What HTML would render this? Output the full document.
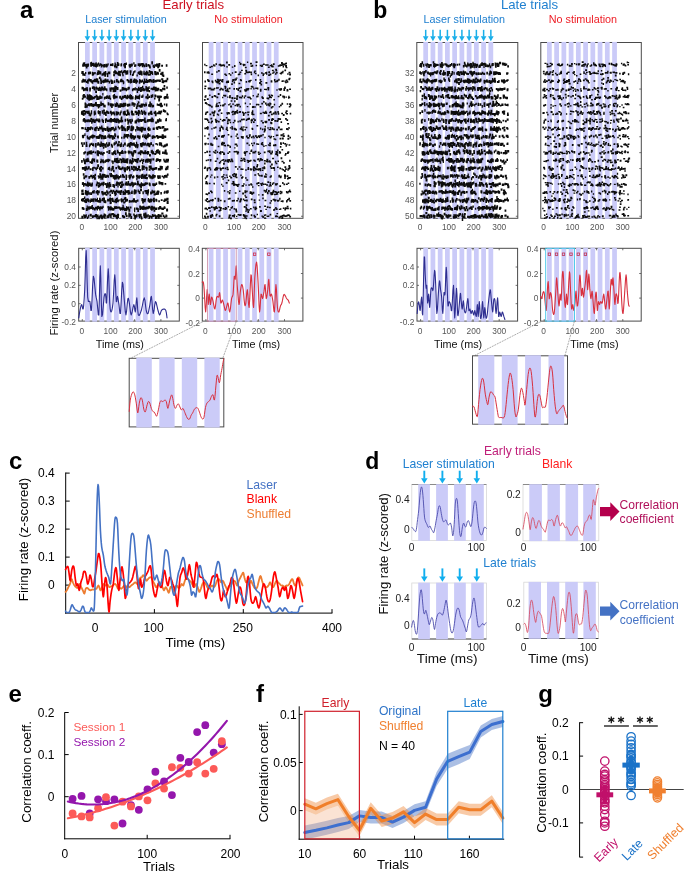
<!DOCTYPE html>
<html><head><meta charset="utf-8"><style>
html,body{margin:0;padding:0;background:#fff;width:685px;height:874px;overflow:hidden}
svg{display:block}
text{font-family:"Liberation Sans",sans-serif}
</style></head><body>
<svg style="will-change:transform" width="685" height="874" viewBox="0 0 685 874">
<rect width="685" height="874" fill="#fff"/>
<g font-family='"Liberation Sans", sans-serif'>
<text x="20" y="17.6" font-size="24" fill="#000" text-anchor="start" font-weight="bold">a</text>
<rect x="78.5" y="42.5" width="101" height="175.8" fill="none" stroke="#4a4a4a" stroke-width="1"/>
<rect x="85" y="41.9" width="4.75" height="177" fill="#cbcbf8"/>
<rect x="92.24" y="41.9" width="4.75" height="177" fill="#cbcbf8"/>
<rect x="99.48" y="41.9" width="4.75" height="177" fill="#cbcbf8"/>
<rect x="106.72" y="41.9" width="4.75" height="177" fill="#cbcbf8"/>
<rect x="113.96" y="41.9" width="4.75" height="177" fill="#cbcbf8"/>
<rect x="121.2" y="41.9" width="4.75" height="177" fill="#cbcbf8"/>
<rect x="128.44" y="41.9" width="4.75" height="177" fill="#cbcbf8"/>
<rect x="135.68" y="41.9" width="4.75" height="177" fill="#cbcbf8"/>
<rect x="142.92" y="41.9" width="4.75" height="177" fill="#cbcbf8"/>
<rect x="150.16" y="41.9" width="4.75" height="177" fill="#cbcbf8"/>
<path d="M116.84 62.09h1.64v2.66h-1.64zM124.19 65.32h1.82v2.93h-1.82zM82.99 64.43h1.7v2.14h-1.7zM91.56 63.02h1.83v2.89h-1.83zM147.69 63.93h1.23v2.36h-1.23zM85.99 63.64h2v2.14h-2zM90.26 62.73h1.49v2.06h-1.49zM149.13 66.23h1.71v2.16h-1.71zM125.65 62.45h1.26v2.61h-1.26zM107.46 63.32h1.23v2.12h-1.23zM117.71 63.21h1.71v2.32h-1.71zM128.6 64.33h1.48v2.13h-1.48zM100.73 64.66h1.52v2.91h-1.52zM90.85 61.78h1.27v2.56h-1.27zM137.6 63.26h1.93v2.7h-1.93zM129.14 65.18h1.85v2.68h-1.85zM117.78 64.06h1.57v2.05h-1.57zM139.67 63.31h1.77v2.8h-1.77zM120.42 63.71h1.41v2.79h-1.41zM151.48 62.08h1.31v2.39h-1.31zM95.63 64.98h1.43v2.61h-1.43zM120.75 63.16h1.39v2.62h-1.39zM115.71 65.89h1.79v2.29h-1.79zM106.33 64.31h1.53v2.55h-1.53zM123.48 64.61h1.61v2.26h-1.61zM97.85 62.54h1.28v2.32h-1.28zM138.62 63.37h1.22v2.15h-1.22zM143.31 64.5h1.83v2.64h-1.83zM90.19 64.37h1.8v2.3h-1.8zM114.52 63.66h1.47v2.75h-1.47zM100.86 63.64h1.32v2.88h-1.32zM86.9 64.5h1.8v2.56h-1.8zM145.37 63.15h1.56v2.57h-1.56zM111.85 63.23h1.64v2.81h-1.64zM91.55 62.88h1.84v2.5h-1.84zM129.36 63.81h1.29v2.88h-1.29zM95.47 62.33h1.27v2.62h-1.27zM145.76 64.25h1.54v2.85h-1.54zM96.54 64.29h1.69v2.41h-1.69zM83.3 64.39h1.6v2.13h-1.6zM95.37 64.28h1.89v2.17h-1.89zM105.79 63.84h1.25v2.46h-1.25zM114.65 64.5h1.24v2.99h-1.24zM146.1 64.36h1.3v2.42h-1.3zM131.08 63.41h1.77v2.54h-1.77zM105.33 63.64h1.4v2.87h-1.4zM82.14 64.19h1.55v2.41h-1.55zM92.42 62.69h1.98v2.08h-1.98zM152.59 64.77h1.49v2.51h-1.49zM113.99 65.18h1.24v2.22h-1.24zM130.63 64.04h1.79v2.61h-1.79zM84.86 64.28h1.24v2.45h-1.24zM83.37 62.26h1.91v2.93h-1.91zM141.77 63.66h1.8v2.37h-1.8zM123.21 63.74h1.66v2.09h-1.66zM103.13 64.46h1.85v2.92h-1.85zM103.75 64.49h1.29v2.9h-1.29zM87.34 63.39h1.74v2.37h-1.74zM93.34 64.21h1.43v2.72h-1.43zM82.69 62.7h1.75v2.5h-1.75zM141.28 62.92h1.97v2.17h-1.97zM114.46 62.56h1.33v2.94h-1.33zM90.07 62.21h1.47v2.17h-1.47zM134.1 64.77h1.52v2.13h-1.52zM95 64.38h1.51v2.58h-1.51zM85.38 63.89h1.92v2.91h-1.92zM123.96 62.9h1.84v2.48h-1.84zM145.35 64.34h1.52v2.4h-1.52zM82.86 63.6h1.84v2.25h-1.84zM138.83 64.12h1.57v2.72h-1.57zM94.6 63.36h1.49v2.66h-1.49zM87.61 63.53h1.21v2.59h-1.21zM82.22 64.39h1.89v2.42h-1.89zM102 64.52h1.21v2.03h-1.21zM133.22 62.35h1.38v2.07h-1.38zM116.4 63.99h1.5v2.34h-1.5zM142.27 63.31h1.91v2.37h-1.91zM96.55 63.43h1.66v2h-1.66zM103.59 63.96h1.45v2.39h-1.45zM99.49 63.13h1.64v2.62h-1.64zM151.29 61.2h1.73v2.44h-1.73zM148.61 64.45h1.91v2.75h-1.91zM105.43 64.67h1.86v2.92h-1.86zM112.28 64.06h1.21v2.2h-1.21zM103.53 64.52h1.75v2.44h-1.75zM134.62 64.36h1.81v2.07h-1.81zM83.8 63.51h1.24v2.25h-1.24zM85.78 66.05h1.75v2.41h-1.75zM109.99 63.85h1.86v2.27h-1.86zM98.55 64.56h1.4v2.02h-1.4zM141.72 64.25h1.3v2.97h-1.3zM155.87 64.3h1.94v2.51h-1.94zM157.19 64.33h1.7v2.37h-1.7zM161.15 64.73h1.89v1.94h-1.89zM157.22 65.76h2.01v2.37h-2.01zM158.23 64.52h2.02v2.14h-2.02zM154.33 64.14h2.11v2.36h-2.11zM158.37 62.88h1.95v2.11h-1.95zM153.21 65.71h1.86v2.19h-1.86zM156.02 63.42h2.15v2.48h-2.15zM165.74 64.29h1.7v2.54h-1.7zM156.83 64.7h2.04v1.87h-2.04zM118.06 70.78h1.75v2.67h-1.75zM139.1 72.04h1.71v2.92h-1.71zM144.05 72.63h1.98v2.51h-1.98zM91.91 72.74h1.31v2.9h-1.31zM125.31 72.46h1.9v2.32h-1.9zM126.18 70.59h1.77v2.62h-1.77zM91.82 71.71h1.28v2.55h-1.28zM140.88 73.27h1.75v2.31h-1.75zM120.73 70.35h1.56v2.48h-1.56zM150.1 71.08h1.7v2.27h-1.7zM94.33 72.07h1.43v2.11h-1.43zM118.68 71.16h1.95v2.16h-1.95zM104.19 72.32h1.94v2.35h-1.94zM127.14 70.35h1.24v2.89h-1.24zM124.66 70.43h1.34v2.74h-1.34zM117.78 72.88h1.97v2.75h-1.97zM104.29 71.66h1.99v2.55h-1.99zM117.17 72.29h1.88v2.4h-1.88zM107.7 71.52h1.6v2.03h-1.6zM144.99 72.33h1.41v2.6h-1.41zM114.12 70.23h1.95v2.64h-1.95zM115.11 71.18h1.67v2.08h-1.67zM99.52 71.13h1.81v2.2h-1.81zM99.18 72.38h1.57v2.01h-1.57zM149.53 73.39h1.55v2.07h-1.55zM103.51 71.72h1.45v2.35h-1.45zM143.38 70.78h1.33v2.44h-1.33zM123.7 70.07h1.96v2.11h-1.96zM151.45 71.25h1.35v2.22h-1.35zM92.73 72.3h1.26v2.21h-1.26zM148.65 70.04h1.58v2.65h-1.58zM136.48 74.39h1.33v2.09h-1.33zM121.78 72.02h1.34v2.48h-1.34zM131.91 73.69h1.77v2.2h-1.77zM132.89 72.28h1.25v2.44h-1.25zM113.18 74.06h1.75v2.08h-1.75zM126.56 71.92h1.75v2.57h-1.75zM97.36 72.32h1.92v2.11h-1.92zM82.46 73.16h1.65v2.57h-1.65zM129.58 70.28h1.98v2.59h-1.98zM115.05 72.23h1.76v2.13h-1.76zM146.06 70.69h1.44v2.36h-1.44zM99.92 71.6h1.21v2.85h-1.21zM139.76 70.59h1.8v2.29h-1.8zM151.87 72.38h1.34v2.6h-1.34zM145.52 71.92h1.82v2.93h-1.82zM150.29 71.98h1.76v2.13h-1.76zM92.37 72.24h1.29v2.54h-1.29zM92.8 72.28h1.48v2.35h-1.48zM97.35 70.2h1.58v2.41h-1.58zM106.92 74.17h1.43v2.85h-1.43zM89.23 71.49h1.9v2.87h-1.9zM91.76 72.82h1.42v2.7h-1.42zM82.25 73.08h1.96v2.37h-1.96zM148.05 73.49h1.77v2.21h-1.77zM106.9 72.94h1.46v2.11h-1.46zM125.95 70.64h1.56v2.63h-1.56zM113.62 71.58h1.87v2.27h-1.87zM134.37 70.13h1.23v2.26h-1.23zM138.91 72.65h1.56v2.35h-1.56zM108.47 71.55h1.88v2.58h-1.88zM119.43 73.41h1.51v2.81h-1.51zM87.94 71.71h1.8v2.91h-1.8zM101.46 73.58h1.55v2.26h-1.55zM96.95 72.1h1.81v2.8h-1.81zM103.12 72.59h1.55v2.88h-1.55zM104.26 74.29h1.85v2.54h-1.85zM122.28 74.16h1.5v2.08h-1.5zM104.86 72.81h1.78v2.03h-1.78zM104.43 72.38h1.82v2.2h-1.82zM140.72 71.31h1.84v2.57h-1.84zM81.8 71.06h1.93v2.75h-1.93zM81.3 71.31h1.47v2.58h-1.47zM85.03 71.94h1.29v2.12h-1.29zM143.18 72.51h1.34v2.25h-1.34zM126.51 71.93h1.66v2.59h-1.66zM133.28 70.9h1.28v2.39h-1.28zM149.81 71.54h1.54v2.08h-1.54zM96.6 72.94h1.28v2.39h-1.28zM147.1 71.64h1.43v2.74h-1.43zM98.37 70.46h1.43v2.47h-1.43zM118.24 71.49h1.56v2.58h-1.56zM129.91 72.49h1.24v2.8h-1.24zM138.27 71.18h1.66v2.05h-1.66zM98.77 72h1.42v2.55h-1.42zM115.23 71.59h1.93v2.6h-1.93zM84.2 73.43h1.39v2.66h-1.39zM101.63 73.17h1.61v2.63h-1.61zM151.48 71.25h1.47v2.64h-1.47zM146.02 73.12h1.58v2.45h-1.58zM122.79 70.69h1.65v2.67h-1.65zM137.49 72.12h1.44v2.06h-1.44zM145.82 71h1.27v2.23h-1.27zM104.79 71.06h1.56v2.03h-1.56zM151.45 71.18h1.38v2.61h-1.38zM113.19 71.14h1.68v2.35h-1.68zM92.35 73.02h1.58v2.59h-1.58zM119.05 71.02h1.75v2.27h-1.75zM154.15 70.88h2.15v1.87h-2.15zM156.44 71.65h1.75v2.29h-1.75zM157.48 72.29h1.5v2.25h-1.5zM161.46 71.81h2.09v2.44h-2.09zM158.72 69.09h1.82v2.58h-1.82zM157.26 72.56h1.64v2.13h-1.64zM154.24 72.58h1.98v2.14h-1.98zM161.31 72.16h1.92v2.13h-1.92zM154.41 70.95h1.9v2.16h-1.9zM160.18 72.69h1.62v2.22h-1.62zM162.61 74.46h1.71v2.55h-1.71zM161.68 74h1.6v2.22h-1.6zM155.11 73.02h2.09v2.34h-2.09zM135.35 81.15h1.46v2.52h-1.46zM129.84 80.64h1.36v2.77h-1.36zM111.71 81.29h1.75v2.36h-1.75zM91.67 81.04h1.72v2.68h-1.72zM133.58 78.41h1.8v2.35h-1.8zM126.54 79.08h1.88v2.12h-1.88zM150.54 79.48h1.81v2.97h-1.81zM104.01 79.57h1.55v2.83h-1.55zM143.98 80.02h1.25v2.58h-1.25zM96.64 80.17h1.86v2.23h-1.86zM148.98 78.94h1.99v2.3h-1.99zM152.55 80.01h1.69v3h-1.69zM84.32 79.28h1.75v2.41h-1.75zM104.27 80.23h1.41v2.47h-1.41zM152.73 78.97h1.51v2.51h-1.51zM150.57 79.75h1.88v2.56h-1.88zM129.16 80.14h1.97v2.17h-1.97zM90.6 80.49h1.93v2.27h-1.93zM81.4 80.33h1.51v2.34h-1.51zM98.85 76.68h1.88v2.29h-1.88zM148.85 79.57h1.37v2.95h-1.37zM138.82 81.07h1.49v2.78h-1.49zM111.74 80.56h1.61v2.81h-1.61zM135.68 79.68h1.48v2.58h-1.48zM145.82 78.64h1.42v2.19h-1.42zM102.5 79.65h1.87v2.79h-1.87zM143.82 78.55h1.48v2.72h-1.48zM100.31 81.27h1.65v2.73h-1.65zM104.57 78.52h1.83v2.82h-1.83zM84.14 80.59h1.39v2.03h-1.39zM92.45 80.12h1.71v2h-1.71zM120.55 79.88h1.95v2.03h-1.95zM82.65 80.11h1.25v2.44h-1.25zM120.18 79.95h1.9v2.07h-1.9zM93.15 79.83h1.95v2.02h-1.95zM134.78 80h1.52v2h-1.52zM90.13 79.35h1.68v2.62h-1.68zM95.81 78.21h1.72v2.61h-1.72zM100.27 80.19h1.72v2.58h-1.72zM122.84 81.24h1.54v2.24h-1.54zM139.08 79.01h1.42v2.16h-1.42zM135.1 79.13h1.81v2.85h-1.81zM134.24 79.15h1.53v2.48h-1.53zM129.96 80.17h1.68v2.95h-1.68zM120.01 80.32h1.81v2.02h-1.81zM105.57 79.8h1.96v2.25h-1.96zM93.86 79.6h1.93v2.65h-1.93zM143.05 81.3h1.76v2.98h-1.76zM110.36 79.42h1.35v2.14h-1.35zM127.69 79.96h1.32v2.76h-1.32zM85.84 81.02h1.31v2.07h-1.31zM106.88 79.29h1.75v2.77h-1.75zM88.15 78.47h1.71v2.92h-1.71zM106.42 79.77h1.29v2.71h-1.29zM133.66 80.02h1.93v2.42h-1.93zM105.46 79.77h1.58v2.37h-1.58zM129.99 80.07h1.84v2.65h-1.84zM89.78 78.99h1.72v2.14h-1.72zM108.61 80.71h1.52v2.85h-1.52zM110.42 79.55h1.83v2.62h-1.83zM117.54 80.45h2v2.71h-2zM97.35 81.08h1.98v2.74h-1.98zM131.18 80.93h1.26v2.04h-1.26zM144.39 80.53h1.39v2.31h-1.39zM139.37 79.96h1.71v2.03h-1.71zM83.15 79.3h1.44v2.74h-1.44zM116.03 79.61h1.75v2.42h-1.75zM105.67 80.61h1.4v2.01h-1.4zM122.13 80.14h1.7v2.06h-1.7zM86.92 80.84h1.67v2.29h-1.67zM133.4 80.19h1.39v2.14h-1.39zM110.9 80.39h1.47v2.88h-1.47zM148.82 79.53h1.3v2.39h-1.3zM82.3 78.87h1.76v2.85h-1.76zM110.97 81.68h1.6v2.24h-1.6zM115.93 79.08h1.8v2.98h-1.8zM140.7 80.4h1.63v2.31h-1.63zM135.33 81.43h1.68v2.16h-1.68zM94.02 78.78h1.8v2.14h-1.8zM103.06 80.48h1.37v2.76h-1.37zM133.85 79.43h1.75v2.65h-1.75zM111.11 80.07h1.37v2.83h-1.37zM99.84 78.4h1.82v2.47h-1.82zM147.86 79.56h1.77v2.34h-1.77zM141.57 79.5h1.56v2.74h-1.56zM106.49 79.47h1.96v2.41h-1.96zM120.45 78.76h2v2.52h-2zM147.76 80.28h1.76v2.25h-1.76zM96.5 78.56h1.8v2.65h-1.8zM146.31 80.12h1.85v2.92h-1.85zM144.54 80.93h1.93v2.09h-1.93zM133.18 80.56h1.89v2.48h-1.89zM130.27 78.69h1.63v2.24h-1.63zM130.2 78.78h1.95v2.83h-1.95zM120.07 79.59h1.8v2.67h-1.8zM122.81 82.02h1.3v2.29h-1.3zM95.12 80.02h1.67v2.3h-1.67zM121.39 80.03h1.47v2.19h-1.47zM129.33 80.51h1.38v2.39h-1.38zM115.85 80.11h1.4v2.49h-1.4zM129.78 78.76h1.24v2.95h-1.24zM113.88 80.14h1.32v2.98h-1.32zM138.72 80.46h1.78v2.48h-1.78zM132.78 79.81h1.5v2.48h-1.5zM87.33 81.32h1.4v2.42h-1.4zM136.26 80.33h1.75v2.2h-1.75zM101.41 80.64h1.87v2.07h-1.87zM86.78 79.48h1.64v2.98h-1.64zM155.54 79.77h1.68v1.84h-1.68zM165.43 79.71h1.84v2.42h-1.84zM154.7 80.05h1.78v1.99h-1.78zM155.28 80.08h1.58v1.96h-1.58zM162.12 79.96h1.73v1.89h-1.73zM155.2 80.07h1.77v1.82h-1.77zM161.16 78.23h2.16v2.01h-2.16zM162.42 80.91h1.76v2.34h-1.76zM154.63 80.41h1.99v2.15h-1.99zM164.05 80.19h2.04v2.15h-2.04zM158.85 79.62h2.01v2.35h-2.01zM166.56 77.86h1.71v2.31h-1.71zM153.01 79h1.49v2h-1.49zM153.96 80.55h1.76v1.98h-1.76zM161.64 80.81h1.74v2.11h-1.74zM156.5 79.45h2.04v2.42h-2.04zM158.56 79.55h1.99v2.04h-1.99zM82.88 88.19h1.77v2.12h-1.77zM145.45 88.09h1.7v2.75h-1.7zM111.09 87.2h1.68v2.65h-1.68zM105.21 88.27h1.56v2.33h-1.56zM115.06 86.53h1.61v2.72h-1.61zM109.68 88.99h1.92v2.86h-1.92zM142.81 88.41h1.73v2.37h-1.73zM138.9 87.98h1.58v2.84h-1.58zM134.63 87.24h1.28v2.2h-1.28zM97.66 88.8h1.97v2.08h-1.97zM112.56 89.53h1.76v2.62h-1.76zM86.32 86.88h1.36v2.49h-1.36zM134.33 88.21h1.51v2.4h-1.51zM83.96 88.42h1.84v2.45h-1.84zM109.4 87.58h1.72v2.85h-1.72zM91.79 86.44h1.47v2.61h-1.47zM142.21 87.89h1.87v2.79h-1.87zM146.99 87.32h1.86v2.51h-1.86zM101.75 87.16h1.33v2.71h-1.33zM143.67 88.4h1.65v2h-1.65zM93.73 87.88h1.69v2.63h-1.69zM132.07 88.52h1.4v2.65h-1.4zM98.95 87.4h1.67v2.38h-1.67zM112.97 87.42h1.65v2.05h-1.65zM124.87 87.77h1.48v2.28h-1.48zM106.18 88.47h1.28v2.88h-1.28zM95.16 90.4h1.86v2.57h-1.86zM123.21 88.05h1.46v2.47h-1.46zM138.03 86.73h1.54v2.93h-1.54zM152.55 87.37h1.64v2.54h-1.64zM104.11 87.63h1.69v2.45h-1.69zM99.45 87.74h1.28v2.44h-1.28zM86.42 87.24h1.38v2.28h-1.38zM95.65 87.49h1.31v2.2h-1.31zM82.79 87.14h1.3v2.3h-1.3zM98.88 87.98h1.53v2.82h-1.53zM133.14 88.1h1.22v2.22h-1.22zM89.17 87.42h1.46v2.4h-1.46zM127.41 87.3h1.29v2.97h-1.29zM102.14 88.28h1.7v2h-1.7zM97.39 87.84h1.86v2.39h-1.86zM115.71 86.17h1.31v2.08h-1.31zM112.3 87.63h1.85v2.06h-1.85zM113.06 87.33h1.52v2.4h-1.52zM89.38 87.49h1.63v2.2h-1.63zM121.53 88.49h1.61v2.35h-1.61zM145.81 88.53h1.76v2.16h-1.76zM81.59 86.71h1.66v2.34h-1.66zM86.75 89.09h1.25v2.24h-1.25zM123.07 87.26h1.48v2.99h-1.48zM103.84 86.15h1.35v2.37h-1.35zM99.04 86.73h1.27v2.47h-1.27zM151.98 87.9h1.93v2.43h-1.93zM103.09 88.57h1.74v2.17h-1.74zM147.16 89.37h1.56v2.16h-1.56zM125.29 88.39h2v2.09h-2zM83.1 88.23h1.49v2.08h-1.49zM100.05 88.91h1.73v2.4h-1.73zM86.37 88.41h1.77v2.42h-1.77zM119.62 89.5h1.79v2.17h-1.79zM146.26 89.08h1.93v2.69h-1.93zM84.71 87.97h1.99v2.8h-1.99zM82.94 88.37h1.65v2.77h-1.65zM83.03 87.89h1.26v2.06h-1.26zM100.56 87.51h1.85v2.22h-1.85zM92.88 86.34h1.86v2.13h-1.86zM150.57 87.82h1.41v2.05h-1.41zM136.67 90.7h1.46v2.41h-1.46zM148.48 86.14h1.25v2.84h-1.25zM122.63 87.65h1.43v2.72h-1.43zM139.98 89.63h1.61v2.33h-1.61zM131.91 88.53h1.45v2.46h-1.45zM101.94 87.87h1.21v2.51h-1.21zM127.87 86.68h2v2.8h-2zM101.73 87.52h1.72v2.67h-1.72zM114.32 85.79h1.99v2.34h-1.99zM140.1 87.09h1.82v2.22h-1.82zM96.8 87.45h1.92v2.02h-1.92zM93.5 87.83h1.93v2.17h-1.93zM142.17 87.83h1.43v2.27h-1.43zM114.24 89.34h1.91v2.76h-1.91zM93.43 87.04h1.99v2.57h-1.99zM103.79 86.34h1.78v2.05h-1.78zM101.1 86.4h1.87v2.88h-1.87zM145.39 86.03h1.23v2.87h-1.23zM114.93 87.01h1.36v2.21h-1.36zM147.11 89.25h1.85v2.07h-1.85zM114.75 87.8h1.21v2.72h-1.21zM148.49 90.04h1.61v2.18h-1.61zM146.85 87.4h1.32v2.47h-1.32zM121.75 87.11h1.56v2.22h-1.56zM137.48 88.8h1.95v2.13h-1.95zM101.58 87.45h1.93v2.89h-1.93zM89.23 88.58h1.58v2.95h-1.58zM124.38 88.06h1.21v2.44h-1.21zM84.89 87.82h1.64v2.89h-1.64zM114.55 88.96h1.88v2.52h-1.88zM125.52 88.28h1.53v2.3h-1.53zM136.13 88.1h1.42v2.45h-1.42zM145.42 86.58h1.86v2.17h-1.86zM95.6 86.51h1.63v2.82h-1.63zM143.17 88.46h1.7v2.67h-1.7zM116.62 87.1h1.85v2.84h-1.85zM125.72 88.82h1.29v2.43h-1.29zM114.15 87.69h1.35v2.3h-1.35zM141.9 85.81h1.48v2.43h-1.48zM102.5 87.9h1.35v2.57h-1.35zM81.51 86.91h1.95v2.62h-1.95zM140.57 88.9h1.89v2.49h-1.89zM153.08 86.46h1.89v2.17h-1.89zM155.87 88.71h2.2v2.26h-2.2zM154.54 89.69h2.04v1.87h-2.04zM163.31 87.79h2.11v2.42h-2.11zM154.8 86.79h1.86v2.44h-1.86zM161.99 87.79h2.08v1.93h-2.08zM157.42 87.74h1.85v2.43h-1.85zM159.66 88.89h1.61v2.37h-1.61zM163.58 85.09h1.69v2.17h-1.69zM157.08 87.69h1.74v2.25h-1.74zM155.28 87.87h2.17v2.17h-2.17zM156.93 88.31h1.42v1.95h-1.42zM166.23 86.52h1.57v2.22h-1.57zM160.69 89.34h1.86v2.46h-1.86zM156.92 89.14h1.59v2.2h-1.59zM154.92 87.41h1.51v2.26h-1.51zM153.82 87.71h2.12v2.26h-2.12zM105.8 96.12h1.55v2.89h-1.55zM108.05 96.51h1.79v2.6h-1.79zM142.31 94.53h1.25v2.97h-1.25zM125.18 95.97h1.34v2.52h-1.34zM146.7 96.84h1.34v2.29h-1.34zM99.08 96.25h1.46v2.45h-1.46zM89.17 96.8h1.66v2.7h-1.66zM129.64 94.2h1.39v2.37h-1.39zM89.92 96.24h1.98v2.77h-1.98zM86.39 96.77h1.25v2.33h-1.25zM109.01 95.44h1.42v2.79h-1.42zM130.3 95.76h1.3v2.6h-1.3zM106.84 96.09h1.36v2.33h-1.36zM135.09 95.75h1.22v2.68h-1.22zM113.67 94.92h1.69v2.63h-1.69zM101.42 96.35h1.23v2.04h-1.23zM119.35 95.85h1.59v2.02h-1.59zM124.4 95.71h1.82v2.32h-1.82zM91.71 97.58h1.36v2.27h-1.36zM123.47 95.59h1.36v2.41h-1.36zM93.05 96.97h1.77v2.32h-1.77zM150.56 95.33h1.38v2.68h-1.38zM119.16 96.14h1.35v2.06h-1.35zM95.7 94.73h1.8v2.46h-1.8zM83.98 95.51h1.98v2.19h-1.98zM96.36 95.97h1.98v2.31h-1.98zM103.82 96.95h1.57v2.54h-1.57zM122.17 96.42h1.66v2.3h-1.66zM128.65 96.16h1.47v2.47h-1.47zM132.11 96.31h1.44v2.88h-1.44zM112.65 94.96h1.3v2.67h-1.3zM126.25 96.98h1.61v2.39h-1.61zM120.74 97.44h1.79v2.57h-1.79zM102.25 93.04h1.2v2.58h-1.2zM96.68 96.34h1.55v2.72h-1.55zM109.64 97.74h1.52v2.13h-1.52zM130.53 94.9h1.55v2.04h-1.55zM90.6 95.32h1.52v2.53h-1.52zM126.67 94.8h1.7v2.82h-1.7zM82.42 94.84h1.25v2.15h-1.25zM94.14 96.03h1.63v2.14h-1.63zM129.1 95.12h1.87v2.68h-1.87zM139.05 94.51h1.31v2.99h-1.31zM136.11 95.93h1.48v2.23h-1.48zM130.09 94.99h1.71v2.55h-1.71zM99.2 95.53h1.77v2.47h-1.77zM151.98 94.68h1.32v2.82h-1.32zM124.15 94.89h1.93v2.92h-1.93zM146.39 95.7h1.33v2.22h-1.33zM148.28 95.71h1.76v2.36h-1.76zM98.09 97.6h1.47v2.33h-1.47zM150.68 94.78h1.9v2.53h-1.9zM86.77 94.23h1.34v2.72h-1.34zM126.77 95.52h1.99v2.57h-1.99zM99.39 96.49h1.74v2.55h-1.74zM87.69 95.39h1.36v2.15h-1.36zM121.88 95.8h1.51v2.95h-1.51zM96.21 97.08h1.8v2.89h-1.8zM137.49 95.46h1.99v2.91h-1.99zM114.13 96.37h1.5v2.31h-1.5zM100.33 96.26h1.95v2.39h-1.95zM81.77 97.7h1.68v2.06h-1.68zM130.7 97.24h1.82v2.32h-1.82zM126.7 96.28h1.27v2.47h-1.27zM138.84 96.71h1.21v2.89h-1.21zM108.49 95.28h1.42v2.9h-1.42zM146.73 96.68h1.98v2.46h-1.98zM82.62 95.73h1.73v2.89h-1.73zM147.01 93.63h1.47v2.41h-1.47zM135.93 95.99h1.87v2.46h-1.87zM88.29 98.03h1.71v2.81h-1.71zM151.93 94.13h1.47v2.29h-1.47zM87.38 95.32h1.63v2.81h-1.63zM134.95 95.36h1.68v2.84h-1.68zM98.5 96.16h1.5v2.47h-1.5zM130.62 96.27h1.7v2.08h-1.7zM141.13 95.61h1.64v2.28h-1.64zM89.41 95.1h1.52v2.77h-1.52zM104.27 96.43h1.64v2.19h-1.64zM145.31 96.31h1.46v2.14h-1.46zM115.27 95.7h1.56v2.35h-1.56zM91.94 96.27h1.38v2.44h-1.38zM87.17 97.4h1.69v2.42h-1.69zM89.77 97.24h1.89v2.96h-1.89zM88.53 94.31h1.97v2.94h-1.97zM106.59 95.36h1.31v2.64h-1.31zM136.78 96.33h1.76v2.27h-1.76zM113.5 93.95h1.48v3h-1.48zM88 95.88h1.58v2.68h-1.58zM106.29 95.52h1.53v2.66h-1.53zM115.72 95.74h1.93v2.55h-1.93zM113.16 96.58h1.43v2.61h-1.43zM127.05 95.49h1.27v2.79h-1.27zM129.88 96.46h1.65v2.92h-1.65zM134.71 97.06h1.49v2.81h-1.49zM119.47 95.71h1.75v2.99h-1.75zM83.08 93.96h1.82v2.82h-1.82zM136.28 96.59h1.23v2.08h-1.23zM137.25 96.49h1.97v2.45h-1.97zM165.94 95.81h1.42v1.9h-1.42zM157.01 95.48h2.2v1.84h-2.2zM154.86 95.21h1.75v1.94h-1.75zM158.61 97.68h1.59v2.52h-1.59zM164.82 96.1h1.97v2.39h-1.97zM166.56 96.15h2.05v2.5h-2.05zM160.48 95.71h1.47v2.16h-1.47zM158.24 98.87h1.87v2.55h-1.87zM164.01 96.26h1.53v1.89h-1.53zM158.88 95.45h1.99v2.45h-1.99zM157.13 95.67h1.77v2.5h-1.77zM163.57 96.74h1.95v1.8h-1.95zM154.03 97.43h1.47v1.97h-1.47zM163.86 97.48h1.86v1.86h-1.86zM166.37 93.82h1.72v1.97h-1.72zM154.31 94.62h1.93v2.07h-1.93zM116.16 104.2h1.42v2.64h-1.42zM136.42 104.58h1.75v2.36h-1.75zM117.76 104.78h1.73v2.85h-1.73zM103.2 104.55h1.31v2.8h-1.31zM89.04 103.34h1.75v2.1h-1.75zM97.02 103.88h1.5v2.89h-1.5zM137.76 101.23h1.2v2.32h-1.2zM92.4 104.01h1.78v2.85h-1.78zM151.48 105.5h1.68v2.07h-1.68zM133.38 102.83h1.24v2.63h-1.24zM109.92 103.83h1.68v2.6h-1.68zM94.51 103.41h1.46v2.56h-1.46zM114.41 103.25h1.36v2.7h-1.36zM149.43 103.53h1.5v2.18h-1.5zM89.48 103.41h1.36v2.06h-1.36zM98.45 104.2h1.51v2.73h-1.51zM86.45 104.19h1.71v2.04h-1.71zM132.99 102.6h1.22v2.91h-1.22zM149.32 101.54h1.58v2.07h-1.58zM120.97 103.26h1.41v2.47h-1.41zM102.33 103.16h1.83v2.39h-1.83zM150.25 103.29h1.99v2.26h-1.99zM123.15 103.15h1.7v2.87h-1.7zM149.98 104.16h1.24v2.68h-1.24zM107.76 103.12h1.41v2.27h-1.41zM91.4 104.13h1.22v2.24h-1.22zM85.95 105.49h1.82v2.31h-1.82zM100.13 103.22h1.79v2.69h-1.79zM112.09 103.67h1.78v2.62h-1.78zM135.84 106.39h1.66v2.5h-1.66zM114.65 104.77h1.96v2.34h-1.96zM100.29 101.61h1.49v2.6h-1.49zM145.69 103.95h1.32v2.21h-1.32zM122.42 105.16h1.77v2.13h-1.77zM124.28 103.67h1.42v2.11h-1.42zM139.91 104.98h1.43v2.56h-1.43zM129.18 103.7h1.26v2.04h-1.26zM98.3 104.02h1.7v2.49h-1.7zM149.45 104.86h1.47v2.51h-1.47zM92.53 104.25h1.66v2.84h-1.66zM92.45 104.04h1.94v2.51h-1.94zM127.6 104.23h1.97v2.06h-1.97zM122.83 102.72h1.39v2.62h-1.39zM97.41 103.93h1.57v2.65h-1.57zM131.44 103.22h1.35v2.43h-1.35zM88.07 103.2h1.59v2.76h-1.59zM115.1 103.79h1.64v2.5h-1.64zM149.04 103.81h1.87v2.35h-1.87zM145.36 102.58h1.26v2.44h-1.26zM124.35 102.72h1.88v2.66h-1.88zM137.98 101.47h1.5v2.13h-1.5zM128.62 103.42h1.91v2.89h-1.91zM97.7 106.05h1.41v2.46h-1.41zM142.67 103.41h1.54v2.06h-1.54zM124.88 103.69h1.27v2.24h-1.27zM123.78 104.02h1.69v2.8h-1.69zM149.48 103.16h1.73v2.25h-1.73zM121.14 104.9h1.3v2.02h-1.3zM104.36 104.79h1.33v2.69h-1.33zM111.3 103.14h1.23v2.78h-1.23zM120.89 103.8h1.77v2.96h-1.77zM143.65 104.04h1.94v2.67h-1.94zM141.51 103.58h1.84v2.12h-1.84zM109.52 103.23h1.69v2.32h-1.69zM116.06 102.32h1.24v2.13h-1.24zM84.52 102.6h1.47v2.83h-1.47zM126.88 103.67h1.86v2.97h-1.86zM138.65 104.7h1.96v2.66h-1.96zM95.14 103.98h1.87v2.12h-1.87zM126.65 103.72h1.39v2.38h-1.39zM91 103.92h1.5v2.57h-1.5zM141.27 104.49h1.62v2.89h-1.62zM133.46 104.35h1.29v2.73h-1.29zM148.14 104.28h1.93v2.39h-1.93zM101.35 103.04h1.65v2.47h-1.65zM93.17 103.64h1.53v2.69h-1.53zM121.98 103.84h1.9v2.47h-1.9zM85.09 102.92h1.33v2.41h-1.33zM139.97 105.08h1.85v2.59h-1.85zM95.63 103.84h1.44v2.54h-1.44zM90.51 103.09h1.77v2.64h-1.77zM91.57 103.8h1.66v2.25h-1.66zM131.52 102.2h1.81v2.65h-1.81zM84.48 105.72h1.8v2.25h-1.8zM111.25 104.24h1.54v2.34h-1.54zM93.98 103.7h1.5v2.05h-1.5zM137.07 103.05h1.49v2.59h-1.49zM84.82 104.15h1.34v2.23h-1.34zM95.05 102h1.81v2.49h-1.81zM136.43 104.18h1.95v2.87h-1.95zM118.02 104.59h1.21v2.49h-1.21zM89.21 104.15h1.5v2.4h-1.5zM152.13 104.82h1.93v2.39h-1.93zM107.62 102.19h1.66v2.89h-1.66zM111.1 105.74h1.61v2.38h-1.61zM134.26 103.33h1.45v2.26h-1.45zM116.33 103.03h1.86v2.7h-1.86zM140.6 103.61h1.95v2.06h-1.95zM119.46 103.19h1.7v2.13h-1.7zM98.6 104.68h1.75v2.76h-1.75zM119.46 104.74h1.66v2.91h-1.66zM158.14 103.96h1.49v1.97h-1.49zM165.91 103.39h1.55v2.27h-1.55zM160.04 102.7h1.94v2.5h-1.94zM163.84 103.53h1.44v2h-1.44zM156.7 103.51h1.41v2.34h-1.41zM159.6 102.8h1.74v1.92h-1.74zM160.74 104.74h2.11v2.28h-2.11zM160.16 105.27h2.1v1.89h-2.1zM165.94 103.95h1.46v2.43h-1.46zM159.33 103.81h1.63v2.45h-1.63zM97.49 110.81h1.59v2.55h-1.59zM150.39 110.69h1.78v2.87h-1.78zM105.07 113.35h1.71v2.58h-1.71zM131.87 113.21h1.81v2.2h-1.81zM119.53 111.67h1.47v2.52h-1.47zM106.06 110.42h1.49v2.6h-1.49zM124.18 110.73h1.56v2.97h-1.56zM80.95 111.78h1.21v2.86h-1.21zM117.01 111.86h1.97v2.12h-1.97zM116.84 112.4h1.72v2.62h-1.72zM126.53 109.46h1.97v2.84h-1.97zM135.97 111.31h1.5v2.39h-1.5zM144.23 112.88h1.34v2.23h-1.34zM138.6 110.88h1.82v2.91h-1.82zM143.62 111.48h1.45v2.18h-1.45zM107.93 111.73h1.44v2.32h-1.44zM88.53 112.76h1.82v2.93h-1.82zM127.71 111.62h1.59v2.79h-1.59zM84.17 112.81h1.48v2.06h-1.48zM149.58 111.62h1.77v2.4h-1.77zM115.6 112.98h1.77v2.57h-1.77zM99.38 112.73h1.26v2.96h-1.26zM83.16 113.32h1.33v2.77h-1.33zM141.56 112.31h1.52v2.59h-1.52zM140.9 109.75h1.48v2.33h-1.48zM90.56 112.51h1.62v2.03h-1.62zM136.46 111.91h1.51v2.36h-1.51zM87.2 110.94h1.86v2.95h-1.86zM130.97 110.62h1.59v2.56h-1.59zM119.25 113.55h1.61v2.04h-1.61zM127.03 112.37h1.84v2.75h-1.84zM90.79 110.19h1.36v2.57h-1.36zM137.94 113.25h1.24v2.65h-1.24zM137.53 112.03h1.4v2.44h-1.4zM141.45 111.27h1.8v2.1h-1.8zM109.89 110.81h1.73v2.83h-1.73zM99.55 110.98h1.3v2.81h-1.3zM120.47 110.41h1.22v2.92h-1.22zM131.17 112.97h1.68v2.39h-1.68zM135.62 112.22h1.68v2.89h-1.68zM113.21 111.76h1.64v2.64h-1.64zM124.72 112.75h1.21v2.37h-1.21zM127.4 111.49h1.45v2.91h-1.45zM123.47 112.8h1.49v2.82h-1.49zM132.55 113.4h1.26v2.22h-1.26zM103.18 109.56h1.74v2.12h-1.74zM97.82 111.39h1.38v2.96h-1.38zM101.7 110.83h1.31v2.83h-1.31zM137.87 110.11h1.82v2.54h-1.82zM150.59 111.57h1.43v2.97h-1.43zM103.79 112.05h1.5v2.16h-1.5zM127.99 112.42h1.22v2.29h-1.22zM122.73 111.55h1.26v2.92h-1.26zM144.25 111.78h1.63v2.41h-1.63zM82 112.84h1.33v2.41h-1.33zM125.66 113.75h1.88v2.24h-1.88zM143.48 110.39h1.73v2.16h-1.73zM150.33 111.71h1.22v2.96h-1.22zM110.87 112.78h1.25v2.66h-1.25zM115.56 111.27h1.96v2.66h-1.96zM141.32 111.39h1.72v2.73h-1.72zM148.15 112.84h1.54v2.78h-1.54zM97.9 110.26h1.25v2.91h-1.25zM144.79 111.75h1.65v2.39h-1.65zM89.55 114.22h1.82v2.18h-1.82zM84.62 111.82h1.45v2.57h-1.45zM83.28 109.91h1.88v2.42h-1.88zM86.33 110.82h1.95v2.58h-1.95zM87.84 111.38h1.91v2.23h-1.91zM97.81 110.95h1.92v2.76h-1.92zM101.64 110.33h1.68v2.38h-1.68zM150.65 112.35h1.48v2.58h-1.48zM138.63 111.19h1.52v2.45h-1.52zM88.37 110.56h1.28v2.89h-1.28zM94.8 112.41h1.33v2.37h-1.33zM130.8 111.14h1.31v2.07h-1.31zM124.12 110.88h1.43v2.96h-1.43zM113 111.46h1.67v2.54h-1.67zM111.54 111.76h1.41v2.63h-1.41zM134.57 110.71h1.88v2.29h-1.88zM116.26 112.64h1.89v2.54h-1.89zM132.69 113.3h1.82v2.29h-1.82zM81.75 110.42h1.72v2.29h-1.72zM88.14 111.94h1.59v2.03h-1.59zM94.28 110.55h1.41v2.38h-1.41zM123.53 111.57h1.34v2.64h-1.34zM122.77 111.3h1.8v2.6h-1.8zM143.42 111.6h1.65v2.35h-1.65zM144.71 111.87h1.57v2.75h-1.57zM139.04 111.55h1.41v2.16h-1.41zM104.75 111.85h1.7v2.22h-1.7zM85.17 110.82h1.5v2.01h-1.5zM144.58 113.15h1.29v2.01h-1.29zM147.86 112.42h1.58v2.24h-1.58zM82.69 112.46h1.31v2.36h-1.31zM81.2 110.88h1.45v2.58h-1.45zM93.71 113.27h1.3v2.32h-1.3zM106.87 110.99h1.58v2.71h-1.58zM131.69 111.02h1.38v2.32h-1.38zM113.74 113.11h1.39v2.33h-1.39zM128.47 112.66h1.4v2.93h-1.4zM139.46 112.15h1.22v2.43h-1.22zM93.62 111.3h1.66v2.32h-1.66zM103.22 112.27h1.88v2.49h-1.88zM150.75 112.77h1.84v2.18h-1.84zM154.84 114.44h1.77v1.93h-1.77zM154.72 112.52h2.13v2.09h-2.13zM154.07 111.59h1.65v2.35h-1.65zM163.86 110.04h1.58v2.52h-1.58zM158.26 111.56h2.07v2.49h-2.07zM154.86 110.87h1.41v2.32h-1.41zM160.63 110.55h1.54v2.15h-1.54zM157.05 112.13h1.73v2.22h-1.73zM153.52 111.77h1.7v1.93h-1.7zM158.73 112.32h1.91v1.91h-1.91zM164.56 110.59h1.7v1.99h-1.7zM162.84 109.36h1.62v2.53h-1.62zM166.82 113.38h1.94v1.87h-1.94zM159.58 111.29h1.72v2.49h-1.72zM166.5 112.42h1.52v1.9h-1.52zM158.27 110.75h2.16v2.4h-2.16zM159.79 111.98h1.44v2.57h-1.44zM139.22 119.05h1.29v2.59h-1.29zM114.84 119.89h1.62v2.33h-1.62zM105.29 119.22h1.57v2.39h-1.57zM110.43 118.62h1.79v2.7h-1.79zM86.48 119.59h1.83v2.73h-1.83zM89.32 119.65h1.66v2.39h-1.66zM143.29 119.09h1.7v2.14h-1.7zM113.5 119.28h1.63v2.07h-1.63zM129.26 118.96h1.64v2.25h-1.64zM104.84 118.84h1.96v2.1h-1.96zM115.62 120.09h1.54v2.83h-1.54zM138.07 119.89h1.6v2.63h-1.6zM127.37 120.5h1.73v2.99h-1.73zM109.6 119.03h1.22v2.97h-1.22zM114.09 119.84h1.75v2.58h-1.75zM151.87 120.13h1.94v2.12h-1.94zM83.25 118.02h1.86v2.01h-1.86zM109.82 119.79h1.34v2.42h-1.34zM90.3 117.81h1.96v2.24h-1.96zM88.46 119.46h1.79v2.91h-1.79zM84.76 119.42h1.69v2.59h-1.69zM135.98 119.43h1.7v2.28h-1.7zM113.8 118.91h1.38v2.95h-1.38zM120.41 118.36h1.87v2.39h-1.87zM102.62 120.62h1.37v2.49h-1.37zM109.31 119.28h1.31v2.99h-1.31zM113.43 118.99h1.58v2.09h-1.58zM140.54 119.29h1.86v2.68h-1.86zM87.48 119.26h1.72v2.17h-1.72zM93.84 120.87h1.91v2.01h-1.91zM93.13 120.52h1.41v2.09h-1.41zM114.41 118.61h1.75v2.62h-1.75zM115.25 118.56h1.74v2.29h-1.74zM129.86 120.64h1.26v2.16h-1.26zM152.01 118.71h1.84v2.32h-1.84zM146.88 119.23h1.79v2.97h-1.79zM98.2 118.5h1.67v2.42h-1.67zM110.26 117.9h1.47v2.78h-1.47zM119.09 119.96h1.65v2.46h-1.65zM137.82 119.3h1.89v2.86h-1.89zM117.74 118.79h1.55v2.43h-1.55zM92.4 118.87h1.99v2.5h-1.99zM84.53 119.62h1.66v2.63h-1.66zM105.38 118.19h1.66v2.82h-1.66zM124.57 118.81h1.56v2.91h-1.56zM93.87 119.86h1.44v2.55h-1.44zM113.63 118.09h1.33v2.52h-1.33zM108.51 119.54h1.98v2.11h-1.98zM150 118.77h1.75v2.9h-1.75zM131.26 118.83h1.44v2.68h-1.44zM151.1 119.62h1.9v2.66h-1.9zM118.24 120.81h1.43v2.75h-1.43zM116.28 118.31h1.51v2.72h-1.51zM151.22 117.5h1.66v2.72h-1.66zM110.24 120.15h1.89v2.38h-1.89zM120.72 116.49h1.61v2.92h-1.61zM82.65 118.99h1.67v2.71h-1.67zM93.08 118.73h1.46v2.32h-1.46zM101.56 118.79h1.31v2.81h-1.31zM98.55 120.06h1.71v2.33h-1.71zM112.11 118.98h1.79v2.86h-1.79zM144.88 120.6h1.65v2.28h-1.65zM96 118.57h1.85v2.62h-1.85zM84.34 120.18h1.37v2.49h-1.37zM121.39 119.78h1.81v2.48h-1.81zM107.08 119.79h1.74v2.13h-1.74zM84.28 119.13h1.5v2.56h-1.5zM135.59 119.83h1.31v2.71h-1.31zM148.37 119.11h1.56v2.47h-1.56zM134.53 120.56h1.97v2.92h-1.97zM138.44 119.54h1.27v2.69h-1.27zM135.47 120.97h1.47v2.15h-1.47zM151.32 118.42h1.71v2.39h-1.71zM90.97 120.22h1.94v2.09h-1.94zM144.01 120.1h1.58v2.59h-1.58zM131.38 119.72h1.68v2.11h-1.68zM149.22 119.3h1.27v2.39h-1.27zM141.85 118.9h1.36v2.15h-1.36zM120.64 120.53h1.54v2.06h-1.54zM128.25 119.74h1.42v2.82h-1.42zM98.62 119.48h1.81v2.67h-1.81zM104.99 120.37h1.25v2.65h-1.25zM91.67 119.34h1.43v2.56h-1.43zM109.91 118.2h1.99v2.6h-1.99zM140.36 118.99h1.23v2.17h-1.23zM105.48 118.89h1.64v2.66h-1.64zM144.35 119.31h1.28v2.5h-1.28zM95 119.36h1.53v2.07h-1.53zM127.45 122.51h1.21v2.32h-1.21zM97.77 119.69h1.96v2.63h-1.96zM126.72 118.52h1.73v2.5h-1.73zM137.48 118.25h1.35v2.35h-1.35zM144.1 117.54h1.61v2.14h-1.61zM135.74 120.98h1.33v2.46h-1.33zM91.15 120.91h1.55v2.34h-1.55zM130.22 121.14h1.62v2.68h-1.62zM102.09 119.77h1.94v2.49h-1.94zM117.33 119.77h1.94v2.97h-1.94zM91.09 120.79h1.36v2.91h-1.36zM112.73 119.86h1.62v2.13h-1.62zM155.15 121.42h2.04v2.43h-2.04zM165.13 119.27h1.88v2.06h-1.88zM156.94 119.31h1.7v1.87h-1.7zM159.57 119.43h1.68v1.89h-1.68zM158.91 119.59h1.5v2.11h-1.5zM158.31 119.13h2.17v1.88h-2.17zM158.88 118.37h1.4v2.33h-1.4zM156.82 119.82h1.81v2.02h-1.81zM165.6 118.04h1.43v2.32h-1.43zM160.14 119.24h1.47v2.6h-1.47zM157.01 120.18h2.13v2.58h-2.13zM141.4 127.7h1.94v2.54h-1.94zM121.33 128.4h1.95v2.67h-1.95zM100.53 127.45h1.69v2h-1.69zM130.34 128.45h1.78v2.67h-1.78zM106.74 128.48h1.58v2.72h-1.58zM91.95 127.22h1.38v2.57h-1.38zM136.42 127.11h1.34v2.38h-1.34zM94.62 127h1.48v2.87h-1.48zM148.12 128.48h1.32v2.1h-1.32zM95.21 128.13h1.52v2.63h-1.52zM104.15 127.96h1.62v2.41h-1.62zM138.57 128.13h1.21v2.28h-1.21zM141.06 129.62h1.48v2.77h-1.48zM109.81 128.12h1.76v2.83h-1.76zM124.76 128.9h1.5v2.26h-1.5zM148.81 128.13h1.94v2.7h-1.94zM101.85 129.04h2v2.68h-2zM100.22 126.69h1.87v2.92h-1.87zM88.46 127.28h1.42v2.75h-1.42zM130.47 126.37h1.53v2.87h-1.53zM130.62 127.26h1.6v2.88h-1.6zM89.75 128.06h1.51v2.11h-1.51zM132.69 126.28h1.41v2.99h-1.41zM101.64 127.51h1.45v2.89h-1.45zM117.7 125.68h1.44v2.65h-1.44zM121.33 127.48h1.62v2.53h-1.62zM122.88 126.61h1.73v2.02h-1.73zM120.65 125.76h1.79v2.4h-1.79zM109.65 129.05h1.63v2.46h-1.63zM131.31 129.14h1.22v2h-1.22zM96.05 126.54h1.75v2.18h-1.75zM143.47 127.97h1.94v2.84h-1.94zM108.83 127.7h1.62v2.62h-1.62zM136.52 126.58h1.56v2.88h-1.56zM124.68 128.7h1.41v2.52h-1.41zM113.4 128.13h1.91v3h-1.91zM115.14 126.57h1.29v2.46h-1.29zM118.69 127.3h1.74v2.11h-1.74zM111.03 126.91h1.5v2.61h-1.5zM121.31 124.91h1.45v2.19h-1.45zM115.2 127.98h1.45v2.2h-1.45zM141.59 128.25h1.51v2.29h-1.51zM99.73 126.88h1.62v2.34h-1.62zM135.06 128.99h1.45v2.47h-1.45zM110.53 127.39h1.25v2.93h-1.25zM142.17 126.75h1.54v2.2h-1.54zM140.48 127.03h1.68v2.62h-1.68zM86.33 128.98h1.48v2.93h-1.48zM147.62 126.79h1.98v2.97h-1.98zM139.35 128.26h1.6v2.89h-1.6zM128.08 127.45h1.28v2.5h-1.28zM94.73 129h1.88v2.27h-1.88zM140.8 129.08h1.46v2.72h-1.46zM123.47 127.8h1.55v2.87h-1.55zM97.6 128.02h1.93v2.92h-1.93zM126.94 125.89h1.39v2.94h-1.39zM89.55 127.07h1.48v2.06h-1.48zM131.21 126.18h1.23v2.63h-1.23zM94.79 128h1.43v2.22h-1.43zM102.92 127.72h1.92v2.01h-1.92zM82.58 127.19h1.26v2.04h-1.26zM107.78 129.42h1.45v2.53h-1.45zM124.55 128.26h1.71v2.35h-1.71zM128.12 125.84h1.83v2.65h-1.83zM110.85 127.78h1.8v2.37h-1.8zM101.07 125.52h1.43v2.97h-1.43zM87.77 129.14h1.24v2.29h-1.24zM106.54 126.52h1.95v2.95h-1.95zM137.15 128.32h1.44v2.4h-1.44zM148.05 128.38h1.41v2.76h-1.41zM147.15 127.99h1.9v2.28h-1.9zM86.99 126.95h2v2.4h-2zM90.12 126.58h1.79v2.23h-1.79zM107.39 127.92h1.4v2.9h-1.4zM121.13 126.29h1.9v2.28h-1.9zM84.54 127.29h1.83v2.73h-1.83zM87.36 127.72h1.77v2.63h-1.77zM140.26 126.76h1.99v2.96h-1.99zM152.6 127.7h1.93v2.33h-1.93zM112.44 126.87h1.47v2.57h-1.47zM137.94 127.12h1.87v2.24h-1.87zM131.46 128.07h1.91v2.58h-1.91zM136.22 126.2h1.58v2.2h-1.58zM111.2 127.59h1.61v2.51h-1.61zM147.75 127.14h1.56v2.85h-1.56zM89.8 126.93h1.34v2.93h-1.34zM100.07 127.08h1.69v2.47h-1.69zM126.65 128.31h1.48v2.53h-1.48zM98.88 126.41h1.24v2.94h-1.24zM141.25 128.79h1.59v2.83h-1.59zM140.02 127.66h1.72v2.61h-1.72zM137.68 128.36h1.86v2.13h-1.86zM144.09 127.68h1.93v2.95h-1.93zM126.64 126.77h1.95v2.94h-1.95zM94.03 128.2h1.58v2.65h-1.58zM104.58 128.17h1.86v2.83h-1.86zM81.23 127.08h1.87v2.22h-1.87zM109.37 128.85h1.76v2.55h-1.76zM126.66 128.77h1.25v2.4h-1.25zM131.04 125.48h1.56v2.13h-1.56zM132.31 127.02h1.97v2.77h-1.97zM164.75 128.5h2.06v2.3h-2.06zM156.54 128.18h1.73v1.93h-1.73zM164.22 128.1h1.42v2.36h-1.42zM152.92 127.52h1.85v2.57h-1.85zM155.96 126.63h1.63v2.01h-1.63zM161.72 126.59h1.85v2.24h-1.85zM162.18 125.89h2.17v2.26h-2.17zM159.31 126.48h2.11v2.5h-2.11zM166.44 128.15h1.88v2.09h-1.88zM158.09 126.08h1.79v2.22h-1.79zM156.71 126.5h1.88v2.03h-1.88zM155.74 126.93h1.65v2.43h-1.65zM163.44 129.48h2.2v1.93h-2.2zM97.63 135.42h1.7v2.02h-1.7zM130.17 136.46h1.73v2.12h-1.73zM142.53 134.35h1.21v2.84h-1.21zM112.13 135.2h1.55v2.12h-1.55zM114.64 134.52h1.58v2.52h-1.58zM151.68 136.22h1.37v2.88h-1.37zM123.31 135.81h1.52v2.96h-1.52zM107.26 135.34h1.4v2.45h-1.4zM97.47 136.9h1.9v2.11h-1.9zM141.99 135.52h1.5v2.08h-1.5zM131.21 136.44h1.44v2.74h-1.44zM103.32 135.84h1.56v2.34h-1.56zM117.33 135.54h1.55v2.98h-1.55zM90.81 135.28h1.51v2.34h-1.51zM136.81 135.25h1.95v2.6h-1.95zM145.65 137.01h1.36v2.52h-1.36zM133.27 137.41h1.86v2.1h-1.86zM132.12 135.21h1.9v2.61h-1.9zM90.28 135.69h1.54v2.5h-1.54zM146.45 135.54h1.54v2.47h-1.54zM123.74 133.74h1.61v2.53h-1.61zM145.38 135.25h1.23v2.46h-1.23zM134.6 135.38h1.37v2.57h-1.37zM144.82 136.43h1.42v2.52h-1.42zM139.06 135.58h1.56v2.71h-1.56zM133.51 135.93h1.72v2.96h-1.72zM124.05 135.01h1.5v2.64h-1.5zM100.99 136.61h1.78v2.75h-1.78zM98.99 134.37h1.5v2.6h-1.5zM146.75 134.84h1.7v2.75h-1.7zM138.29 136.5h1.58v2.02h-1.58zM99.08 136.22h1.29v2.53h-1.29zM88.43 137.22h1.85v2.53h-1.85zM143.96 135.28h1.97v2.77h-1.97zM81.9 134.94h1.95v2.68h-1.95zM125.81 134.82h1.42v2.44h-1.42zM131.82 135.47h1.88v2.46h-1.88zM111.5 136.28h1.47v2.47h-1.47zM146.65 134.37h1.51v2.7h-1.51zM127.4 134.01h1.59v2.74h-1.59zM152.31 135.25h1.53v2.77h-1.53zM130.62 135.98h1.85v2.26h-1.85zM121.04 136.75h1.45v2.08h-1.45zM86.71 135.59h1.44v2.73h-1.44zM144.31 135.51h1.84v2.29h-1.84zM89.37 135.95h1.4v2.66h-1.4zM100.76 135.86h1.83v2.06h-1.83zM127.57 134.58h1.71v2.06h-1.71zM130.13 133.3h1.77v2.81h-1.77zM147.5 132.96h1.39v2.43h-1.39zM148.96 134.6h1.73v2.19h-1.73zM147.2 136.07h1.39v2.21h-1.39zM137.74 135.44h1.64v2.78h-1.64zM108.4 135.04h1.88v2.48h-1.88zM132.98 135.8h2v2.23h-2zM92.12 136.36h1.36v2.51h-1.36zM104.26 135.16h1.73v2.08h-1.73zM152.59 135.54h1.57v2.85h-1.57zM126.92 135.62h1.29v2.99h-1.29zM147.72 133.81h1.45v2.57h-1.45zM92.87 134.97h1.76v2.42h-1.76zM124 134.75h1.27v2.82h-1.27zM94.15 135.19h1.4v2.24h-1.4zM131.75 135.47h1.53v2.4h-1.53zM147.6 134.1h1.64v2.81h-1.64zM112.32 135.83h1.76v2.43h-1.76zM82.19 135.35h1.88v2.87h-1.88zM104.85 136.49h1.67v2.3h-1.67zM87.16 136.81h1.36v2.49h-1.36zM113.83 136.75h1.41v2.29h-1.41zM138.59 137.26h1.75v2.1h-1.75zM151.52 135.72h1.82v2.17h-1.82zM100.93 135.3h1.28v2.63h-1.28zM91.66 135.57h1.23v2.12h-1.23zM84.32 133.21h1.24v2.79h-1.24zM103.06 137.1h1.85v2.04h-1.85zM99.48 134.23h1.94v2.15h-1.94zM95.84 135.93h1.87v2.8h-1.87zM144.55 134.15h1.3v2.29h-1.3zM101.49 135.01h1.97v2.21h-1.97zM92.34 134.86h1.77v2.87h-1.77zM91.78 134.47h1.5v2.44h-1.5zM133.09 137.26h1.67v2.53h-1.67zM111.87 137.28h1.82v2.36h-1.82zM108.84 136.39h2v2.01h-2zM131.61 135.11h1.35v2.95h-1.35zM126.36 134.55h1.87v2.84h-1.87zM114.15 133.33h1.6v2.92h-1.6zM125.5 134.09h1.95v2.81h-1.95zM103.1 136.7h1.62v2.52h-1.62zM111.99 135.41h1.48v2.43h-1.48zM129.54 135.06h1.9v2.48h-1.9zM82.49 134.78h1.77v2.8h-1.77zM110.28 134.89h1.79v2.6h-1.79zM108.4 133.64h1.3v2.74h-1.3zM104.17 136.01h1.9v2.87h-1.9zM116.96 135.72h1.95v2.05h-1.95zM130.49 134.2h1.6v2.2h-1.6zM134.07 135.78h1.97v2.42h-1.97zM164.76 135.57h1.53v2.42h-1.53zM156.9 136.61h1.79v1.86h-1.79zM161.81 135.96h1.93v2.53h-1.93zM153.83 135.66h1.95v2.5h-1.95zM161.63 134.37h2.16v1.89h-2.16zM162.86 136.65h1.63v1.83h-1.63zM161.6 136.96h2.17v2.08h-2.17zM159.67 135.72h2.19v2.34h-2.19zM163.32 135.55h1.42v1.87h-1.42zM156.04 134.93h2.11v2.36h-2.11zM162.41 136.24h1.75v2.16h-1.75zM156.92 136.99h2.18v1.81h-2.18zM153.77 136.04h1.89v1.84h-1.89zM158.16 135.78h1.91v2.21h-1.91zM101.57 144.01h1.6v2.08h-1.6zM119.75 143.95h1.52v2.5h-1.52zM91.9 143.9h1.21v2.03h-1.21zM147.79 143.47h1.65v2.68h-1.65zM99.16 143.46h1.98v2.51h-1.98zM141.68 142.23h1.75v2.63h-1.75zM95.02 143.78h1.37v2.06h-1.37zM116.85 143.8h1.82v2.75h-1.82zM139.88 143.07h1.8v2.78h-1.8zM128.71 142.82h1.97v2.46h-1.97zM90.64 142.69h1.93v2.29h-1.93zM99.51 144.42h1.47v2.67h-1.47zM108.47 143.85h1.35v2.09h-1.35zM117.29 143.56h1.22v2.48h-1.22zM150.39 142.21h1.42v2.19h-1.42zM106.03 142.22h1.36v2.59h-1.36zM106.89 144.21h1.93v2.63h-1.93zM119.58 144.31h1.4v2.84h-1.4zM97.33 142.29h1.85v2.7h-1.85zM140.66 144.63h2v2.64h-2zM80.94 142.29h1.77v2.17h-1.77zM134.95 144.15h1.2v2.14h-1.2zM146.64 143.19h1.66v2.33h-1.66zM104.74 144.12h1.52v2.95h-1.52zM135.91 141.85h1.29v2.88h-1.29zM133.17 142.4h1.73v2.09h-1.73zM136.92 143.89h1.69v2.74h-1.69zM128.8 144.5h1.57v2.16h-1.57zM120.25 143.95h1.31v2.56h-1.31zM101.34 144.34h1.37v2.73h-1.37zM111.49 145.19h1.6v2.47h-1.6zM89.23 143.43h1.77v2.33h-1.77zM126.64 144.51h1.6v2.25h-1.6zM117.94 143.51h1.52v2.5h-1.52zM85.69 141.71h1.57v2.97h-1.57zM88.91 144.94h1.4v2.31h-1.4zM104.51 143.57h1.38v2.22h-1.38zM95.05 145.46h1.53v2.08h-1.53zM95.07 142.93h1.58v2.95h-1.58zM136.6 145.71h1.71v2.52h-1.71zM104.52 144.53h1.72v2.93h-1.72zM85.58 144.26h1.94v2.74h-1.94zM147.09 142.68h1.35v2.22h-1.35zM149.51 143.13h1.29v2.31h-1.29zM140.37 143.98h1.8v2.7h-1.8zM113.45 142.96h1.61v2.49h-1.61zM150.28 142.76h1.74v2.3h-1.74zM146.23 143.64h1.29v2.5h-1.29zM127.5 143.26h1.52v2.94h-1.52zM131.06 143.46h1.64v2.4h-1.64zM132.83 142.99h1.75v2.74h-1.75zM120.29 144.85h1.52v2.24h-1.52zM144.26 143.44h1.45v2.26h-1.45zM143.06 143.04h1.58v2.38h-1.58zM135.01 145.11h1.41v2.72h-1.41zM131.81 142.91h1.6v2.81h-1.6zM114.4 142.68h1.41v2.09h-1.41zM105.19 145.16h1.5v2.48h-1.5zM150.43 142.12h1.23v2.76h-1.23zM122.58 144.31h1.35v2.74h-1.35zM148.52 144.55h1.79v2.6h-1.79zM96.91 143.51h1.99v2.28h-1.99zM92.84 143.34h1.36v2.8h-1.36zM133.96 143.96h1.36v2.43h-1.36zM128.91 145.54h1.85v2.04h-1.85zM110.82 143.75h1.66v2.8h-1.66zM118.17 141.07h1.63v2.19h-1.63zM147.76 142.83h1.69v2.15h-1.69zM129.88 142.11h1.87v2.72h-1.87zM120.5 142.55h1.56v2.96h-1.56zM101.1 142.85h1.41v2.53h-1.41zM93.11 143.63h1.21v2.86h-1.21zM108.22 142.19h1.89v2.86h-1.89zM102.84 143.83h1.65v2.12h-1.65zM131.75 142.67h1.48v2.65h-1.48zM152.31 144.17h1.59v2.36h-1.59zM142.83 142.23h1.32v2.39h-1.32zM101.21 143.39h1.43v2.49h-1.43zM102.56 143.02h1.76v2.47h-1.76zM123.95 142.58h1.89v2.92h-1.89zM142 142.77h1.81v2.88h-1.81zM102.86 146.3h1.51v2.46h-1.51zM101.12 143.2h1.35v2.69h-1.35zM115.35 141.24h1.75v2.58h-1.75zM136.4 143.66h1.5v2.95h-1.5zM113.65 142.18h1.44v2.37h-1.44zM81.86 144.44h1.49v2.45h-1.49zM130.31 142.87h1.93v2.08h-1.93zM144.8 142.47h1.26v2.36h-1.26zM130.69 143.22h1.28v2.58h-1.28zM83.33 142.18h1.65v2.5h-1.65zM100.44 141.42h1.41v2.26h-1.41zM163.85 144.57h1.65v2.56h-1.65zM155.32 143.04h1.6v1.83h-1.6zM164.53 144.38h1.78v2.46h-1.78zM165.57 143.83h1.92v2.35h-1.92zM160.92 144.65h1.64v1.81h-1.64zM156.82 143.57h1.41v1.97h-1.41zM159.04 143.61h1.82v2.1h-1.82zM160.1 142.62h2v2.05h-2zM162.73 145.62h1.58v1.86h-1.58zM166.17 143.55h1.76v2.24h-1.76zM158.9 142.21h2.11v2.26h-2.11zM119.95 151.99h1.88v2.03h-1.88zM144.3 151.88h1.24v2.3h-1.24zM114.76 152.88h1.64v2.04h-1.64zM100.05 152.76h1.95v2.03h-1.95zM116.79 149.87h1.59v2.11h-1.59zM92.5 150.75h1.7v2.33h-1.7zM108.31 151.9h1.96v2.1h-1.96zM97.43 151.72h1.22v2.39h-1.22zM113.49 151.14h1.97v2.46h-1.97zM87.57 151.53h1.59v2.12h-1.59zM112.19 152.47h1.64v2.87h-1.64zM121.94 151.3h1.8v2.63h-1.8zM152.1 152.48h1.73v2.06h-1.73zM152.63 151.24h1.51v2.64h-1.51zM128.32 151.28h1.23v2.93h-1.23zM113.63 150.98h1.92v3h-1.92zM134.83 150.18h1.5v2.99h-1.5zM147.26 151.24h1.99v3h-1.99zM130.63 151.36h1.51v2.68h-1.51zM94.69 151.5h1.48v2.04h-1.48zM124.73 151.23h1.75v2.02h-1.75zM116.75 151.36h1.27v2.24h-1.27zM146.78 151.11h1.29v2.75h-1.29zM128.83 150.73h1.67v2.43h-1.67zM150.69 150.28h1.5v2.67h-1.5zM84.26 151.21h1.82v2.37h-1.82zM131.15 151.53h1.45v2.68h-1.45zM96.57 152.68h1.53v2.86h-1.53zM114.57 150.66h1.3v2.05h-1.3zM141.63 150.49h1.22v2.99h-1.22zM152.5 151.46h1.33v2.59h-1.33zM96.9 150.15h1.9v2.88h-1.9zM142.84 151.8h1.41v2.09h-1.41zM90.38 150.35h1.48v2.66h-1.48zM102.89 151.97h1.79v2.13h-1.79zM96.58 150.59h1.41v2.49h-1.41zM151.29 150.87h1.71v2.08h-1.71zM88.59 150.66h1.79v2.75h-1.79zM138.59 151.48h1.33v2.66h-1.33zM118.58 151.95h1.87v2.33h-1.87zM132.79 152.26h1.63v2.15h-1.63zM87.17 152.42h1.98v2.06h-1.98zM114.11 150.17h1.72v2.84h-1.72zM120.79 151h1.86v2.74h-1.86zM101.87 152.99h1.8v2.45h-1.8zM127.7 150.7h1.39v2.33h-1.39zM86.91 152.64h1.32v2.64h-1.32zM86.71 152.56h1.61v2.91h-1.61zM127.83 150.39h1.61v2.97h-1.61zM99.91 152.18h1.32v2.21h-1.32zM142.67 151.97h1.88v2.39h-1.88zM121.6 149.95h1.36v2.85h-1.36zM144.31 150.18h1.95v2.44h-1.95zM142.06 151.38h1.36v2.07h-1.36zM131.7 153.09h1.48v2.48h-1.48zM151.49 149.84h1.34v2.49h-1.34zM98.66 151.25h1.77v2.74h-1.77zM121.36 151.38h1.56v2.28h-1.56zM90.21 151.8h1.52v2.58h-1.52zM132.06 154.02h1.79v2.81h-1.79zM139.91 150.21h1.95v2.92h-1.95zM145.33 151.91h1.45v2.27h-1.45zM119.02 152.84h1.59v2.95h-1.59zM147.54 150.89h1.22v2.24h-1.22zM108.34 150.76h1.31v2.56h-1.31zM106.41 151.05h1.39v2.01h-1.39zM133.75 149.93h1.77v2.5h-1.77zM147.05 152.45h1.31v2.19h-1.31zM86.69 151.87h1.36v2.29h-1.36zM117.55 151.16h1.4v2.17h-1.4zM113.04 151.14h1.24v2.82h-1.24zM83.31 151.93h1.61v2.47h-1.61zM88.87 151.94h1.99v2.38h-1.99zM139.93 152.81h1.37v2.39h-1.37zM149.01 153.93h1.89v2.68h-1.89zM121.93 151.44h1.81v2.13h-1.81zM98.23 151.23h1.32v2.62h-1.32zM151.39 151.71h1.33v2.12h-1.33zM111.37 152.31h1.29v2.36h-1.29zM90.51 151.81h1.99v2.78h-1.99zM137.59 152.35h1.79v2.01h-1.79zM131.26 152.84h1.43v2.66h-1.43zM130.58 151.57h1.96v2.32h-1.96zM108.52 150.05h1.88v2.47h-1.88zM101.22 151.43h1.3v2.39h-1.3zM97.38 153.28h1.58v2.94h-1.58zM124.27 150.76h1.46v2.99h-1.46zM103.49 151.98h1.26v2.04h-1.26zM133.16 150.42h1.53v2.18h-1.53zM165.61 152.39h2.04v2.4h-2.04zM157.23 149.25h1.6v2.11h-1.6zM163.8 152.26h2.2v2.03h-2.2zM155.93 149.82h1.61v2.31h-1.61zM159.01 152.26h1.4v2.38h-1.4zM158.28 150.56h2.12v2.5h-2.12zM163.72 151.56h1.52v2.07h-1.52zM158.03 151.49h1.94v2.2h-1.94zM156 151.61h1.46v2.24h-1.46zM164.72 149.39h1.89v2.09h-1.89zM162.07 151.6h1.57v2.29h-1.57zM155.26 150.99h1.83v1.83h-1.83zM156.22 151.33h1.77v1.82h-1.77zM154.25 153.07h2.03v1.89h-2.03zM164.66 151.56h2.09v2.21h-2.09zM158.79 151.77h1.5v1.85h-1.5zM164.62 150.04h2.01v2.03h-2.01zM85.74 159.14h1.65v2.87h-1.65zM115.61 157.9h1.66v2.64h-1.66zM112.31 160.78h1.41v2.98h-1.41zM139.28 160.15h1.93v2.05h-1.93zM129.12 160.98h1.2v2.72h-1.2zM134.37 159h1.67v2.1h-1.67zM124.6 160.49h1.6v2.47h-1.6zM92.29 158.62h1.48v2.72h-1.48zM135.64 159.92h1.39v2.3h-1.39zM132.69 160.51h1.35v2.01h-1.35zM133.52 158.65h1.76v2.11h-1.76zM113.99 158.34h1.58v2.51h-1.58zM111.4 160.28h1.23v2.18h-1.23zM91.53 160.27h1.7v2.86h-1.7zM139.57 159.65h1.23v2.5h-1.23zM112.22 161.91h1.27v2.3h-1.27zM149.58 160.66h1.76v2.98h-1.76zM100.46 158.75h1.35v2.36h-1.35zM115.7 160.32h1.52v2.6h-1.52zM106.21 159.29h1.98v2.38h-1.98zM124.62 160.81h1.89v2.17h-1.89zM150.48 158.61h1.31v2.71h-1.31zM96.92 159.38h1.37v2.58h-1.37zM108.63 159.15h1.75v2.14h-1.75zM102.17 159.2h1.64v2.46h-1.64zM87.72 159.81h1.23v2.21h-1.23zM83.52 159.42h1.51v2.85h-1.51zM152.32 158.34h1.97v2.19h-1.97zM104.69 160.13h1.43v2.59h-1.43zM131.77 157.73h1.61v2.04h-1.61zM137.24 158.01h1.7v2.38h-1.7zM127.02 158.33h1.39v2.3h-1.39zM99.99 160.99h1.5v2.34h-1.5zM129.17 159.58h1.9v2.52h-1.9zM147.15 158.4h1.67v2.07h-1.67zM113.84 159.78h1.34v2.37h-1.34zM145.06 159.55h1.48v2.92h-1.48zM142.87 159.07h1.26v2.71h-1.26zM136.42 161.1h1.41v2.08h-1.41zM131 162.04h1.76v2.28h-1.76zM149.91 159.08h1.55v2.89h-1.55zM116.98 157.71h1.48v2.39h-1.48zM147.06 159.51h1.84v2.19h-1.84zM87.26 157.68h1.46v2.66h-1.46zM131.92 158.63h1.21v2.58h-1.21zM89.47 161.14h1.79v2.21h-1.79zM107.55 160.1h1.5v2.21h-1.5zM123 158.13h1.75v2.31h-1.75zM130.74 160.6h1.68v2.04h-1.68zM130.01 160.53h1.41v2.92h-1.41zM93.81 159.43h1.35v2.85h-1.35zM87.31 159.51h1.99v2.55h-1.99zM91.17 159.42h1.52v2.67h-1.52zM125.42 158.41h1.73v2.09h-1.73zM93.79 159.44h1.27v2.64h-1.27zM146.83 159.96h1.85v2.79h-1.85zM129.82 159.34h1.25v2.67h-1.25zM102.62 160.82h1.91v2.35h-1.91zM126.29 159.63h1.8v2.6h-1.8zM86.19 160.32h1.44v2.01h-1.44zM124.42 159.92h1.91v2.35h-1.91zM92.07 158.15h1.22v2.64h-1.22zM126.41 160.93h1.79v2.61h-1.79zM100.99 160.14h1.69v2.39h-1.69zM120.72 158.87h1.4v2.3h-1.4zM131.44 160.08h1.31v2.4h-1.31zM96.73 160.58h1.67v2.19h-1.67zM85.11 159.32h1.55v2.22h-1.55zM91.15 161.9h1.47v2.1h-1.47zM141.17 158.6h1.34v2.35h-1.34zM149.38 158.98h1.3v2.55h-1.3zM122.39 160.51h1.42v2.11h-1.42zM86.98 159.63h1.39v2.38h-1.39zM123.97 159.38h1.52v2.92h-1.52zM105.25 159.47h1.66v2.42h-1.66zM93.37 158.42h1.81v2.45h-1.81zM134.58 159.22h1.95v2.82h-1.95zM143.15 159.33h1.27v2.39h-1.27zM119.29 158.35h1.44v2.22h-1.44zM122.22 157.74h1.34v2.96h-1.34zM149 159.47h1.7v2.57h-1.7zM81.13 159.9h1.6v2.76h-1.6zM142.53 159.91h1.54v2.19h-1.54zM147.76 158.59h1.87v2.73h-1.87zM141.96 161.52h1.3v2.8h-1.3zM120.56 160.75h1.83v2.61h-1.83zM145.02 159.89h1.68v2.96h-1.68zM116.64 160.7h1.9v2.62h-1.9zM107.37 158.78h1.99v2.03h-1.99zM116.76 159.41h1.78v2.79h-1.78zM84.03 161.31h1.89v2.97h-1.89zM83.09 158.34h1.37v2.38h-1.37zM118.23 160.03h1.59v2.86h-1.59zM123.34 160.43h1.43v2.63h-1.43zM85.91 158.41h1.68v2.93h-1.68zM135.84 158.63h1.8v2.89h-1.8zM91.72 158.61h1.66v2.02h-1.66zM96.26 159.51h1.71v2.69h-1.71zM115.16 160.03h1.87v2.27h-1.87zM136.63 160.56h1.82v2.21h-1.82zM116.07 159.51h1.23v2.38h-1.23zM145.69 158.72h1.43v2.84h-1.43zM166.79 158.69h2.18v2.37h-2.18zM158.89 160.3h1.45v1.95h-1.45zM156.21 158.26h2.15v1.82h-2.15zM157.44 159.07h1.76v1.93h-1.76zM164.75 160.18h2.09v2.46h-2.09zM155.59 159.42h1.64v2.51h-1.64zM163.75 160.2h2.04v2.08h-2.04zM157.24 158.74h1.8v2.14h-1.8zM156.38 159.19h1.66v1.97h-1.66zM165.56 158.8h1.78v1.96h-1.78zM155.97 158.64h1.91v1.99h-1.91zM166.2 158.91h1.85v2.5h-1.85zM159.13 159.11h2.18v2.48h-2.18zM166.97 160.55h1.68v1.97h-1.68zM163.21 158.64h1.55v2.08h-1.55zM164.69 160.53h1.93v2.28h-1.93zM141.61 165.19h1.91v2.95h-1.91zM120.46 168.03h1.38v2.32h-1.38zM107.65 167.9h1.85v2.02h-1.85zM99.03 167.46h1.72v2.23h-1.72zM118.42 166.27h2v2.61h-2zM112.38 166.6h1.27v2.3h-1.27zM112.48 166.34h1.4v2.13h-1.4zM100.19 165.96h1.81v2.28h-1.81zM95.07 167.14h1.21v2.32h-1.21zM138.08 166.93h1.52v2.58h-1.52zM151.06 167.42h1.48v2.34h-1.48zM129 168.62h1.45v2.7h-1.45zM124.37 167.14h1.39v2.75h-1.39zM93.2 166.64h1.71v2.08h-1.71zM112.99 169.81h1.61v2.41h-1.61zM148.6 165.5h1.31v2.5h-1.31zM150.08 167.05h1.67v2.31h-1.67zM86.23 167.97h1.5v2.31h-1.5zM141.47 168.05h1.53v2.36h-1.53zM96.52 166.75h1.86v2.36h-1.86zM148.91 168.26h1.34v2.24h-1.34zM97.17 164.35h1.8v2.71h-1.8zM136.45 168.1h1.91v2.94h-1.91zM149.78 165.57h1.94v2.27h-1.94zM84.29 166.54h1.35v2.11h-1.35zM81.84 166.92h1.47v2.63h-1.47zM119.33 167.55h1.32v2.5h-1.32zM111.94 165.68h1.81v2.69h-1.81zM148.62 168.27h1.97v2.58h-1.97zM101.97 167.28h1.65v2.3h-1.65zM82.39 166.91h1.81v2.72h-1.81zM143.47 165.8h1.44v2.03h-1.44zM124.18 167.81h1.87v2.61h-1.87zM117.94 165.39h1.36v2.66h-1.36zM126.28 167.1h1.86v2.4h-1.86zM145.96 168.23h1.49v2.43h-1.49zM99.77 169.43h1.98v2.27h-1.98zM98.98 167.5h1.97v2.52h-1.97zM152.06 168.09h1.86v2.66h-1.86zM118.2 166.74h1.92v2.56h-1.92zM83.37 167.1h1.93v2.32h-1.93zM135.64 166.59h1.35v2.54h-1.35zM121.51 167.12h1.89v2.32h-1.89zM84.27 168.14h1.8v2.92h-1.8zM107.84 167.28h1.64v2.45h-1.64zM123.62 168.85h1.85v2.16h-1.85zM143.12 167.54h1.49v2.47h-1.49zM128.47 166.29h1.61v2.91h-1.61zM126.76 165.9h1.23v2.84h-1.23zM134.57 166.13h1.28v2.7h-1.28zM111.21 167.8h1.69v2.42h-1.69zM139.31 169.01h1.55v2.3h-1.55zM133.04 165.74h1.67v2.5h-1.67zM87.77 166.5h1.66v2.95h-1.66zM133.06 168.48h1.54v2.77h-1.54zM145.17 166.68h1.77v2.18h-1.77zM148.78 165.75h1.73v2.36h-1.73zM112.68 167.36h1.24v2.23h-1.24zM89.67 168.19h1.94v2.12h-1.94zM121.79 166.73h1.26v2.2h-1.26zM88.04 166.27h1.71v2.05h-1.71zM122.17 166.49h1.3v2.34h-1.3zM134.7 167.86h1.63v2.75h-1.63zM123.62 167.36h1.74v2.93h-1.74zM130.82 166h1.73v2.45h-1.73zM134.81 167.11h1.63v2.06h-1.63zM115.37 166.91h1.63v2.27h-1.63zM99.47 166.64h1.94v2.65h-1.94zM137.59 167.93h1.83v2.11h-1.83zM117.52 165.4h1.3v2.92h-1.3zM131.21 167.6h1.75v2.35h-1.75zM108.85 166.75h1.25v2.88h-1.25zM145.98 167.37h1.69v2.21h-1.69zM109.33 168.36h1.24v2.33h-1.24zM124.09 169.66h1.87v2.61h-1.87zM126.54 166.7h1.22v2.47h-1.22zM118.99 166.81h1.4v2.58h-1.4zM138.07 165.72h1.98v2.25h-1.98zM100.23 168.89h1.69v2.29h-1.69zM85.4 166.35h1.81v2.69h-1.81zM92.1 169.04h1.54v2.04h-1.54zM111.63 166.17h1.4v2.18h-1.4zM131.39 167.03h1.25v2h-1.25zM91.97 167.23h1.32v2.83h-1.32zM111.14 168.62h1.28v2.59h-1.28zM126.23 167.61h1.82v2.86h-1.82zM95.8 168.3h1.4v2.02h-1.4zM127.27 166.42h1.67v2.94h-1.67zM127.71 166.46h1.73v2.77h-1.73zM155.27 167.39h1.45v2.47h-1.45zM165.63 166.47h1.91v1.94h-1.91zM164.95 168.21h1.96v2.08h-1.96zM159.61 165.73h2.07v2.55h-2.07zM159.06 168.28h2.2v2.25h-2.2zM159.85 167.07h1.79v1.85h-1.79zM160.93 167.27h1.88v2.21h-1.88zM155.2 166.97h1.99v2.19h-1.99zM166.31 167.52h2.07v2.3h-2.07zM157.84 167.98h1.75v2.41h-1.75zM153.37 167.51h1.71v2.44h-1.71zM161.34 166.09h1.53v1.91h-1.53zM154.88 167.57h1.61v2.27h-1.61zM167.02 165.69h1.66v2.06h-1.66zM166.02 167.75h1.41v1.87h-1.41zM100.83 175.4h1.92v2.52h-1.92zM112.71 176.18h1.91v2.69h-1.91zM125.47 175.26h1.85v2.77h-1.85zM117.65 176.96h1.85v2.58h-1.85zM145.22 174.4h1.21v2.23h-1.21zM137.06 174.79h1.32v2.71h-1.32zM144.25 175.24h1.33v2.86h-1.33zM102.81 175.22h1.88v2.61h-1.88zM151.86 175.05h1.39v2.59h-1.39zM149.38 175.3h1.68v2.62h-1.68zM128.37 175.01h1.41v2.73h-1.41zM138.66 175.25h1.8v2.78h-1.8zM94.03 177.35h1.91v2.36h-1.91zM150.9 176.54h1.24v2.06h-1.24zM94.78 173.63h1.25v2.52h-1.25zM138.09 175.9h1.75v2.43h-1.75zM83.36 176.34h1.73v2.97h-1.73zM136.24 178.12h1.25v2.16h-1.25zM122.12 175.78h1.78v2h-1.78zM109.96 174.64h1.82v2.14h-1.82zM100.31 177.46h1.35v2.28h-1.35zM114.99 174.69h1.59v2.86h-1.59zM101.82 173.74h1.96v2.52h-1.96zM106.94 174.72h1.43v2.39h-1.43zM152.28 174.36h1.63v2.18h-1.63zM107.41 175.19h1.71v2.55h-1.71zM143.58 175.37h1.69v2.07h-1.69zM113.13 175.87h1.42v2.28h-1.42zM143.2 176.1h1.9v2.57h-1.9zM131.96 176.1h1.84v2.4h-1.84zM142.75 175.8h1.84v2.95h-1.84zM132.97 175.77h1.53v2.09h-1.53zM125.47 174.61h1.62v2.21h-1.62zM144.81 176.51h1.41v2.44h-1.41zM128.87 175.81h1.99v2.42h-1.99zM140.77 174.46h1.97v2.74h-1.97zM129.46 174.24h1.86v2.4h-1.86zM114.01 177.64h1.38v2.1h-1.38zM101.45 174.38h1.89v2.92h-1.89zM104.17 174.09h1.38v2.04h-1.38zM140.99 176.5h1.64v2.58h-1.64zM99.54 175.24h1.68v2.74h-1.68zM101.78 177.22h1.55v2.44h-1.55zM151.17 176.01h1.5v2.39h-1.5zM129.5 175.13h1.76v2.8h-1.76zM105.11 175.31h1.79v2.51h-1.79zM130.85 174.2h1.22v2.31h-1.22zM112.86 174.93h1.87v2.94h-1.87zM85.61 175.13h1.71v2.06h-1.71zM146.03 177.1h1.87v2.14h-1.87zM84.71 175.31h1.93v2.41h-1.93zM148.79 174.42h1.38v2.24h-1.38zM110.75 172.99h1.26v2.51h-1.26zM120.07 174.63h1.27v2.44h-1.27zM115.96 174.14h1.45v2.33h-1.45zM114.13 176.6h1.96v2.87h-1.96zM141.61 173.84h1.79v2.85h-1.79zM105.05 175.91h1.76v2.08h-1.76zM152.03 175.83h1.25v2.99h-1.25zM122.65 174.61h1.38v2.47h-1.38zM140.67 175.56h1.3v2.16h-1.3zM93.01 174.97h1.36v2.03h-1.36zM94.45 173.95h1.58v2.07h-1.58zM103.31 174.48h1.58v2.83h-1.58zM143.64 174.61h1.64v3h-1.64zM110.25 174.88h1.8v2.44h-1.8zM138.44 175.92h1.48v2.83h-1.48zM129.86 174.75h1.46v2.33h-1.46zM93.88 175.72h1.43v2.32h-1.43zM116.64 175.82h1.38v2.69h-1.38zM90.19 174.67h1.36v2.69h-1.36zM117.3 175.28h1.56v2.23h-1.56zM92.9 175.76h1.77v2.25h-1.77zM129.11 176.68h1.41v2.79h-1.41zM113.84 177.17h1.46v2.54h-1.46zM123.53 175.63h1.4v2.39h-1.4zM113.18 174.93h1.65v2.04h-1.65zM121.97 173.94h1.37v2.14h-1.37zM111.1 174.63h1.38v2.66h-1.38zM102.43 173.76h1.86v2.87h-1.86zM149.5 176.74h1.29v2.07h-1.29zM118.96 176.11h1.27v2.13h-1.27zM91.64 176.06h1.69v2.8h-1.69zM106.22 174.65h1.48v2.38h-1.48zM136.63 176.05h1.69v2.46h-1.69zM120.15 175.39h1.48v2.25h-1.48zM115.48 176.93h1.33v2.55h-1.33zM122.18 175.03h1.61v2.44h-1.61zM132.9 175.32h1.25v2.08h-1.25zM151.35 176.95h1.43v2.41h-1.43zM91.12 174.65h1.48v2.69h-1.48zM148.29 174.57h1.78v2.7h-1.78zM114.2 175.75h1.47v2.4h-1.47zM125.47 177.37h1.55v2.59h-1.55zM111.49 174.62h1.66v2.23h-1.66zM114 175.52h1.88v2.48h-1.88zM109.35 173.02h1.25v2.6h-1.25zM135.95 174.65h1.95v2.72h-1.95zM115.79 175.15h1.59v2.95h-1.59zM136.37 175.14h1.73v2.36h-1.73zM88.37 175.92h1.93v2.83h-1.93zM82.79 173.37h1.74v2.27h-1.74zM98.23 175.95h1.35v2.78h-1.35zM97.68 175.35h1.26v2.02h-1.26zM99.27 173.23h1.75v2.66h-1.75zM112.77 174.95h1.76v2.04h-1.76zM128.88 175.07h1.24v2.11h-1.24zM145.92 173.72h1.41v2.32h-1.41zM152.18 176.03h1.57v2.74h-1.57zM158.71 176.8h2.12v2.05h-2.12zM166.91 173.42h1.64v2.31h-1.64zM163.05 176.61h1.6v1.86h-1.6zM152.86 176.05h1.78v2.08h-1.78zM158.77 175.22h1.96v2.46h-1.96zM157.07 175.21h2.11v2.43h-2.11zM163.87 175.04h2.02v2.53h-2.02zM153.69 174.92h1.72v2.17h-1.72zM165.23 175.62h1.58v2.24h-1.58zM161.61 175.38h1.53v1.98h-1.53zM165.25 174.74h1.58v1.98h-1.58zM157.55 176.92h1.47v2.04h-1.47zM165.9 175.59h1.71v2.25h-1.71zM153.72 175.14h2.07v2.37h-2.07zM163.05 176.31h1.68v2.2h-1.68zM90.44 183.9h1.24v2.77h-1.24zM119.29 181.81h1.86v2.18h-1.86zM140.26 185.23h1.7v2.72h-1.7zM109.76 183.7h1.56v2.98h-1.56zM85.99 183.77h1.98v2.47h-1.98zM132.96 183.23h1.49v2.74h-1.49zM105.9 185.2h1.82v2.74h-1.82zM105.03 183.01h1.81v2.26h-1.81zM146.18 182.49h1.83v2.07h-1.83zM118.85 182.86h1.28v2.38h-1.28zM148.88 182.44h1.34v2.7h-1.34zM152.19 183.22h1.57v2.58h-1.57zM83.02 184.74h1.46v2.1h-1.46zM134.33 182.25h1.35v2.77h-1.35zM119.24 183.23h1.21v2.86h-1.21zM84.3 182.99h1.28v2.26h-1.28zM129.6 183.28h1.28v2.88h-1.28zM109.71 184.78h1.63v2.18h-1.63zM126.43 183.01h1.34v2.12h-1.34zM88.88 182.56h1.77v2.53h-1.77zM90.31 184.1h1.61v2.57h-1.61zM130.34 183.59h1.56v2.09h-1.56zM121.02 185.81h1.38v2.03h-1.38zM91.07 183.51h1.52v2.02h-1.52zM125.46 181.6h1.9v2.73h-1.9zM128.86 183.23h1.7v2.18h-1.7zM119.96 185.57h1.77v2.41h-1.77zM131.24 181.76h1.51v2.86h-1.51zM89.68 183.38h1.29v2.09h-1.29zM149.18 183.8h1.43v2.43h-1.43zM91.51 182.39h1.43v2.75h-1.43zM87.03 181.53h1.26v2.59h-1.26zM122.56 183.5h1.73v2.22h-1.73zM140.09 183.55h1.89v2.78h-1.89zM141.83 183.15h1.6v2.34h-1.6zM112.66 184.52h1.25v2.03h-1.25zM108.31 186.22h1.38v2.23h-1.38zM130.85 182.65h1.91v2.59h-1.91zM88.73 183.86h1.39v2.18h-1.39zM128.68 183.21h1.22v2.44h-1.22zM83.12 183.75h1.31v2.02h-1.31zM82.63 182.03h1.28v2.08h-1.28zM122.79 183.47h1.41v2.11h-1.41zM121.62 184.27h1.23v2.48h-1.23zM108.57 183.42h1.71v2.9h-1.71zM98.93 184.57h1.38v2.74h-1.38zM140.81 182.22h1.24v2.94h-1.24zM126.34 183.65h1.64v2.2h-1.64zM100.29 183.28h1.32v2.53h-1.32zM91.27 184.05h1.53v2.47h-1.53zM130.67 182.55h1.42v2.46h-1.42zM149.42 183.37h1.31v2.57h-1.31zM137.01 180.85h1.67v2.53h-1.67zM96.56 181.44h1.42v2.98h-1.42zM89.2 183.37h1.4v2.28h-1.4zM124.77 182.64h1.99v2.85h-1.99zM87.24 182.22h1.57v2.83h-1.57zM137.63 182.65h1.37v2.54h-1.37zM87.24 184.49h1.84v2.35h-1.84zM103.09 182.54h1.69v2.56h-1.69zM88.07 183.1h1.83v2.21h-1.83zM83.19 183.06h1.45v2.67h-1.45zM97.78 184.91h1.27v2.92h-1.27zM100.93 182.42h1.91v2.55h-1.91zM132.46 182.17h1.27v2.59h-1.27zM116.69 181.78h1.35v2.75h-1.35zM144.69 182.21h1.89v2.84h-1.89zM108.9 182.08h1.46v2.26h-1.46zM116.96 182.07h1.87v2.8h-1.87zM127.95 183.41h1.68v2.03h-1.68zM116.09 181.41h1.91v2.36h-1.91zM108.07 184.14h1.29v2.55h-1.29zM134.54 182.96h1.78v2.14h-1.78zM138.67 183.69h1.76v2.82h-1.76zM143.33 183.48h1.59v2.3h-1.59zM95.83 183.82h1.63v2.39h-1.63zM113.33 184.58h1.7v2.32h-1.7zM112.76 183.97h1.47v2.78h-1.47zM139.79 184.8h1.31v2.35h-1.31zM97.85 182.34h1.96v2.43h-1.96zM99.42 183.17h1.69v2.77h-1.69zM132.19 184.45h1.5v2.82h-1.5zM141.8 183.42h1.94v2.78h-1.94zM139.67 184.31h1.74v2.27h-1.74zM84.97 183.28h1.67v2.59h-1.67zM113.54 185.7h1.4v2.25h-1.4zM107 182.53h1.59v2.49h-1.59zM136.56 183.22h1.21v2.18h-1.21zM112.36 184.1h1.3v2.93h-1.3zM96.27 183.61h1.25v2.52h-1.25zM81.86 182.15h1.73v2.93h-1.73zM148.53 182.4h1.31v2.93h-1.31zM143.97 183.27h1.49v2.85h-1.49zM121 183.66h1.28v2.38h-1.28zM127.63 180.91h1.45v2.65h-1.45zM120.99 184h1.83v2.21h-1.83zM106.68 184.58h1.82v2.2h-1.82zM102.66 181.83h1.85v2.64h-1.85zM117.37 184.65h1.28v2.77h-1.28zM102.53 184.09h1.33v2.06h-1.33zM121.2 181.32h1.7v2.3h-1.7zM115.42 183.5h1.72v2.58h-1.72zM160.58 181.96h1.89v2.48h-1.89zM161.37 182.89h1.95v2.41h-1.95zM161.85 182.18h1.57v2.55h-1.57zM155.6 182.62h1.58v2.48h-1.58zM153.05 183.3h1.7v2.39h-1.7zM158.44 181.22h1.93v2.5h-1.93zM153.08 183.63h2v2.54h-2zM158.76 182.37h2.2v2.14h-2.2zM164.57 183h1.69v1.83h-1.69zM154.38 183.6h1.51v2.49h-1.51zM111.58 191.58h1.39v2.48h-1.39zM134.83 189.75h1.93v2.89h-1.93zM101.23 191.04h1.88v2.15h-1.88zM152.3 191.08h1.46v2.06h-1.46zM147.18 192.89h1.35v2.5h-1.35zM128.84 191.92h1.75v2.69h-1.75zM119.61 192.36h1.88v2.67h-1.88zM82.34 189.61h1.24v2.35h-1.24zM151.01 191.68h1.47v2.38h-1.47zM81.25 189.79h1.79v2.2h-1.79zM147.37 191.28h1.66v2.19h-1.66zM115.45 192.41h1.33v2.56h-1.33zM152.3 190.77h1.41v2.24h-1.41zM109.18 190.99h1.23v2.56h-1.23zM105.48 193.71h1.94v2.1h-1.94zM126.72 190.13h1.98v2.54h-1.98zM133.82 189.21h1.54v2.54h-1.54zM122.79 190.81h1.24v2.47h-1.24zM83.03 192.53h1.28v2.38h-1.28zM93.42 190.96h1.36v2.45h-1.36zM110.18 189.82h1.96v2.49h-1.96zM104.4 191.63h1.64v2.34h-1.64zM127.67 190.11h1.96v2.01h-1.96zM150.07 191.45h1.77v2.97h-1.77zM125.96 191.01h1.7v2.02h-1.7zM122.56 191.96h1.6v2.98h-1.6zM85.3 190.37h1.3v2.2h-1.3zM102.3 192.86h1.32v2.6h-1.32zM138.9 191.61h1.62v2.44h-1.62zM140.06 188.54h1.9v2.74h-1.9zM92.69 191.39h1.33v2.21h-1.33zM131.01 191.6h1.79v2.33h-1.79zM142.38 191.32h1.45v2.87h-1.45zM147.66 189.21h1.43v2.82h-1.43zM114.27 190.74h1.8v2.24h-1.8zM109.46 194.13h1.5v2.19h-1.5zM85.96 190.89h1.8v2.6h-1.8zM101.57 192.39h1.79v2.11h-1.79zM87.46 190.54h1.37v2.74h-1.37zM119.63 190.41h1.45v2.68h-1.45zM96.61 189.97h1.48v2.78h-1.48zM144.42 190.02h1.99v2.28h-1.99zM93.42 189.94h1.38v2.18h-1.38zM84.84 189.95h1.79v2.76h-1.79zM146.07 190.52h1.45v2.3h-1.45zM124.63 189.95h1.85v2.4h-1.85zM124.38 192.58h1.87v2.16h-1.87zM127.77 190.3h1.52v2.79h-1.52zM84.9 191.44h1.76v2.66h-1.76zM86.1 193.02h1.95v2.56h-1.95zM103.87 192.3h1.82v2.46h-1.82zM112.43 189.76h1.72v2.44h-1.72zM117.13 190.45h1.67v2.35h-1.67zM133.44 190.84h1.87v2.97h-1.87zM123.38 192.02h1.27v2.91h-1.27zM115.8 189.76h1.54v2.38h-1.54zM137.55 189.53h1.28v2.68h-1.28zM120.61 190.11h1.36v2.46h-1.36zM85.02 192.29h1.26v2.55h-1.26zM117.13 190.91h1.9v2.15h-1.9zM107.14 191.22h1.23v2.78h-1.23zM107.1 191.76h1.69v2.84h-1.69zM95.54 190.88h1.88v2.61h-1.88zM131.39 190.48h1.34v2.89h-1.34zM96.62 191.34h1.48v2.41h-1.48zM90.1 192.24h2v2.77h-2zM128.09 191.31h1.25v2.48h-1.25zM138.56 190.87h1.51v2.62h-1.51zM146.4 190.07h1.48v2.41h-1.48zM97.13 192.48h1.58v2.72h-1.58zM81.3 192.14h1.44v2.81h-1.44zM119.5 190.41h1.29v2.04h-1.29zM151.52 189.78h1.28v2.69h-1.28zM97.78 190.71h1.81v2.58h-1.81zM106.14 190.37h1.44v2.88h-1.44zM145.47 191.7h1.59v2.39h-1.59zM128.31 191.44h1.85v2.88h-1.85zM124.43 191.59h1.36v2.02h-1.36zM133.58 192.24h1.83v2.34h-1.83zM92.65 190.71h1.88v2.37h-1.88zM113.73 191.15h1.72v2.99h-1.72zM96.43 190.85h1.36v2.32h-1.36zM124.41 189.32h1.36v2.3h-1.36zM127.47 191.93h1.45v2.85h-1.45zM118.26 190.41h1.79v2.99h-1.79zM135.15 191.26h1.41v2.38h-1.41zM91.93 190.63h1.23v2.92h-1.23zM114.55 193.16h1.56v2.92h-1.56zM81.59 192.43h1.52v2.68h-1.52zM98.06 190.56h1.73v2.6h-1.73zM88.09 192.34h1.85v2.34h-1.85zM102.37 192.18h1.59v2.52h-1.59zM145.91 192.1h1.57v2.03h-1.57zM146.26 190.62h1.4v2.95h-1.4zM101.72 191.24h1.74v2.9h-1.74zM120.74 190.58h1.7v2.27h-1.7zM155.51 192.59h2.07v2.34h-2.07zM153.3 191.17h1.65v1.93h-1.65zM166.12 190.58h1.52v2.23h-1.52zM157.48 190.67h1.99v2.11h-1.99zM166.76 190.54h1.99v2.1h-1.99zM153.28 190.6h2.11v1.92h-2.11zM160.32 192.04h1.59v2.48h-1.59zM166.29 191.32h1.49v2.32h-1.49zM153.57 193.34h2.15v2.23h-2.15zM167.02 190.32h1.69v1.82h-1.69zM163.65 191.85h1.61v1.83h-1.61zM156.89 192.19h2.2v2.51h-2.2zM166.69 191.09h1.75v2.06h-1.75zM164.19 190.83h1.5v2.42h-1.5zM156.81 190.57h2.04v1.88h-2.04zM165.93 190.85h2.06v2.43h-2.06zM156.28 191.39h1.86v2.59h-1.86zM103.66 197.48h1.31v2.14h-1.31zM95.03 199.37h1.92v2.44h-1.92zM111.93 197.83h1.47v2.83h-1.47zM147.82 199.41h1.4v2.05h-1.4zM93.18 199.48h1.34v2.76h-1.34zM143.53 198.67h1.85v2.7h-1.85zM135.38 200.12h1.56v2.66h-1.56zM93.1 198.24h1.36v2.18h-1.36zM81.87 198.2h1.96v2.22h-1.96zM85.64 198.45h1.34v2.27h-1.34zM118.33 199.23h1.35v2.07h-1.35zM99.05 197.84h1.61v2.45h-1.61zM132.47 199.66h1.49v2.78h-1.49zM120.73 199.26h1.54v2.74h-1.54zM108.45 199.35h1.22v2.26h-1.22zM121.06 199.84h1.46v2.61h-1.46zM132.85 198.33h1.84v2.38h-1.84zM132.05 199.95h1.49v2.26h-1.49zM90.79 200h1.85v2.08h-1.85zM99.25 199.15h1.71v2.27h-1.71zM95.32 198.98h1.86v2.74h-1.86zM124.46 197.09h1.92v2.86h-1.92zM149.37 200.16h1.38v2.4h-1.38zM114.71 200.3h1.67v2.24h-1.67zM85.16 199.88h1.49v2.57h-1.49zM108.99 198.27h1.96v2.5h-1.96zM101.86 197.89h1.23v2.23h-1.23zM113.37 200.42h1.54v2.07h-1.54zM150.84 198.65h1.87v2.5h-1.87zM150.43 199.48h1.53v2.58h-1.53zM120.87 198.31h1.49v2.47h-1.49zM133.35 198.62h1.62v2.28h-1.62zM82.64 198h1.37v2.07h-1.37zM122.54 199.12h1.33v2.5h-1.33zM125.34 199.66h1.54v2.16h-1.54zM141.39 198.03h1.81v2.39h-1.81zM111.96 199.26h1.75v2.82h-1.75zM111.1 197.95h1.89v2.03h-1.89zM142.25 200.46h1.66v2.38h-1.66zM90.73 198.93h1.82v2.32h-1.82zM149.76 198.77h1.66v2.72h-1.66zM131.37 200.21h1.5v2.15h-1.5zM143.4 198.68h1.41v2.75h-1.41zM144.01 199.61h1.67v2.74h-1.67zM109.44 197.53h1.58v2.82h-1.58zM147.49 199.49h1.83v2.09h-1.83zM132.8 199.79h1.65v2.47h-1.65zM125.92 198.7h1.9v2.82h-1.9zM90.28 198.59h1.9v2.17h-1.9zM116.87 199.99h1.94v2.21h-1.94zM121.32 199.72h1.47v2.16h-1.47zM91.64 198.49h1.84v2.91h-1.84zM105.01 200.3h1.36v2.08h-1.36zM115.39 200.41h1.59v2.82h-1.59zM96.8 197.76h1.21v2.32h-1.21zM98.72 200.05h1.97v2.28h-1.97zM109.69 199.35h1.34v2.2h-1.34zM90.5 198.92h1.66v2.56h-1.66zM103.23 199.55h1.87v2.84h-1.87zM109.62 201.58h1.66v2.33h-1.66zM99.22 200.22h1.96v2.56h-1.96zM96.9 200.01h1.55v2.26h-1.55zM111.21 198.68h1.43v2.48h-1.43zM128.81 199.88h1.29v2.89h-1.29zM85.13 200.25h1.94v2.86h-1.94zM104.65 200.57h1.66v2.7h-1.66zM101.33 199.23h1.78v2.13h-1.78zM123.18 201.44h1.76v2.14h-1.76zM87.82 199.51h1.53v2.77h-1.53zM89.64 200.03h1.33v2.7h-1.33zM148.65 200.49h1.43v2.16h-1.43zM120.34 198.77h1.34v2.01h-1.34zM123.75 197.63h1.62v2.18h-1.62zM92.51 198.56h1.46v2.43h-1.46zM82.11 199.58h1.84v2.11h-1.84zM86.99 198.35h1.56v2.25h-1.56zM84.06 199.65h1.7v2.97h-1.7zM107.08 198.72h1.93v2.85h-1.93zM98.35 199.96h1.77v2.71h-1.77zM149.99 198.56h1.7v2.81h-1.7zM83.93 196.55h1.39v2.51h-1.39zM81.02 198.78h1.28v2.55h-1.28zM86.93 198.48h1.92v2.66h-1.92zM81.5 199.03h1.6v2.26h-1.6zM115.98 197.98h1.75v2.88h-1.75zM109.84 201.39h1.94v2.27h-1.94zM102.91 197.42h1.27v2.9h-1.27zM150.15 199.96h1.47v2.65h-1.47zM134.63 200.49h1.78v2.19h-1.78zM94.64 198.26h1.21v2.28h-1.21zM87.72 198.92h1.71v2.21h-1.71zM144.59 198.51h1.48v2.06h-1.48zM142.15 200.84h1.65v2.61h-1.65zM86.37 199.44h1.81v2.07h-1.81zM141.35 198.59h1.87v2.77h-1.87zM124.7 199.91h1.33v2.48h-1.33zM136.99 199.48h1.5v2.18h-1.5zM133.12 198.17h1.86v2.99h-1.86zM103.9 200.27h1.55v2.69h-1.55zM142.55 198.63h1.3v2.14h-1.3zM83.99 200.17h1.24v2.22h-1.24zM148.21 199.31h1.56v2.69h-1.56zM84.68 198.97h1.92v2.8h-1.92zM128.74 200.26h1.99v2.34h-1.99zM114.7 198.74h1.91v2.91h-1.91zM126.67 198.81h1.35v2.32h-1.35zM147.85 198.04h1.28v2.72h-1.28zM133.14 199.52h1.72v2.81h-1.72zM116.71 197.61h1.21v2.07h-1.21zM130.37 200.38h1.81v2.13h-1.81zM158.3 200.14h1.59v2.05h-1.59zM166.42 197.84h2.17v1.96h-2.17zM152.97 200.25h2.02v1.95h-2.02zM166.71 200.63h1.94v2.11h-1.94zM155.53 199.26h1.66v2.39h-1.66zM155.52 199.57h1.88v1.87h-1.88zM164.95 198.48h1.7v2.54h-1.7zM166.6 198.2h1.88v2.28h-1.88zM163.33 199.76h1.95v2.24h-1.95zM152.97 197.76h1.89v2.37h-1.89zM155.24 198.63h1.73v2.19h-1.73zM166.57 201.58h2.1v2.45h-2.1zM160.74 199.17h1.87v1.91h-1.87zM164.15 198.48h1.5v2.41h-1.5zM164.38 198.96h1.58v2.31h-1.58zM82.75 207.7h1.79v2.41h-1.79zM149.27 205.65h1.28v2.97h-1.28zM143.19 207.03h1.42v2.76h-1.42zM81.73 206.96h1.96v2.55h-1.96zM122.76 206.71h1.66v2.85h-1.66zM147.35 206.68h1.23v2.37h-1.23zM89.07 207.05h1.21v2.71h-1.21zM115.48 206.07h1.28v2.4h-1.28zM107.9 208.2h1.36v2.54h-1.36zM152.61 207.13h1.26v2.72h-1.26zM85.97 208.38h1.73v2.63h-1.73zM85.74 208.02h1.29v2.48h-1.29zM112.64 207.96h1.83v2.47h-1.83zM114.89 206.41h1.9v2.66h-1.9zM109.12 206.5h1.46v2.81h-1.46zM124.07 208.57h1.69v2.47h-1.69zM101.12 206.6h1.83v2.65h-1.83zM133.92 208.42h1.35v2.81h-1.35zM112.19 208.02h1.69v2.85h-1.69zM151.39 207.93h1.24v2.83h-1.24zM86.54 205.57h1.3v2.97h-1.3zM126.7 206.89h1.31v2.85h-1.31zM95.54 206.86h1.29v2.03h-1.29zM125.87 206.95h1.97v2.91h-1.97zM119.88 207.84h1.24v2.92h-1.24zM99.13 208.42h1.51v2.19h-1.51zM108.98 206.42h1.22v2.95h-1.22zM118.52 206.73h1.99v2.05h-1.99zM126.05 208.16h1.27v2.95h-1.27zM145.71 206.59h1.78v2.77h-1.78zM122.41 204.65h1.35v2.82h-1.35zM144.68 207.66h1.9v2.06h-1.9zM123.1 206.82h1.28v2.19h-1.28zM121.56 206.92h1.42v2.01h-1.42zM91.19 205.89h1.62v2.23h-1.62zM129.97 206.55h1.54v2h-1.54zM152.5 206.5h1.51v2.27h-1.51zM96.52 207.09h1.58v2.88h-1.58zM139.21 205.57h1.92v2.08h-1.92zM124.65 208.11h1.29v2.63h-1.29zM86.47 207.32h1.76v2.84h-1.76zM97.94 206.83h1.86v2.23h-1.86zM115.98 206.41h1.26v2.44h-1.26zM89.58 206.32h1.33v2.49h-1.33zM87 207.93h1.78v2.23h-1.78zM108.05 206.68h1.71v2.96h-1.71zM150.34 207.27h1.77v2.61h-1.77zM99.64 206.18h1.62v2.96h-1.62zM150.96 207.91h1.47v2.62h-1.47zM93.88 207.67h1.82v2.73h-1.82zM109.68 207.55h1.82v2.95h-1.82zM143.59 207.06h1.85v2.36h-1.85zM109.91 206.33h1.77v2.75h-1.77zM143.69 206.79h1.63v2.11h-1.63zM121.75 208.29h1.38v2.12h-1.38zM123.03 207.69h1.61v2.67h-1.61zM139.37 206.98h1.81v2.98h-1.81zM136.85 207.91h1.92v2.16h-1.92zM90.2 206.5h1.9v2.43h-1.9zM120.42 207.41h1.89v2.71h-1.89zM148.19 205.85h1.74v2.55h-1.74zM102.44 205.68h1.26v2.31h-1.26zM91.88 207.46h1.69v2.32h-1.69zM147.54 206.26h1.26v2.89h-1.26zM128.1 206.55h1.4v2.28h-1.4zM137.26 209.38h1.75v2.64h-1.75zM126.79 207h1.83v2.81h-1.83zM88.91 206.36h1.24v2.67h-1.24zM146.12 206.66h1.9v2.18h-1.9zM96.73 207.69h1.3v2.85h-1.3zM141.55 206.87h1.71v2.98h-1.71zM116.75 206.42h1.37v2.36h-1.37zM107.45 205.98h1.45v2.31h-1.45zM97.22 205.81h1.87v2.93h-1.87zM146.06 206.45h1.29v2.19h-1.29zM141.17 206.23h1.46v2.76h-1.46zM91.44 205.1h1.52v2.75h-1.52zM151.05 205.72h1.82v2.75h-1.82zM94.96 206.7h1.98v2.63h-1.98zM150.45 207.62h1.73v2.42h-1.73zM125.59 208.57h1.79v2.68h-1.79zM117.88 206.48h1.95v2.09h-1.95zM134.05 207.45h1.42v2.59h-1.42zM141.36 206.26h1.53v2.73h-1.53zM110.63 207.48h1.64v2.13h-1.64zM142.57 205.79h1.95v2.39h-1.95zM144.25 207.12h1.54v2.26h-1.54zM111.41 207.35h1.32v2.97h-1.32zM134.05 209.2h1.24v2.94h-1.24zM126.17 205.89h1.21v2.83h-1.21zM122.67 207.54h1.74v2.45h-1.74zM122.89 207.34h1.49v2.18h-1.49zM92.36 206.95h1.52v2.45h-1.52zM142.33 207.82h1.22v2.14h-1.22zM128.36 208.77h1.93v2.98h-1.93zM88.11 206.16h1.57v2.96h-1.57zM119.27 207.6h1.92v2.07h-1.92zM96.76 206.16h1.47v2.74h-1.47zM113.77 206.24h1.6v2.91h-1.6zM136.03 207.4h1.82v2.36h-1.82zM153.36 206.51h1.75v2.52h-1.75zM163.63 206.34h1.6v1.83h-1.6zM155.1 207.47h1.95v2.48h-1.95zM159.67 207.18h2.1v2.09h-2.1zM162.13 207.52h1.99v2.42h-1.99zM153.49 209.34h1.86v2.48h-1.86zM161.1 207.89h1.71v1.94h-1.71zM166.08 209.08h2.01v2.33h-2.01zM162.1 207.77h1.64v2.32h-1.64zM166.3 208.47h1.76v2.17h-1.76zM164.04 206.84h1.57v2.08h-1.57zM157.64 207.28h2.01v2.52h-2.01zM159.12 206.07h2.12v2.53h-2.12zM116.98 213.87h1.55v2.77h-1.55zM140.34 213.87h1.29v2.27h-1.29zM128.31 212.4h1.48v2.9h-1.48zM110.67 213.16h1.7v2.06h-1.7zM103.81 215.78h1.78v2.74h-1.78zM113.6 213.84h1.76v2.89h-1.76zM129.73 213.51h1.57v2.88h-1.57zM136.21 214.21h1.46v2.73h-1.46zM101.88 215.72h1.83v2.03h-1.83zM94.77 214.83h1.33v2.05h-1.33zM110.11 215.05h1.46v2.75h-1.46zM108.02 215.44h1.43v2.53h-1.43zM108.25 214.28h1.45v2.72h-1.45zM143.97 215.04h1.2v2.33h-1.2zM143.18 213.25h1.98v2.96h-1.98zM83.64 215.01h1.75v2.01h-1.75zM106.52 215.49h1.99v2.6h-1.99zM100.57 214.56h1.71v2.01h-1.71zM147.27 214.31h1.55v2.52h-1.55zM152.57 214.58h1.74v2.45h-1.74zM121.96 215.1h1.76v2.05h-1.76zM89.65 213.84h1.58v2.38h-1.58zM85.45 214.16h1.44v2.82h-1.44zM115.79 216.57h1.22v2.25h-1.22zM123.78 215.82h1.39v2.42h-1.39zM87.03 216.55h1.29v2.37h-1.29zM128.24 214.82h1.57v2.62h-1.57zM83.21 214.16h1.48v2.45h-1.48zM138.24 214.12h1.94v2.55h-1.94zM84.23 215.05h1.59v2.71h-1.59zM134.31 216.88h1.6v2.71h-1.6zM135.87 214.5h1.45v2.97h-1.45zM97.38 214.39h1.22v2.43h-1.22zM96.44 216.5h1.38v2.71h-1.38zM117.42 213.78h1.7v2.56h-1.7zM85.29 216.04h1.26v2.34h-1.26zM111.92 213.11h1.97v2.04h-1.97zM133.19 213.61h1.6v2.11h-1.6zM143.63 216.02h1.3v2.09h-1.3zM110.27 215.33h1.4v2.82h-1.4zM91.9 215.28h1.75v2.79h-1.75zM90.39 213.82h1.37v2.62h-1.37zM96.43 216h1.28v2.8h-1.28zM98.08 216.26h1.97v2.97h-1.97zM151 215.64h1.62v2.99h-1.62zM151.84 214.07h1.38v2.2h-1.38zM116.45 216.42h1.51v2.86h-1.51zM145.23 214.28h1.64v2.27h-1.64zM148.62 216.24h1.61v2.45h-1.61zM95.15 214.15h1.65v2.48h-1.65zM96.57 215.03h1.33v2.07h-1.33zM139.49 213.8h1.96v2.93h-1.96zM99.36 215.4h1.98v2.23h-1.98zM102.69 215.15h1.92v2.51h-1.92zM112.8 215.14h1.69v2.18h-1.69zM104.69 214.25h1.49v2.26h-1.49zM99.87 214.69h1.64v2.74h-1.64zM84.17 215.01h1.37v2.33h-1.37zM124.98 212.29h1.76v2.99h-1.76zM125.85 214.81h1.77v2.19h-1.77zM112.89 214.58h1.52v2.75h-1.52zM114.77 214.7h1.66v2.49h-1.66zM106.83 216.02h1.78v2.14h-1.78zM145.78 215.35h1.84v2.39h-1.84zM93.1 215.13h1.96v2.2h-1.96zM90.46 213.93h1.28v2.81h-1.28zM148.95 215.36h1.23v2.54h-1.23zM100.7 215.8h1.56v2.96h-1.56zM104.02 214.7h1.3v2.45h-1.3zM108.67 213.58h1.9v2.09h-1.9zM133.81 215.24h1.23v2.23h-1.23zM134.01 214.85h1.29v2.37h-1.29zM144.93 216.25h1.31v2.2h-1.31zM95.5 214.78h1.23v2.93h-1.23zM139.32 215.73h1.23v2.31h-1.23zM83.43 215.1h1.74v2.75h-1.74zM149.27 215.43h1.73v2.01h-1.73zM138.88 216.13h1.59v2.13h-1.59zM144.62 212.62h1.88v2.73h-1.88zM107.87 214.77h1.27v2.52h-1.27zM99.55 215.2h1.88v2.57h-1.88zM101.38 216.71h1.45v2.62h-1.45zM101.47 215.85h1.81v2.93h-1.81zM134.65 215.23h1.2v2.81h-1.2zM115.49 214.84h1.98v2.03h-1.98zM144.88 214.83h1.54v2.31h-1.54zM103.5 213.52h1.75v2.25h-1.75zM81.35 215.74h1.77v2.78h-1.77zM84.02 215.69h1.26v2.3h-1.26zM141.04 216.82h1.34v2.8h-1.34zM122.65 215.74h1.91v2.46h-1.91zM143.62 214.81h1.76v2.06h-1.76zM94.86 214.29h1.43v2.5h-1.43zM107.03 215.27h1.42v2.58h-1.42zM134.71 214.94h1.92v2.72h-1.92zM117.64 215.25h1.33v2.68h-1.33zM130.32 215.96h1.83v2.93h-1.83zM140.93 216.22h1.38v2.48h-1.38zM95.16 214.11h1.99v2.4h-1.99zM88.08 214.86h1.22v2.92h-1.22zM154.16 214.52h1.83v1.95h-1.83zM162.63 214.75h1.81v2.15h-1.81zM157.92 214.16h1.62v2.27h-1.62zM156.1 215.34h1.61v1.81h-1.61zM163.81 216.17h1.6v1.86h-1.6zM165.35 214.4h1.75v2.04h-1.75zM157.57 216.6h2.12v2.09h-2.12zM157.51 214.62h1.43v2.48h-1.43zM155.42 216.38h1.58v2.1h-1.58zM157.64 213.96h1.67v1.91h-1.67zM159.69 215.19h2.18v2.13h-2.18zM159.51 214.41h1.99v2.3h-1.99zM154.97 216.71h1.49v2.36h-1.49zM155.02 215.8h2.13v1.94h-2.13zM161.29 212.39h2.15v2.09h-2.15zM154.95 216.6h2.12v2.23h-2.12zM165.34 215.01h2.06v2.57h-2.06z" fill="#0c0c0c"/>
<line x1="177.5" y1="73.15" x2="179.5" y2="73.15" stroke="#4a4a4a" stroke-width="0.8"/>
<line x1="177.5" y1="89.05" x2="179.5" y2="89.05" stroke="#4a4a4a" stroke-width="0.8"/>
<line x1="177.5" y1="104.95" x2="179.5" y2="104.95" stroke="#4a4a4a" stroke-width="0.8"/>
<line x1="177.5" y1="120.85" x2="179.5" y2="120.85" stroke="#4a4a4a" stroke-width="0.8"/>
<line x1="177.5" y1="136.75" x2="179.5" y2="136.75" stroke="#4a4a4a" stroke-width="0.8"/>
<line x1="177.5" y1="152.65" x2="179.5" y2="152.65" stroke="#4a4a4a" stroke-width="0.8"/>
<line x1="177.5" y1="168.55" x2="179.5" y2="168.55" stroke="#4a4a4a" stroke-width="0.8"/>
<line x1="177.5" y1="184.45" x2="179.5" y2="184.45" stroke="#4a4a4a" stroke-width="0.8"/>
<line x1="177.5" y1="200.35" x2="179.5" y2="200.35" stroke="#4a4a4a" stroke-width="0.8"/>
<line x1="177.5" y1="216.25" x2="179.5" y2="216.25" stroke="#4a4a4a" stroke-width="0.8"/>
<rect x="202.5" y="42.5" width="100.5" height="175.8" fill="none" stroke="#4a4a4a" stroke-width="1"/>
<rect x="208.7" y="41.9" width="4.75" height="177" fill="#cbcbf8"/>
<rect x="215.94" y="41.9" width="4.75" height="177" fill="#cbcbf8"/>
<rect x="223.18" y="41.9" width="4.75" height="177" fill="#cbcbf8"/>
<rect x="230.42" y="41.9" width="4.75" height="177" fill="#cbcbf8"/>
<rect x="237.66" y="41.9" width="4.75" height="177" fill="#cbcbf8"/>
<rect x="244.9" y="41.9" width="4.75" height="177" fill="#cbcbf8"/>
<rect x="252.14" y="41.9" width="4.75" height="177" fill="#cbcbf8"/>
<rect x="259.38" y="41.9" width="4.75" height="177" fill="#cbcbf8"/>
<rect x="266.62" y="41.9" width="4.75" height="177" fill="#cbcbf8"/>
<rect x="273.86" y="41.9" width="4.75" height="177" fill="#cbcbf8"/>
<path d="M285.39 62.51h1.61v1.5h-1.61zM220.18 65.11h1.87v1.37h-1.87zM219.31 63.85h1.83v1.92h-1.83zM234 65.08h1.47v1.92h-1.47zM223.72 65.24h1.35v1.45h-1.35zM261.6 64.6h1.35v1.78h-1.35zM213.78 65.26h1.78v1.36h-1.78zM281.05 62.09h1.79v1.85h-1.79zM277.76 65.23h1.62v1.44h-1.62zM204.12 63.82h1.4v1.66h-1.4zM250.5 65.24h1.38v1.79h-1.38zM213.07 64.37h1.62v1.86h-1.62zM226.08 61.55h1.67v1.84h-1.67zM239.77 63.6h1.41v1.43h-1.41zM242.93 64.35h1.35v1.83h-1.35zM244.18 63.97h1.34v1.8h-1.34zM283.73 63.95h1.78v1.65h-1.78zM226.16 66.15h1.79v1.47h-1.79zM220.05 64.46h1.43v1.32h-1.43zM261.61 65.42h1.36v1.44h-1.36zM285.38 65.07h1.31v1.39h-1.31zM283.33 63.66h1.79v1.58h-1.79zM279.66 64.24h1.88v1.64h-1.88zM209.42 66.58h1.65v1.35h-1.65zM284.52 62.88h1.85v1.46h-1.85zM259.77 64.78h1.59v1.48h-1.59zM278.92 64.86h1.86v1.63h-1.86zM239.01 61.8h1.37v1.51h-1.37zM222.76 64.15h1.6v1.84h-1.6zM272.15 65.56h1.58v1.92h-1.58zM260.84 65.39h1.68v1.7h-1.68zM270.93 64.21h1.37v1.47h-1.37zM221.21 64.43h1.78v1.71h-1.78zM215.44 63.27h1.59v1.33h-1.59zM269.62 64.92h1.89v1.33h-1.89zM205.62 64.91h1.78v1.45h-1.78zM285.29 65.39h1.43v1.7h-1.43zM215.51 63.43h1.39v1.5h-1.39zM255.54 61.36h1.99v1.73h-1.99zM239.95 62.95h1.64v1.7h-1.64zM231.76 66.43h1.57v1.34h-1.57zM218.53 64.14h1.31v1.44h-1.31zM271.07 65.25h1.48v1.89h-1.48zM282.62 65.61h1.39v1.86h-1.39zM266.63 64.21h2v1.43h-2zM255.56 64.8h1.53v1.44h-1.53zM265.13 64.17h1.96v1.64h-1.96zM250.03 62.67h1.91v1.9h-1.91zM251.94 64.74h1.32v2h-1.32zM281.89 63.2h1.93v1.86h-1.93zM228.21 63.96h1.92v1.75h-1.92zM223.01 64.5h1.78v1.33h-1.78zM285.41 66.09h1.5v1.51h-1.5zM285.08 64.73h1.92v1.93h-1.92zM244.86 66.81h1.84v1.39h-1.84zM272.82 63.28h1.85v1.62h-1.85zM267.87 66.47h1.85v1.46h-1.85zM285.61 66.93h1.82v1.35h-1.82zM210.91 65.73h1.94v1.49h-1.94zM281.21 64.2h1.42v1.68h-1.42zM246.94 61.59h1.34v1.4h-1.34zM242.53 63.78h1.98v1.39h-1.98zM263.01 63.58h1.78v1.35h-1.78zM279.65 72.75h1.95v1.32h-1.95zM268.25 71.62h1.72v1.59h-1.72zM262.51 74.16h1.51v1.93h-1.51zM245.24 69.76h1.92v1.37h-1.92zM271.91 69.63h1.89v1.69h-1.89zM274.9 73.36h1.57v1.39h-1.57zM228.48 72.95h1.66v1.67h-1.66zM224.28 73.45h1.91v1.45h-1.91zM288.55 71.68h1.9v1.55h-1.9zM245.61 71.28h1.87v1.81h-1.87zM239.4 71.59h1.95v1.48h-1.95zM284.35 69.61h1.75v1.57h-1.75zM265.97 71.85h1.37v1.52h-1.37zM268.16 74.14h1.98v1.83h-1.98zM273.13 71.45h1.74v1.4h-1.74zM275.74 72.04h1.97v1.49h-1.97zM262.66 73.21h1.95v1.45h-1.95zM289.55 73.4h1.48v1.96h-1.48zM271.97 72.45h1.86v1.37h-1.86zM275.13 68.69h1.9v1.51h-1.9zM275.43 70.13h1.9v1.49h-1.9zM207.87 71.18h1.43v1.38h-1.43zM289.1 73.57h1.75v1.84h-1.75zM269.69 73.51h1.66v1.78h-1.66zM211.17 73.42h1.92v1.54h-1.92zM265.95 73.44h1.45v1.4h-1.45zM264.9 72.19h1.41v1.62h-1.41zM246.8 71.69h1.86v1.5h-1.86zM229.94 74.34h1.5v1.43h-1.5zM250.28 71.54h1.67v1.79h-1.67zM217.9 69.97h1.86v1.68h-1.86zM237.78 73.9h1.99v1.31h-1.99zM257.56 74.57h1.48v1.79h-1.48zM265.46 72.04h1.7v1.83h-1.7zM250.66 73.5h1.51v1.82h-1.51zM280.41 73.09h1.49v1.38h-1.49zM280.75 71.85h1.59v1.57h-1.59zM282.22 70.84h1.47v1.34h-1.47zM254.9 72.75h1.64v1.49h-1.64zM225.32 74.46h1.78v1.53h-1.78zM207.83 72.35h1.94v1.43h-1.94zM253.81 71.49h1.32v1.73h-1.32zM248.36 71.32h1.82v1.6h-1.82zM204.02 71.3h1.53v1.85h-1.53zM216.14 71.14h1.55v1.53h-1.55zM287.18 73.18h1.45v1.51h-1.45zM268.57 71.17h1.36v1.65h-1.36zM281.77 71.87h1.62v1.61h-1.62zM231.78 72.21h1.39v1.44h-1.39zM241.05 69.63h1.72v1.46h-1.72zM254.17 70.39h1.99v1.44h-1.99zM238.51 73.3h1.96v1.68h-1.96zM206.58 71.54h1.63v1.85h-1.63zM244.33 72.89h1.89v1.65h-1.89zM261.24 72.05h1.32v1.86h-1.32zM234.68 71.18h1.94v1.89h-1.94zM254.96 78.89h1.57v1.92h-1.57zM270.64 80.29h1.71v1.47h-1.71zM218.6 82.55h1.86v1.98h-1.86zM235.68 77.49h1.83v1.36h-1.83zM259.12 82.06h1.82v1.82h-1.82zM248.88 80.87h1.31v1.73h-1.31zM218.19 80.47h1.68v1.43h-1.68zM231.82 80.4h1.46v1.91h-1.46zM215.6 80.83h1.73v1.8h-1.73zM275.79 81.04h1.97v1.31h-1.97zM219.52 79.37h2v1.56h-2zM259.68 78.95h1.57v1.86h-1.57zM218.44 80.2h1.51v1.81h-1.51zM214.82 79.82h1.33v1.66h-1.33zM207.45 79.77h2v1.33h-2zM234.9 78.51h1.39v1.92h-1.39zM275.9 80.62h1.52v1.61h-1.52zM282.17 80.32h1.67v1.36h-1.67zM250.18 79.65h1.49v1.39h-1.49zM278.27 78.72h1.41v1.92h-1.41zM260.17 80.95h1.99v1.4h-1.99zM286.36 81.12h1.79v1.32h-1.79zM221.86 78.92h1.65v1.86h-1.65zM225.89 81.95h1.65v1.32h-1.65zM227.09 81.16h1.98v1.85h-1.98zM274.41 81.11h1.83v1.46h-1.83zM284.47 80.59h1.36v1.63h-1.36zM270.6 80.92h1.81v1.47h-1.81zM286.64 81.21h1.68v1.57h-1.68zM204.48 80.62h1.49v1.82h-1.49zM217.79 79.25h1.66v1.38h-1.66zM216.99 80.55h1.94v1.89h-1.94zM232.28 79.11h1.76v1.77h-1.76zM235.54 78.89h1.37v1.32h-1.37zM238.47 82.79h1.87v1.35h-1.87zM217.43 80.6h1.31v1.92h-1.31zM249.07 80.18h1.65v2h-1.65zM260.49 83.49h1.67v1.89h-1.67zM273.94 79.08h1.5v1.86h-1.5zM216.91 78.85h1.73v1.49h-1.73zM288.7 77.86h1.87v1.42h-1.87zM226.12 80.69h1.71v1.33h-1.71zM239.84 79.01h1.36v1.77h-1.36zM281.46 80.51h1.92v1.5h-1.92zM216.76 82.17h1.81v1.33h-1.81zM240.26 79.47h1.72v1.9h-1.72zM234.17 78.81h1.97v2h-1.97zM211.49 80.66h1.56v1.76h-1.56zM207.68 80.21h1.94v1.44h-1.94zM221.73 80.99h1.63v1.51h-1.63zM248.09 80.62h1.45v1.51h-1.45zM207.86 80.25h1.92v1.77h-1.92zM221.06 80.38h1.58v1.71h-1.58zM285.1 81.98h1.51v1.32h-1.51zM245.63 80.99h1.53v1.84h-1.53zM227.56 80.53h1.54v1.55h-1.54zM288.27 78.44h1.85v1.85h-1.85zM265.42 82.01h1.95v1.71h-1.95zM233.63 81.59h1.47v1.79h-1.47zM276.67 79.8h1.59v1.83h-1.59zM207.12 79.03h1.49v1.78h-1.49zM231.2 83.22h1.65v1.66h-1.65zM285.83 79.55h1.83v1.7h-1.83zM249.25 79.88h1.39v1.73h-1.39zM212.11 81.39h1.34v1.86h-1.34zM211.43 80.48h1.77v1.32h-1.77zM238.64 87.26h1.42v1.64h-1.42zM284.03 87.33h1.81v1.77h-1.81zM216.22 86.99h1.42v1.96h-1.42zM221.81 88.5h1.72v1.8h-1.72zM237.75 88.23h1.37v1.9h-1.37zM245.36 89.21h1.82v1.93h-1.82zM207.71 87.49h1.99v1.92h-1.99zM210.5 88.58h1.85v1.81h-1.85zM255.2 87.52h1.88v1.6h-1.88zM204.21 87.77h1.71v1.39h-1.71zM224.59 87.69h1.37v1.51h-1.37zM226.84 88.37h1.38v1.58h-1.38zM225.01 89.8h1.32v1.36h-1.32zM283.45 88.11h1.51v1.89h-1.51zM221.92 89.17h1.95v1.38h-1.95zM259.9 88.71h1.66v1.94h-1.66zM220.22 87.86h1.71v1.66h-1.71zM283.4 89.19h1.68v1.86h-1.68zM267.69 89.02h1.53v1.5h-1.53zM221.76 88.77h1.69v1.35h-1.69zM253.18 87.66h1.39v1.75h-1.39zM251.67 86.27h1.92v1.48h-1.92zM204.44 85.55h1.99v1.52h-1.99zM278.48 88.22h1.43v1.84h-1.43zM225.75 90.16h1.88v1.54h-1.88zM264.05 88.64h1.81v1.46h-1.81zM211.85 88.87h1.32v1.6h-1.32zM243.93 89.19h1.7v1.39h-1.7zM235.97 88.02h1.53v1.76h-1.53zM265.37 88.7h1.82v1.66h-1.82zM227.62 90.67h1.83v1.47h-1.83zM212.95 88.6h1.58v1.87h-1.58zM226.55 88.97h1.86v1.67h-1.86zM208.62 87.86h1.64v1.34h-1.64zM289.09 88.52h1.89v1.36h-1.89zM233.39 88.06h1.62v1.76h-1.62zM280.57 88.41h1.5v1.88h-1.5zM247.37 88.02h1.99v1.6h-1.99zM284.21 86.47h1.44v1.91h-1.44zM245.73 88.16h1.91v1.82h-1.91zM219.33 89.09h1.78v1.38h-1.78zM224.63 86.33h1.77v1.84h-1.77zM239.48 90.26h1.78v1.98h-1.78zM213.86 87.86h1.54v1.34h-1.54zM259.97 89.94h1.47v1.8h-1.47zM209.43 87.57h1.82v1.66h-1.82zM244.61 89.66h1.91v1.97h-1.91zM250.73 85.76h1.99v1.74h-1.99zM286.51 89.52h1.93v1.87h-1.93zM240.23 86.84h1.78v1.34h-1.78zM280.06 88.44h1.61v1.31h-1.61zM246.93 88.99h1.85v1.62h-1.85zM257.07 87.5h1.36v1.98h-1.36zM276.33 89.29h1.33v1.54h-1.33zM250.44 88.03h1.33v1.35h-1.33zM286.63 88.94h1.61v1.83h-1.61zM280.27 88.1h1.58v1.87h-1.58zM237.53 89.19h1.46v1.88h-1.46zM267.34 87.1h1.97v1.88h-1.97zM217.75 87.25h1.35v1.37h-1.35zM224.27 85.75h1.85v1.54h-1.85zM279.33 89.24h1.99v1.56h-1.99zM228.67 87.44h1.84v1.81h-1.84zM213.78 95h1.67v1.73h-1.67zM268.42 94.41h1.66v1.69h-1.66zM209.12 94.62h1.37v1.32h-1.37zM267.52 97.6h1.77v1.88h-1.77zM248.21 96.45h1.65v1.78h-1.65zM283 95.68h1.95v1.64h-1.95zM233.81 97.46h1.94v1.5h-1.94zM279.71 94.11h1.54v1.96h-1.54zM256.15 95.63h1.33v1.81h-1.33zM231.59 97.39h1.69v1.76h-1.69zM262.06 97.24h1.85v1.68h-1.85zM237.1 95.3h1.31v1.7h-1.31zM236.23 96.25h1.93v1.58h-1.93zM223.09 94.66h1.7v1.59h-1.7zM252.57 95.08h1.34v1.36h-1.34zM240.54 96.81h1.82v1.73h-1.82zM236.09 98.04h1.74v1.91h-1.74zM206.82 98.33h1.89v1.65h-1.89zM282.22 95.51h1.55v1.99h-1.55zM227.07 96.39h1.34v1.42h-1.34zM288.31 96.93h1.91v1.41h-1.91zM222.06 96.68h1.32v1.58h-1.32zM204.52 95.88h1.85v1.84h-1.85zM287.96 96.99h1.33v1.78h-1.33zM261.42 96.21h1.57v1.99h-1.57zM270.68 94.61h1.69v1.33h-1.69zM239.02 96.53h1.66v1.67h-1.66zM203.9 98.92h1.76v1.88h-1.76zM271.63 94.96h1.46v1.54h-1.46zM283.47 96.6h1.52v1.95h-1.52zM241.75 95.25h1.44v1.71h-1.44zM211.47 96.26h1.53v1.67h-1.53zM231.38 97.02h1.89v1.67h-1.89zM285.4 96.45h1.56v1.42h-1.56zM204.83 95.31h1.85v1.31h-1.85zM236.42 95.05h1.4v1.78h-1.4zM217.72 93.09h1.86v1.81h-1.86zM268.99 96.08h1.9v1.8h-1.9zM273.38 99.11h1.55v1.5h-1.55zM247.23 96.42h1.36v1.63h-1.36zM266.51 97.42h1.64v1.61h-1.64zM288.19 95.69h1.42v1.95h-1.42zM229.2 95.84h1.53v1.39h-1.53zM249.96 98.11h1.68v1.49h-1.68zM277.64 95.73h1.87v1.61h-1.87zM211.58 96.07h1.69v1.55h-1.69zM270.76 96.76h1.33v1.61h-1.33zM229 96.62h1.84v1.71h-1.84zM224.4 94.71h1.95v1.97h-1.95zM216.46 96.42h1.82v1.92h-1.82zM244.45 95.18h1.81v1.54h-1.81zM256.95 95.41h1.6v1.81h-1.6zM229.28 95.1h1.5v1.57h-1.5zM249.46 96.72h1.33v1.8h-1.33zM214.86 95.5h1.47v1.67h-1.47zM257.51 93.53h1.52v1.69h-1.52zM243.64 96.84h1.38v1.61h-1.38zM236.25 103.69h1.84v1.63h-1.84zM264.94 102.55h1.67v1.88h-1.67zM208.84 104.58h1.58v1.34h-1.58zM215.45 105.79h1.95v1.37h-1.95zM215.72 104.24h1.5v1.82h-1.5zM251.9 106.2h1.89v1.77h-1.89zM252.45 105.95h1.59v1.79h-1.59zM288.77 106.02h1.76v1.49h-1.76zM229.45 103.18h1.34v1.34h-1.34zM269.68 102.92h1.68v1.83h-1.68zM271.67 106.08h1.93v1.46h-1.93zM268.02 104.18h1.79v1.45h-1.79zM228.15 104.08h1.52v1.48h-1.52zM273.75 103.85h1.42v1.63h-1.42zM270.75 106.66h1.77v1.86h-1.77zM266.03 104.4h1.66v1.4h-1.66zM244.69 102.61h1.4v1.69h-1.4zM259.67 105.9h1.71v1.59h-1.71zM249.45 103.22h1.38v1.48h-1.38zM278.71 106.09h1.42v1.32h-1.42zM289.82 104.13h1.75v1.47h-1.75zM230.08 105.54h1.99v1.9h-1.99zM279.92 104.53h1.8v1.71h-1.8zM218.44 101.98h1.8v1.42h-1.8zM211.16 105.76h1.54v1.87h-1.54zM267.5 103.25h1.41v1.84h-1.41zM223.08 104.25h1.47v1.94h-1.47zM209.82 104.8h1.34v1.75h-1.34zM224.21 103.27h1.57v1.55h-1.57zM289.74 104.58h1.46v1.99h-1.46zM216.32 102.64h1.38v1.88h-1.38zM239.38 105.81h1.58v1.58h-1.58zM289.08 103.23h1.93v1.76h-1.93zM207.69 104.03h1.84v1.41h-1.84zM281.45 102.81h1.67v1.9h-1.67zM219.96 104.7h1.43v1.49h-1.43zM263.14 100.89h1.51v1.92h-1.51zM205.93 103h1.67v1.46h-1.67zM204.84 102.08h1.95v1.92h-1.95zM230.62 100.22h1.77v1.56h-1.77zM222.09 104.61h1.67v1.93h-1.67zM238.01 103.77h1.72v1.85h-1.72zM246.72 105.88h1.63v1.41h-1.63zM209.1 104.49h1.31v1.73h-1.31zM257.35 103.7h1.39v1.34h-1.39zM286.71 103.2h1.54v1.45h-1.54zM268.6 104.78h1.84v1.69h-1.84zM261.3 102.79h1.72v1.66h-1.72zM254.13 106.35h1.63v1.42h-1.63zM217.48 105.11h1.45v1.88h-1.45zM234.15 100.26h1.35v1.97h-1.35zM257.71 104.05h1.67v1.5h-1.67zM232.15 103.45h1.8v1.32h-1.8zM236.74 105.06h1.66v1.81h-1.66zM234.53 104.66h1.78v1.57h-1.78zM269.18 102.4h1.48v1.68h-1.48zM255.89 103.67h1.39v1.71h-1.39zM212.4 111.71h1.85v1.34h-1.85zM211.52 111.57h1.42v1.68h-1.42zM206.63 111.15h1.64v1.87h-1.64zM264.25 111.64h1.72v1.96h-1.72zM272.85 112.58h1.98v1.99h-1.98zM213.54 111.8h1.57v1.86h-1.57zM285.73 110.17h1.91v1.74h-1.91zM277.6 112.75h1.69v1.94h-1.69zM232.11 113.4h1.51v1.86h-1.51zM265.14 110.84h1.47v1.86h-1.47zM238.76 111.22h1.62v1.8h-1.62zM204.95 113.21h1.56v1.86h-1.56zM233.65 111.37h1.71v1.85h-1.71zM232.04 110.67h1.92v1.51h-1.92zM227.62 111.93h1.4v1.53h-1.4zM247.38 113.92h1.64v1.63h-1.64zM242.86 114.17h1.58v1.72h-1.58zM242.01 111.58h1.44v1.63h-1.44zM251.94 113.59h1.31v1.78h-1.31zM251.92 110.15h1.45v1.96h-1.45zM209.49 113.4h1.76v1.85h-1.76zM277.31 111.04h1.54v1.97h-1.54zM251.42 113.62h1.46v1.44h-1.46zM211.82 112.16h1.45v1.49h-1.45zM212.51 112.4h1.46v1.43h-1.46zM275.25 113.19h1.52v1.53h-1.52zM269.09 111.71h1.35v1.61h-1.35zM242.63 112.25h1.68v1.32h-1.68zM274.51 111.19h1.86v1.77h-1.86zM217.6 114.17h1.53v1.54h-1.53zM289.7 112.64h1.55v1.82h-1.55zM236.44 109.73h1.6v1.79h-1.6zM263.77 112.51h1.5v1.38h-1.5zM251.31 111.65h1.99v1.8h-1.99zM270.96 113.44h1.79v1.84h-1.79zM236.39 111.82h1.94v1.81h-1.94zM226.26 112.19h1.69v1.35h-1.69zM218.05 110.31h1.64v1.34h-1.64zM244.91 111.96h1.6v1.47h-1.6zM242.88 112.92h1.9v1.65h-1.9zM235.01 111.03h1.94v1.62h-1.94zM265.61 112.03h1.54v1.97h-1.54zM285.15 111.73h1.63v1.83h-1.63zM220.77 112.5h1.65v1.4h-1.65zM213.9 110.6h1.66v1.8h-1.66zM262.48 111.76h1.65v1.52h-1.65zM286.02 113.06h1.99v1.39h-1.99zM269.95 110.91h1.56v1.98h-1.56zM216.86 113.55h1.42v1.49h-1.42zM219.08 109.29h1.88v1.55h-1.88zM247.15 111.45h1.45v1.83h-1.45zM205.41 111.72h1.77v1.66h-1.77zM231.37 111.49h1.44v1.51h-1.44zM234.71 112.4h1.33v1.42h-1.33zM267.92 114.86h1.83v1.66h-1.83zM248.01 111.4h1.53v1.47h-1.53zM259.87 112.78h2v1.58h-2zM233.8 112.99h1.81v1.85h-1.81zM239.22 111.12h1.86v1.56h-1.86zM212.9 114.31h1.78v1.99h-1.78zM275.17 112.16h1.51v1.81h-1.51zM228.31 112.21h1.62v1.99h-1.62zM226.74 113.23h1.42v1.54h-1.42zM282.79 114.03h1.8v1.91h-1.8zM252.53 113.65h1.97v1.6h-1.97zM281.22 112.78h1.81v1.44h-1.81zM279.2 118.23h1.88v1.68h-1.88zM271 119.31h1.89v1.68h-1.89zM262.07 121.93h1.9v1.53h-1.9zM268.08 119.02h1.89v1.84h-1.89zM242.89 118.48h1.92v1.78h-1.92zM280.53 121.15h1.57v1.88h-1.57zM270.13 121.86h1.57v1.59h-1.57zM245.75 119.25h1.57v1.82h-1.57zM229.76 121.82h1.39v1.35h-1.39zM222.35 119.68h1.56v1.8h-1.56zM260.69 120.3h1.89v1.56h-1.89zM277.52 118.09h1.95v1.75h-1.95zM233.85 119.87h1.72v1.83h-1.72zM237.5 120.72h1.31v1.81h-1.31zM221.78 120.02h1.8v1.4h-1.8zM215.15 120.22h1.51v1.62h-1.51zM229.04 119.34h1.54v1.48h-1.54zM265.86 120.72h1.45v1.92h-1.45zM240.93 118.79h1.91v1.62h-1.91zM239.37 120.27h1.75v1.97h-1.75zM272.27 118.59h1.83v1.43h-1.83zM253.03 121.34h1.62v1.74h-1.62zM270.84 122.69h1.56v1.44h-1.56zM285.05 118.04h1.8v1.6h-1.8zM264.45 120.67h1.6v1.96h-1.6zM247.64 117.94h1.82v1.99h-1.82zM207.95 121.42h1.77v1.69h-1.77zM210.55 121.87h1.48v1.59h-1.48zM271.29 118.77h1.53v1.6h-1.53zM210.4 117.84h1.75v1.77h-1.75zM252.92 118.13h1.68v1.35h-1.68zM217.86 120.71h1.8v1.74h-1.8zM276.56 120.27h1.64v1.83h-1.64zM265.1 121.6h1.66v1.62h-1.66zM227.45 118.77h1.75v1.87h-1.75zM270.45 122.09h1.83v1.89h-1.83zM250.97 119.55h1.97v1.75h-1.97zM232.68 121.95h1.68v1.36h-1.68zM250.52 119.62h1.99v1.99h-1.99zM287.08 123.02h1.99v1.57h-1.99zM219.86 118.68h1.4v1.33h-1.4zM277.21 119.76h1.5v1.44h-1.5zM206.92 119.54h1.79v1.81h-1.79zM214.81 118.74h1.81v1.5h-1.81zM215.55 121.15h1.59v1.76h-1.59zM246.53 118.59h1.94v1.44h-1.94zM286.37 119.3h1.75v1.67h-1.75zM215.99 119.91h1.72v1.81h-1.72zM224.04 119.31h1.52v1.7h-1.52zM250.73 121.7h1.38v1.59h-1.38zM223.01 119.06h1.56v1.55h-1.56zM251.24 118.72h1.38v1.56h-1.38zM227.16 120.44h1.33v1.75h-1.33zM204.34 118.35h1.35v1.4h-1.35zM228.72 119.56h1.73v1.58h-1.73zM211.07 120.4h1.9v1.82h-1.9zM274.34 119.98h2v1.7h-2zM225.86 117.1h1.64v1.47h-1.64zM226.93 122.61h1.84v1.63h-1.84zM205.17 118.27h1.97v1.61h-1.97zM248.09 117.65h1.92v1.92h-1.92zM206.39 118.57h1.55v1.34h-1.55zM254.07 119.3h1.84v1.8h-1.84zM271.59 117.88h1.49v1.39h-1.49zM220.66 125.46h1.55v1.37h-1.55zM280.61 128.49h1.97v1.71h-1.97zM256.38 125.01h1.86v1.38h-1.86zM245.47 126.81h1.94v1.33h-1.94zM207.41 126.96h1.4v1.66h-1.4zM242.21 129.6h1.6v1.53h-1.6zM229.74 127.18h1.33v1.3h-1.33zM271.69 128.37h1.65v1.45h-1.65zM269.67 126.96h1.54v1.88h-1.54zM264.2 128.61h1.69v1.56h-1.69zM267.35 127.23h1.43v1.56h-1.43zM279.64 128.72h1.83v1.51h-1.83zM286.07 128.01h1.83v1.87h-1.83zM271.57 127.31h1.67v1.9h-1.67zM222.14 127.25h1.47v1.42h-1.47zM221.74 126.7h1.62v1.49h-1.62zM276.21 128.96h1.4v1.49h-1.4zM242.04 128.23h1.46v1.57h-1.46zM239.67 127.99h1.61v1.84h-1.61zM234.34 128.88h1.91v1.34h-1.91zM244.42 129.09h1.55v1.35h-1.55zM243.16 126.14h1.37v1.67h-1.37zM226.73 129.65h1.52v1.33h-1.52zM273.29 128.58h1.59v1.57h-1.59zM234.16 128.31h1.87v1.78h-1.87zM231.63 127.83h1.44v1.82h-1.44zM263.56 131.17h1.7v1.32h-1.7zM206.68 128.02h1.86v1.85h-1.86zM213.28 127.13h1.95v1.7h-1.95zM269.34 128.92h1.98v1.32h-1.98zM251.47 127.74h1.61v1.79h-1.61zM231.45 125.99h1.34v1.69h-1.34zM264.54 125.85h1.42v1.69h-1.42zM226.21 126.68h1.45v1.86h-1.45zM264 128.61h1.92v1.87h-1.92zM287.97 127.13h1.97v1.71h-1.97zM240.08 127.72h1.78v1.97h-1.78zM259.96 127.58h1.34v1.82h-1.34zM231.33 127.45h1.77v1.69h-1.77zM220.89 126.5h1.58v1.62h-1.58zM263.87 128.16h1.88v1.99h-1.88zM240.85 126.57h1.92v1.3h-1.92zM261.89 128.44h1.46v1.79h-1.46zM277.91 126.4h1.94v1.98h-1.94zM233.61 127.65h1.88v1.73h-1.88zM219.58 128.31h1.36v1.47h-1.36zM205.93 127.02h1.38v1.77h-1.38zM219.1 129.64h1.9v1.93h-1.9zM206.98 126.24h1.56v1.86h-1.56zM214.84 126.55h1.8v1.6h-1.8zM251.88 128.17h1.44v1.73h-1.44zM235.11 128.86h1.9v1.57h-1.9zM211.13 128.27h1.5v1.33h-1.5zM225.64 128.41h1.99v1.66h-1.99zM204.34 127.59h1.74v1.56h-1.74zM264.05 129.46h1.67v1.7h-1.67zM276.39 128.66h1.64v1.85h-1.64zM241.17 128.74h1.41v1.52h-1.41zM268.58 128.91h1.55v1.33h-1.55zM287.42 128.94h1.32v1.34h-1.32zM222.41 128.38h1.41v1.42h-1.41zM219.34 127.32h1.5v1.6h-1.5zM247.74 137.24h1.95v1.38h-1.95zM252.63 135.4h1.71v1.48h-1.71zM275.77 134.39h1.4v1.9h-1.4zM258.68 136.64h1.41v1.38h-1.41zM274.85 138.82h1.5v1.45h-1.5zM242.32 136.03h1.41v1.54h-1.41zM245.89 135.79h1.65v1.78h-1.65zM240.77 136h1.36v1.44h-1.36zM250.86 136.39h1.77v1.79h-1.77zM246.34 135.32h1.36v1.56h-1.36zM217.88 135.36h1.97v1.62h-1.97zM276.45 134.46h1.95v1.62h-1.95zM287.54 135.2h1.8v1.98h-1.8zM249.01 135.02h1.36v1.89h-1.36zM281.78 137.6h1.99v1.82h-1.99zM289.51 136.87h1.47v1.68h-1.47zM237.21 137.14h1.57v1.8h-1.57zM221 135.48h1.72v1.36h-1.72zM207.21 137.77h1.6v1.36h-1.6zM248.89 134.26h1.94v1.47h-1.94zM281.59 134.27h1.97v1.57h-1.97zM221.91 135.9h1.41v1.64h-1.41zM259.26 135.7h1.47v1.44h-1.47zM257.76 135.2h1.31v1.92h-1.31zM279.55 137.85h1.71v1.65h-1.71zM255.22 135.54h1.49v1.46h-1.49zM208.23 133.53h1.59v1.95h-1.59zM222.15 135.05h1.67v1.63h-1.67zM282.05 137.73h1.37v1.64h-1.37zM256.44 136.46h1.68v1.79h-1.68zM268.19 135.49h1.67v1.54h-1.67zM204.25 135.28h1.31v1.58h-1.31zM260.31 134.87h1.61v1.56h-1.61zM235.43 135.44h1.75v1.37h-1.75zM282.6 135.25h1.66v1.64h-1.66zM253.28 136.93h1.39v1.55h-1.39zM247.08 136.99h1.83v1.65h-1.83zM221.04 135.7h1.36v1.97h-1.36zM230.49 135.69h1.68v1.92h-1.68zM223.65 134.7h1.32v1.85h-1.32zM215.9 137.75h1.69v1.98h-1.69zM236.75 137.28h1.39v1.52h-1.39zM270.42 135.84h1.56v1.62h-1.56zM269.39 136.7h1.71v1.52h-1.71zM236.39 133.58h1.61v1.59h-1.61zM282.63 133.2h1.74v1.3h-1.74zM214.9 135.98h1.51v1.71h-1.51zM283.39 135.17h1.45v1.82h-1.45zM241.07 136.62h1.92v1.68h-1.92zM242.09 137.38h1.7v1.36h-1.7zM255.95 136.42h1.57v1.67h-1.57zM287.68 134.75h1.35v1.46h-1.35zM222.47 136.4h1.5v1.33h-1.5zM260.86 135.07h1.42v1.77h-1.42zM280.46 134.26h1.4v1.9h-1.4zM269.93 136.75h1.46v1.73h-1.46zM227.63 133.92h1.67v1.47h-1.67zM264.33 136.84h1.32v1.46h-1.32zM262.35 133.97h1.43v1.51h-1.43zM287.41 137.97h1.85v1.69h-1.85zM258.78 135.18h1.9v1.72h-1.9zM272.78 135.9h1.4v1.45h-1.4zM273.51 138.13h1.85v1.72h-1.85zM213.35 137.31h1.96v1.9h-1.96zM255.15 134.94h1.52v1.7h-1.52zM221 143.09h1.79v1.74h-1.79zM221.5 141.67h1.88v1.49h-1.88zM261.81 144.11h1.7v1.47h-1.7zM234.59 143.46h1.67v1.8h-1.67zM217.64 145.8h1.78v1.41h-1.78zM246.37 142.54h1.99v1.66h-1.99zM235.76 143.63h1.55v1.65h-1.55zM286.21 143.86h1.38v1.48h-1.38zM282.62 142.35h1.46v1.67h-1.46zM223.74 144.88h1.59v1.44h-1.59zM211.45 144.57h1.68v1.48h-1.68zM272.95 144.62h1.57v1.67h-1.57zM204.59 143.47h1.68v1.66h-1.68zM274.66 144.1h1.65v1.43h-1.65zM210.86 143.47h1.79v1.75h-1.79zM288.52 144.35h1.81v1.51h-1.81zM235.37 143.6h1.59v1.65h-1.59zM263.2 145.51h1.47v1.37h-1.47zM257.56 143.51h1.63v1.46h-1.63zM204.33 143.07h1.67v1.32h-1.67zM221.66 142.04h1.5v1.79h-1.5zM229.44 145.78h1.53v1.79h-1.53zM229.43 146.13h1.46v1.89h-1.46zM248.55 144.47h1.6v1.37h-1.6zM261.52 142.06h1.71v1.68h-1.71zM224.78 144.79h1.34v1.82h-1.34zM211.68 144.25h1.75v1.31h-1.75zM204.72 142.78h1.97v1.38h-1.97zM253.45 142.27h1.5v1.88h-1.5zM265.25 145.01h1.4v1.31h-1.4zM210.24 142.69h1.47v1.68h-1.47zM269.07 144.35h1.8v1.89h-1.8zM236.45 144.94h1.34v1.91h-1.34zM221.17 143.82h1.61v1.62h-1.61zM284.34 142.96h1.7v1.91h-1.7zM227.97 144.88h1.49v1.45h-1.49zM223.03 142.25h1.98v1.98h-1.98zM280.34 143.1h1.52v1.78h-1.52zM280.02 142.22h1.74v1.92h-1.74zM221.82 144.1h1.91v1.38h-1.91zM285.51 144.88h1.42v1.95h-1.42zM274.47 144.63h1.94v1.74h-1.94zM279.86 145.99h1.55v1.67h-1.55zM256.07 143.22h1.88v1.47h-1.88zM252.03 144.71h1.41v1.64h-1.41zM267.85 144.33h1.55v1.34h-1.55zM260.81 143.01h1.66v1.89h-1.66zM251.06 142.82h1.43v1.43h-1.43zM210.14 143.45h1.72v1.98h-1.72zM227.03 144.41h1.7v1.8h-1.7zM207.42 143.18h1.81v1.65h-1.81zM234.16 147.16h1.33v1.38h-1.33zM269.06 142.55h1.95v1.51h-1.95zM254.63 150.74h1.75v1.43h-1.75zM263.91 151.41h1.39v1.41h-1.39zM245.92 150.91h1.89v1.34h-1.89zM269.09 151.53h1.58v1.42h-1.58zM244.21 152.01h1.63v1.99h-1.63zM263.73 151.55h1.86v1.64h-1.86zM245.63 151.28h1.68v1.33h-1.68zM275.51 152.83h1.63v1.39h-1.63zM213.84 151.7h1.76v1.44h-1.76zM214.73 152.45h1.66v1.39h-1.66zM270.22 152.96h1.96v1.55h-1.96zM275.46 150.92h1.87v1.55h-1.87zM223.09 153.16h1.98v1.83h-1.98zM276.61 153.68h1.53v1.56h-1.53zM270.1 152.97h1.32v1.51h-1.32zM221.67 151.34h1.62v1.7h-1.62zM249.1 152.84h1.52v1.41h-1.52zM287.02 152.02h1.69v1.99h-1.69zM243.63 151.71h1.32v1.86h-1.32zM276.79 154.53h1.49v1.64h-1.49zM268.59 150.32h1.94v1.4h-1.94zM267.38 150.45h1.55v1.69h-1.55zM279.28 151.7h1.81v1.86h-1.81zM278.84 150.9h1.53v1.39h-1.53zM244.02 152.46h1.61v1.62h-1.61zM236.74 152.45h1.8v1.97h-1.8zM271.04 153h1.37v1.42h-1.37zM284.43 154.39h1.72v1.38h-1.72zM276.1 151.39h1.78v1.58h-1.78zM253.08 151.43h1.49v1.98h-1.49zM227.24 152.44h1.75v1.51h-1.75zM278.66 152.03h1.9v1.78h-1.9zM285.01 153.05h1.79v1.35h-1.79zM244.8 152.37h1.38v1.38h-1.38zM214.72 149.8h1.8v1.73h-1.8zM233.62 151.06h1.9v1.47h-1.9zM244.64 154.13h1.38v1.59h-1.38zM250.75 149.46h1.58v1.37h-1.58zM216.77 151.21h1.36v1.9h-1.36zM270.35 152.66h1.78v1.4h-1.78zM228.78 150.97h1.6v1.89h-1.6zM250.31 150.38h1.82v1.7h-1.82zM275.18 153.19h1.61v1.81h-1.61zM208.91 150.79h1.64v1.83h-1.64zM287.49 151.24h1.81v1.85h-1.81zM212.88 151.27h1.46v1.32h-1.46zM271.53 150.45h1.39v1.95h-1.39zM223.05 152.21h1.58v1.35h-1.58zM218.91 152.11h1.45v1.76h-1.45zM204.29 151.94h1.82v1.31h-1.82zM271.37 151.4h1.51v1.63h-1.51zM276.37 151.51h1.58v1.87h-1.58zM259.75 152.72h1.31v1.32h-1.31zM244.09 151.28h1.35v1.77h-1.35zM220.1 151h1.31v1.43h-1.31zM235.57 150.84h1.86v1.78h-1.86zM277.14 149.38h1.41v1.78h-1.41zM287.34 151.58h1.49v1.99h-1.49zM257.75 151.6h1.82v1.81h-1.82zM237.34 151.89h1.78v1.4h-1.78zM208.92 154.48h1.76v1.4h-1.76zM237.46 151.15h1.41v1.82h-1.41zM206.28 150.82h1.81v1.97h-1.81zM252.37 151.59h1.92v1.91h-1.92zM258.13 153.65h1.8v1.32h-1.8zM254.14 152.09h1.45v1.46h-1.45zM281.52 149.08h1.65v1.39h-1.65zM219.73 152.6h1.71v1.86h-1.71zM230.72 158.57h1.83v1.46h-1.83zM272.05 157.74h1.98v1.43h-1.98zM223.6 161.14h1.32v1.31h-1.32zM207.44 159.36h1.67v1.35h-1.67zM277.35 160.54h1.66v1.35h-1.66zM224.73 159.53h1.86v1.61h-1.86zM259.88 158.11h1.81v1.59h-1.81zM256.73 164.1h1.56v1.68h-1.56zM227.73 160.93h1.46v1.75h-1.46zM264.09 162.5h1.51v1.89h-1.51zM222.48 159.02h1.85v1.67h-1.85zM228.06 159.42h1.84v2h-1.84zM205.68 159.82h1.56v1.46h-1.56zM248.4 160.56h1.92v1.45h-1.92zM214.77 160.49h1.43v1.42h-1.43zM218.83 161.9h1.71v1.81h-1.71zM219.82 160.78h1.52v1.81h-1.52zM253.7 159.68h1.83v1.62h-1.83zM231.57 160.53h1.8v1.69h-1.8zM246.68 159.66h1.46v1.66h-1.46zM226.68 160.64h1.55v1.7h-1.55zM257.1 158.47h1.93v1.86h-1.93zM253.23 159.56h1.46v1.71h-1.46zM223.03 163.01h1.76v1.86h-1.76zM250.07 159.75h1.52v1.5h-1.52zM275.52 162.82h1.87v1.47h-1.87zM259.71 158.96h1.76v1.7h-1.76zM258.77 160.15h1.48v1.67h-1.48zM254.42 160.58h1.34v1.47h-1.34zM266.97 161.23h1.36v1.35h-1.36zM271.08 163.46h1.67v1.95h-1.67zM209.67 158.96h1.81v1.49h-1.81zM280.57 157.33h1.73v1.82h-1.73zM242.19 159.29h1.36v1.91h-1.36zM228.32 159.11h1.82v1.44h-1.82zM244.05 160.39h1.51v1.5h-1.51zM247.79 160.09h1.82v1.66h-1.82zM243.97 158.7h1.63v1.44h-1.63zM261.21 158.9h1.86v1.76h-1.86zM248.94 160.47h1.62v1.63h-1.62zM240.69 157.65h1.67v1.3h-1.67zM240.22 159.76h1.88v1.69h-1.88zM289.1 159.85h1.59v1.8h-1.59zM221.29 159.65h1.41v1.43h-1.41zM216.63 157.66h1.61v1.95h-1.61zM268.67 160.81h1.68v1.54h-1.68zM268.89 160.28h1.4v1.72h-1.4zM263.88 160.07h1.91v1.4h-1.91zM269.3 161.25h1.77v1.41h-1.77zM266.35 158.72h1.92v1.92h-1.92zM231.25 159.52h1.57v1.7h-1.57zM283.09 161.88h1.65v1.86h-1.65zM209.9 159.8h1.45v1.79h-1.45zM243.19 157.79h1.68v1.82h-1.68zM224.77 160.33h1.56v1.54h-1.56zM258 158.25h1.41v1.44h-1.41zM215.37 160.51h1.71v1.3h-1.71zM281.51 160.84h1.99v1.37h-1.99zM267.17 160.8h1.35v1.82h-1.35zM226.9 159.37h1.63v1.56h-1.63zM274.9 160.7h1.54v1.95h-1.54zM265.81 160.7h1.56v1.49h-1.56zM247.38 161.47h1.54v1.58h-1.54zM229.9 160.45h1.36v1.81h-1.36zM209.82 168.55h1.45v1.88h-1.45zM222.11 167.28h1.92v1.7h-1.92zM240.37 168.31h1.56v1.58h-1.56zM263.55 167.84h1.85v1.32h-1.85zM226.53 168.45h1.98v1.43h-1.98zM253.57 167.14h1.6v1.67h-1.6zM284.1 170.08h1.74v1.91h-1.74zM263.52 166.82h1.82v1.49h-1.82zM249.81 168.17h1.53v1.31h-1.53zM214.95 167.63h1.89v1.47h-1.89zM206.57 167.6h1.8v1.84h-1.8zM281.38 168.34h1.33v1.45h-1.33zM273.24 167.36h1.82v1.62h-1.82zM277.06 166.52h1.54v1.37h-1.54zM256.21 165.65h1.85v1.9h-1.85zM250.13 168.39h1.82v1.99h-1.82zM288.27 168.06h1.7v1.46h-1.7zM220.09 169.23h1.57v1.56h-1.57zM288.79 166.84h1.75v1.8h-1.75zM253.01 169.57h1.79v1.74h-1.79zM203.88 167.43h1.66v1.68h-1.66zM272.65 167.1h1.81v1.83h-1.81zM214.72 169.43h1.45v1.43h-1.45zM219.86 168.55h1.53v1.56h-1.53zM287.62 167.7h1.63v1.59h-1.63zM204.45 166.5h1.57v1.85h-1.57zM261.78 169.57h1.66v1.36h-1.66zM221.38 167.98h1.39v1.37h-1.39zM236.99 168.27h1.44v1.47h-1.44zM247.35 168.5h1.88v1.39h-1.88zM269.86 165.62h1.39v1.58h-1.39zM206.64 169.32h1.45v1.89h-1.45zM259.52 168.12h1.64v1.72h-1.64zM245.18 169.35h1.57v1.44h-1.57zM257.56 169.14h1.31v1.49h-1.31zM247.57 167.11h1.54v1.77h-1.54zM215.76 166.97h1.78v1.85h-1.78zM287.37 169.03h1.34v1.61h-1.34zM279.35 167.62h1.62v1.75h-1.62zM206.75 168.19h1.44v1.72h-1.44zM256.42 168.46h1.74v1.65h-1.74zM241.97 168.46h1.56v1.55h-1.56zM252.61 168.13h1.81v1.75h-1.81zM234.84 165.91h1.81v1.81h-1.81zM208.51 167.09h1.98v1.63h-1.98zM282.58 169.12h1.61v1.68h-1.61zM270.58 167.28h1.81v1.79h-1.81zM238.62 166.14h1.84v1.72h-1.84zM254.86 167.74h1.43v1.4h-1.43zM214.03 168.83h1.82v1.73h-1.82zM255.13 168.61h1.36v1.87h-1.36zM226.91 168.8h1.92v1.51h-1.92zM217.26 167.4h1.41v1.64h-1.41zM284.41 166.13h1.84v1.78h-1.84zM261.77 167.14h1.78v1.55h-1.78zM224.51 167.48h1.62v1.76h-1.62zM215.81 169.03h1.83v1.35h-1.83zM252.97 166.27h1.93v1.82h-1.93zM216.29 168.67h1.64v1.42h-1.64zM257.94 168.28h1.99v1.76h-1.99zM219.39 167.52h1.8v1.55h-1.8zM285.08 168.28h1.74v1.7h-1.74zM288.4 165h1.83v2h-1.83zM263.57 166.18h1.47v1.33h-1.47zM259.49 169.55h1.73v1.65h-1.73zM226.49 166.66h1.77v1.7h-1.77zM273.83 169.33h1.31v1.35h-1.31zM278.62 174.69h1.43v1.31h-1.43zM265.31 175.91h1.55v1.77h-1.55zM284.12 175.44h1.91v1.6h-1.91zM230.55 176.67h1.47v1.47h-1.47zM210.05 176.31h1.3v1.42h-1.3zM222.17 175.8h1.72v1.46h-1.72zM264.17 176.47h1.82v1.36h-1.82zM242 176.3h1.43v1.66h-1.43zM269.52 176.24h1.91v1.49h-1.91zM284.05 174.26h1.57v1.94h-1.57zM204.85 177.53h1.34v1.62h-1.34zM265.75 174.24h1.47v1.32h-1.47zM258.19 174.48h1.47v1.34h-1.47zM232.19 173.98h1.31v1.96h-1.31zM279.9 176.33h1.53v2h-1.53zM263.95 175.4h1.97v1.94h-1.97zM278.36 174.88h1.54v1.73h-1.54zM232.91 175.48h1.33v1.42h-1.33zM246.23 179.34h2v1.31h-2zM222.38 178.15h1.56v1.64h-1.56zM233.44 173.07h1.93v1.78h-1.93zM229.17 175.6h1.5v1.42h-1.5zM264.99 173.28h1.42v1.37h-1.42zM241.07 176.89h1.78v1.79h-1.78zM230.17 176.85h1.98v1.77h-1.98zM234.41 175.78h1.99v1.59h-1.99zM270.37 175.15h1.57v1.68h-1.57zM280.36 175.51h1.38v1.9h-1.38zM278.4 175.74h1.75v1.67h-1.75zM284.26 177.09h1.55v1.88h-1.55zM210.75 174.42h1.83v1.45h-1.83zM216.71 176.33h1.66v1.5h-1.66zM235.6 173.62h1.46v1.8h-1.46zM224.2 177.1h1.45v1.31h-1.45zM240.34 174.42h1.34v1.77h-1.34zM287.94 177.09h1.88v1.93h-1.88zM287 177.7h1.61v1.83h-1.61zM234.64 175.36h1.93v1.95h-1.93zM225.6 174.47h1.9v1.3h-1.9zM205.84 175.92h1.56v1.74h-1.56zM244.99 177.31h1.69v1.39h-1.69zM259.26 175.01h1.32v1.53h-1.32zM206.41 175.05h1.85v1.7h-1.85zM221.31 175.88h1.95v1.95h-1.95zM284.01 174.77h1.97v1.77h-1.97zM223.21 173.96h1.34v1.48h-1.34zM226.51 176.54h1.53v1.36h-1.53zM257.54 172.96h1.36v1.46h-1.36zM286.52 175.16h1.85v1.95h-1.85zM235.59 176.85h1.88v1.44h-1.88zM234.72 174.1h1.49v1.88h-1.49zM213.92 176.44h1.51v2h-1.51zM289.11 176.93h1.93v1.47h-1.93zM254.25 174.26h1.93v1.56h-1.93zM260.79 174.79h1.96v1.95h-1.96zM275.72 183.56h1.42v1.95h-1.42zM205.19 182.85h1.74v1.31h-1.74zM222.14 185.48h1.63v1.33h-1.63zM261.88 182.96h1.32v1.52h-1.32zM267.35 181.27h1.88v1.62h-1.88zM227.75 179.6h1.62v1.64h-1.62zM264.76 183.45h1.55v1.61h-1.55zM251.24 184.27h1.33v1.4h-1.33zM257.61 182.04h1.88v1.93h-1.88zM271.91 183.28h1.36v1.65h-1.36zM245.38 184.47h1.35v1.39h-1.35zM225.68 181.9h1.94v1.77h-1.94zM236.84 185.34h1.81v1.55h-1.81zM252.02 186.36h1.46v1.31h-1.46zM266.1 184.18h1.92v1.63h-1.92zM279.31 185.29h1.77v1.75h-1.77zM234.58 183.84h1.65v1.58h-1.65zM283.47 183.5h1.66v1.87h-1.66zM213.59 182.97h1.42v1.56h-1.42zM262.94 183.56h1.64v1.53h-1.64zM208.93 182.84h1.63v1.47h-1.63zM231.51 182.9h1.92v1.62h-1.92zM248.21 184.34h1.92v1.38h-1.92zM232.39 181.07h2v1.65h-2zM274.92 184.08h1.94v1.48h-1.94zM236.2 184.03h1.64v1.92h-1.64zM269.85 184.89h1.9v1.71h-1.9zM260.18 183.02h1.57v1.55h-1.57zM268.53 185.46h1.34v1.39h-1.34zM269.65 182.03h1.49v1.51h-1.49zM276.5 183.05h1.35v1.74h-1.35zM260.94 184.15h1.5v1.97h-1.5zM233.18 184.25h1.46v1.68h-1.46zM275.01 183.29h1.37v1.33h-1.37zM261.81 182.42h1.31v1.8h-1.31zM237.9 183.69h1.69v1.61h-1.69zM272.61 182.22h1.89v1.61h-1.89zM243.12 183.25h1.61v1.4h-1.61zM205.51 181.08h1.73v1.92h-1.73zM257.78 184.88h1.7v1.48h-1.7zM269.43 183.86h1.72v1.72h-1.72zM250.27 183.15h1.64v2h-1.64zM241.48 185.35h1.7v1.5h-1.7zM213.33 182.66h1.59v1.43h-1.59zM242.09 185.04h1.96v1.76h-1.96zM256.2 182.66h1.79v1.81h-1.79zM221.05 183.63h1.3v1.6h-1.3zM232.9 182.85h1.88v1.33h-1.88zM285.9 183.48h1.91v1.43h-1.91zM287.68 182.42h1.58v1.69h-1.58zM206.57 182.54h1.67v1.95h-1.67zM282.12 182.08h1.42v1.84h-1.42zM289.09 189.4h1.38v1.83h-1.38zM210 190.53h1.98v1.35h-1.98zM281.06 191.37h1.43v1.52h-1.43zM269.66 192.21h1.91v1.39h-1.91zM263.6 189.85h1.44v1.54h-1.44zM289.64 190.99h1.52v1.48h-1.52zM265.94 188.84h1.39v1.34h-1.39zM206.82 193.71h1.44v1.62h-1.44zM275.02 191.03h1.33v1.65h-1.33zM227.1 191.14h1.85v1.33h-1.85zM265.16 190.12h1.77v1.78h-1.77zM275.75 191.54h1.53v1.56h-1.53zM271.75 193.37h1.63v1.64h-1.63zM273.1 190.96h1.82v1.5h-1.82zM272.21 191.36h1.65v1.98h-1.65zM285.91 190.88h1.75v1.56h-1.75zM279.66 192.78h1.76v1.5h-1.76zM267.03 191.67h1.46v1.44h-1.46zM279.85 190.69h1.4v1.66h-1.4zM244.5 194.71h1.3v1.78h-1.3zM277.8 191.26h1.59v1.84h-1.59zM280.68 191.55h1.81v1.96h-1.81zM271.38 191.92h1.92v1.83h-1.92zM242.15 192.55h1.93v1.99h-1.93zM249.5 192.4h1.95v1.59h-1.95zM287.98 190.68h1.65v1.57h-1.65zM238.98 190.57h1.47v1.45h-1.47zM266.94 192.23h1.6v1.93h-1.6zM246.13 190.39h1.53v1.97h-1.53zM274.04 193.71h1.65v1.58h-1.65zM258.23 194.21h1.3v1.38h-1.3zM205.53 193.18h1.97v1.94h-1.97zM229.25 190.06h1.49v1.35h-1.49zM208.07 192.37h1.78v1.58h-1.78zM270.8 193.9h1.88v1.41h-1.88zM272.7 189.79h1.62v1.82h-1.62zM276.17 191.92h1.72v1.68h-1.72zM228.68 192.81h1.53v1.55h-1.53zM234.77 192.3h1.74v1.56h-1.74zM244.39 190.27h1.59v1.35h-1.59zM276.84 193.46h1.4v1.32h-1.4zM272.59 191.15h1.37v1.31h-1.37zM267.99 190.11h1.74v1.87h-1.74zM261.87 194.07h1.77v1.66h-1.77zM264.71 191.43h1.82v1.4h-1.82zM244.42 191.41h1.9v1.94h-1.9zM249.6 191.14h1.82v1.94h-1.82zM211.02 191.56h1.73v1.6h-1.73zM250.89 191.8h1.37v1.79h-1.37zM229.03 191.92h1.37v1.93h-1.37zM275.69 193.38h1.3v1.74h-1.3zM286.19 191.99h1.98v1.34h-1.98zM270.29 193.34h1.67v1.52h-1.67zM252.54 191.81h1.78v1.93h-1.78zM223.82 189.88h1.47v1.85h-1.47zM262.08 194.27h1.52v1.5h-1.52zM251.15 192.9h1.94v1.97h-1.94zM286.72 192.01h1.91v1.38h-1.91zM223.79 200.18h1.75v1.98h-1.75zM205.77 200.09h1.35v1.77h-1.35zM245.23 196.58h1.96v1.41h-1.96zM237.46 197.87h1.39v1.96h-1.39zM208.4 200.24h1.92v1.97h-1.92zM231.74 200.03h1.77v1.77h-1.77zM276.9 199.89h1.76v1.52h-1.76zM217.58 199.71h1.68v1.97h-1.68zM228.85 197.66h1.87v1.89h-1.87zM243.89 199.68h1.8v1.63h-1.8zM242.79 198.5h1.55v1.85h-1.55zM207.07 200.94h1.34v1.54h-1.34zM277.22 199.85h1.59v1.98h-1.59zM278.08 199.72h1.5v1.46h-1.5zM270.51 199.89h1.52v1.93h-1.52zM288.31 197.76h1.67v1.66h-1.67zM239.6 199.54h1.92v1.97h-1.92zM273.12 198.73h1.79v1.88h-1.79zM287.93 198.89h1.68v1.45h-1.68zM286.03 200.83h1.4v1.57h-1.4zM274.16 200.2h1.8v1.3h-1.8zM281.97 200.23h1.63v1.95h-1.63zM211.92 199.09h1.75v1.93h-1.75zM214.5 197.81h1.51v1.4h-1.51zM233.51 199.79h1.46v1.65h-1.46zM258.7 199.45h1.48v1.37h-1.48zM244.69 199.63h1.37v1.34h-1.37zM206.28 198.01h1.8v1.94h-1.8zM250.79 198.6h1.81v1.75h-1.81zM211.68 200.18h1.53v1.31h-1.53zM274.95 199.16h1.59v1.48h-1.59zM272.6 198.77h1.32v1.69h-1.32zM280.6 200.58h1.81v1.34h-1.81zM236.16 200.02h1.99v1.37h-1.99zM245.92 199.5h1.84v1.99h-1.84zM269.46 202.13h1.72v1.63h-1.72zM217.54 198.38h1.92v1.5h-1.92zM253.78 201.48h1.95v1.88h-1.95zM289.3 200h1.82v1.81h-1.82zM204.82 199.42h1.47v1.4h-1.47zM286.19 199.88h1.55v1.86h-1.55zM279.16 197.71h1.44v1.93h-1.44zM253.61 199.31h1.9v1.79h-1.9zM286.97 199.02h1.54v1.53h-1.54zM239.25 201.12h1.73v1.37h-1.73zM210.04 199.5h1.89v1.51h-1.89zM262.25 197.45h1.47v1.82h-1.47zM264.49 199.68h1.9v1.59h-1.9zM217.45 197.68h1.7v1.68h-1.7zM240.07 198.14h1.84v1.78h-1.84zM227.74 198.32h1.74v1.33h-1.74zM219.85 199.78h1.74v1.42h-1.74zM233.59 208.04h1.32v1.71h-1.32zM275.94 208.23h1.67v1.86h-1.67zM218.55 209.9h1.99v1.6h-1.99zM210.96 206.35h1.68v1.59h-1.68zM286.16 207.74h1.74v1.44h-1.74zM254.52 208.65h1.74v1.5h-1.74zM245.58 207.93h1.83v1.78h-1.83zM245.79 204.31h1.66v1.64h-1.66zM225.55 208h1.68v1.4h-1.68zM254.72 207.33h1.87v1.47h-1.87zM249.85 208.05h1.84v1.36h-1.84zM235.61 210.61h1.71v1.78h-1.71zM231.71 206.06h1.34v1.66h-1.34zM230.53 207.12h1.92v1.61h-1.92zM247.39 210.9h1.7v1.99h-1.7zM222.51 207.96h1.93v1.55h-1.93zM229.23 209.16h1.65v1.36h-1.65zM274.13 208.44h1.36v1.77h-1.36zM269.05 206.77h1.75v1.53h-1.75zM215.97 207.2h1.92v1.77h-1.92zM214.27 207.92h1.65v1.81h-1.65zM215.42 206.06h1.49v1.89h-1.49zM206.65 208.67h1.45v1.67h-1.45zM205.66 207.99h1.42v1.52h-1.42zM224.79 207.04h1.86v1.33h-1.86zM285 207.27h1.51v1.87h-1.51zM209.43 210.26h1.49v1.41h-1.49zM264.11 205.56h1.89v1.45h-1.89zM235.14 208.62h1.84v1.93h-1.84zM209.29 207.08h1.3v1.81h-1.3zM246.44 208.92h1.5v1.79h-1.5zM247.91 209.27h1.99v1.49h-1.99zM253.11 206.49h1.39v1.71h-1.39zM245.58 206.6h1.33v1.62h-1.33zM224.59 208.45h1.55v1.49h-1.55zM289.84 207.78h1.52v1.6h-1.52zM246.33 209.02h1.82v1.49h-1.82zM273.21 208.95h1.48v2h-1.48zM245.21 210.39h1.58v1.43h-1.58zM278.82 208.75h1.78v1.34h-1.78zM259.07 206.04h1.65v1.71h-1.65zM213.69 208.8h1.61v1.77h-1.61zM275.12 206.96h1.55v1.86h-1.55zM286.68 205.74h1.82v1.65h-1.82zM255.67 207.79h1.54v1.48h-1.54zM219.66 208.79h1.58v1.41h-1.58zM254.49 208.07h1.37v1.46h-1.37zM266.78 206.21h1.83v1.67h-1.83zM204.48 207.63h1.59v1.99h-1.59zM287.1 207.82h1.76v1.31h-1.76zM214.58 207.31h1.42v1.97h-1.42zM218.44 206.62h1.88v1.37h-1.88zM212.91 206.7h1.95v1.92h-1.95zM205.09 207.59h1.78v1.43h-1.78zM208.07 207.02h1.84v1.99h-1.84zM243.72 205.95h1.79v1.88h-1.79zM282.82 207.45h1.84v1.56h-1.84zM215.25 206.59h1.62v1.74h-1.62zM227.54 206.03h1.54v1.57h-1.54zM279.98 208.32h1.42v1.43h-1.42zM284.39 208.75h1.55v1.64h-1.55zM259.95 210.03h1.95v2h-1.95zM219.65 209.24h1.79v1.68h-1.79zM255.04 206.55h1.51v1.31h-1.51zM265.31 208.68h1.59v1.3h-1.59zM219.79 207.02h1.98v1.99h-1.98zM244.29 215.46h1.62v1.75h-1.62zM237.52 213.95h1.8v1.51h-1.8zM267.47 215.59h1.6v1.48h-1.6zM269.77 213.87h1.5v1.59h-1.5zM278.48 216.74h1.48v1.78h-1.48zM286.53 214.78h1.67v1.67h-1.67zM281.87 214.93h1.98v1.87h-1.98zM275.01 215.43h1.84v1.74h-1.84zM229.05 214.59h1.78v1.67h-1.78zM215.45 214.91h1.37v1.62h-1.37zM284.92 215.25h1.97v1.6h-1.97zM282.77 214.42h1.94v1.6h-1.94zM239.19 214.21h1.64v1.86h-1.64zM235.94 215.67h1.46v1.31h-1.46zM276.44 212.96h1.64v1.33h-1.64zM267.81 215.4h1.59v1.36h-1.59zM254.12 215.95h1.85v1.7h-1.85zM264.28 217.13h1.46v1.77h-1.46zM262.33 216.11h1.56v1.83h-1.56zM266.59 215.65h1.59v1.38h-1.59zM275.62 215.26h1.33v1.92h-1.33zM256.63 213.66h1.35v1.59h-1.35zM254.03 216.03h1.64v1.39h-1.64zM231.83 215.07h1.94v1.58h-1.94zM204.91 216.46h1.54v1.99h-1.54zM203.99 215.52h1.75v1.88h-1.75zM263.8 214.58h1.4v1.73h-1.4zM229.96 217.38h1.99v1.75h-1.99zM287.38 214.21h1.52v1.84h-1.52zM209.94 214.65h1.4v1.75h-1.4zM243.38 215.33h1.42v1.58h-1.42zM261.41 215.41h1.53v1.32h-1.53zM209.8 215.23h1.97v1.76h-1.97zM281.35 217.44h1.46v1.63h-1.46zM233.75 214.37h1.51v1.68h-1.51zM240.19 214.01h1.39v1.76h-1.39zM210.06 216.14h1.89v1.97h-1.89zM250.7 214.26h1.6v1.92h-1.6zM215.69 213.8h1.85v1.41h-1.85zM228.33 216.31h1.84v1.92h-1.84zM264.78 214.29h1.6v1.34h-1.6zM279.52 215.82h1.58v2h-1.58zM245.5 217.38h1.65v1.78h-1.65zM207.02 215.76h1.89v1.96h-1.89zM211.59 214.1h1.41v1.66h-1.41zM211.87 214.97h1.51v1.7h-1.51zM288.32 214.39h1.6v1.69h-1.6zM280.64 215.52h1.93v1.84h-1.93zM243.99 214.46h1.43v1.42h-1.43zM244.32 216.68h1.55v1.72h-1.55zM281.64 217.02h1.67v1.66h-1.67zM253.46 214.69h1.73v1.9h-1.73zM284.72 215.58h1.9v1.38h-1.9zM228.64 214.47h1.55v1.56h-1.55zM276.74 215.67h1.37v1.55h-1.37zM205.8 212.64h1.59v1.99h-1.59zM246.1 215.17h1.53v1.61h-1.53zM269.53 214.22h1.31v1.35h-1.31zM218.75 215.33h1.73v1.94h-1.73zM233.7 215.79h1.33v1.72h-1.33zM245.57 215.27h1.92v1.3h-1.92zM284.22 215.34h1.39v1.6h-1.39zM289.18 215.8h1.89v1.61h-1.89zM242.79 213.92h1.47v1.98h-1.47zM211.16 214.39h1.92v1.68h-1.92z" fill="#0c0c0c"/>
<line x1="301" y1="73.15" x2="303" y2="73.15" stroke="#4a4a4a" stroke-width="0.8"/>
<line x1="301" y1="89.05" x2="303" y2="89.05" stroke="#4a4a4a" stroke-width="0.8"/>
<line x1="301" y1="104.95" x2="303" y2="104.95" stroke="#4a4a4a" stroke-width="0.8"/>
<line x1="301" y1="120.85" x2="303" y2="120.85" stroke="#4a4a4a" stroke-width="0.8"/>
<line x1="301" y1="136.75" x2="303" y2="136.75" stroke="#4a4a4a" stroke-width="0.8"/>
<line x1="301" y1="152.65" x2="303" y2="152.65" stroke="#4a4a4a" stroke-width="0.8"/>
<line x1="301" y1="168.55" x2="303" y2="168.55" stroke="#4a4a4a" stroke-width="0.8"/>
<line x1="301" y1="184.45" x2="303" y2="184.45" stroke="#4a4a4a" stroke-width="0.8"/>
<line x1="301" y1="200.35" x2="303" y2="200.35" stroke="#4a4a4a" stroke-width="0.8"/>
<line x1="301" y1="216.25" x2="303" y2="216.25" stroke="#4a4a4a" stroke-width="0.8"/>
<line x1="87.4" y1="29.8" x2="87.4" y2="36.7" stroke="#19aee9" stroke-width="1.5"/>
<polygon points="84.6,36.2 90.2,36.2 87.4,41.2" fill="#19aee9"/>
<line x1="94.64" y1="29.8" x2="94.64" y2="36.7" stroke="#19aee9" stroke-width="1.5"/>
<polygon points="91.84,36.2 97.44,36.2 94.64,41.2" fill="#19aee9"/>
<line x1="101.88" y1="29.8" x2="101.88" y2="36.7" stroke="#19aee9" stroke-width="1.5"/>
<polygon points="99.08,36.2 104.68,36.2 101.88,41.2" fill="#19aee9"/>
<line x1="109.12" y1="29.8" x2="109.12" y2="36.7" stroke="#19aee9" stroke-width="1.5"/>
<polygon points="106.32,36.2 111.92,36.2 109.12,41.2" fill="#19aee9"/>
<line x1="116.36" y1="29.8" x2="116.36" y2="36.7" stroke="#19aee9" stroke-width="1.5"/>
<polygon points="113.56,36.2 119.16,36.2 116.36,41.2" fill="#19aee9"/>
<line x1="123.6" y1="29.8" x2="123.6" y2="36.7" stroke="#19aee9" stroke-width="1.5"/>
<polygon points="120.8,36.2 126.4,36.2 123.6,41.2" fill="#19aee9"/>
<line x1="130.84" y1="29.8" x2="130.84" y2="36.7" stroke="#19aee9" stroke-width="1.5"/>
<polygon points="128.04,36.2 133.64,36.2 130.84,41.2" fill="#19aee9"/>
<line x1="138.08" y1="29.8" x2="138.08" y2="36.7" stroke="#19aee9" stroke-width="1.5"/>
<polygon points="135.28,36.2 140.88,36.2 138.08,41.2" fill="#19aee9"/>
<line x1="145.32" y1="29.8" x2="145.32" y2="36.7" stroke="#19aee9" stroke-width="1.5"/>
<polygon points="142.52,36.2 148.12,36.2 145.32,41.2" fill="#19aee9"/>
<line x1="152.56" y1="29.8" x2="152.56" y2="36.7" stroke="#19aee9" stroke-width="1.5"/>
<polygon points="149.76,36.2 155.36,36.2 152.56,41.2" fill="#19aee9"/>
<text x="85.2" y="23.1" font-size="10.8" fill="#2080d0" text-anchor="start">Laser stimulation</text>
<text x="214.3" y="23.1" font-size="10.8" fill="#ee1c24" text-anchor="start">No stimulation</text>
<text x="76" y="76.15" font-size="8.4" fill="#555" text-anchor="end">2</text>
<text x="76" y="92.05" font-size="8.4" fill="#555" text-anchor="end">4</text>
<text x="76" y="107.95" font-size="8.4" fill="#555" text-anchor="end">6</text>
<text x="76" y="123.85" font-size="8.4" fill="#555" text-anchor="end">8</text>
<text x="76" y="139.75" font-size="8.4" fill="#555" text-anchor="end">10</text>
<text x="76" y="155.65" font-size="8.4" fill="#555" text-anchor="end">12</text>
<text x="76" y="171.55" font-size="8.4" fill="#555" text-anchor="end">14</text>
<text x="76" y="187.45" font-size="8.4" fill="#555" text-anchor="end">16</text>
<text x="76" y="203.35" font-size="8.4" fill="#555" text-anchor="end">18</text>
<text x="76" y="219.25" font-size="8.4" fill="#555" text-anchor="end">20</text>
<text x="81.8" y="230.4" font-size="8.4" fill="#555" text-anchor="middle">0</text>
<text x="205.3" y="230.4" font-size="8.4" fill="#555" text-anchor="middle">0</text>
<text x="110.6" y="230.4" font-size="8.4" fill="#555" text-anchor="middle">100</text>
<text x="234.1" y="230.4" font-size="8.4" fill="#555" text-anchor="middle">100</text>
<text x="135.3" y="230.4" font-size="8.4" fill="#555" text-anchor="middle">200</text>
<text x="258.8" y="230.4" font-size="8.4" fill="#555" text-anchor="middle">200</text>
<text x="161" y="230.4" font-size="8.4" fill="#555" text-anchor="middle">300</text>
<text x="284.5" y="230.4" font-size="8.4" fill="#555" text-anchor="middle">300</text>
<rect x="78.7" y="248.3" width="100.6" height="72.8" fill="none" stroke="#4a4a4a" stroke-width="1"/>
<line x1="78.7" y1="267" x2="80.7" y2="267" stroke="#4a4a4a" stroke-width="0.8"/>
<line x1="177.3" y1="267" x2="179.3" y2="267" stroke="#4a4a4a" stroke-width="0.8"/>
<line x1="78.7" y1="285.35" x2="80.7" y2="285.35" stroke="#4a4a4a" stroke-width="0.8"/>
<line x1="177.3" y1="285.35" x2="179.3" y2="285.35" stroke="#4a4a4a" stroke-width="0.8"/>
<line x1="78.7" y1="303.7" x2="80.7" y2="303.7" stroke="#4a4a4a" stroke-width="0.8"/>
<line x1="177.3" y1="303.7" x2="179.3" y2="303.7" stroke="#4a4a4a" stroke-width="0.8"/>
<line x1="82.3" y1="248.3" x2="82.3" y2="250.3" stroke="#4a4a4a" stroke-width="0.8"/>
<line x1="82.3" y1="321.1" x2="82.3" y2="319.1" stroke="#4a4a4a" stroke-width="0.8"/>
<line x1="108.5" y1="248.3" x2="108.5" y2="250.3" stroke="#4a4a4a" stroke-width="0.8"/>
<line x1="108.5" y1="321.1" x2="108.5" y2="319.1" stroke="#4a4a4a" stroke-width="0.8"/>
<line x1="134.7" y1="248.3" x2="134.7" y2="250.3" stroke="#4a4a4a" stroke-width="0.8"/>
<line x1="134.7" y1="321.1" x2="134.7" y2="319.1" stroke="#4a4a4a" stroke-width="0.8"/>
<line x1="160.9" y1="248.3" x2="160.9" y2="250.3" stroke="#4a4a4a" stroke-width="0.8"/>
<line x1="160.9" y1="321.1" x2="160.9" y2="319.1" stroke="#4a4a4a" stroke-width="0.8"/>
<rect x="202.3" y="248.3" width="100.6" height="72.8" fill="none" stroke="#4a4a4a" stroke-width="1"/>
<line x1="202.3" y1="273.5" x2="204.3" y2="273.5" stroke="#4a4a4a" stroke-width="0.8"/>
<line x1="300.9" y1="273.5" x2="302.9" y2="273.5" stroke="#4a4a4a" stroke-width="0.8"/>
<line x1="202.3" y1="298.1" x2="204.3" y2="298.1" stroke="#4a4a4a" stroke-width="0.8"/>
<line x1="300.9" y1="298.1" x2="302.9" y2="298.1" stroke="#4a4a4a" stroke-width="0.8"/>
<line x1="205.9" y1="248.3" x2="205.9" y2="250.3" stroke="#4a4a4a" stroke-width="0.8"/>
<line x1="205.9" y1="321.1" x2="205.9" y2="319.1" stroke="#4a4a4a" stroke-width="0.8"/>
<line x1="232.1" y1="248.3" x2="232.1" y2="250.3" stroke="#4a4a4a" stroke-width="0.8"/>
<line x1="232.1" y1="321.1" x2="232.1" y2="319.1" stroke="#4a4a4a" stroke-width="0.8"/>
<line x1="258.3" y1="248.3" x2="258.3" y2="250.3" stroke="#4a4a4a" stroke-width="0.8"/>
<line x1="258.3" y1="321.1" x2="258.3" y2="319.1" stroke="#4a4a4a" stroke-width="0.8"/>
<line x1="284.5" y1="248.3" x2="284.5" y2="250.3" stroke="#4a4a4a" stroke-width="0.8"/>
<line x1="284.5" y1="321.1" x2="284.5" y2="319.1" stroke="#4a4a4a" stroke-width="0.8"/>
<rect x="85" y="247.7" width="4.75" height="74" fill="#cbcbf8"/>
<rect x="92.24" y="247.7" width="4.75" height="74" fill="#cbcbf8"/>
<rect x="99.48" y="247.7" width="4.75" height="74" fill="#cbcbf8"/>
<rect x="106.72" y="247.7" width="4.75" height="74" fill="#cbcbf8"/>
<rect x="113.96" y="247.7" width="4.75" height="74" fill="#cbcbf8"/>
<rect x="121.2" y="247.7" width="4.75" height="74" fill="#cbcbf8"/>
<rect x="128.44" y="247.7" width="4.75" height="74" fill="#cbcbf8"/>
<rect x="135.68" y="247.7" width="4.75" height="74" fill="#cbcbf8"/>
<rect x="142.92" y="247.7" width="4.75" height="74" fill="#cbcbf8"/>
<rect x="150.16" y="247.7" width="4.75" height="74" fill="#cbcbf8"/>
<rect x="208.7" y="247.7" width="4.75" height="74" fill="#cbcbf8"/>
<rect x="215.94" y="247.7" width="4.75" height="74" fill="#cbcbf8"/>
<rect x="223.18" y="247.7" width="4.75" height="74" fill="#cbcbf8"/>
<rect x="230.42" y="247.7" width="4.75" height="74" fill="#cbcbf8"/>
<rect x="237.66" y="247.7" width="4.75" height="74" fill="#cbcbf8"/>
<rect x="244.9" y="247.7" width="4.75" height="74" fill="#cbcbf8"/>
<rect x="252.14" y="247.7" width="4.75" height="74" fill="#cbcbf8"/>
<rect x="259.38" y="247.7" width="4.75" height="74" fill="#cbcbf8"/>
<rect x="266.62" y="247.7" width="4.75" height="74" fill="#cbcbf8"/>
<rect x="273.86" y="247.7" width="4.75" height="74" fill="#cbcbf8"/>
<text x="81.8" y="334.2" font-size="8.4" fill="#555" text-anchor="middle">0</text>
<text x="205.3" y="334.2" font-size="8.4" fill="#555" text-anchor="middle">0</text>
<text x="110.6" y="334.2" font-size="8.4" fill="#555" text-anchor="middle">100</text>
<text x="234.1" y="334.2" font-size="8.4" fill="#555" text-anchor="middle">100</text>
<text x="135.3" y="334.2" font-size="8.4" fill="#555" text-anchor="middle">200</text>
<text x="258.8" y="334.2" font-size="8.4" fill="#555" text-anchor="middle">200</text>
<text x="161" y="334.2" font-size="8.4" fill="#555" text-anchor="middle">300</text>
<text x="284.5" y="334.2" font-size="8.4" fill="#555" text-anchor="middle">300</text>
<text x="76" y="270" font-size="8.4" fill="#555" text-anchor="end">0.4</text>
<text x="76" y="288.35" font-size="8.4" fill="#555" text-anchor="end">0.2</text>
<text x="76" y="306.7" font-size="8.4" fill="#555" text-anchor="end">0</text>
<text x="76" y="325.05" font-size="8.4" fill="#555" text-anchor="end">-0.2</text>
<text x="200" y="251.9" font-size="8.4" fill="#555" text-anchor="end">0.4</text>
<text x="200" y="276.5" font-size="8.4" fill="#555" text-anchor="end">0.2</text>
<text x="200" y="301.1" font-size="8.4" fill="#555" text-anchor="end">0</text>
<text x="200" y="325.7" font-size="8.4" fill="#555" text-anchor="end">-0.2</text>
<text x="119.8" y="348.2" font-size="10.8" fill="#111" text-anchor="middle">Time (ms)</text>
<text x="256.1" y="348.2" font-size="10.8" fill="#111" text-anchor="middle">Time (ms)</text>
<text x="373.2" y="17.9" font-size="23" fill="#000" text-anchor="start" font-weight="bold">b</text>
<rect x="416.8" y="42.5" width="101" height="175.8" fill="none" stroke="#4a4a4a" stroke-width="1"/>
<rect x="423.3" y="41.9" width="4.75" height="177" fill="#cbcbf8"/>
<rect x="430.54" y="41.9" width="4.75" height="177" fill="#cbcbf8"/>
<rect x="437.78" y="41.9" width="4.75" height="177" fill="#cbcbf8"/>
<rect x="445.02" y="41.9" width="4.75" height="177" fill="#cbcbf8"/>
<rect x="452.26" y="41.9" width="4.75" height="177" fill="#cbcbf8"/>
<rect x="459.5" y="41.9" width="4.75" height="177" fill="#cbcbf8"/>
<rect x="466.74" y="41.9" width="4.75" height="177" fill="#cbcbf8"/>
<rect x="473.98" y="41.9" width="4.75" height="177" fill="#cbcbf8"/>
<rect x="481.22" y="41.9" width="4.75" height="177" fill="#cbcbf8"/>
<rect x="488.46" y="41.9" width="4.75" height="177" fill="#cbcbf8"/>
<path d="M467.09 62.53h1.34v2.57h-1.34zM475.31 65.76h1.75v2.35h-1.75zM426.26 64.7h1.5v2.77h-1.5zM469.06 63.92h1.67v2.59h-1.67zM496.72 62.86h1.81v2.63h-1.81zM452.68 63.17h1.35v2.42h-1.35zM428.11 65.2h1.96v2.69h-1.96zM494.94 65.22h1.8v2.45h-1.8zM472.64 63.03h1.74v2.93h-1.74zM434.81 63.81h1.76v2.91h-1.76zM472.33 61.87h1.39v2.57h-1.39zM497.66 63.41h1.84v2.49h-1.84zM435.78 63.7h1.82v2.02h-1.82zM486.69 64.59h1.53v2.61h-1.53zM474.45 63.17h1.42v2.03h-1.42zM436.74 63.98h1.95v2.03h-1.95zM433.82 64.81h1.36v2.97h-1.36zM494.62 62.49h1.37v2.97h-1.37zM446.12 64.59h1.75v2.26h-1.75zM454.1 63.34h1.25v2.29h-1.25zM471.06 63.48h1.22v2.01h-1.22zM454.01 63.92h1.9v2.41h-1.9zM419.25 64.35h1.58v2.56h-1.58zM439.79 65.13h1.82v2.34h-1.82zM456.54 63.65h1.51v2.13h-1.51zM479.37 64.59h1.22v2.39h-1.22zM467.14 63.59h1.77v3h-1.77zM453.22 63.52h1.69v2.84h-1.69zM434.32 63.58h1.39v2.42h-1.39zM481.22 62.17h1.62v2.68h-1.62zM434.01 64.55h1.83v2.56h-1.83zM476.41 64.5h1.42v2.23h-1.42zM458.53 63.45h1.68v2.08h-1.68zM462.86 65.12h1.73v2.28h-1.73zM449.56 64.05h1.39v2.47h-1.39zM435.26 63.84h1.41v2.53h-1.41zM432.64 61.35h1.6v2.27h-1.6zM469.91 62.94h1.92v2.75h-1.92zM441.04 64.6h1.6v2.32h-1.6zM420.35 64.04h1.21v2.87h-1.21zM434.45 63.64h1.32v2.84h-1.32zM492.01 63.4h1.23v2.29h-1.23zM475.46 65.16h1.8v2.9h-1.8zM465.07 64.74h1.48v2.03h-1.48zM450.96 62.94h1.25v2.72h-1.25zM483.85 62.72h1.57v2.27h-1.57zM440.02 64.27h1.64v2.35h-1.64zM469.25 63.54h1.93v2.94h-1.93zM420.17 63.1h1.52v2.52h-1.52zM470.24 64.32h1.97v2.43h-1.97zM496.07 62.76h1.96v2.65h-1.96zM475.2 63.91h1.64v2.82h-1.64zM425.29 63.58h1.41v2.36h-1.41zM465.96 65.57h1.65v2.02h-1.65zM444.26 63.36h1.79v2.06h-1.79zM491.89 63.69h1.65v2.3h-1.65zM420.66 64.71h1.25v2.93h-1.25zM420.16 64.05h1.9v2.52h-1.9zM426.83 63.15h1.45v2.1h-1.45zM446.03 63.82h1.45v2.86h-1.45zM488.95 63.17h1.23v2.79h-1.23zM463.84 61.87h1.55v2.87h-1.55zM471.56 65.28h1.83v2.59h-1.83zM422.73 63.83h1.7v2.8h-1.7zM433.04 64.34h1.91v2.73h-1.91zM449.31 64.91h1.22v2.01h-1.22zM468.83 63.82h1.21v2.56h-1.21zM478.6 64.63h1.9v2.1h-1.9zM464.63 63.47h1.25v2.94h-1.25zM441.31 62.92h1.42v2.32h-1.42zM433.41 62.91h1.89v2.67h-1.89zM452.54 64.36h1.5v2.49h-1.5zM439.44 63.47h1.95v2.71h-1.95zM479.27 64.77h1.4v2.53h-1.4zM489.79 65.45h1.46v2.78h-1.46zM482.76 63.07h1.83v2.16h-1.83zM428.79 64.19h1.24v2.21h-1.24zM481.42 63.82h1.49v2.16h-1.49zM420.42 64.36h1.62v2.31h-1.62zM429.91 64.07h1.8v2.49h-1.8zM474.6 63.61h1.38v2.43h-1.38zM444.69 63.29h1.92v2.15h-1.92zM484.58 63.14h1.82v2.29h-1.82zM473.62 65.3h1.28v2.84h-1.28zM469.81 66.42h1.74v2.09h-1.74zM466.68 64.31h1.94v2.12h-1.94zM491.37 63.47h1.37v2.82h-1.37zM484.98 64.15h1.63v2.81h-1.63zM421.55 61.27h1.5v2.9h-1.5zM497.03 63.98h1.65v2.91h-1.65zM453.3 65.68h1.93v2.55h-1.93zM442.57 63.43h1.25v2.94h-1.25zM487.92 64.7h1.63v2.53h-1.63zM491.84 63.01h1.97v2.66h-1.97zM480.29 63.31h1.32v2.73h-1.32zM476.1 63.76h1.96v2.57h-1.96zM420.04 63.01h1.7v2.15h-1.7zM441.08 61.89h1.66v2.64h-1.66zM483.39 65.24h1.23v2.88h-1.23zM498.11 64.64h1.22v2.4h-1.22zM441.4 65.73h1.5v2.35h-1.5zM479.35 64.69h1.54v2.96h-1.54zM428.15 64.06h1.28v2.48h-1.28zM478.3 65.79h1.48v2.24h-1.48zM447.4 64.84h1.86v2.58h-1.86zM503.75 62.77h1.8v2.39h-1.8zM501.87 62.49h1.89v2.04h-1.89zM504.25 64.16h1.81v1.9h-1.81zM505.22 63.55h1.97v1.92h-1.97zM498.96 61.77h2.14v2.47h-2.14zM507.22 65.29h1.77v2.24h-1.77zM502.21 62.92h1.69v2.57h-1.69zM486.31 71.8h1.63v2.75h-1.63zM480.98 72.65h1.24v2.27h-1.24zM433.76 71.37h1.89v2.02h-1.89zM448.45 70.94h1.69v2.33h-1.69zM460.73 72.56h1.23v2.49h-1.23zM490.66 71.35h1.45v2.56h-1.45zM419.27 71.46h1.29v2.42h-1.29zM489.96 71.58h1.39v2.6h-1.39zM423.69 71h1.61v2.72h-1.61zM442.87 72.84h1.23v2.86h-1.23zM419.49 71.24h1.47v2.85h-1.47zM495.81 71.4h1.36v2.71h-1.36zM495.23 71.8h1.49v2.65h-1.49zM453.5 71.79h1.21v2.91h-1.21zM475.3 72.35h1.41v2.52h-1.41zM423.22 73.8h1.53v2.53h-1.53zM463.03 71.59h1.97v2.62h-1.97zM446.74 72.31h1.39v2.23h-1.39zM462.8 70.46h1.42v2.23h-1.42zM443.49 73.35h1.96v2.11h-1.96zM471.78 72.25h1.99v2.92h-1.99zM457.12 71.17h1.67v2.69h-1.67zM458.16 71.71h1.26v2.72h-1.26zM458.02 71.9h1.74v2.11h-1.74zM446.84 70.99h1.83v2.39h-1.83zM459.49 71.14h1.81v2.08h-1.81zM475.98 72.49h1.6v2.65h-1.6zM469.21 71.02h1.61v2.75h-1.61zM429.87 73.7h1.4v2.73h-1.4zM471.45 73.87h1.58v2.74h-1.58zM434.94 71.17h1.69v2.27h-1.69zM470.48 72.52h1.3v2.39h-1.3zM477.71 72.3h1.34v2.78h-1.34zM470.01 70.82h1.94v2.52h-1.94zM481.71 71.79h1.58v2.55h-1.58zM451.51 71.02h1.65v2.57h-1.65zM497.52 72.71h1.45v2.03h-1.45zM489.26 71.32h1.51v2.49h-1.51zM461.14 72.64h1.77v2.22h-1.77zM443.15 71.73h1.39v2.72h-1.39zM493.13 72.35h2v2.88h-2zM464.81 71.18h1.37v2.21h-1.37zM430.73 72.22h1.72v2.31h-1.72zM451.64 72.08h1.21v2.98h-1.21zM428.58 72.52h1.84v2.46h-1.84zM457.86 71.07h1.26v2.52h-1.26zM440 69.92h1.76v2.14h-1.76zM431.43 72.92h1.99v2.21h-1.99zM479.23 72.54h1.63v2.44h-1.63zM443.95 71.95h1.99v2.72h-1.99zM494.81 71.18h1.92v2.61h-1.92zM473.72 70.97h1.31v2.27h-1.31zM449.72 75.18h1.39v2.26h-1.39zM442.32 72.82h1.84v2.29h-1.84zM430.38 72.46h1.82v2.35h-1.82zM446.99 73.56h1.31v2.78h-1.31zM463.01 71.44h1.84v2.09h-1.84zM420.37 72.09h1.48v2.59h-1.48zM464.46 71.33h1.47v2.3h-1.47zM436.02 71.78h1.65v2.49h-1.65zM432.3 72.11h1.51v2.98h-1.51zM431.34 72.58h1.8v2.29h-1.8zM442.1 72.56h1.81v2.71h-1.81zM467.33 72.91h1.63v2.03h-1.63zM439.67 72.7h1.75v2.38h-1.75zM472.29 71.23h1.86v2.05h-1.86zM458.5 73.56h1.75v2.45h-1.75zM447.24 72.89h1.9v2.81h-1.9zM495.14 71.39h1.4v2.38h-1.4zM493.07 72.19h1.75v2.07h-1.75zM435.27 71.66h1.21v2.05h-1.21zM456.1 72.21h1.42v2.61h-1.42zM463.36 72.61h1.61v2.96h-1.61zM446.7 72.72h1.5v2.9h-1.5zM448.33 71.25h1.83v2.82h-1.83zM495.04 72.17h1.39v2.77h-1.39zM466.01 72.51h1.49v2.23h-1.49zM493.17 71.32h1.82v2.71h-1.82zM446.66 73.1h1.34v2.7h-1.34zM470.39 71.66h1.68v2.35h-1.68zM462.4 72.57h1.47v2.52h-1.47zM481.91 72.26h1.22v2.04h-1.22zM436.51 70.22h1.84v2.47h-1.84zM422.2 71.35h1.36v2.48h-1.36zM483.25 72.77h1.89v2.11h-1.89zM489.61 70.57h1.41v2.32h-1.41zM422.8 72.74h1.65v2.46h-1.65zM488.61 73.1h1.88v2.52h-1.88zM457.03 72.4h1.84v2.92h-1.84zM425.15 69.9h1.55v2.82h-1.55zM439.07 71.5h1.94v2.44h-1.94zM432.61 71.95h1.25v2.74h-1.25zM460.55 71.24h1.96v2.74h-1.96zM497.89 72.07h1.74v2.99h-1.74zM450.45 73.21h1.78v2.88h-1.78zM473.62 71.61h1.46v2.62h-1.46zM442.98 70.36h1.52v2.6h-1.52zM429.8 72.28h1.8v2.14h-1.8zM496.59 71.66h1.65v2.5h-1.65zM489.18 71.97h1.42v2.69h-1.42zM427.05 71.54h1.84v2.73h-1.84zM498.24 72.11h1.91v1.91h-1.91zM506.06 72.49h1.87v2.16h-1.87zM499.14 72.55h1.89v2.38h-1.89zM506.41 72.18h2.06v2.18h-2.06zM470.41 79.63h1.86v2.76h-1.86zM489.73 81.41h1.8v2.7h-1.8zM434.39 79.93h1.74v2.4h-1.74zM455.33 78.49h1.99v2.77h-1.99zM420.89 80.9h1.66v2.37h-1.66zM460.73 78.18h1.36v2.03h-1.36zM483.65 79.68h1.38v2.89h-1.38zM486.21 79.13h1.44v2.71h-1.44zM483.49 80.1h1.44v2.7h-1.44zM465.97 80.79h1.46v2.01h-1.46zM492.65 79.59h1.67v2.54h-1.67zM472.15 80.53h1.38v2.95h-1.38zM460.82 79.92h1.77v2.17h-1.77zM434.09 79.1h1.86v2.35h-1.86zM474.02 81.1h1.94v2.34h-1.94zM493.81 77.69h1.85v2.81h-1.85zM427.08 79.52h1.34v2.61h-1.34zM448.24 78.82h1.23v2.38h-1.23zM486 80.23h1.91v2.04h-1.91zM466.87 80.34h1.33v2.6h-1.33zM464.77 79.52h1.39v2.81h-1.39zM458.14 82.05h1.75v2.95h-1.75zM420.11 78.47h1.23v2.08h-1.23zM468.67 78.68h1.36v2.53h-1.36zM463.8 79.97h1.9v2.96h-1.9zM484.02 80.35h1.81v2.07h-1.81zM465.01 79.82h1.94v2.23h-1.94zM467.16 78.55h1.84v2.69h-1.84zM468.03 81.05h1.73v2.63h-1.73zM433.39 80.01h1.73v2.34h-1.73zM453.98 80.32h1.45v2.02h-1.45zM479.86 78.56h1.69v2.99h-1.69zM430.94 79.93h1.82v2.4h-1.82zM486.44 80.48h1.97v2.32h-1.97zM488.56 80.11h1.42v2.83h-1.42zM443.83 79.55h1.42v2.13h-1.42zM444.04 78.91h1.79v2.77h-1.79zM493.78 80.7h1.66v2.06h-1.66zM439.92 80.9h1.86v2.33h-1.86zM474.07 79.62h1.53v2.86h-1.53zM474.57 80.59h1.53v2.6h-1.53zM496.98 80.89h1.93v2.02h-1.93zM441.01 80.28h1.64v2.03h-1.64zM475.21 77.4h1.92v2.47h-1.92zM494.27 80.39h1.86v2.4h-1.86zM493.94 80.12h1.98v2.16h-1.98zM454.81 79.58h1.24v2.09h-1.24zM455.96 80.51h1.21v2.67h-1.21zM478.69 80.34h1.59v2.19h-1.59zM472.49 78.77h1.5v2.63h-1.5zM456.31 81.15h1.98v2.43h-1.98zM479.32 79.52h1.26v2.93h-1.26zM440.64 80.57h1.37v2.8h-1.37zM462.96 79.88h1.92v2.98h-1.92zM466.86 78.32h1.45v2.93h-1.45zM485.76 79.92h1.32v2.68h-1.32zM491.95 78.06h1.36v3h-1.36zM425.74 80.48h1.91v2.92h-1.91zM426.63 80.94h1.29v2.42h-1.29zM458.56 78.23h1.81v2.45h-1.81zM448.97 79.31h1.28v2.71h-1.28zM425.67 79.14h1.62v2.82h-1.62zM435.42 78.79h1.8v2.89h-1.8zM477.37 78.94h1.3v2.97h-1.3zM432.04 79.68h1.85v2.92h-1.85zM478.98 79.66h1.79v2.35h-1.79zM474.3 78.79h1.31v2.81h-1.31zM419.35 78.68h1.84v2.5h-1.84zM464.08 80.89h1.35v2.41h-1.35zM438.42 80.01h1.75v2.59h-1.75zM419.29 80.13h1.58v2.7h-1.58zM439.71 79.48h1.55v2.16h-1.55zM493.62 79.31h1.34v2.47h-1.34zM491.66 80.14h1.23v2.51h-1.23zM477.31 79.51h1.57v2.05h-1.57zM432.16 79.56h1.96v2.18h-1.96zM439.59 80.49h1.5v2.1h-1.5zM428.05 79.23h1.8v2.31h-1.8zM490.09 80.2h1.78v2.92h-1.78zM426.78 78.24h1.79v2.97h-1.79zM463.8 80.55h1.29v2.33h-1.29zM463.2 79.71h1.9v2.68h-1.9zM498.22 80.04h1.46v2.83h-1.46zM489.32 80.46h1.83v2.45h-1.83zM424.23 80.19h1.92v2.64h-1.92zM494.13 79.95h1.6v2.19h-1.6zM454.45 80.4h1.3v2.32h-1.3zM477.05 78.81h1.33v2.39h-1.33zM483.74 80.74h1.57v2.93h-1.57zM422.36 78.46h1.97v2.94h-1.97zM431.14 81.48h1.69v2.23h-1.69zM439.57 79.69h1.67v2.47h-1.67zM467.99 80.13h1.53v2.03h-1.53zM468.03 79.27h1.57v2.98h-1.57zM476.22 80.34h1.53v2.62h-1.53zM443.31 77.45h1.48v2.8h-1.48zM469.31 80.55h1.51v2.38h-1.51zM448.03 77.48h1.62v2.3h-1.62zM468.74 79.51h1.92v2.62h-1.92zM472.48 80.78h1.73v2.09h-1.73zM457.47 78.09h1.26v2.98h-1.26zM459.73 80.27h1.71v2.69h-1.71zM429.37 80.33h1.98v2.16h-1.98zM423.37 79.78h1.57v2.49h-1.57zM506.77 79.17h1.87v1.82h-1.87zM503.74 80.33h2.13v2.42h-2.13zM505.95 79.7h1.92v2.04h-1.92zM501.48 80.64h1.7v1.83h-1.7zM503.01 80.31h1.51v2.23h-1.51zM502.96 81.01h2.03v2.57h-2.03zM500.93 79.43h2.03v2.42h-2.03zM503.09 79.29h1.94v2.3h-1.94zM474.19 88.48h1.61v2.18h-1.61zM488.82 87.99h1.24v2.78h-1.24zM478.64 86.89h1.62v2.68h-1.62zM428.24 88.24h1.71v2.49h-1.71zM483.63 87.59h1.33v2.64h-1.33zM481.88 88.75h1.3v2.69h-1.3zM450.5 87.88h1.31v2.1h-1.31zM467.06 87.38h1.57v2.08h-1.57zM450.37 86.68h1.62v2.15h-1.62zM497.59 88.79h1.27v2.66h-1.27zM451.04 87.6h1.8v2.91h-1.8zM473.64 86.39h1.82v2.58h-1.82zM456.49 89.02h1.64v2.71h-1.64zM467.92 87.32h1.67v2.12h-1.67zM429.33 87.77h1.36v2.77h-1.36zM429.96 88.34h1.59v2.72h-1.59zM442.55 87.77h1.9v2.29h-1.9zM442.24 87.44h1.53v2.18h-1.53zM472.49 86.9h1.37v2.93h-1.37zM449.23 87.74h1.58v2.63h-1.58zM480.91 86.06h1.64v2.83h-1.64zM448.93 88.52h1.55v2.09h-1.55zM477.15 87.05h1.41v2.11h-1.41zM457.48 87.19h1.79v2.12h-1.79zM446.39 88.18h1.97v2.38h-1.97zM430.96 87.14h1.76v2.96h-1.76zM451.15 89.55h1.52v2.13h-1.52zM449.05 86.61h1.96v2.79h-1.96zM423.1 88.07h1.22v2.07h-1.22zM468.48 87.26h1.69v2.88h-1.69zM426.1 88.01h1.33v2.92h-1.33zM440.62 87.34h1.24v2.16h-1.24zM443.88 88.97h1.91v2.71h-1.91zM485.89 87.56h1.83v2.28h-1.83zM447.63 86.49h1.23v2.33h-1.23zM420.18 86.12h1.81v2.45h-1.81zM458.49 88.61h1.9v2.25h-1.9zM436.58 86.19h1.7v2.46h-1.7zM430.93 87.22h1.39v2.41h-1.39zM491.44 88.86h1.62v2.69h-1.62zM425.98 86.64h1.34v2.67h-1.34zM435.33 87.9h1.32v2.88h-1.32zM427.3 87.73h1.82v2.81h-1.82zM437.81 89.01h1.75v2.27h-1.75zM421.73 87.74h1.91v2.37h-1.91zM459.21 87.84h1.56v2.08h-1.56zM479.67 86.96h1.79v2.97h-1.79zM454.24 88.43h1.94v2.55h-1.94zM469.91 87.68h1.99v2.13h-1.99zM484.8 86.91h1.25v2.34h-1.25zM468.06 88.33h1.23v2.95h-1.23zM430.43 89.03h1.36v2.26h-1.36zM483.31 87.76h1.36v2.02h-1.36zM496.84 88.33h1.68v2.36h-1.68zM497.54 88.17h1.75v2.37h-1.75zM436.44 87.28h1.74v2.9h-1.74zM486.61 89.08h1.27v2.11h-1.27zM438.59 87.58h1.67v2.93h-1.67zM441.54 87.45h1.89v2.52h-1.89zM451.4 86.23h1.42v2.16h-1.42zM472.22 86.08h1.41v2.57h-1.41zM447.96 87.24h1.94v2.74h-1.94zM441.16 88.39h1.2v2.84h-1.2zM444.99 87.68h1.2v2.88h-1.2zM421.78 87.67h1.51v2.2h-1.51zM465.13 87.91h1.71v2.89h-1.71zM470.26 87.05h1.5v2.82h-1.5zM453.94 89.48h1.98v2.81h-1.98zM495.78 87.94h1.35v2.01h-1.35zM480.29 88.85h1.84v2.57h-1.84zM446.26 89.49h1.41v3h-1.41zM465.73 86.07h1.42v2.5h-1.42zM459.31 88h1.39v2.28h-1.39zM434.53 87.93h1.31v2.5h-1.31zM448.82 88.53h1.32v2.8h-1.32zM471.92 88.59h1.42v2.91h-1.42zM447.19 87.94h1.53v2.61h-1.53zM431.81 86.83h1.63v2.97h-1.63zM448.18 87.07h1.24v2.05h-1.24zM435.78 89.33h1.54v2.6h-1.54zM444.14 87.47h1.23v2.78h-1.23zM424.48 86.11h1.36v2.65h-1.36zM461.22 86.87h1.75v2.77h-1.75zM452.02 88.25h1.38v2.56h-1.38zM441.46 87.8h1.84v2.86h-1.84zM472.5 87.3h1.24v2.48h-1.24zM489.57 90.07h1.39v2.04h-1.39zM449.86 86.68h1.24v2.28h-1.24zM444 86.76h1.29v2.17h-1.29zM477.58 88.03h1.66v2.98h-1.66zM479.98 88.79h1.54v2.73h-1.54zM440.96 88.44h1.76v2.11h-1.76zM450.54 89.44h1.41v2.35h-1.41zM428.32 86.43h1.85v2.97h-1.85zM481.09 86.59h1.54v2.52h-1.54zM460.69 88.5h1.21v2.88h-1.21zM488.34 88.91h1.31v2.66h-1.31zM454.4 86.45h1.43v2.78h-1.43zM444.69 87.94h1.7v2.07h-1.7zM490.29 86.99h1.82v2.28h-1.82zM419.66 89.98h1.54v2.32h-1.54zM453.6 90.08h1.26v2.31h-1.26zM462.48 87.1h1.7v2.36h-1.7zM451.16 87.56h1.23v2.59h-1.23zM477.13 87.41h1.49v2.56h-1.49zM480.57 88.77h1.98v2.41h-1.98zM476.94 88.5h1.45v2.24h-1.45zM506.54 88.9h1.86v2.42h-1.86zM498.45 88.83h1.75v1.81h-1.75zM501.13 88.12h2.13v2.58h-2.13zM506.75 88.3h1.81v1.84h-1.81zM503.61 87.51h1.92v2.15h-1.92zM499.44 87.69h1.49v2.03h-1.49zM500.3 88.19h1.43v2.48h-1.43zM503.33 87.93h1.77v2.16h-1.77zM482.27 95.98h1.24v2.68h-1.24zM431.76 96.7h1.29v2.15h-1.29zM492.19 97.25h1.37v2.21h-1.37zM483.22 96.88h1.53v2.4h-1.53zM480.56 94.21h1.72v2.69h-1.72zM479.71 95.01h1.83v2.94h-1.83zM493.74 94.79h1.6v2.29h-1.6zM488.44 94.9h1.48v2.64h-1.48zM476.22 96.64h1.23v2.53h-1.23zM460.71 95.11h1.93v2.84h-1.93zM467.99 96.31h1.39v2.92h-1.39zM488.63 95.62h1.36v2.9h-1.36zM440.06 95.54h1.91v2.27h-1.91zM486 96.23h1.68v2.64h-1.68zM472.1 98h1.94v2.08h-1.94zM457.85 95.31h1.41v2h-1.41zM463.7 93.75h1.41v2.78h-1.41zM478.25 96.1h1.96v2.46h-1.96zM429.9 96.2h1.76v2.87h-1.76zM447.22 93.94h1.97v2.03h-1.97zM430.92 95.9h1.21v2.91h-1.21zM453.29 96.25h1.42v2.1h-1.42zM470.31 95.71h1.51v2.97h-1.51zM454.53 96.65h1.39v2.73h-1.39zM469.9 94.15h1.44v2.72h-1.44zM455.59 94.92h1.4v2.63h-1.4zM487.59 94.51h1.82v2.8h-1.82zM481.93 95.32h1.24v2.07h-1.24zM440.96 95.82h1.79v2.11h-1.79zM457.5 96.76h1.84v2.4h-1.84zM495.92 96.51h1.88v2.58h-1.88zM453.07 95.7h1.58v2.74h-1.58zM435.38 95.79h1.83v2.66h-1.83zM421.67 94.68h1.81v2.6h-1.81zM442.93 96.44h1.35v2.63h-1.35zM494.56 97.64h1.76v2.25h-1.76zM462.53 97.2h1.91v2.27h-1.91zM441.91 94.09h1.58v2.7h-1.58zM421.51 98.11h1.29v2.35h-1.29zM455.83 96.23h1.92v2.79h-1.92zM428.5 94.67h1.5v2.54h-1.5zM433.97 95.29h1.55v2.62h-1.55zM468.7 93.72h1.75v2.29h-1.75zM480.63 95.18h1.96v2.42h-1.96zM491.45 96.15h1.31v2.3h-1.31zM484.54 95.67h1.52v2.25h-1.52zM489.02 92.32h1.33v2.73h-1.33zM460.29 96.86h1.59v2.27h-1.59zM454.85 95.62h1.41v2.2h-1.41zM451.36 95.81h1.7v2.74h-1.7zM490.4 95.94h1.55v2.17h-1.55zM483.18 96.76h1.76v2.88h-1.76zM482.96 96.65h1.38v2.17h-1.38zM427.77 94.55h1.94v2.25h-1.94zM431.33 95.61h1.99v2.33h-1.99zM480.53 96.13h1.34v2.36h-1.34zM468.04 95.37h1.9v2.78h-1.9zM490.63 96.99h1.77v2.39h-1.77zM432.19 98.5h1.71v2.61h-1.71zM433.01 98.26h1.79v2.71h-1.79zM429.71 95.8h1.95v2.81h-1.95zM429.01 97.23h1.69v2.82h-1.69zM427.8 94.05h1.76v2.98h-1.76zM496.91 96.23h1.66v2.05h-1.66zM438.12 95.07h1.42v2.43h-1.42zM484.29 96.72h1.64v2.08h-1.64zM465.14 94.74h1.35v2.83h-1.35zM430.09 95.23h1.84v2.09h-1.84zM497.12 94.21h1.69v2.43h-1.69zM483.51 95.86h1.36v2.75h-1.36zM434.75 95.95h1.36v2.11h-1.36zM465.75 94.82h1.29v2.92h-1.29zM457.84 97.05h1.85v2.31h-1.85zM452.06 95.59h1.64v2.05h-1.64zM448.42 96.8h1.98v2.15h-1.98zM446.32 94.42h1.5v2.2h-1.5zM451.45 95h1.4v2.58h-1.4zM476.7 96.39h1.5v2.66h-1.5zM434.04 97.05h1.96v2.77h-1.96zM494.88 95.4h1.8v2.49h-1.8zM487.95 96.28h1.44v2.16h-1.44zM429.79 96.74h1.69v2.47h-1.69zM462.18 97.12h1.29v2.41h-1.29zM454.87 95.15h1.93v2.05h-1.93zM454.31 96.3h1.29v2.44h-1.29zM451.6 95.68h1.27v2.75h-1.27zM425.13 96.02h1.32v2.83h-1.32zM474.92 94.88h1.81v2.44h-1.81zM423.86 96.23h1.33v2.79h-1.33zM484.26 95.21h1.25v2.34h-1.25zM471.16 96.59h1.94v2.08h-1.94zM450.67 95.13h1.82v2.59h-1.82zM467.05 96.89h1.77v2.09h-1.77zM460.71 96.54h1.9v2.41h-1.9zM488.09 95.2h1.69v2.34h-1.69zM425.53 96.97h1.7v2.51h-1.7zM423.66 93.25h1.32v2.9h-1.32zM462.32 96.7h1.23v2.06h-1.23zM478.96 94.99h1.87v2.46h-1.87zM445.31 94.92h1.3v2.87h-1.3zM491.22 96.22h1.98v2.98h-1.98zM425.19 96.07h1.33v2.25h-1.33zM447.05 95.68h1.87v2.5h-1.87zM486.78 94.8h1.4v2.39h-1.4zM502.82 96.79h1.71v1.97h-1.71zM503.5 95.34h1.5v2.4h-1.5zM506.44 96.75h1.54v2.05h-1.54zM499.93 97.13h1.61v1.93h-1.61zM502.64 94.61h2.12v2.58h-2.12zM504.99 96.51h1.42v2.18h-1.42zM499.42 96.89h1.71v2.48h-1.71zM505.85 97.21h2.04v2.09h-2.04zM455.27 101.59h1.57v2.68h-1.57zM443.35 103.71h1.58v2.21h-1.58zM470.72 104.22h1.9v2.15h-1.9zM455.51 104.24h1.4v2.08h-1.4zM470.26 103.54h1.22v2.82h-1.22zM456.76 104.41h1.97v2.81h-1.97zM428.55 103.39h1.63v2.92h-1.63zM487.82 103.67h1.79v2.19h-1.79zM468.64 105.15h1.38v2.47h-1.38zM462.9 102.82h1.36v2.91h-1.36zM440.75 102.48h1.22v2.63h-1.22zM441.89 103.62h1.75v2.98h-1.75zM438.5 103.35h1.95v2.58h-1.95zM498.03 103.73h1.97v2.07h-1.97zM435.56 103.76h1.88v2.87h-1.88zM458.97 104.74h1.46v2.62h-1.46zM456.78 102.89h1.32v2.57h-1.32zM445.63 102.41h1.59v2.54h-1.59zM432.9 102.72h1.7v2.47h-1.7zM432.96 104.64h1.63v2.64h-1.63zM455.32 104.27h1.22v2.1h-1.22zM470.98 104.46h1.34v2.49h-1.34zM428.67 102.12h1.6v2.37h-1.6zM430.35 104.34h1.26v2.5h-1.26zM424 104.24h1.62v2.06h-1.62zM423.86 102h1.51v2.56h-1.51zM492.17 102.89h1.92v2.39h-1.92zM471.77 103.78h1.49v2.1h-1.49zM461.82 102.73h1.5v2.5h-1.5zM493.05 104.21h1.96v2.28h-1.96zM454.05 102.86h1.38v2.4h-1.38zM452.97 103.56h1.7v2.87h-1.7zM469.83 102.84h1.2v2.68h-1.2zM443.13 104.22h1.76v2.54h-1.76zM462.31 102.35h1.56v2.99h-1.56zM489.89 102.61h1.22v2.08h-1.22zM497.76 102.97h1.47v2.98h-1.47zM433.29 103.27h1.85v2.08h-1.85zM479.91 103.22h1.45v2.42h-1.45zM429.31 105.17h1.34v2.97h-1.34zM495.54 102.05h1.28v2.89h-1.28zM496.32 102.12h1.7v2.19h-1.7zM488.1 104.92h1.4v2.8h-1.4zM483.61 104.55h1.74v2.4h-1.74zM446.28 102.46h1.53v2.35h-1.53zM489.32 102.81h1.86v2.05h-1.86zM437.59 102.76h1.89v2.68h-1.89zM421.41 102.76h2v2.22h-2zM456.97 103.78h1.86v2.16h-1.86zM420.59 104h1.67v2.34h-1.67zM475.39 103.1h1.37v2.01h-1.37zM433.93 103.49h1.79v2.28h-1.79zM441.97 104.89h1.64v2.44h-1.64zM492.27 100.83h1.92v2.71h-1.92zM472.16 103.46h1.57v2.47h-1.57zM440.77 103.18h1.71v2.27h-1.71zM497.8 103.23h1.29v2.03h-1.29zM420.64 104.27h1.44v2.03h-1.44zM461.78 102.58h1.33v2.39h-1.33zM495.63 100.42h1.5v2.68h-1.5zM460.12 106.11h1.98v2.09h-1.98zM455.07 104.96h1.87v2.35h-1.87zM438.32 103.32h1.98v2.45h-1.98zM486.27 103.55h1.99v2.39h-1.99zM438.95 107.4h1.54v2.09h-1.54zM496.27 104.9h1.21v2.05h-1.21zM470.14 102.94h1.96v2.57h-1.96zM443.37 103.41h1.55v2.61h-1.55zM462.67 103.53h1.28v2.59h-1.28zM462.07 105.51h1.58v2.92h-1.58zM438.01 104.53h1.9v2.6h-1.9zM477.54 103.24h1.94v2.76h-1.94zM436.98 103.78h1.36v2.34h-1.36zM462.82 103.67h1.6v2.9h-1.6zM457.52 103.57h1.94v2.88h-1.94zM426.14 103.13h1.59v2.37h-1.59zM487.92 103.28h1.7v2.42h-1.7zM451.49 104.94h1.96v2.62h-1.96zM431.01 103.51h1.58v2.25h-1.58zM483.54 102.24h1.9v2.9h-1.9zM456.97 103.63h1.94v2.23h-1.94zM494.37 103.26h1.5v2.68h-1.5zM419.27 103.96h1.74v2.57h-1.74zM483.48 103.76h1.83v2.66h-1.83zM477.7 102.81h1.39v2.54h-1.39zM469.68 102.82h1.69v2.77h-1.69zM448.96 105.19h1.66v2.27h-1.66zM491.47 104.53h1.86v2.54h-1.86zM451.77 104.12h1.64v2.7h-1.64zM429.44 102.94h1.65v2.96h-1.65zM475.54 102.66h1.26v2.27h-1.26zM461.32 105.17h1.51v2.84h-1.51zM442.69 103.92h1.98v2.22h-1.98zM466.58 102.44h1.38v2.02h-1.38zM474.1 103.88h1.26v2.63h-1.26zM427.49 104.95h1.86v2.59h-1.86zM481.62 104.96h1.29v2.78h-1.29zM459.42 104.45h1.92v2.5h-1.92zM434.06 104.63h1.78v2.42h-1.78zM470.51 101.22h1.83v2.23h-1.83zM505.44 104.24h2.12v1.87h-2.12zM507.09 103.73h1.49v2.59h-1.49zM499.82 104.75h1.67v1.81h-1.67zM501.35 103.55h2.15v2.41h-2.15zM504.4 103.41h1.76v2.21h-1.76zM457.19 110.98h1.61v2.49h-1.61zM495.8 112.37h1.45v2.31h-1.45zM433.12 110.19h1.99v2.43h-1.99zM474.1 113.24h1.4v2.72h-1.4zM490.11 113.22h1.37v2.31h-1.37zM472.18 111.67h1.35v2.68h-1.35zM481.45 111.28h1.48v2.68h-1.48zM487.82 112.55h1.27v2.96h-1.27zM490.31 111.31h1.95v2.83h-1.95zM483.43 111.27h1.59v2.82h-1.59zM453.97 112.85h1.72v2.24h-1.72zM454.8 111.95h1.22v3h-1.22zM447.6 110.63h1.28v2.95h-1.28zM460.98 110.71h1.75v2.46h-1.75zM484.47 111.21h1.3v2.2h-1.3zM496.88 112.88h1.98v2.34h-1.98zM487.41 112.61h1.4v2.68h-1.4zM488.46 110.35h1.26v3h-1.26zM448.11 111.45h1.25v2.17h-1.25zM487.96 110.6h1.42v2.89h-1.42zM456.23 111.9h1.29v2.39h-1.29zM484.23 112.01h1.9v2.74h-1.9zM450.59 110.86h1.76v2.78h-1.76zM452.27 111.16h1.22v2.93h-1.22zM468.84 112.01h1.49v2.6h-1.49zM474.68 112.1h1.27v2.91h-1.27zM461.45 111.86h1.37v2.23h-1.37zM426.36 111.83h1.74v2.02h-1.74zM472.57 111.21h1.55v2.72h-1.55zM459.81 113.03h1.22v2.34h-1.22zM428.03 111.48h1.89v2.77h-1.89zM459.41 111.7h1.94v2.85h-1.94zM450.53 112.42h1.55v2.21h-1.55zM473.68 110.61h1.37v2.58h-1.37zM457.7 113.25h2v2.59h-2zM438.04 110.51h1.3v2.54h-1.3zM452.35 113.09h1.58v2.25h-1.58zM428.09 112.14h1.34v2.43h-1.34zM467.03 113.03h1.31v2.69h-1.31zM440.77 113.08h1.62v2.28h-1.62zM445.06 111.99h1.25v2.54h-1.25zM477.09 111.79h1.72v2.14h-1.72zM432.87 109.55h1.79v2.33h-1.79zM487.15 112.73h1.45v2.98h-1.45zM462.73 110.55h1.89v2.26h-1.89zM497.73 110.96h1.45v2.54h-1.45zM482.29 111.02h1.63v2.7h-1.63zM480.51 113.36h1.72v2.02h-1.72zM490.4 109.84h1.97v2.09h-1.97zM456.47 112.41h1.47v2.18h-1.47zM457.38 110.96h1.25v2.8h-1.25zM469.4 110.42h1.27v2.07h-1.27zM450.62 110.56h1.75v2.42h-1.75zM491.69 113.09h1.93v2.01h-1.93zM496.36 111.21h1.58v2.04h-1.58zM486.58 112.76h1.48v2h-1.48zM481.5 110.36h1.77v2.65h-1.77zM463.35 112.51h1.32v2.63h-1.32zM478.96 112.46h1.73v2.91h-1.73zM456.79 112.91h1.71v2.33h-1.71zM482.99 111.43h1.75v2.34h-1.75zM478.71 111.65h1.37v2.5h-1.37zM468.45 111.8h1.34v2.87h-1.34zM494.77 112.96h1.42v2.03h-1.42zM462.1 110.97h1.48v2.44h-1.48zM419.33 112.11h1.68v2.22h-1.68zM495.65 111.38h1.96v2.82h-1.96zM469.24 112.01h1.51v2.25h-1.51zM472.85 110.93h1.83v2.25h-1.83zM443.38 112.27h1.54v2.96h-1.54zM452.47 112.11h1.27v2.48h-1.27zM454.6 111.99h1.81v2.26h-1.81zM421.4 110.2h1.83v2.77h-1.83zM439.12 111.56h1.61v2.77h-1.61zM493.98 113.87h1.7v2.35h-1.7zM461.31 112.14h1.57v2.66h-1.57zM431.39 110.99h1.63v2.71h-1.63zM459.07 112.17h1.41v2.57h-1.41zM434.4 110.27h1.85v2.65h-1.85zM481.24 110.62h1.95v2.68h-1.95zM439.14 111.25h1.91v2.82h-1.91zM446.54 110.03h1.51v2.78h-1.51zM462.45 111.04h1.74v2.61h-1.74zM474.21 112.58h1.37v2.83h-1.37zM476.21 112.3h1.38v2.53h-1.38zM445.05 112.76h1.21v2.03h-1.21zM493.64 112.95h1.69v2.91h-1.69zM464.16 111.38h1.95v2.68h-1.95zM437.32 111.52h1.53v2.45h-1.53zM497.71 111.47h1.91v2.3h-1.91zM465.8 110.7h1.93v2.14h-1.93zM488.5 112.14h1.98v2.12h-1.98zM457.96 109.82h1.26v2.44h-1.26zM480.28 112.59h1.95v2.71h-1.95zM429.38 111.77h1.76v2.03h-1.76zM442.23 112.42h1.29v2.26h-1.29zM431.99 110.02h1.8v2.78h-1.8zM452.46 110.91h1.91v2.39h-1.91zM439.61 112.2h1.7v2.21h-1.7zM441.7 112.34h1.61v2.34h-1.61zM443.86 111.25h1.87v2.53h-1.87zM424.3 108.99h1.26v2.71h-1.26zM496.24 110.3h1.3v2.36h-1.3zM475.04 112.16h1.57v2.27h-1.57zM446.71 110.38h1.86v2.27h-1.86zM453.2 110.99h1.98v2.07h-1.98zM455.2 110.77h1.89v2.73h-1.89zM462.4 112.6h1.69v2.18h-1.69zM472.95 111.57h1.94v2.68h-1.94zM454.42 111.82h1.93v2.91h-1.93zM447.14 110.8h1.88v2.39h-1.88zM473.15 111.32h1.37v2.08h-1.37zM502.58 110.85h1.48v2.45h-1.48zM501.88 111.05h1.96v2.52h-1.96zM503.07 110.47h2.14v1.97h-2.14zM503.1 112.88h2.03v1.94h-2.03zM506.94 113.88h1.89v2h-1.89zM507.02 112.61h1.62v2.42h-1.62zM502.84 111.27h2.04v2.25h-2.04zM443.07 118.81h1.3v2.78h-1.3zM490.23 119.82h1.98v2.76h-1.98zM497.87 119.25h1.89v2.16h-1.89zM482.06 118.99h1.51v2.32h-1.51zM478.9 119.71h1.65v2.19h-1.65zM429.56 121.7h1.94v2.46h-1.94zM454.64 119.68h1.63v2.26h-1.63zM492.53 120.99h1.42v2.14h-1.42zM469.94 120.7h1.33v2.34h-1.33zM430.42 121.71h1.73v2.12h-1.73zM420.84 121.37h1.95v2.01h-1.95zM441.24 118.34h1.4v2.34h-1.4zM483.75 119.62h1.27v2.43h-1.27zM457.04 119.27h1.89v2.53h-1.89zM430.51 118.26h1.54v2.37h-1.54zM455.25 118.27h1.87v2.65h-1.87zM464.11 120.04h1.79v2.09h-1.79zM452.53 119.7h1.94v2.07h-1.94zM473.49 120.53h1.68v2.97h-1.68zM485.29 118.94h1.53v2.94h-1.53zM491.23 118.02h1.81v2.08h-1.81zM439.4 119.89h1.43v2.28h-1.43zM421.53 118.73h1.76v2.09h-1.76zM475.13 117.73h1.79v2.84h-1.79zM488.88 119.41h1.6v2.49h-1.6zM467.8 119.45h1.27v2.9h-1.27zM480.32 119.15h1.72v2.5h-1.72zM482.81 120.61h1.79v2.01h-1.79zM424.08 119.22h1.58v2.89h-1.58zM494.29 118.94h1.97v2.94h-1.97zM488.53 119.01h1.85v2.69h-1.85zM431.48 119.89h1.82v2.66h-1.82zM450.04 120.03h1.22v2.06h-1.22zM467.9 118.27h1.39v2.37h-1.39zM461.18 120.04h1.88v2.03h-1.88zM477.83 117.81h1.8v2.32h-1.8zM435.83 119.64h1.29v2.54h-1.29zM460.41 120.63h1.89v2.42h-1.89zM478.3 118.98h1.87v2.55h-1.87zM442.77 119.67h1.21v2.05h-1.21zM445.25 121.29h1.55v2.81h-1.55zM448.36 119.45h1.84v2.91h-1.84zM458.94 119.09h1.21v2.62h-1.21zM488.61 119.48h1.81v2.28h-1.81zM473.29 119.01h1.52v2.73h-1.52zM445.12 119.12h1.55v2.19h-1.55zM450.71 119.11h1.31v2.53h-1.31zM472 120.23h1.4v2.61h-1.4zM448.52 119.4h1.74v2.7h-1.74zM483.86 117.96h1.63v2.81h-1.63zM432.43 120.26h1.63v2.44h-1.63zM442.9 120.1h1.72v2.94h-1.72zM470.08 120.21h1.97v2.46h-1.97zM432.9 119.46h1.45v2.54h-1.45zM445.51 119.32h1.79v2.18h-1.79zM431.88 118.95h1.53v2.83h-1.53zM428.08 117.88h1.22v2.89h-1.22zM464.09 118.85h1.31v3h-1.31zM496.08 117.93h1.63v2.92h-1.63zM459.54 120.04h1.66v2.9h-1.66zM436.18 117.66h1.52v2.36h-1.52zM467.02 119.65h1.75v2.44h-1.75zM431.3 119.08h1.73v2.23h-1.73zM489.79 120.03h1.24v2.36h-1.24zM445.81 119.26h1.52v2.19h-1.52zM473.32 120.07h1.35v2.81h-1.35zM451.33 117.91h1.6v2.69h-1.6zM491.33 120.05h1.83v2.6h-1.83zM429.89 119h1.81v2.67h-1.81zM486.93 119.24h1.93v2.82h-1.93zM489.48 118.91h1.9v2.46h-1.9zM496.56 119.07h1.66v2.4h-1.66zM491.82 119.88h1.21v2.4h-1.21zM449.06 119.29h1.78v2.54h-1.78zM470.01 118.62h1.95v2.28h-1.95zM496.2 119.98h1.43v2.67h-1.43zM496.28 119.54h1.84v2.84h-1.84zM495.87 121.29h1.59v2.68h-1.59zM448.2 121.59h1.94v2.33h-1.94zM489.42 118.34h1.74v2.74h-1.74zM450.46 118.75h1.76v2.27h-1.76zM448.08 120.81h1.71v2.37h-1.71zM460.3 121.34h1.75v2.5h-1.75zM475.56 120.56h1.56v2.08h-1.56zM477.37 121.07h1.31v2.36h-1.31zM463.28 118.68h1.6v2.27h-1.6zM431.55 119.93h1.99v2.24h-1.99zM464.7 118.56h1.98v2.84h-1.98zM434.87 119.35h1.56v2.77h-1.56zM437.9 118.83h1.93v2.81h-1.93zM475.91 118.86h1.5v2.92h-1.5zM493.03 118.81h1.9v2.1h-1.9zM472.52 119.18h1.28v2.25h-1.28zM457.37 121.05h1.59v2.2h-1.59zM433.25 120.72h1.65v2.48h-1.65zM420.8 119.49h1.34v2.51h-1.34zM478.46 118.32h1.38v2.11h-1.38zM465.12 121.4h1.68v2.25h-1.68zM482.42 120.77h1.31v2.95h-1.31zM506.7 118.55h1.93v2.17h-1.93zM504.95 120.32h1.8v1.82h-1.8zM500.55 121.41h1.48v1.86h-1.48zM498.59 121.08h1.62v1.92h-1.62zM498.4 119.97h2.11v2.22h-2.11zM502.51 119.66h1.73v1.88h-1.73zM498.42 120.58h1.73v2.54h-1.73zM428.22 126.63h1.71v2.22h-1.71zM473.04 127.39h1.48v2.09h-1.48zM443.02 127.47h1.2v2.59h-1.2zM423.15 127.32h1.59v2.69h-1.59zM443.93 127.52h1.25v2.22h-1.25zM434.27 127.88h1.94v2.85h-1.94zM460.36 127.08h1.81v2.03h-1.81zM429.18 127.09h1.88v2.95h-1.88zM461.14 128.71h1.27v2.23h-1.27zM459.43 129.14h1.79v2.15h-1.79zM490.89 127.46h1.25v2.18h-1.25zM437.17 127.24h1.58v2.83h-1.58zM419.96 127.95h1.85v2.45h-1.85zM494.92 127.47h1.29v2.57h-1.29zM457.33 127.25h1.87v2.09h-1.87zM422.71 126.11h1.58v2.31h-1.58zM471.57 128.24h1.29v2.22h-1.29zM470.15 128.43h1.85v2.95h-1.85zM482.07 129.75h1.31v2.08h-1.31zM432.62 126.95h1.7v2.91h-1.7zM424.7 130.06h1.5v2.29h-1.5zM481.95 127.74h1.22v2.68h-1.22zM445.03 127.14h1.91v2.94h-1.91zM446.11 126.88h1.38v2.97h-1.38zM460.36 128.62h1.76v2.81h-1.76zM452.91 127.52h1.51v2.34h-1.51zM421.93 127.08h1.45v2.07h-1.45zM497.96 126.53h1.83v2.69h-1.83zM450.92 126.41h1.95v2.31h-1.95zM467.63 126.49h1.24v2.91h-1.24zM429.65 128.13h1.59v2.27h-1.59zM435.62 125.5h1.71v2.85h-1.71zM444.5 127.49h1.61v2.47h-1.61zM456.05 128.69h1.64v2.81h-1.64zM435.95 126.22h1.84v2.66h-1.84zM497.14 128.48h1.47v2.61h-1.47zM477.82 127.81h1.54v2.89h-1.54zM460.14 127.98h1.65v2.21h-1.65zM496.3 129.92h1.72v2.93h-1.72zM468.47 126.06h1.34v2.89h-1.34zM495.91 126.42h1.43v2.54h-1.43zM422.63 125.94h1.38v2.43h-1.38zM445.6 127.7h1.69v2.6h-1.69zM465.12 127.72h1.77v2.72h-1.77zM494.13 128.22h1.75v2.66h-1.75zM432.59 128.54h1.53v2.46h-1.53zM430.28 127.49h1.87v2.06h-1.87zM484.72 128.4h1.54v2.23h-1.54zM490.12 126.15h1.63v2.6h-1.63zM449.29 126.48h1.38v2.74h-1.38zM472.31 127.23h1.55v2.8h-1.55zM455.2 127.21h1.94v2.51h-1.94zM429.74 125.98h1.69v2.77h-1.69zM470.52 129.03h1.65v2.94h-1.65zM474.44 125.89h1.47v2.28h-1.47zM490.44 128.04h1.67v2.74h-1.67zM498.12 126.79h1.23v2.42h-1.23zM431.15 129.84h1.87v2.23h-1.87zM496.83 126.89h1.3v2.61h-1.3zM448.31 126.84h1.29v2.95h-1.29zM430.08 127.76h1.87v2.75h-1.87zM441.51 125.15h1.87v2.11h-1.87zM492.13 127.82h1.93v2.18h-1.93zM462.41 127.38h1.69v2.21h-1.69zM445.14 125.59h1.82v2.5h-1.82zM422.64 127.66h1.3v2.33h-1.3zM481.44 126.42h1.84v2.72h-1.84zM450.18 129.76h1.58v2.14h-1.58zM425.1 126.85h1.61v2.76h-1.61zM481.96 127.96h1.38v2.83h-1.38zM452.61 127.96h1.7v2.77h-1.7zM422.62 126.08h1.99v2.75h-1.99zM497.63 128.6h1.25v2.73h-1.25zM438.22 127.15h1.86v2.56h-1.86zM438.85 127h1.62v2.14h-1.62zM493.24 127.15h1.48v2.63h-1.48zM468.4 126.2h1.31v2.71h-1.31zM439.7 126.75h1.31v2.51h-1.31zM473.74 126.39h1.22v2.49h-1.22zM457.39 126.51h1.25v2.62h-1.25zM495.45 129.25h1.94v2.63h-1.94zM430.42 127.7h1.9v2.07h-1.9zM452.14 126.39h1.21v2.95h-1.21zM478.74 127.48h1.77v2.94h-1.77zM456.36 126.61h1.62v2.58h-1.62zM442.66 126.7h1.74v2.28h-1.74zM464.77 127.74h1.39v2.17h-1.39zM479.04 127.93h1.46v2.8h-1.46zM496.27 127.37h1.63v2.39h-1.63zM430.42 126.76h1.79v2.29h-1.79zM450.3 127.59h1.85v2.39h-1.85zM485.42 128.66h1.8v2.69h-1.8zM496.99 126.89h1.82v2.73h-1.82zM439.16 127.26h1.83v2.14h-1.83zM489.91 127.77h1.21v2.95h-1.21zM492.32 128.94h1.61v2.17h-1.61zM479.76 128.08h1.69v2.75h-1.69zM481.11 128.22h1.41v2.26h-1.41zM425.21 127.44h1.27v2.02h-1.27zM467.66 127.98h1.76v2.28h-1.76zM457.88 128.65h1.98v2.05h-1.98zM454.75 129.03h1.37v2.69h-1.37zM446.07 128.4h1.36v2.53h-1.36zM425.64 128.47h1.86v2.32h-1.86zM479.4 127.32h1.32v2.59h-1.32zM492.6 128.89h1.7v2.22h-1.7zM492.99 128.07h1.98v2.48h-1.98zM493.57 126.06h1.4v2.02h-1.4zM472.25 127.12h1.78v2.07h-1.78zM503.57 129.12h1.89v2.42h-1.89zM503.62 126.57h1.67v1.98h-1.67zM499.21 128.24h1.84v1.86h-1.84zM506.18 127.02h1.66v2.12h-1.66zM507.04 127.71h1.44v2.01h-1.44zM501.99 127.14h1.64v2.1h-1.64zM499.34 128.16h1.84v2.41h-1.84zM422.58 134.39h1.33v2.5h-1.33zM419.92 135.28h1.47v2.1h-1.47zM446.6 136.26h1.42v2.53h-1.42zM492.17 136.08h1.46v2.86h-1.46zM489.21 133.44h1.95v2.25h-1.95zM425.23 133.51h1.61v2.15h-1.61zM447.89 134.77h1.65v2.63h-1.65zM437.63 136.89h1.58v2.3h-1.58zM493.53 136.1h1.27v2.43h-1.27zM467.21 135.66h1.31v2.52h-1.31zM460.26 137.55h1.83v2.75h-1.83zM477.78 135.75h1.71v2.9h-1.71zM421.91 135.68h1.8v2.39h-1.8zM476.51 135.49h1.28v2.06h-1.28zM465.61 134.23h1.84v2.29h-1.84zM459.14 135.74h1.43v2.39h-1.43zM434.09 134.11h1.52v2.2h-1.52zM491.43 135.63h1.41v2.99h-1.41zM482.8 135.07h1.28v2.45h-1.28zM463.56 134.05h1.52v2.13h-1.52zM490.86 137.21h1.87v2.23h-1.87zM471.9 134.39h1.92v2.93h-1.92zM483.41 135.98h1.21v2.22h-1.21zM450.73 135.26h1.82v2.85h-1.82zM488.39 135.69h1.27v2.94h-1.27zM495.15 134.87h1.45v2.17h-1.45zM426.98 135.72h1.99v2.81h-1.99zM446.97 135.02h1.77v2.94h-1.77zM476.54 135.78h1.35v2.72h-1.35zM452.87 134.89h1.93v2.97h-1.93zM456.02 134.96h1.75v2.16h-1.75zM465.88 136.11h1.69v2.28h-1.69zM474.6 134.35h1.72v2.52h-1.72zM455.74 138.52h1.58v2.66h-1.58zM439.87 134.89h1.3v2.85h-1.3zM425.86 133.08h1.83v2.35h-1.83zM477.82 134.71h1.91v2.51h-1.91zM457.13 137.1h1.79v2.59h-1.79zM476.79 134.78h1.95v2.67h-1.95zM421.85 137.87h1.99v2.84h-1.99zM428.15 133.06h1.53v2.96h-1.53zM475.57 136.2h1.68v2.74h-1.68zM429.28 138.58h2v2.74h-2zM422.3 135.18h1.35v2.41h-1.35zM434.84 136.29h1.7v2.75h-1.7zM438.14 135.6h1.43v2.15h-1.43zM484.84 134.95h1.64v2.9h-1.64zM478.81 137.18h1.36v2.89h-1.36zM480.75 136.41h1.84v2.86h-1.84zM462.36 136.77h1.51v2.75h-1.51zM467.02 134.5h1.35v2.11h-1.35zM437.98 135.17h1.33v2.72h-1.33zM464.99 134.51h1.21v2.15h-1.21zM448.27 136.71h1.65v2.33h-1.65zM447.21 135.96h1.84v2.62h-1.84zM425.19 133.34h1.75v2.99h-1.75zM477.3 136.74h1.92v2.58h-1.92zM446.23 137.68h1.31v2.12h-1.31zM466.35 134.73h1.8v2.41h-1.8zM430.81 134.58h1.56v2.76h-1.56zM445.6 136.98h1.56v2.33h-1.56zM475.27 136.15h1.56v2.83h-1.56zM471.25 135.72h1.94v2.48h-1.94zM458.52 135.68h1.8v2.68h-1.8zM454.53 135.91h1.21v2.06h-1.21zM436.47 137.4h1.87v2.29h-1.87zM438.58 136.12h1.43v2.61h-1.43zM437.76 134.86h1.91v2.25h-1.91zM486.24 135.22h1.56v2.44h-1.56zM468.28 135.86h1.66v2.72h-1.66zM450.92 134.38h1.69v2.37h-1.69zM438.5 134.57h1.82v2.4h-1.82zM451.83 133.71h1.21v2.82h-1.21zM464.71 134.63h1.71v2.05h-1.71zM433.25 136.37h1.52v2.72h-1.52zM422.14 134.39h1.2v2.26h-1.2zM429.04 137.03h1.47v2.9h-1.47zM472.32 134.89h1.48v2.84h-1.48zM485.67 136.65h1.96v2.16h-1.96zM444.67 136.63h1.64v2.28h-1.64zM467.37 136.68h1.78v2.86h-1.78zM448.84 135.49h1.26v2.55h-1.26zM448.53 134.54h1.62v2.36h-1.62zM453.88 134.5h1.35v2.68h-1.35zM491.79 133.72h1.44v2.1h-1.44zM447.89 137.41h1.64v2.35h-1.64zM484.97 136h1.39v2.07h-1.39zM448.6 134.86h1.38v2.33h-1.38zM465.55 133.95h1.39v2.51h-1.39zM470.06 134.42h1.65v2.74h-1.65zM489.11 134.71h1.47v2.55h-1.47zM438.8 133.9h1.28v2.26h-1.28zM482.52 135.47h1.48v2.38h-1.48zM439.83 135.89h1.23v2.59h-1.23zM419.89 135.92h1.22v2.03h-1.22zM425.63 135.5h1.47v2.53h-1.47zM460.31 135.58h1.67v2.02h-1.67zM488.87 135.64h1.28v2.29h-1.28zM492.51 135.82h1.67v2.91h-1.67zM460.35 135.31h1.95v2.84h-1.95zM419.97 135.73h1.84v2.24h-1.84zM454.36 136.31h1.51v2.95h-1.51zM431.83 136.47h1.98v2.27h-1.98zM502.62 136.38h2.19v1.92h-2.19zM505.69 134.8h1.85v2.52h-1.85zM501.67 134.8h1.96v2.08h-1.96zM498.71 135.34h1.75v2.49h-1.75zM506.87 135.8h1.8v2.14h-1.8zM506.51 134.72h1.79v1.85h-1.79zM452.38 141.71h1.27v2.15h-1.27zM423.86 142.45h1.82v2.34h-1.82zM461.71 143.38h1.54v2.76h-1.54zM465.31 142.03h1.63v2.08h-1.63zM450.8 142.16h1.74v2.19h-1.74zM461.19 144.09h1.46v2.35h-1.46zM459.25 144.75h1.58v2.8h-1.58zM464.91 142.87h1.8v2.57h-1.8zM480.95 144.1h1.41v2.64h-1.41zM429 143.76h1.28v2.36h-1.28zM472.69 143.85h1.99v2.13h-1.99zM491.1 142.38h1.93v2.17h-1.93zM495.81 142.24h1.61v2.39h-1.61zM452.4 143.12h1.84v2.62h-1.84zM448.92 145.25h1.29v2.67h-1.29zM460.09 142.38h1.3v2.69h-1.3zM424.62 142.96h1.85v2.83h-1.85zM464.15 143.24h1.23v2.11h-1.23zM470.13 142h1.5v2.81h-1.5zM425.9 143.36h1.77v2.97h-1.77zM483.23 141.57h1.26v2.54h-1.26zM497.62 142.43h1.72v2.38h-1.72zM450.28 142.03h1.47v2.67h-1.47zM444.36 143.28h1.91v2.63h-1.91zM451.79 145.52h1.22v2.49h-1.22zM491.23 143.35h1.32v2.25h-1.32zM450.19 143.87h1.52v2.87h-1.52zM422.37 144.27h1.85v2.93h-1.85zM458.5 142.41h1.38v2.1h-1.38zM470.12 143.61h1.59v2.87h-1.59zM429.38 142.42h1.86v2.98h-1.86zM486.05 142.93h1.3v2.49h-1.3zM467.44 143.6h1.64v2.67h-1.64zM423.94 143.5h1.65v2.84h-1.65zM444.9 142.61h1.5v2.38h-1.5zM487.49 145.25h1.79v2.15h-1.79zM478.72 144.42h1.25v2.08h-1.25zM432.05 144.35h1.79v2h-1.79zM438.84 145.33h1.36v2.43h-1.36zM472.38 145.16h1.89v2.59h-1.89zM496.38 143.13h1.69v2.43h-1.69zM457.9 144.27h1.24v2.45h-1.24zM468.33 142.62h1.57v2.61h-1.57zM447.89 143.83h1.83v2.58h-1.83zM426.52 143.74h1.31v2.41h-1.31zM475.27 145.23h1.69v2.14h-1.69zM485.34 142.15h1.61v2.74h-1.61zM453.95 143.1h1.58v2.15h-1.58zM475.4 143.81h1.52v2.46h-1.52zM489.36 142.79h1.27v2.78h-1.27zM491.91 143.24h1.52v2.46h-1.52zM445 143.67h1.51v2.5h-1.51zM432.19 144.42h1.86v2.5h-1.86zM427.24 144.12h1.26v2.28h-1.26zM421.8 144.09h1.72v2.92h-1.72zM491.17 143.67h1.26v2.26h-1.26zM489.82 142.11h1.21v2.43h-1.21zM461.28 142.94h1.43v2.92h-1.43zM449.38 142.66h1.28v2.36h-1.28zM477.9 144.67h1.36v2.3h-1.36zM474.71 142.89h1.45v2.37h-1.45zM439.65 142.03h1.86v2.77h-1.86zM479.5 143.41h1.78v2.07h-1.78zM422.76 141.34h1.36v2.72h-1.36zM497.64 142.76h1.84v2.81h-1.84zM428.93 142.67h1.49v2.6h-1.49zM419.27 142.95h1.34v2.91h-1.34zM453.19 142.9h1.71v2.35h-1.71zM426.4 143.85h1.59v2.56h-1.59zM497.62 142.37h1.98v2.78h-1.98zM464.16 146h1.66v2.89h-1.66zM462.25 144.41h1.29v2.55h-1.29zM468.57 141.58h1.39v2.19h-1.39zM493.88 142.73h1.91v2.55h-1.91zM429.91 142.99h1.82v2.19h-1.82zM433.95 143.41h1.99v2.36h-1.99zM444.49 142.44h1.89v2.81h-1.89zM483.19 143.55h1.6v2.44h-1.6zM486.93 141.99h1.95v2.89h-1.95zM474.39 142.19h1.53v2.82h-1.53zM442.94 142.61h1.5v2.27h-1.5zM419.31 142.22h1.64v2.28h-1.64zM426.08 143.75h1.47v2.64h-1.47zM467.29 143.87h1.49v2.76h-1.49zM467.02 143.09h1.74v2.77h-1.74zM476.11 141.45h1.22v2.99h-1.22zM423.31 143.31h1.5v2.3h-1.5zM488.3 143.21h1.75v2.91h-1.75zM463.54 145.45h1.57v2.14h-1.57zM497.93 143.13h1.35v2.87h-1.35zM453.19 143.28h1.84v2.61h-1.84zM423.24 142.51h1.77v2.21h-1.77zM423.47 144.7h1.27v2.79h-1.27zM456.08 144.18h1.44v2.19h-1.44zM456.94 142.04h1.66v2.91h-1.66zM478.51 144.03h1.77v2.69h-1.77zM448.36 142.97h1.84v2.39h-1.84zM455.41 144.69h1.9v2.22h-1.9zM489.7 143.96h1.95v2.03h-1.95zM468.29 143.93h1.62v2.21h-1.62zM489.01 143.9h1.78v2.25h-1.78zM424.48 144.03h1.65v2.02h-1.65zM483.5 143.05h1.71v2.95h-1.71zM441.89 143.82h1.7v2.23h-1.7zM452.71 141.8h1.47v2.18h-1.47zM447.15 142.71h1.61v2.33h-1.61zM450.22 142.66h1.56v2.66h-1.56zM467.01 144.02h1.59v2.29h-1.59zM447.57 144.3h1.63v2.47h-1.63zM491.93 143.26h1.63v2.31h-1.63zM463.69 143.66h1.68v2.45h-1.68zM451.36 144.69h1.35v2.88h-1.35zM478.91 144.64h1.23v2.32h-1.23zM506.79 142.47h1.66v2.44h-1.66zM503.15 144.83h1.79v1.91h-1.79zM506.42 143.24h1.93v1.87h-1.93zM500.04 144.03h1.89v1.88h-1.89zM500.55 143.48h1.93v2.31h-1.93zM500.37 142.71h1.59v2h-1.59zM500.09 143.36h1.64v2.3h-1.64zM501.46 142.83h2.05v2.58h-2.05zM448.24 149.49h1.36v2.66h-1.36zM442.32 151.55h1.44v2.71h-1.44zM467.37 151.89h1.53v2.03h-1.53zM463.62 151.81h1.61v2.37h-1.61zM433.49 149.93h1.87v2.31h-1.87zM469.7 151.51h1.73v2.82h-1.73zM481.48 151.24h1.81v2.96h-1.81zM495.16 149.5h1.37v2.33h-1.37zM478.51 151.36h1.81v2.85h-1.81zM465.65 150.94h1.71v2.39h-1.71zM466.74 149.41h1.36v2.44h-1.36zM448.98 149.61h1.27v2.46h-1.27zM424.43 152.61h1.34v2.58h-1.34zM457.36 149.86h1.88v2.91h-1.88zM487.85 151.19h1.32v2.99h-1.32zM478.38 149.63h1.77v2.17h-1.77zM430.87 151.16h1.5v2.86h-1.5zM473.5 151.74h1.53v2.16h-1.53zM481.14 151.33h1.57v2.65h-1.57zM468.55 149.77h1.88v2.76h-1.88zM428.83 150.22h1.43v2.08h-1.43zM454.62 152.35h1.33v2.83h-1.33zM431.59 152.26h1.83v2.01h-1.83zM489.83 151.81h1.35v2.51h-1.35zM421.84 152.79h1.64v2.63h-1.64zM433.54 150.42h1.28v2.27h-1.28zM488.29 149.38h1.73v2.3h-1.73zM459.17 152.02h1.41v2.56h-1.41zM496.68 152.22h1.26v2.03h-1.26zM480.87 149.11h1.6v2.45h-1.6zM434.47 150.41h1.91v2.61h-1.91zM469.11 149.84h1.4v2.56h-1.4zM441.2 152.16h1.84v2.78h-1.84zM479.23 153.09h1.87v2.46h-1.87zM436.8 152.58h1.84v2.36h-1.84zM423.42 153.06h1.49v2.66h-1.49zM493.73 150.51h1.35v2.75h-1.35zM439.8 151.9h1.83v2.85h-1.83zM445.26 151.17h1.83v2.85h-1.83zM480.73 152.09h1.29v2.4h-1.29zM421.59 151.36h1.3v2.68h-1.3zM433.81 151.25h1.75v2.79h-1.75zM481.52 151.3h1.6v2.02h-1.6zM469.08 152.74h1.57v2.3h-1.57zM471.67 153.25h1.7v2.42h-1.7zM445.88 152.9h1.37v2.36h-1.37zM476.55 150.74h1.86v2.71h-1.86zM456.04 152.67h1.63v2.31h-1.63zM488.61 151.21h1.44v2.44h-1.44zM489.92 150.44h1.75v2.54h-1.75zM445.07 150.58h1.24v2.07h-1.24zM470.03 150.16h1.46v2.74h-1.46zM426.52 151.89h1.62v2.12h-1.62zM430.48 151.18h1.3v2.05h-1.3zM497.21 150.84h1.31v2.5h-1.31zM437.48 150.88h1.91v2.92h-1.91zM453.59 151.98h1.41v2.76h-1.41zM433.23 151.53h1.91v2.81h-1.91zM483.65 149.84h1.89v2.2h-1.89zM444.67 152.27h1.53v2.74h-1.53zM441.76 153.01h1.49v2.5h-1.49zM443.4 150.85h1.22v2.88h-1.22zM429.96 151.35h1.22v2.51h-1.22zM426.64 150.8h1.69v2.27h-1.69zM466.99 151.83h1.52v2.19h-1.52zM453.36 151.03h1.74v2.23h-1.74zM497.78 150.94h1.81v2.79h-1.81zM465.66 149.27h1.53v2.91h-1.53zM446.11 153.17h1.94v2.13h-1.94zM422.61 151.04h1.73v2.26h-1.73zM446.7 150.84h1.22v2.96h-1.22zM429.93 149.32h1.41v2.87h-1.41zM462.71 149.19h1.86v2.74h-1.86zM476.63 152.66h1.43v2.17h-1.43zM473.29 151.53h1.44v2.26h-1.44zM427.33 152.49h1.95v2.3h-1.95zM445.27 151.33h1.74v2.07h-1.74zM458.28 149.12h1.26v2.24h-1.26zM464.03 150.11h1.37v2.44h-1.37zM476.86 152.25h1.93v2.14h-1.93zM424.2 151.53h1.3v2.94h-1.3zM436.56 150.79h1.22v2.43h-1.22zM429.22 149.51h1.33v2.71h-1.33zM436.49 152.16h1.92v2.24h-1.92zM484.59 152.85h1.49v2.5h-1.49zM427.33 152.16h1.53v2.85h-1.53zM490.83 151.64h1.74v2.76h-1.74zM485.69 151.49h1.65v2.06h-1.65zM434.21 149.59h1.24v2.64h-1.24zM427.78 151.85h1.59v2.99h-1.59zM437.85 152.57h1.34v2.91h-1.34zM453 151.56h1.52v2.17h-1.52zM435.25 150.61h2v2.85h-2zM449.33 153.01h1.82v2.45h-1.82zM440.71 150.75h1.94v2.47h-1.94zM455.94 151.14h1.59v2.63h-1.59zM458.46 150.49h1.79v2.96h-1.79zM498.18 152h1.78v2.7h-1.78zM486.86 151.3h1.61v2.48h-1.61zM455.88 150.59h1.91v2.78h-1.91zM444.31 152.27h1.95v2.29h-1.95zM438.07 151.28h1.83v2.9h-1.83zM425.98 152.14h1.57v2.2h-1.57zM473.27 150.1h1.58v2.21h-1.58zM439.4 150.93h1.69v2.81h-1.69zM455.82 150.68h1.96v2.68h-1.96zM505.86 151.79h1.59v2.24h-1.59zM504.86 150.01h1.92v2.4h-1.92zM502.63 151.91h2.16v2.27h-2.16zM504.66 151.55h1.92v2.23h-1.92zM507.09 150.04h2.09v2.52h-2.09zM504.97 151.89h1.5v2.51h-1.5zM500.37 151.69h1.6v2.06h-1.6zM504.64 150.55h2.05v2.08h-2.05zM489.83 159.32h1.74v2.58h-1.74zM431.33 159.03h1.29v2.05h-1.29zM439.62 160.79h1.63v2.97h-1.63zM463.69 159.73h1.47v2.01h-1.47zM469.25 159.86h1.73v2.36h-1.73zM459.9 159.5h1.24v2.56h-1.24zM450.8 159.16h1.92v2.49h-1.92zM472.59 160.65h1.92v2.03h-1.92zM470.21 158.37h1.25v2.24h-1.25zM490.9 158.26h1.9v2.97h-1.9zM436.76 159.47h1.48v2.85h-1.48zM436.54 159.47h1.33v2.18h-1.33zM477.6 160.19h1.63v2.35h-1.63zM491.79 158.7h1.62v2.22h-1.62zM455.92 158.8h1.51v2.77h-1.51zM492.24 159.44h1.58v2.86h-1.58zM442.04 157.85h1.32v2.94h-1.32zM488.63 160.43h1.49v2.69h-1.49zM434.22 158.99h1.27v2.23h-1.27zM448.73 160.18h1.7v2.67h-1.7zM425.22 159.48h1.34v2.18h-1.34zM451.37 159.42h1.22v2.75h-1.22zM450.32 158.3h1.63v2.08h-1.63zM452.34 161.42h1.64v2.25h-1.64zM432.45 160.01h1.27v2.94h-1.27zM452.8 160.38h1.83v2.13h-1.83zM473.78 160.91h1.72v2.43h-1.72zM428.47 159.43h1.77v2.82h-1.77zM461.42 157.69h1.57v2.86h-1.57zM450.73 159.39h1.99v2.83h-1.99zM496.44 157.95h1.58v2.62h-1.58zM422.74 159.31h1.98v2.33h-1.98zM478.51 159.37h1.51v2.61h-1.51zM439.36 158.56h1.35v2.37h-1.35zM447.97 157.81h1.82v2.16h-1.82zM480.24 158.21h1.69v2.54h-1.69zM463.42 158.45h1.32v2.1h-1.32zM436.27 157.82h1.25v2.45h-1.25zM449.63 158.26h1.32v2.56h-1.32zM450.26 159.71h1.83v2.95h-1.83zM496.77 159.73h1.54v2.23h-1.54zM467.55 158.75h1.42v2.16h-1.42zM479.65 160.48h1.7v2.67h-1.7zM469.79 161.14h1.92v2.24h-1.92zM490.54 159.1h1.47v2.65h-1.47zM478.7 159.59h1.58v2.42h-1.58zM424.29 160.84h1.97v2.13h-1.97zM434.21 159.83h1.94v2.04h-1.94zM481.73 157.76h1.57v2.48h-1.57zM434.47 159.72h1.92v2.07h-1.92zM461.69 159.14h1.49v2.63h-1.49zM420.84 158.7h1.66v2.3h-1.66zM496.82 159.24h1.91v2.11h-1.91zM494.84 159.44h1.74v2.66h-1.74zM456.15 160.49h1.52v2.44h-1.52zM476.1 159.23h1.22v2.11h-1.22zM442.15 159.36h1.49v2.05h-1.49zM431.88 158.96h1.35v2.38h-1.35zM458.68 160.28h1.62v2.33h-1.62zM477.41 158.43h1.68v2.76h-1.68zM429.88 159.03h1.72v2.78h-1.72zM434.29 158.94h1.7v2.54h-1.7zM449.37 158.68h1.89v2.77h-1.89zM450.26 157.93h1.97v2.07h-1.97zM470.32 159.98h1.56v2.9h-1.56zM480.55 160.33h1.63v2.36h-1.63zM461.33 158.7h1.28v2.26h-1.28zM456.86 157.91h1.7v2.59h-1.7zM460 157.81h1.85v2.95h-1.85zM495.92 159.2h1.94v2.35h-1.94zM428.18 159.86h1.97v2.08h-1.97zM452.98 161.23h1.58v2.2h-1.58zM477.63 160.48h1.97v2.94h-1.97zM465.58 160.45h1.68v2.21h-1.68zM426.38 159.62h1.94v2.11h-1.94zM457.86 159.21h1.31v2.86h-1.31zM455.56 158.31h1.66v2.4h-1.66zM490.17 160.25h1.91v2.93h-1.91zM466.17 160.37h1.66v2.88h-1.66zM436.15 158.89h1.86v2.58h-1.86zM461.07 159.5h1.9v2.07h-1.9zM478.75 160.75h1.7v2.57h-1.7zM434.66 158.63h1.36v2.85h-1.36zM476.41 160.43h1.54v2.8h-1.54zM467.18 158.83h1.74v2.13h-1.74zM472.32 157.49h1.56v2.19h-1.56zM453.95 159.88h1.69v2.29h-1.69zM467.19 158.11h1.76v2.56h-1.76zM436.17 159.34h1.93v2.18h-1.93zM463.17 158.86h1.7v2.65h-1.7zM491.47 159.79h1.28v2.09h-1.28zM442.02 156.6h1.73v2.2h-1.73zM462.53 160.78h1.73v2.25h-1.73zM423.68 159.93h1.89v2.33h-1.89zM490.89 158.41h1.21v2.66h-1.21zM441.23 157.94h1.49v2.85h-1.49zM452.23 159.13h1.3v2.7h-1.3zM457.81 160.01h2v2.64h-2zM421.53 158.22h1.56v2.53h-1.56zM472.35 159.94h1.52v2.51h-1.52zM427.1 161.33h1.52v2.32h-1.52zM423.85 159.17h1.72v2.85h-1.72zM466.24 158.58h1.96v2.05h-1.96zM448.16 159.39h1.49v2.72h-1.49zM477.28 160.79h1.82v2.58h-1.82zM471.51 159.69h1.28v2.08h-1.28zM473.16 158.8h1.7v2.41h-1.7zM446.16 158.81h1.93v2.19h-1.93zM438.15 159.76h1.85v2.17h-1.85zM469.76 159.68h1.8v2.13h-1.8zM487.04 159.73h1.84v2.19h-1.84zM442.42 159.31h1.55v2.28h-1.55zM420.42 159.71h1.59v2.23h-1.59zM492.44 158.75h1.29v2.23h-1.29zM442.73 160.43h1.21v2.48h-1.21zM427.47 160.56h1.9v2.12h-1.9zM432.33 158.16h1.35v2.6h-1.35zM466.57 159.49h1.33v2.89h-1.33zM499.98 159.18h1.58v2.23h-1.58zM501.48 160.22h1.72v2.52h-1.72zM502.95 159.55h1.4v2.58h-1.4zM506.39 158.8h1.63v2.13h-1.63zM503.41 161.96h1.99v2.59h-1.99zM504.75 160.72h1.9v1.93h-1.9zM469.16 168.45h1.9v2.18h-1.9zM485.94 167.45h1.85v2.98h-1.85zM468.76 166.74h1.89v2.6h-1.89zM460.79 168.72h1.33v2.38h-1.33zM485.8 166.49h1.42v2.3h-1.42zM446.86 166.83h1.42v2.59h-1.42zM437.53 165.65h1.72v2.09h-1.72zM423.7 166.41h1.22v2.98h-1.22zM423.47 168.18h1.29v2.31h-1.29zM462.98 167.62h1.54v2.33h-1.54zM450.98 165.05h1.48v2.36h-1.48zM492.08 166.28h1.95v2.01h-1.95zM437.29 166.53h1.37v2.1h-1.37zM435.07 167h1.53v2.55h-1.53zM494.43 167.35h1.43v2.74h-1.43zM481.64 166.86h1.92v2.46h-1.92zM494.88 166.36h1.89v2.98h-1.89zM497.51 167.24h1.89v2.36h-1.89zM484.34 168.6h1.2v2.15h-1.2zM432.39 169.76h1.89v2.35h-1.89zM479.12 166.6h1.52v2.12h-1.52zM489.7 166.17h1.29v2.57h-1.29zM453.25 167.45h1.93v2.35h-1.93zM437.29 167.93h1.96v2.82h-1.96zM423.06 166.98h1.32v2.85h-1.32zM493.46 166.95h1.95v2.99h-1.95zM439 168.97h1.53v2.43h-1.53zM433.23 165.2h1.63v2.91h-1.63zM429.57 168.77h1.52v2.74h-1.52zM481.47 168.17h1.77v2.2h-1.77zM461.01 165.53h1.89v2.63h-1.89zM427.1 168.06h1.94v2.05h-1.94zM470.84 166.4h1.8v2.82h-1.8zM477.16 167.4h1.32v2.29h-1.32zM447.48 166.79h1.45v2.36h-1.45zM457.54 166.91h1.94v2.11h-1.94zM429.72 167.61h1.21v2.47h-1.21zM453.78 167.31h1.78v2.05h-1.78zM496.8 167.05h1.95v2.32h-1.95zM449.58 166.56h1.68v2.79h-1.68zM438.85 166.67h1.93v2.73h-1.93zM462.29 167.54h1.56v2.78h-1.56zM473.43 166.4h2v2.6h-2zM460.06 168.42h1.42v2.36h-1.42zM434.61 168.33h1.95v2.64h-1.95zM450.76 168.99h1.62v2.34h-1.62zM478.01 167.14h1.44v2.2h-1.44zM497.28 166.74h1.48v2.14h-1.48zM495.15 168.37h1.98v2.69h-1.98zM430.56 164.92h1.75v2.97h-1.75zM497.18 165.66h1.51v3h-1.51zM422.06 166.59h1.62v2.38h-1.62zM494.34 168.98h1.46v2.12h-1.46zM434.2 166.93h1.86v2.76h-1.86zM433.74 168.05h1.53v2.51h-1.53zM436.33 167.98h1.29v2.03h-1.29zM462.85 167.61h1.53v2.82h-1.53zM424.37 167.62h1.68v2.11h-1.68zM423.98 166.66h1.65v2.86h-1.65zM452.01 167.9h2v2.79h-2zM480.56 168.87h1.8v2.95h-1.8zM474.79 166.74h1.67v2.13h-1.67zM437.23 167.92h1.36v2.06h-1.36zM424.33 168.53h1.9v2.71h-1.9zM467.8 167.37h1.9v2.29h-1.9zM431.07 167.47h1.43v2.4h-1.43zM492.65 166.81h1.31v2.23h-1.31zM465.48 168.06h1.95v2.32h-1.95zM494.74 169.13h1.63v2.06h-1.63zM450.36 168.77h1.64v2.03h-1.64zM469.66 167.65h1.77v2.45h-1.77zM452.97 166.6h1.4v2.58h-1.4zM471.77 167.5h1.37v2.4h-1.37zM424.7 167.82h1.59v2.35h-1.59zM424.65 166.05h1.88v2.42h-1.88zM485.61 167.26h1.8v2.71h-1.8zM425.05 167.04h1.68v2.05h-1.68zM454.17 165.48h1.61v2.89h-1.61zM453.29 167.36h1.34v2.94h-1.34zM492.71 167.12h1.45v2.41h-1.45zM461.41 167.72h1.63v2.32h-1.63zM485 165.85h1.6v2.93h-1.6zM468.42 168.14h1.66v2.95h-1.66zM470.11 166.17h1.4v2.2h-1.4zM451.82 166.21h1.65v2.97h-1.65zM489.64 167.6h1.91v2.39h-1.91zM453.74 169.58h1.96v2.41h-1.96zM458.49 168.97h1.5v2.46h-1.5zM488.25 167.37h1.42v2.32h-1.42zM459.38 166.78h1.97v2.75h-1.97zM472.23 166.99h1.66v2.71h-1.66zM463.11 165.73h1.3v2.24h-1.3zM462.16 168.98h1.68v2.4h-1.68zM451.21 167.18h1.38v2.11h-1.38zM490.89 169.76h1.45v2.46h-1.45zM421.17 167.61h1.35v2.46h-1.35zM487.58 165.69h1.31v2.71h-1.31zM468.35 167.05h1.53v2.56h-1.53zM461.91 168.92h1.79v2.04h-1.79zM431.32 168.1h1.65v2.79h-1.65zM437.53 168.98h1.35v2.14h-1.35zM492.14 167.34h1.36v2.16h-1.36zM426.72 166.58h1.64v2.21h-1.64zM469.7 167.81h1.29v2.29h-1.29zM453.52 168.87h1.26v2.91h-1.26zM498.24 168.25h1.6v1.87h-1.6zM498.69 165.82h2.19v2.19h-2.19zM500.4 168.88h2.12v1.96h-2.12zM501.4 167h1.51v2.54h-1.51zM499.36 164.99h2.06v2.6h-2.06zM479.48 174.65h1.25v2.72h-1.25zM458.46 174.83h1.22v2.1h-1.22zM480.67 175.14h1.22v2.1h-1.22zM488.44 175.04h1.5v2.69h-1.5zM421.93 174.78h1.35v2.95h-1.35zM462.92 175.39h1.34v2.92h-1.34zM496.03 174.64h1.63v2.95h-1.63zM461.88 176.65h1.83v2.44h-1.83zM467.22 175.36h1.47v2.79h-1.47zM461.05 174.33h1.55v2.17h-1.55zM478.2 176.37h1.46v2.47h-1.46zM495.67 175.5h1.7v2.35h-1.7zM463.67 174.36h1.37v2.69h-1.37zM437.42 174.64h1.72v2.24h-1.72zM436.58 175.94h1.8v2.27h-1.8zM449.98 174.16h1.85v2.82h-1.85zM451.98 175.48h1.85v2.27h-1.85zM425.12 176.12h1.59v2.73h-1.59zM446.63 175.32h1.68v2.76h-1.68zM446.28 175.58h1.63v2.96h-1.63zM463.73 175.66h1.42v2.11h-1.42zM494.09 176.47h1.56v2.16h-1.56zM484.72 176.15h2v2.66h-2zM432.88 172.73h1.51v2.86h-1.51zM481.91 175.66h1.75v2.52h-1.75zM449.79 174.76h1.39v2.77h-1.39zM451.12 174.18h1.96v2.36h-1.96zM473.09 172.46h1.48v2.23h-1.48zM460.56 175.22h1.57v2.33h-1.57zM483.86 174.46h1.4v2.79h-1.4zM421.36 173.05h1.55v2.36h-1.55zM453.82 174.22h1.2v2.13h-1.2zM428.57 174.58h1.38v2.61h-1.38zM424.15 173.75h1.91v2.33h-1.91zM439.96 174.84h1.76v2.73h-1.76zM486.37 175.5h1.2v2.44h-1.2zM432.06 174.72h1.46v2.65h-1.46zM464.07 173.97h1.34v2.58h-1.34zM429.73 174.65h1.35v2.1h-1.35zM432.59 176.93h1.25v2.41h-1.25zM465.19 176.88h1.75v2.07h-1.75zM420.55 176.27h1.41v2.73h-1.41zM425.54 178.72h1.92v2.78h-1.92zM442.72 177.62h1.61v2.08h-1.61zM432.41 175.75h1.98v2.38h-1.98zM467.85 176.11h1.79v2.16h-1.79zM431.4 174.82h1.47v2.6h-1.47zM467.61 173.6h1.24v2.97h-1.24zM488.21 176.06h1.47v2.34h-1.47zM425.51 176.37h1.46v2.1h-1.46zM445.24 175.59h1.34v2.66h-1.34zM455.55 174.06h1.71v2.63h-1.71zM443.35 176.21h1.27v2.33h-1.27zM488.75 174.11h1.99v2.49h-1.99zM498.11 175.87h1.6v2.37h-1.6zM479.05 174.74h1.28v2.68h-1.28zM484.12 175.36h1.4v2.84h-1.4zM447.58 175.2h1.24v2.94h-1.24zM480.9 175.1h1.8v2.3h-1.8zM497.13 176.43h1.2v2.43h-1.2zM495.31 176.89h1.47v2.5h-1.47zM426.72 174.64h1.9v2.86h-1.9zM424.2 175.66h1.52v2.47h-1.52zM456.81 176.31h1.5v2.52h-1.5zM445.75 175.86h1.65v2.73h-1.65zM475.62 175.25h1.94v2.34h-1.94zM438.73 174.93h1.83v2.2h-1.83zM445.77 175.49h1.46v2.81h-1.46zM456.91 174.42h1.51v2.19h-1.51zM496.56 175.09h1.62v2.62h-1.62zM463.84 176.76h1.78v2.57h-1.78zM462.04 175.83h1.76v2.51h-1.76zM466.53 175.3h1.57v2.26h-1.57zM490.34 175.09h1.65v2.68h-1.65zM451.81 174.79h1.71v2.08h-1.71zM482.4 173.55h1.41v2.58h-1.41zM442.31 174.29h1.51v2.69h-1.51zM470.93 177.3h1.35v2.89h-1.35zM461.81 174.41h1.2v2.97h-1.2zM441.3 176.61h1.52v2.82h-1.52zM490.38 174.57h1.81v2.44h-1.81zM434.43 175.33h1.32v2.65h-1.32zM489.13 176.16h1.57v2.66h-1.57zM454.41 174.96h1.45v2.73h-1.45zM442.44 174.15h1.22v2.05h-1.22zM490.68 174.21h1.58v2.13h-1.58zM474.15 173.38h1.67v2.49h-1.67zM477.86 176.52h1.56v2.12h-1.56zM445.74 176.93h1.47v2.01h-1.47zM444.08 175.42h1.65v2.44h-1.65zM480.22 177.53h1.93v2.94h-1.93zM434.42 175.88h1.66v2.34h-1.66zM432.86 175.91h1.84v2.23h-1.84zM488.86 177.09h1.75v2.01h-1.75zM461.06 174.56h1.56v2.86h-1.56zM475.56 175.84h1.36v2.25h-1.36zM479.04 175.09h1.47v2.12h-1.47zM472.04 176.04h1.9v2.29h-1.9zM494.08 175.14h1.29v2.71h-1.29zM500.09 174.55h2.05v2.47h-2.05zM502.04 175.52h2.02v2.27h-2.02zM505.49 177.06h1.73v2.35h-1.73zM504.69 174.87h2.09v2.33h-2.09zM441.61 182.99h1.94v2.76h-1.94zM456.64 183.77h1.8v2.18h-1.8zM450.28 181.72h1.7v2.89h-1.7zM428.03 183.16h1.39v2.51h-1.39zM452.16 184.94h1.47v2.28h-1.47zM462.5 183.78h1.62v2.84h-1.62zM490.88 182.74h1.26v2.57h-1.26zM434.95 182.14h1.75v2.7h-1.75zM455.57 182.33h1.9v2.72h-1.9zM442.79 182.07h1.65v2.72h-1.65zM441.63 181.22h1.53v2.04h-1.53zM491.98 182.31h1.8v2.08h-1.8zM454.23 184.64h1.87v2.78h-1.87zM468.04 185.09h1.33v2.27h-1.33zM485.7 182.54h1.55v2.08h-1.55zM433.71 181.5h1.69v2.35h-1.69zM465.25 183.32h1.6v2.32h-1.6zM469.8 181.83h1.98v2.99h-1.98zM459.93 182.97h1.94v2.81h-1.94zM429.67 184.04h1.57v2.63h-1.57zM488.64 182.84h1.21v2.05h-1.21zM466.64 184.68h1.8v2.05h-1.8zM446.46 183.04h1.46v2.83h-1.46zM457.34 183.01h1.24v2.49h-1.24zM468.03 182.69h1.73v2.69h-1.73zM468.4 184.62h1.69v2.9h-1.69zM482.56 183.99h1.91v2.78h-1.91zM463.07 181.84h1.9v2.28h-1.9zM485.93 184.83h1.47v2.05h-1.47zM438.21 182.26h1.62v2.6h-1.62zM478.34 184.35h1.29v2.14h-1.29zM470 183.65h1.97v2.17h-1.97zM479.01 181.65h1.68v2.85h-1.68zM429.35 184.16h1.96v2.11h-1.96zM474.97 184.17h1.53v2.69h-1.53zM440.67 183.39h1.9v2.27h-1.9zM466.76 185.47h1.67v2.14h-1.67zM449.16 182.9h1.64v2.32h-1.64zM454.73 182.35h1.68v2.72h-1.68zM457.26 181.98h1.34v2.32h-1.34zM440.49 183.38h1.66v2.46h-1.66zM449.32 181.94h1.74v2.62h-1.74zM462.91 182.42h1.27v2.53h-1.27zM461.14 182.11h1.35v2.31h-1.35zM470.7 183.13h1.97v2.26h-1.97zM433.82 184.02h1.73v2.81h-1.73zM426.77 183.95h1.51v2.09h-1.51zM447.59 183.46h1.54v2.82h-1.54zM468.03 183.93h1.47v2.79h-1.47zM447.43 182.78h1.51v2.2h-1.51zM491.72 183.29h1.65v2.52h-1.65zM480.79 181.95h1.66v2.77h-1.66zM494.75 184.9h1.83v2.38h-1.83zM475.67 182.74h1.26v2.51h-1.26zM433.81 183.7h1.92v2.46h-1.92zM481.42 182.74h1.84v2.92h-1.84zM447.63 184.42h1.42v2.33h-1.42zM479.53 184.14h1.6v2.6h-1.6zM475.62 183.99h1.77v2.74h-1.77zM458.76 180.9h1.23v2.83h-1.23zM448.81 182.62h1.28v2.73h-1.28zM452.69 183.88h1.34v2.29h-1.34zM492.22 181.98h1.91v2.92h-1.91zM467.67 183.36h1.43v2.65h-1.43zM443.24 182.35h1.21v2.86h-1.21zM424.56 183.4h1.74v2.91h-1.74zM447.67 183.52h1.29v2.62h-1.29zM466.12 182.44h1.89v2.55h-1.89zM494.67 183.89h1.32v2.02h-1.32zM492.7 184.27h1.82v2.44h-1.82zM451.18 184.07h1.45v2.74h-1.45zM495.63 183.51h1.94v2.41h-1.94zM474.77 183.02h1.36v2.46h-1.36zM419.29 182.74h1.34v2.08h-1.34zM486.46 184.06h1.4v2.82h-1.4zM451.92 185.25h1.38v2.51h-1.38zM440.54 182.38h1.55v2.77h-1.55zM433.44 184.99h1.75v2.28h-1.75zM459.27 182.43h1.81v2.72h-1.81zM468.94 184.69h1.74v2.61h-1.74zM463.27 183.58h1.79v2.63h-1.79zM453.48 182.97h1.51v2.03h-1.51zM461.75 183.35h1.96v2.17h-1.96zM467.87 182.33h1.91v2.33h-1.91zM433.59 181.08h1.29v2.89h-1.29zM492.29 182.9h1.69v2.96h-1.69zM458.26 184.35h1.4v2.91h-1.4zM440.74 184.77h1.63v2.74h-1.63zM441.82 183.76h1.54v2.88h-1.54zM448.74 183.52h1.39v2.77h-1.39zM469.81 183.27h1.26v2h-1.26zM486.19 184.76h1.63v2.9h-1.63zM472.06 181.91h1.57v2.94h-1.57zM485.07 182.75h1.61v2.57h-1.61zM452.55 182.54h1.34v2.26h-1.34zM443.65 182.47h1.75v2.92h-1.75zM437.58 180.84h1.92v2.47h-1.92zM448.25 182.9h1.36v2.85h-1.36zM444.38 182.22h1.44v2.28h-1.44zM438.15 182.75h1.76v2.96h-1.76zM494.02 184.1h1.4v2.25h-1.4zM469.96 185.7h1.99v2.57h-1.99zM454.42 179.53h1.54v2.39h-1.54zM433.95 184.37h1.87v2.34h-1.87zM489.53 182.88h1.74v2.13h-1.74zM494.45 183.5h1.95v2.17h-1.95zM490.14 185.75h1.93v2.28h-1.93zM473.08 181.41h1.32v2.4h-1.32zM439.11 181.4h1.82v2.44h-1.82zM434.33 184.46h1.5v2.76h-1.5zM444.82 183.99h1.7v2.47h-1.7zM465.17 183.16h1.39v2.49h-1.39zM426.61 183.85h1.21v2.94h-1.21zM497.34 183.31h1.23v2.62h-1.23zM457.75 183.7h1.68v2.46h-1.68zM463.88 184.74h1.91v2.28h-1.91zM439.94 181.49h1.85v2.21h-1.85zM497.35 183.45h1.22v2.94h-1.22zM505.39 182.91h2.02v2.17h-2.02zM501.76 183.51h1.98v2.48h-1.98zM499.02 182.74h1.88v1.95h-1.88zM504.42 182.86h1.48v2.29h-1.48zM506.94 183.5h1.94v2.44h-1.94zM498.61 182.62h2v2.43h-2zM507.32 185.62h2.09v2.53h-2.09zM502.87 183.43h1.44v2.26h-1.44zM454.16 191.36h1.93v2.14h-1.93zM431.88 191.07h1.73v2.89h-1.73zM420.61 193.32h1.8v2.11h-1.8zM487.85 190.7h1.82v2.32h-1.82zM471.35 189.92h1.47v2.52h-1.47zM473.76 190.82h1.61v2.49h-1.61zM496.02 191.15h1.67v2.03h-1.67zM463.7 191.65h1.64v2.23h-1.64zM462.21 190.86h1.62v2.23h-1.62zM463.73 191.05h1.39v2.37h-1.39zM454.39 193.14h1.55v2.21h-1.55zM442.47 191.09h1.97v2.47h-1.97zM490.89 191.14h1.48v2.81h-1.48zM457.09 192.55h1.98v2.38h-1.98zM465.74 190.89h1.88v2.39h-1.88zM480.39 190.29h1.98v2.34h-1.98zM471.76 188.85h1.31v2.09h-1.31zM470.93 190.02h1.69v2.76h-1.69zM474.4 191.38h1.33v2.17h-1.33zM434.83 190.73h1.53v2h-1.53zM470.13 190.77h1.61v2.28h-1.61zM448.64 190.29h1.4v2.98h-1.4zM423.08 191.58h1.25v2.37h-1.25zM438.34 190.59h1.24v2.19h-1.24zM440.99 189.98h1.66v2.58h-1.66zM427 192.32h1.84v2.28h-1.84zM446.73 190.91h1.83v2.64h-1.83zM448.81 190.68h1.3v2.44h-1.3zM441.25 190.57h1.7v2.88h-1.7zM457.2 191.74h1.35v2.14h-1.35zM454 193.51h1.63v2.13h-1.63zM497.93 190.57h1.38v2.72h-1.38zM439.65 190.25h1.52v2.27h-1.52zM463.09 190.67h1.27v2.73h-1.27zM486.5 191.96h1.58v2.96h-1.58zM432.27 190.55h1.98v2h-1.98zM458.94 189.83h1.47v2.72h-1.47zM424.92 193.28h1.71v2.21h-1.71zM457.51 191.43h1.44v2.82h-1.44zM473.08 190.64h1.24v2.25h-1.24zM435.56 192.29h1.57v2.24h-1.57zM471.3 192.28h1.93v2.1h-1.93zM492.15 190.25h1.73v2.21h-1.73zM451.53 191.98h1.8v2.28h-1.8zM446.16 191.09h1.43v2.45h-1.43zM428.51 189.99h1.74v2.51h-1.74zM460.54 191.56h1.92v2.32h-1.92zM485.21 190.2h1.8v2.42h-1.8zM470.3 191.26h1.37v2.28h-1.37zM430.08 191.44h1.72v2.07h-1.72zM484.9 191.72h1.85v2.43h-1.85zM480.7 190.87h1.75v2.69h-1.75zM433.83 191.66h1.37v2.73h-1.37zM453.2 192.96h1.43v2.82h-1.43zM456.4 192.03h1.61v2.56h-1.61zM424.66 189.43h1.44v2.76h-1.44zM427.1 190.16h1.8v2.06h-1.8zM451.73 190.63h1.78v2.75h-1.78zM422.36 192.26h1.98v2.27h-1.98zM441.9 191.45h1.64v2.88h-1.64zM458.05 190.28h1.21v2.33h-1.21zM495.88 190.98h1.4v2.01h-1.4zM435.23 191.4h1.42v2.13h-1.42zM489.18 191.97h1.95v2.18h-1.95zM498.2 191.11h1.99v2.72h-1.99zM485.84 189.25h1.44v2.07h-1.44zM460.33 193.24h1.56v2.5h-1.56zM474.86 192.69h1.76v2.57h-1.76zM483.23 191.7h1.85v2.09h-1.85zM444.76 191.05h1.93v2.65h-1.93zM485.98 190.52h1.92v2.48h-1.92zM474.2 191.42h1.41v2.39h-1.41zM435.01 191.12h1.7v2.12h-1.7zM493.48 190.49h1.2v2.01h-1.2zM439.17 190.27h1.52v2.6h-1.52zM450.09 190.16h1.51v2.8h-1.51zM423.76 190.24h1.28v2.89h-1.28zM435.55 191.91h1.72v2.45h-1.72zM494.31 191.16h1.8v2.52h-1.8zM440.75 189.89h1.77v2.58h-1.77zM444.3 191.63h1.26v2.44h-1.26zM441.72 191.25h1.67v2.84h-1.67zM490.02 190.72h1.43v2.07h-1.43zM429.08 190.78h1.89v2.93h-1.89zM487.02 190.18h1.46v2.2h-1.46zM421.55 190.4h1.31v2.04h-1.31zM429.02 191.55h1.36v2.37h-1.36zM425.53 189.53h1.77v2.34h-1.77zM488.13 190.7h1.46v2.84h-1.46zM470.4 192.1h1.72v2.49h-1.72zM488.99 190.34h1.81v3h-1.81zM433.67 191.59h1.28v2.15h-1.28zM444.88 189.5h1.76v2.92h-1.76zM497.61 190.24h1.63v2h-1.63zM423.86 191.56h1.21v2.11h-1.21zM486.21 191.44h1.81v2.47h-1.81zM494.51 190.66h1.9v2.64h-1.9zM473.29 191.26h1.43v2.51h-1.43zM453.29 191.69h1.78v2.59h-1.78zM473.81 191.65h1.74v2.24h-1.74zM452.7 189.93h1.49v2.29h-1.49zM504.48 191.11h1.42v2.47h-1.42zM502.78 192.07h1.69v2.09h-1.69zM502.97 189.49h2.2v1.98h-2.2zM503.43 190.69h1.89v1.91h-1.89zM503.38 193.04h1.71v2.27h-1.71zM500.66 188.5h1.85v2.31h-1.85zM505.17 192.32h1.59v1.95h-1.59zM491.3 199.79h1.36v2.97h-1.36zM496.74 198.4h1.39v2.44h-1.39zM472.42 200.53h1.42v2.53h-1.42zM427.19 200.87h1.98v2.49h-1.98zM466.04 197.63h1.86v2.53h-1.86zM496.23 195.9h1.48v2.59h-1.48zM454.94 199.53h1.64v2.9h-1.64zM438.42 199.41h1.65v2.6h-1.65zM427.73 196.79h1.97v2.41h-1.97zM426.22 199.4h1.25v2.2h-1.25zM477.9 197.18h1.77v2.36h-1.77zM490.57 199.48h1.25v2.6h-1.25zM479.84 198.93h1.61v2.78h-1.61zM489.3 198.95h1.64v2.52h-1.64zM496.2 199.03h1.21v2.21h-1.21zM423.8 198.68h1.55v2.97h-1.55zM462.71 199.11h1.78v2.59h-1.78zM445.44 199.75h1.23v2.08h-1.23zM458.32 198.7h1.34v2.03h-1.34zM426.47 199.24h1.82v2.91h-1.82zM429.84 199.11h1.26v2.5h-1.26zM451.8 200.67h1.99v2.04h-1.99zM439.6 197.76h1.9v2.41h-1.9zM489.88 198.75h1.3v2.41h-1.3zM466.85 199.95h1.25v2.62h-1.25zM422.01 199.72h1.5v2.98h-1.5zM464.27 198.32h1.23v2.92h-1.23zM496.6 198.67h1.31v2.87h-1.31zM427.16 200.54h1.74v2.12h-1.74zM471.23 198.86h1.35v2.05h-1.35zM439.98 199.24h1.84v2.54h-1.84zM425.18 201.02h1.49v2.45h-1.49zM496.35 199.81h1.63v2.28h-1.63zM429.3 200.01h1.71v2h-1.71zM461.94 200.7h1.53v2.23h-1.53zM446.77 199.93h1.59v2.08h-1.59zM446.56 196.79h1.75v2.84h-1.75zM455.89 198.07h1.81v2.8h-1.81zM445.94 199.14h1.92v2.89h-1.92zM481.85 198.22h1.52v2.62h-1.52zM445.14 198.12h1.22v2.96h-1.22zM497.97 200.35h1.7v2.27h-1.7zM491 197.95h1.94v2.04h-1.94zM459.94 199.56h1.31v2.93h-1.31zM470.89 199.79h1.98v2.2h-1.98zM441.66 200.37h1.65v2.1h-1.65zM463.26 198.94h1.57v2.91h-1.57zM433.5 198.21h1.24v2.51h-1.24zM468.04 197.61h1.27v2.98h-1.27zM496.23 198.75h2v2.37h-2zM433.26 201.39h1.79v2.12h-1.79zM459.46 199.49h1.94v2.17h-1.94zM471.18 199.03h1.47v2.47h-1.47zM464.73 199.78h1.88v2.79h-1.88zM497.37 197.95h1.54v2.04h-1.54zM470.6 200.19h1.4v2.64h-1.4zM485.33 200.11h1.71v2.92h-1.71zM482.79 200.05h1.42v2.06h-1.42zM446.84 199.6h1.77v2.21h-1.77zM424.98 198.47h1.82v2.45h-1.82zM452.24 199.25h1.87v2.46h-1.87zM422.4 199.3h1.86v2.22h-1.86zM494.32 200.14h1.78v2.1h-1.78zM483.61 196.74h1.71v2.23h-1.71zM451.54 198.91h1.21v2.2h-1.21zM496.27 198.27h1.29v2.46h-1.29zM472.88 199.06h1.51v2.47h-1.51zM425.83 199.86h1.85v2.3h-1.85zM479.68 198.99h1.27v2.63h-1.27zM441.22 200.66h1.89v2.28h-1.89zM461.61 199.36h1.42v2.12h-1.42zM473.52 199.51h1.73v2.69h-1.73zM485.72 197.85h1.4v2.2h-1.4zM452.56 199.58h1.73v2.27h-1.73zM442.45 198.5h1.38v2.15h-1.38zM449.75 200.18h1.34v2.6h-1.34zM465.71 200.97h1.56v2.46h-1.56zM427.23 199.75h1.9v2.66h-1.9zM487.93 199.97h1.32v2.83h-1.32zM425.38 199.73h1.29v2.38h-1.29zM489.56 199.04h1.23v2.62h-1.23zM476.64 200.94h1.72v2.21h-1.72zM472.6 198.94h1.55v2.71h-1.55zM432.39 199.97h1.81v2.75h-1.81zM452.53 199.87h1.31v2.31h-1.31zM438.64 199.27h1.89v2.84h-1.89zM435.18 200.15h1.72v2.19h-1.72zM486.61 199.33h1.54v2.08h-1.54zM476.39 199.98h1.41v2.51h-1.41zM423.54 201.33h1.81v2.25h-1.81zM430.67 198.63h1.84v2.55h-1.84zM483.6 198.19h1.57v2.06h-1.57zM494.52 199.92h1.35v2.34h-1.35zM442.87 200.27h1.73v2.18h-1.73zM439.37 199.67h1.81v2.3h-1.81zM466.43 199.19h1.58v2.56h-1.58zM444.71 200.1h1.71v2.75h-1.71zM482.59 198.76h1.68v2.62h-1.68zM436.03 198.78h1.87v2h-1.87zM480.44 197.99h1.76v2.29h-1.76zM495.52 199.28h1.89v2.57h-1.89zM434.91 199.64h1.54v2.67h-1.54zM424.3 199.48h1.84v2.48h-1.84zM451.57 197.6h1.77v2.51h-1.77zM441.62 198.94h1.36v2.83h-1.36zM462.31 199.56h1.55v2.7h-1.55zM474.98 198.97h1.32v2.75h-1.32zM494.66 199.15h1.76v2.35h-1.76zM422.26 199.3h1.81v2.93h-1.81zM431.23 200.24h1.26v2.64h-1.26zM437.8 198.63h1.65v2.79h-1.65zM485.56 198.13h1.91v2.56h-1.91zM503.92 198.81h2.15v2.41h-2.15zM502.46 199.93h2.08v2.56h-2.08zM506.59 197.44h1.42v2.11h-1.42zM507.01 199.19h1.97v2.26h-1.97zM498.9 198.98h1.73v2.24h-1.73zM500.28 199.38h2v2.57h-2zM505.45 198.74h1.57v2.01h-1.57zM498.74 199.42h1.61v2.58h-1.61zM426.92 207.9h1.57v2.1h-1.57zM482.9 206.78h1.67v2.81h-1.67zM487.67 206.56h1.98v2.76h-1.98zM493.05 206.27h1.96v2h-1.96zM483.54 206.01h1.69v2.69h-1.69zM493.59 206.36h1.91v2.79h-1.91zM464.32 208.41h1.89v2.81h-1.89zM437.55 206.96h1.34v2.17h-1.34zM437.95 207.9h1.33v2.55h-1.33zM492.35 207.34h1.7v2.79h-1.7zM425.79 205.84h1.99v2.51h-1.99zM454 207.15h1.51v2.96h-1.51zM442.48 206.55h1.28v2.5h-1.28zM428.61 206.22h1.79v2.51h-1.79zM431.32 206.98h1.65v2.65h-1.65zM420.52 205.84h1.69v2.61h-1.69zM442.7 206.66h1.97v2.48h-1.97zM489.69 206.66h1.7v2.94h-1.7zM422.84 207.28h1.21v2.52h-1.21zM447.44 207.86h1.88v2.27h-1.88zM472.36 205.52h1.47v2.12h-1.47zM494.6 207.65h1.36v2.02h-1.36zM438.43 205.9h1.25v2.64h-1.25zM481.89 205.92h1.68v2.87h-1.68zM496.38 205.23h1.7v2.64h-1.7zM481.52 208.2h1.69v2.4h-1.69zM469.66 207.03h1.44v2.2h-1.44zM479.09 207.61h1.61v2.13h-1.61zM489.84 207.54h1.63v2.44h-1.63zM460.9 206.46h1.48v2.83h-1.48zM451.17 208.03h1.98v2.77h-1.98zM436.9 207.7h1.3v2.65h-1.3zM432.94 208.5h1.96v2.47h-1.96zM493.97 207.76h1.92v2.06h-1.92zM491.28 205.69h1.46v2.4h-1.46zM493.92 207.45h1.82v2.18h-1.82zM486.8 206.93h1.67v2.23h-1.67zM441.31 206.38h1.85v2.89h-1.85zM441.18 207.12h1.29v2.93h-1.29zM419.83 207.29h1.39v2.28h-1.39zM466.73 208.64h1.61v2.64h-1.61zM456.67 206.05h1.28v2.56h-1.28zM489.87 207.02h1.36v2.77h-1.36zM463.69 207.05h1.29v2.41h-1.29zM423.67 205.85h1.39v2.47h-1.39zM492.33 207.3h1.26v2.55h-1.26zM431.18 207.9h1.53v2.17h-1.53zM494.1 204.71h1.61v2.75h-1.61zM478.29 205.91h1.57v2.37h-1.57zM423.36 206.62h1.48v2.22h-1.48zM478.24 208.23h1.25v2.82h-1.25zM485.74 205.19h1.96v2.87h-1.96zM477.26 207.04h1.32v2.1h-1.32zM474.92 207.72h1.36v2.14h-1.36zM492.07 206.27h1.44v2.71h-1.44zM429.74 206.87h1.49v2.22h-1.49zM427.06 207.78h1.49v2.02h-1.49zM495.92 206.42h1.8v2.52h-1.8zM495.36 207.55h1.99v2.32h-1.99zM469.44 207.2h1.91v2.16h-1.91zM456.31 206.6h1.42v2.84h-1.42zM446.85 206.54h1.31v2.5h-1.31zM456.3 207.78h1.7v2.31h-1.7zM458.76 206.32h1.43v2.78h-1.43zM484.46 207.09h1.92v2h-1.92zM465.5 206.37h1.86v2.29h-1.86zM446.59 207.79h1.33v2.94h-1.33zM425.96 207.08h1.39v2.28h-1.39zM465.79 206.09h1.54v2.86h-1.54zM444.69 207.23h1.91v2.51h-1.91zM496.25 206.69h1.45v2.47h-1.45zM471.04 207.49h1.68v2.61h-1.68zM455.34 206.68h1.54v2.86h-1.54zM488.89 207.83h1.22v2.65h-1.22zM485.68 207.37h1.54v2.48h-1.54zM486.02 207.26h1.77v2.4h-1.77zM456.88 204.76h1.55v2.39h-1.55zM449.35 205.8h1.4v2.84h-1.4zM470.29 206.18h1.89v2.43h-1.89zM456.14 207.86h1.96v2.68h-1.96zM428.66 205.87h1.69v2.11h-1.69zM431.25 208.35h1.79v2.29h-1.79zM435.39 207.72h1.21v2.96h-1.21zM456.41 205.81h1.65v2.53h-1.65zM444.2 208.33h1.45v2.69h-1.45zM463.18 206.78h1.39v2.37h-1.39zM492.68 209.01h1.4v2.48h-1.4zM459.45 207.68h1.88v2.65h-1.88zM480.01 206.73h1.91v2.62h-1.91zM438.39 207.42h1.23v2.94h-1.23zM427.72 206.32h1.6v2.32h-1.6zM449.62 207.31h1.88v2.96h-1.88zM455.14 207.15h1.4v2.8h-1.4zM448.26 204.97h1.66v2.36h-1.66zM450.24 207.29h1.42v2.93h-1.42zM482.16 207.92h1.59v2.25h-1.59zM434.03 208.14h1.84v2.84h-1.84zM460.47 205.26h1.85v2.8h-1.85zM468.5 207.47h1.45v2.02h-1.45zM450.23 207.95h1.44v2.26h-1.44zM444.81 206.44h1.52v2.63h-1.52zM454.6 206.99h1.42v2.93h-1.42zM426.3 208.07h1.98v2.7h-1.98zM447.17 205.64h1.32v2.66h-1.32zM430.5 208.06h1.22v2.24h-1.22zM461.06 206.37h1.75v2.63h-1.75zM499.66 206.91h1.75v2.11h-1.75zM498.92 207.62h1.8v2.38h-1.8zM499.27 206.75h1.99v1.87h-1.99zM504.58 209.51h1.72v2.24h-1.72zM424.03 215.66h1.48v2.83h-1.48zM447.75 215.01h1.55v2.05h-1.55zM453.45 214.05h1.31v2.51h-1.31zM461.73 218.07h1.49v2.96h-1.49zM487.7 213.18h1.99v3h-1.99zM458.45 213.17h1.59v2.88h-1.59zM443.62 212.67h1.85v2.71h-1.85zM452.75 215.7h1.52v2.13h-1.52zM496.01 213.55h1.54v2.86h-1.54zM462.17 215.88h1.32v2.63h-1.32zM478.81 214.69h1.67v2.81h-1.67zM480.98 214.47h1.91v2.18h-1.91zM426.56 216.4h1.84v2.27h-1.84zM486.64 215.87h1.81v2.19h-1.81zM441.01 215.71h1.33v2.63h-1.33zM471.66 215.52h1.71v2h-1.71zM425.8 216.26h1.23v2.11h-1.23zM474.62 214.09h1.78v2.85h-1.78zM470.83 215.68h1.34v2.26h-1.34zM479.26 215.65h1.8v2.65h-1.8zM485.79 214.64h1.32v2.86h-1.32zM422.6 214.87h1.66v2.62h-1.66zM488.93 214.29h1.4v2.84h-1.4zM485.66 215.56h1.59v2.1h-1.59zM497.44 214.77h1.34v2.72h-1.34zM436.17 213.52h1.79v2.71h-1.79zM426.46 214.74h1.35v2.69h-1.35zM441.61 217.52h1.47v2.05h-1.47zM423.06 214.87h1.34v2.88h-1.34zM473.87 214.86h1.26v2.11h-1.26zM441.67 215.56h1.46v2.12h-1.46zM434.11 214.88h1.52v2.72h-1.52zM477.15 215.26h1.74v2.01h-1.74zM422.01 215.46h1.91v2.1h-1.91zM494.07 215.56h1.92v2.65h-1.92zM441.95 215.73h1.95v2.01h-1.95zM433.21 214.87h1.67v2.08h-1.67zM446.13 214.83h1.78v2.9h-1.78zM473.5 215.82h1.79v2.77h-1.79zM440.72 216.73h1.48v2.45h-1.48zM439.74 215.59h1.94v2.01h-1.94zM492.36 215.27h1.55v2.28h-1.55zM484.49 213.98h1.22v2.77h-1.22zM489.83 215.86h1.45v2.27h-1.45zM437.01 213.85h1.6v2.91h-1.6zM494.41 213.68h1.92v2.21h-1.92zM489.34 213.8h1.29v2.61h-1.29zM483.95 215.65h1.68v2.04h-1.68zM467.07 215.79h1.96v2.18h-1.96zM472.23 214.71h1.78v2.65h-1.78zM485.81 214.51h1.3v2.62h-1.3zM459.44 213.01h1.53v2.54h-1.53zM470 215.64h1.92v2.46h-1.92zM457.1 214.41h1.41v2.18h-1.41zM436.14 214.21h1.77v2.64h-1.77zM455.55 215.32h1.74v2.61h-1.74zM485.1 215.63h1.95v2.7h-1.95zM453.04 216.46h1.7v2.41h-1.7zM461.75 213.23h1.36v2.86h-1.36zM428.74 214.91h1.23v2.98h-1.23zM430.72 215.94h1.65v2.01h-1.65zM497.94 214.49h1.87v2.29h-1.87zM427.77 213.86h1.89v2.36h-1.89zM492.41 213.73h1.22v2.51h-1.22zM432.59 214.38h1.51v2.33h-1.51zM490.38 215.15h1.58v2.61h-1.58zM461.46 214.34h1.28v2.98h-1.28zM437.75 214.05h1.64v2.9h-1.64zM437.87 214.37h1.93v2.32h-1.93zM488.18 213.48h1.35v2.59h-1.35zM463.86 213.05h1.95v2.43h-1.95zM420.44 215.04h1.83v2.25h-1.83zM482.82 215.41h1.49v2.8h-1.49zM475.16 215.59h1.6v2.77h-1.6zM430.28 214.95h1.84v2.98h-1.84zM427.72 214.16h1.97v2.09h-1.97zM473.83 215.19h1.52v2.3h-1.52zM454.8 215.07h1.41v2.72h-1.41zM430.18 214.55h1.88v2.81h-1.88zM468.4 215.87h1.65v2.7h-1.65zM445.52 214.23h1.63v2.98h-1.63zM477.83 215.98h1.71v2.23h-1.71zM430.29 213.93h1.25v2.56h-1.25zM496.84 215.43h1.34v2.15h-1.34zM419.55 215.04h1.5v2.32h-1.5zM491.3 214h1.44v2.69h-1.44zM471.84 215.58h1.32v2.16h-1.32zM447.93 214.29h1.46v2.75h-1.46zM463.77 216.19h1.78v2.24h-1.78zM473.68 213.99h1.54v2.7h-1.54zM425.35 211.96h1.94v2.08h-1.94zM436.6 214.72h1.69v2.02h-1.69zM423.94 214.39h1.47v2.71h-1.47zM476.11 215.22h1.21v2.41h-1.21zM445.83 214.71h1.81v2.81h-1.81zM446.86 216.17h1.86v2.33h-1.86zM480.87 214.33h1.64v2.91h-1.64zM497.63 216.22h1.54v2.03h-1.54zM438.03 212.35h1.23v2.81h-1.23zM458.07 214.57h1.29v2.73h-1.29zM441.2 214.76h1.5v2.15h-1.5zM495 215.85h1.78v2.06h-1.78zM422.76 214.59h1.32v2.77h-1.32zM455.23 214.12h1.42v2.03h-1.42zM485.56 213.39h1.56v2.14h-1.56zM468.93 216.52h1.57v2h-1.57zM448.06 215.3h1.73v2.11h-1.73zM463.4 216.4h1.72v2.07h-1.72zM488.87 213.18h1.62v2.86h-1.62zM449.5 214.48h1.89v2.19h-1.89zM433.27 216.49h1.49v2.31h-1.49zM463.48 214.34h1.36v2.49h-1.36zM430.2 215.32h1.66v2.39h-1.66zM490.55 213.1h1.69v2.93h-1.69zM491.08 215.59h1.62v2.19h-1.62zM441.05 215.32h1.63v2.63h-1.63zM439.59 214.1h1.71v2.07h-1.71zM470.37 215.12h1.76v2.72h-1.76zM454.73 216.32h1.63v2.08h-1.63zM500.3 215.63h2v2.52h-2zM506.85 215.75h1.75v2.18h-1.75zM501.01 214.91h2.04v2.54h-2.04zM504.36 214.77h1.46v2.06h-1.46zM500.82 215.26h1.59v2.48h-1.59zM504.71 214.48h1.92v2.17h-1.92z" fill="#0c0c0c"/>
<line x1="515.8" y1="73.15" x2="517.8" y2="73.15" stroke="#4a4a4a" stroke-width="0.8"/>
<line x1="515.8" y1="89.05" x2="517.8" y2="89.05" stroke="#4a4a4a" stroke-width="0.8"/>
<line x1="515.8" y1="104.95" x2="517.8" y2="104.95" stroke="#4a4a4a" stroke-width="0.8"/>
<line x1="515.8" y1="120.85" x2="517.8" y2="120.85" stroke="#4a4a4a" stroke-width="0.8"/>
<line x1="515.8" y1="136.75" x2="517.8" y2="136.75" stroke="#4a4a4a" stroke-width="0.8"/>
<line x1="515.8" y1="152.65" x2="517.8" y2="152.65" stroke="#4a4a4a" stroke-width="0.8"/>
<line x1="515.8" y1="168.55" x2="517.8" y2="168.55" stroke="#4a4a4a" stroke-width="0.8"/>
<line x1="515.8" y1="184.45" x2="517.8" y2="184.45" stroke="#4a4a4a" stroke-width="0.8"/>
<line x1="515.8" y1="200.35" x2="517.8" y2="200.35" stroke="#4a4a4a" stroke-width="0.8"/>
<line x1="515.8" y1="216.25" x2="517.8" y2="216.25" stroke="#4a4a4a" stroke-width="0.8"/>
<rect x="540.8" y="42.5" width="100.5" height="175.8" fill="none" stroke="#4a4a4a" stroke-width="1"/>
<rect x="547" y="41.9" width="4.75" height="177" fill="#cbcbf8"/>
<rect x="554.24" y="41.9" width="4.75" height="177" fill="#cbcbf8"/>
<rect x="561.48" y="41.9" width="4.75" height="177" fill="#cbcbf8"/>
<rect x="568.72" y="41.9" width="4.75" height="177" fill="#cbcbf8"/>
<rect x="575.96" y="41.9" width="4.75" height="177" fill="#cbcbf8"/>
<rect x="583.2" y="41.9" width="4.75" height="177" fill="#cbcbf8"/>
<rect x="590.44" y="41.9" width="4.75" height="177" fill="#cbcbf8"/>
<rect x="597.68" y="41.9" width="4.75" height="177" fill="#cbcbf8"/>
<rect x="604.92" y="41.9" width="4.75" height="177" fill="#cbcbf8"/>
<rect x="612.16" y="41.9" width="4.75" height="177" fill="#cbcbf8"/>
<path d="M559.33 64.94h1.96v1.52h-1.96zM549.8 65.34h1.52v1.51h-1.52zM598.41 63.62h1.82v1.81h-1.82zM581.72 61.17h1.98v1.74h-1.98zM627.21 61.9h1.94v1.38h-1.94zM615.5 65.26h1.4v1.53h-1.4zM614.24 64.56h1.4v1.83h-1.4zM546.6 65.73h1.53v1.89h-1.53zM589.99 65.2h1.47v1.65h-1.47zM594.48 63.67h1.57v2h-1.57zM546.49 63.58h1.76v1.62h-1.76zM583.27 65.05h1.37v1.83h-1.37zM570.55 65.29h1.99v1.48h-1.99zM560.81 64.18h1.56v1.7h-1.56zM610.8 63.55h1.86v1.81h-1.86zM578.41 63.17h1.8v1.54h-1.8zM551.06 63.78h1.44v1.78h-1.44zM573.95 62.91h1.32v1.4h-1.32zM620.94 62.7h1.39v1.63h-1.39zM575.72 63.62h1.42v1.65h-1.42zM558.3 63.28h1.4v1.85h-1.4zM547.92 65.67h1.88v1.53h-1.88zM586.27 65.67h1.46v1.9h-1.46zM599.65 65.59h1.43v1.74h-1.43zM577.72 64.12h1.58v1.45h-1.58zM615.22 64.4h1.44v1.73h-1.44zM587.33 63.31h1.48v1.39h-1.48zM610.83 62.77h1.34v1.82h-1.34zM590.83 64.27h1.39v1.66h-1.39zM593.04 62.14h1.41v1.88h-1.41zM577.69 63.34h1.35v1.42h-1.35zM551.62 63.39h1.35v1.55h-1.35zM602.84 64.68h1.48v1.45h-1.48zM616.08 64.03h1.36v1.38h-1.36zM604.6 65.23h1.44v1.66h-1.44zM578.3 63.69h1.43v1.54h-1.43zM549.67 62.68h1.88v1.43h-1.88zM558.17 64.45h1.9v1.67h-1.9zM589.64 65.13h1.9v1.53h-1.9zM598.9 65.31h1.68v1.44h-1.68zM544.45 62.7h1.91v1.33h-1.91zM623.36 63.29h1.34v1.58h-1.34zM603.7 63.96h1.57v1.7h-1.57zM604.37 64.4h1.55v1.67h-1.55zM627.26 64.07h1.76v1.41h-1.76zM595.63 64.7h1.35v1.75h-1.35zM584.57 63.92h1.69v1.46h-1.69zM561.5 63.48h1.64v1.51h-1.64zM601.17 63.54h1.85v1.46h-1.85zM602.39 63.82h1.59v1.85h-1.59zM624.2 64.22h1.39v1.54h-1.39zM622.59 63.95h1.52v1.88h-1.52zM584.48 63.32h1.43v1.7h-1.43zM615.58 63.26h1.71v1.32h-1.71zM624.66 65.12h1.72v1.4h-1.72zM578.06 63.7h1.63v1.74h-1.63zM594.38 64.76h1.85v1.53h-1.85zM593.27 64.06h1.7v1.36h-1.7zM583.54 63.69h1.93v1.32h-1.93zM582.56 64.03h1.35v1.38h-1.35zM561.25 63.98h1.79v1.46h-1.79zM558.33 64.4h1.74v1.62h-1.74zM568.73 64.87h1.84v1.88h-1.84zM593.15 63.47h1.72v1.95h-1.72zM598.96 63.41h1.65v1.54h-1.65zM612.72 63.94h1.7v1.82h-1.7zM566.88 63.67h1.39v1.91h-1.39zM586.59 64.44h1.38v1.58h-1.38zM581.21 64.74h1.79v2h-1.79zM556.86 63.78h1.54v1.64h-1.54zM626.7 61.48h1.43v1.8h-1.43zM571.06 63.11h1.78v1.91h-1.78zM601.65 65.62h1.91v1.74h-1.91zM601.71 63.51h1.73v1.39h-1.73zM608.55 62.72h1.74v1.93h-1.74zM549.51 71.14h1.82v1.59h-1.82zM592.01 72.4h1.91v1.45h-1.91zM622.14 73.35h1.9v1.56h-1.9zM600.86 70.08h1.42v1.43h-1.42zM609.61 72.06h1.89v1.44h-1.89zM615.1 72.18h1.64v1.33h-1.64zM585.19 73.3h1.41v1.34h-1.41zM589.37 73h1.71v2h-1.71zM619.13 72.76h1.54v1.78h-1.54zM547.99 73.93h1.98v1.37h-1.98zM602.01 73.14h1.67v1.4h-1.67zM607.1 70.66h1.48v1.87h-1.48zM614.82 74.56h1.78v1.84h-1.78zM588.52 71.11h1.53v1.57h-1.53zM612.51 71.54h1.37v1.5h-1.37zM622.37 72.26h1.48v1.58h-1.48zM546.28 71.3h1.84v1.51h-1.84zM543.16 72.9h1.35v1.33h-1.35zM554.98 72.7h1.55v1.47h-1.55zM601.97 73.03h1.47v1.96h-1.47zM556.26 74.09h1.73v1.66h-1.73zM544.61 73.43h1.91v1.85h-1.91zM597.13 72.74h1.61v1.52h-1.61zM560.02 72.5h1.48v1.63h-1.48zM560.38 72.09h1.61v1.79h-1.61zM601.11 73.57h1.5v1.56h-1.5zM589.3 71.41h1.63v1.81h-1.63zM602.18 73.48h1.4v1.41h-1.4zM572.25 72.19h1.52v1.31h-1.52zM596.01 72.5h1.54v1.37h-1.54zM597.59 70.29h1.35v1.78h-1.35zM542.89 70.67h1.8v1.9h-1.8zM593.33 71.82h1.8v1.63h-1.8zM583.31 71.2h1.38v1.3h-1.38zM586.03 71.71h1.69v1.34h-1.69zM579.65 73.62h1.68v1.38h-1.68zM627.85 73.36h1.46v1.94h-1.46zM590.41 72.91h1.57v1.61h-1.57zM559.71 71.91h1.63v1.78h-1.63zM623.61 71.76h1.61v1.9h-1.61zM545.66 71.71h1.98v1.73h-1.98zM567.22 71.64h1.37v1.36h-1.37zM610.1 71.85h1.66v1.83h-1.66zM599.99 73.48h1.99v1.53h-1.99zM558.49 73.45h1.82v1.31h-1.82zM605.98 71.92h1.41v1.57h-1.41zM568.26 71.52h1.32v1.47h-1.32zM593.72 72.22h1.83v1.66h-1.83zM576.01 75.11h1.46v1.37h-1.46zM583.34 72.57h1.51v1.44h-1.51zM595.83 72.38h1.36v1.81h-1.36zM548.81 72.72h1.87v1.68h-1.87zM606.72 72.23h1.64v1.49h-1.64zM566.02 72.81h1.95v1.71h-1.95zM547.2 73.2h1.77v1.83h-1.77zM560.4 70.65h1.54v1.68h-1.54zM551.85 73.64h1.89v1.88h-1.89zM551.68 71.6h1.7v1.49h-1.7zM604.76 72.03h1.47v1.76h-1.47zM552.53 69.91h1.44v1.78h-1.44zM594.67 72.63h1.73v1.35h-1.73zM615.38 72.02h2v1.63h-2zM545.27 72.73h1.5v1.91h-1.5zM573.94 74.05h1.47v1.32h-1.47zM613.47 71.4h1.56v1.93h-1.56zM573.3 71.01h1.59v1.92h-1.59zM585.14 69.37h1.83v1.53h-1.83zM573.06 72.38h1.45v1.73h-1.45zM612.58 80.78h1.45v1.53h-1.45zM577.51 80.2h1.53v1.63h-1.53zM577.97 78.35h1.91v1.53h-1.91zM573.28 81.05h1.56v1.61h-1.56zM619.27 78.64h1.7v1.53h-1.7zM620.3 80.78h1.39v1.52h-1.39zM558.71 80.12h1.36v1.32h-1.36zM616.81 79.93h1.38v1.42h-1.38zM562.86 79.86h1.82v1.39h-1.82zM602.61 77.83h1.8v2h-1.8zM586.07 79.41h1.77v1.82h-1.77zM623.84 82.01h1.61v1.81h-1.61zM557.95 79.22h1.39v1.97h-1.39zM549.67 81.24h1.9v1.97h-1.9zM615.8 79.39h1.72v1.67h-1.72zM568.01 80.36h1.9v1.92h-1.9zM565.54 81.29h1.57v1.74h-1.57zM576.79 82.37h1.53v1.61h-1.53zM568.66 82.64h1.99v1.85h-1.99zM601.26 79.03h1.54v1.84h-1.54zM593.55 80.29h1.74v1.56h-1.74zM622.54 80h1.76v1.38h-1.76zM609.7 79.45h1.59v1.63h-1.59zM621.84 80.29h1.42v1.83h-1.42zM606.41 80.46h1.57v1.73h-1.57zM552.04 80.16h1.32v1.92h-1.32zM546 80.2h1.83v1.89h-1.83zM545.86 80.31h1.72v1.35h-1.72zM565.83 80.11h1.96v1.34h-1.96zM574.81 80.17h1.56v1.76h-1.56zM563.06 82.16h1.55v1.83h-1.55zM548.03 79.29h1.85v1.68h-1.85zM543.96 79.21h1.82v1.51h-1.82zM552.36 80.27h1.57v1.56h-1.57zM586.7 79.55h1.47v1.43h-1.47zM550.75 79.73h1.88v1.76h-1.88zM587.32 80.37h1.71v1.86h-1.71zM621.24 80.03h1.31v1.95h-1.31zM610.28 80.25h1.75v1.44h-1.75zM579.48 79.31h1.49v1.68h-1.49zM607.08 79.41h1.39v1.94h-1.39zM550.82 80.87h1.39v1.52h-1.39zM622.31 80.88h1.83v1.52h-1.83zM607.21 77.08h1.71v1.71h-1.71zM608.92 81.24h1.67v1.82h-1.67zM543.19 80.79h1.59v1.91h-1.59zM588.21 81.99h1.45v1.59h-1.45zM600.98 82.44h1.43v1.43h-1.43zM624.39 81.02h1.32v1.37h-1.32zM607.27 79.39h1.85v1.41h-1.85zM563.37 78.4h1.87v1.4h-1.87zM622.14 79.63h1.39v1.98h-1.39zM614.32 79.05h1.42v1.32h-1.42zM579.66 80.47h1.73v1.65h-1.73zM584.69 78.23h1.95v1.58h-1.95zM566.59 80.8h1.53v1.68h-1.53zM563.78 81.1h1.98v1.93h-1.98zM566.05 79.91h1.66v1.69h-1.66zM565.83 80.82h1.49v1.81h-1.49zM602.55 83.09h1.49v1.83h-1.49zM567.94 79.04h2v1.44h-2zM557.09 81.01h1.88v1.93h-1.88zM557.67 81.04h1.67v1.49h-1.67zM544.81 81.35h1.39v1.61h-1.39zM607.73 80.14h1.51v1.34h-1.51zM605.68 81.87h1.65v1.57h-1.65zM582.9 79.56h1.87v1.74h-1.87zM567.09 80.1h1.36v1.52h-1.36zM591.88 88.94h1.66v1.44h-1.66zM583.17 86.15h1.67v1.78h-1.67zM594.98 88.16h1.61v1.54h-1.61zM568.41 88.6h1.57v1.43h-1.57zM601.19 87.9h1.42v1.97h-1.42zM543.88 89.96h1.77v1.9h-1.77zM577.35 89.46h1.56v1.88h-1.56zM615.1 88.23h1.79v1.49h-1.79zM567.76 89.36h1.88v1.74h-1.88zM543.03 88.86h1.8v1.46h-1.8zM626.83 88.37h1.44v1.55h-1.44zM576.5 88.9h1.67v1.3h-1.67zM560.69 89.18h1.79v1.77h-1.79zM542.5 88.66h1.84v1.86h-1.84zM601.02 86.74h1.73v1.94h-1.73zM543.53 87.79h2v1.31h-2zM551.8 87.53h1.32v1.47h-1.32zM597.8 87.22h1.43v1.59h-1.43zM587.78 88.84h1.76v1.64h-1.76zM587.2 89.23h1.49v1.74h-1.49zM622.13 89.5h1.46v1.43h-1.46zM561.73 87.78h1.45v1.94h-1.45zM549.34 88h1.76v1.68h-1.76zM616.08 86.85h1.9v1.84h-1.9zM543.85 88.61h1.33v1.41h-1.33zM587.47 88.45h1.66v1.76h-1.66zM597.77 91.35h1.54v1.37h-1.54zM621.05 88.47h1.99v1.6h-1.99zM617.95 90.02h1.68v1.33h-1.68zM562.4 88.13h1.84v1.57h-1.84zM562.35 88.27h1.66v1.54h-1.66zM587.5 89.09h1.65v1.32h-1.65zM596.86 89.78h1.99v1.59h-1.99zM580.32 90h1.6v1.73h-1.6zM582.96 87.7h1.98v1.74h-1.98zM580.07 88.17h1.49v1.59h-1.49zM587.87 89.13h1.61v1.66h-1.61zM552.1 88.01h1.4v1.75h-1.4zM603.72 88.18h1.53v1.49h-1.53zM615.47 89.06h1.94v1.87h-1.94zM587.61 88.62h2v1.68h-2zM588.51 89.05h1.82v1.73h-1.82zM565.4 89.6h1.83v1.8h-1.83zM546.08 88.8h1.95v1.42h-1.95zM616 88.02h1.66v1.31h-1.66zM610.37 87.91h1.87v1.52h-1.87zM557.09 88.75h1.57v1.89h-1.57zM547.99 89.98h1.74v1.49h-1.74zM570.69 86.27h1.35v1.69h-1.35zM621.65 87.35h1.52v1.94h-1.52zM555.36 89.11h1.46v1.78h-1.46zM585.22 88h1.55v1.49h-1.55zM605.06 87.94h1.79v1.8h-1.79zM626.29 86.79h1.88v1.44h-1.88zM572.8 89.7h1.39v1.91h-1.39zM567.9 88.52h1.66v1.49h-1.66zM574.11 88.44h1.97v1.32h-1.97zM607.26 89.93h1.42v1.53h-1.42zM542.33 89.28h1.96v1.87h-1.96zM600.41 87.25h1.46v1.33h-1.46zM574.97 90.15h1.44v1.82h-1.44zM552.15 87.93h1.81v1.71h-1.81zM593.6 87.01h1.45v1.71h-1.45zM624.86 89.51h1.49v1.66h-1.49zM572.09 87.09h1.95v1.67h-1.95zM570.36 88.21h1.36v1.64h-1.36zM593.7 87.54h1.64v1.67h-1.64zM623 89.61h1.77v1.38h-1.77zM596.96 87.3h1.58v1.75h-1.58zM552.47 88.09h1.81v1.42h-1.81zM568.96 88.42h1.67v1.52h-1.67zM560.23 91.24h1.53v1.37h-1.53zM604.09 95.14h1.76v1.85h-1.76zM605.07 96.45h1.67v1.79h-1.67zM552.18 94.75h1.51v1.58h-1.51zM598.86 96.99h1.66v1.98h-1.66zM615.25 96.76h1.72v1.52h-1.72zM585.97 96.6h1.61v1.66h-1.61zM617.42 96.78h1.69v1.61h-1.69zM591.06 94.41h1.43v1.36h-1.43zM582.74 96.04h1.69v1.78h-1.69zM625.75 95.99h1.48v1.59h-1.48zM570.39 95.86h1.33v1.89h-1.33zM542.64 96.72h1.54v1.7h-1.54zM596.93 93.81h1.73v1.63h-1.73zM543.62 93.92h1.66v1.91h-1.66zM545.37 94.9h1.67v1.72h-1.67zM577.69 95.16h1.63v1.79h-1.63zM597.78 96.49h1.89v1.88h-1.89zM591.16 98.88h1.59v1.52h-1.59zM557.25 95.72h1.32v1.46h-1.32zM625.55 96.59h1.98v1.53h-1.98zM578.87 95.86h1.69v1.83h-1.69zM564.73 93.71h1.84v1.73h-1.84zM619.26 95.6h1.47v1.81h-1.47zM544.02 95.88h1.93v1.34h-1.93zM580.06 97.23h1.31v1.97h-1.31zM574.27 97.81h1.78v1.33h-1.78zM549.89 94.04h1.77v1.99h-1.77zM577.22 95.34h1.94v1.45h-1.94zM567.59 94.99h1.86v1.75h-1.86zM572.06 95.05h1.88v1.79h-1.88zM589.27 94.9h1.9v1.83h-1.9zM574.96 93.83h1.4v1.94h-1.4zM609.9 97.1h1.42v1.38h-1.42zM594.02 98.28h1.98v1.81h-1.98zM586.62 97.6h1.7v1.5h-1.7zM607.4 97.31h1.71v1.48h-1.71zM545.48 97h1.7v1.75h-1.7zM605.28 96.43h1.57v1.97h-1.57zM557.44 95.26h1.6v1.78h-1.6zM627.85 94.81h1.64v1.64h-1.64zM607.85 96.82h1.73v1.96h-1.73zM608.74 96.11h1.97v1.54h-1.97zM599.38 96.41h1.73v1.52h-1.73zM618.56 96.08h1.88v1.82h-1.88zM614.53 97.98h1.9v1.31h-1.9zM558.84 95.82h1.33v1.9h-1.33zM616.59 98.14h1.7v1.63h-1.7zM626.8 95.02h1.77v1.91h-1.77zM623.32 95.84h1.95v1.73h-1.95zM624.06 94.76h1.6v1.34h-1.6zM607.06 97.73h1.4v1.55h-1.4zM560.75 98.43h1.76v1.71h-1.76zM614.8 96.23h1.55v1.39h-1.55zM552.55 96.99h1.88v1.85h-1.88zM627.32 96.44h1.49v1.88h-1.49zM565.32 96.46h1.44v1.97h-1.44zM559.02 95.34h1.87v1.96h-1.87zM618.72 94.6h1.76v1.47h-1.76zM588.98 96.53h1.99v1.91h-1.99zM622.66 95.88h1.41v1.62h-1.41zM559.7 97.12h1.74v1.76h-1.74zM558 97.74h1.67v1.41h-1.67zM611.62 94.96h1.92v1.67h-1.92zM543.31 96.42h1.42v1.36h-1.42zM579.39 97h1.77v1.4h-1.77zM627.37 95.22h1.4v1.65h-1.4zM562.7 96.92h1.31v1.89h-1.31zM549.81 95.76h1.64v1.44h-1.64zM613.7 95.38h1.37v1.77h-1.37zM553.99 98.22h1.53v1.79h-1.53zM585.71 95.3h1.37v1.6h-1.37zM615.48 94.85h1.78v1.57h-1.78zM553.31 98.09h1.66v1.62h-1.66zM595.01 96.76h1.87v1.99h-1.87zM596.83 96.72h1.56v1.72h-1.56zM609.29 97.04h1.38v1.45h-1.38zM624.37 96.17h1.33v1.85h-1.33zM618.7 97.06h1.35v1.38h-1.35zM581.3 106.25h1.89v1.34h-1.89zM577.57 105.7h1.78v1.41h-1.78zM576.91 102.17h1.41v1.87h-1.41zM560.41 105.08h1.54v1.74h-1.54zM621.4 104.22h1.3v1.59h-1.3zM613.47 105.29h1.82v1.83h-1.82zM591.31 104.85h1.41v1.58h-1.41zM616.27 105.45h1.85v1.31h-1.85zM569.58 105.16h1.94v1.44h-1.94zM559.29 103.34h1.88v1.81h-1.88zM604.35 103.74h1.38v1.51h-1.38zM616.4 105.72h1.34v1.73h-1.34zM612.9 103.17h1.47v1.59h-1.47zM595.94 103.8h1.57v1.97h-1.57zM550.22 104.2h1.91v1.41h-1.91zM615.08 102.72h1.69v1.74h-1.69zM564.38 104.33h1.99v1.51h-1.99zM578.01 105.36h1.55v1.8h-1.55zM576.32 103.49h1.49v1.7h-1.49zM604.07 105.74h1.89v1.7h-1.89zM577.49 103.24h1.46v1.51h-1.46zM597.88 102.85h1.68v1.36h-1.68zM554.36 104.94h1.9v1.37h-1.9zM552.39 105.48h1.59v1.35h-1.59zM543.07 104.77h1.9v1.72h-1.9zM544.84 104.02h1.33v1.36h-1.33zM579.78 104.43h1.82v1.46h-1.82zM567.38 105.84h1.78v1.6h-1.78zM568.57 103.4h1.39v1.39h-1.39zM612.81 104.45h1.63v1.85h-1.63zM568.1 102.4h1.5v1.69h-1.5zM607.86 104.95h1.36v1.82h-1.36zM624.7 103.31h1.44v1.55h-1.44zM584.22 106.17h1.83v1.4h-1.83zM592.07 104.34h1.65v1.83h-1.65zM573.31 103.98h1.99v1.37h-1.99zM544.16 104.48h1.3v1.44h-1.3zM604.93 105.53h1.56v1.36h-1.56zM576.87 105.05h1.88v1.4h-1.88zM586.72 104.57h1.78v1.83h-1.78zM550.37 106.82h1.32v1.81h-1.32zM627.91 103.79h1.62v1.36h-1.62zM614.2 102.68h1.94v1.37h-1.94zM574.63 103.94h1.72v1.5h-1.72zM589.63 105.13h1.63v1.3h-1.63zM609.23 103.9h1.42v1.5h-1.42zM602.65 103.33h1.6v1.36h-1.6zM607.81 106.04h1.57v1.75h-1.57zM626.99 102.96h1.67v1.37h-1.67zM619.21 105.88h1.38v1.31h-1.38zM600.28 104.61h1.61v1.77h-1.61zM622.76 106.79h1.67v1.47h-1.67zM566.77 102.96h1.38v1.85h-1.38zM575.22 103.14h1.53v1.91h-1.53zM596.66 102.97h1.77v1.83h-1.77zM626.09 103.52h1.84v1.81h-1.84zM590.12 102.48h1.94v1.79h-1.94zM585.74 102.41h1.6v1.72h-1.6zM544.22 104.54h1.98v1.31h-1.98zM616.9 104.25h1.42v1.74h-1.42zM603.36 105.61h1.58v1.89h-1.58zM591.65 103.84h1.56v1.62h-1.56zM599.15 104.82h1.69v1.51h-1.69zM580 101.05h1.43v1.93h-1.43zM583.71 103.47h1.74v1.45h-1.74zM597.1 103.63h1.84v1.72h-1.84zM601.1 106.67h1.81v1.99h-1.81zM560.48 112.5h1.55v1.74h-1.55zM598.78 111.83h1.59v1.34h-1.59zM542.43 112.16h1.92v1.95h-1.92zM627.5 112.56h1.87v1.77h-1.87zM575.17 110.26h1.95v1.58h-1.95zM552.33 113.56h1.73v1.57h-1.73zM623.43 111.45h1.99v1.96h-1.99zM565.92 113.28h1.32v1.37h-1.32zM603.29 111.86h1.4v1.64h-1.4zM623.05 111.38h1.74v1.56h-1.74zM577.37 111.02h1.34v1.99h-1.34zM611.18 110h1.79v1.7h-1.79zM558.19 110.94h1.87v1.36h-1.87zM547.16 113.85h1.41v1.77h-1.41zM588.81 112.4h1.81v1.93h-1.81zM589.95 111.11h1.62v1.98h-1.62zM614.84 110.04h1.82v1.77h-1.82zM592.7 110.22h1.96v1.85h-1.96zM577.2 113.85h1.83v1.79h-1.83zM579.22 112.89h1.54v1.47h-1.54zM599.71 114.1h1.58v1.45h-1.58zM609.46 111.41h1.43v1.63h-1.43zM588.67 111.94h1.89v1.49h-1.89zM599.16 112.07h1.72v1.99h-1.72zM603.05 113.39h1.77v1.43h-1.77zM570.79 110.74h1.85v1.46h-1.85zM611.26 112.49h1.94v1.92h-1.94zM625.25 112.29h1.8v1.89h-1.8zM595.24 113.45h1.67v1.3h-1.67zM569.95 110.6h1.45v1.34h-1.45zM559.29 111.15h1.35v1.84h-1.35zM613.41 112.9h1.34v1.36h-1.34zM617.3 112.8h1.97v1.49h-1.97zM591.39 112.2h1.7v1.52h-1.7zM624.64 110.95h1.86v1.7h-1.86zM576.5 111.78h1.74v1.65h-1.74zM619.41 112.7h1.99v1.54h-1.99zM618.81 111.87h1.34v1.54h-1.34zM593.63 113.12h1.81v1.86h-1.81zM609.74 113.38h1.43v1.81h-1.43zM580.33 112.06h1.57v1.36h-1.57zM580.26 110.83h1.75v1.75h-1.75zM621.89 114.36h1.35v1.31h-1.35zM582.3 112.07h1.32v1.63h-1.32zM592.54 111.65h1.37v1.79h-1.37zM579.59 112.13h1.71v1.65h-1.71zM550.75 111.09h1.82v1.86h-1.82zM560.05 113.97h1.66v1.58h-1.66zM581.53 113.39h1.57v1.59h-1.57zM556.72 113.05h1.71v1.8h-1.71zM613.71 114.58h1.88v1.7h-1.88zM586.89 112.04h1.9v1.35h-1.9zM596 111.1h1.92v1.77h-1.92zM590.51 113.41h1.34v1.48h-1.34zM569.69 113.16h1.88v1.61h-1.88zM597.68 110.6h1.89v1.84h-1.89zM546.2 111.65h1.5v1.66h-1.5zM554.94 113.57h1.7v1.36h-1.7zM588.06 111.31h1.53v1.81h-1.53zM556.36 112.52h1.47v1.76h-1.47zM596.76 112.48h1.44v1.91h-1.44zM621.03 113.43h1.6v1.68h-1.6zM550.53 111.28h1.43v1.37h-1.43zM542.76 112.06h1.96v1.67h-1.96zM572.7 111.1h1.64v1.39h-1.64zM576.02 119.8h1.49v1.76h-1.49zM557.56 120.09h1.5v1.87h-1.5zM585.6 118.29h1.81v1.87h-1.81zM599.2 118.66h1.73v1.61h-1.73zM573.97 121.1h1.79v1.49h-1.79zM547.5 120.69h1.53v1.4h-1.53zM625.72 118.58h1.41v1.88h-1.41zM586.12 120.1h1.49v1.44h-1.49zM544.52 118.77h1.9v1.89h-1.9zM567.65 120.81h1.77v1.44h-1.77zM592.56 120.21h1.91v1.8h-1.91zM543.26 121.98h1.57v1.73h-1.57zM601.33 118.28h1.46v1.62h-1.46zM575.64 121.15h1.76v1.31h-1.76zM601.54 120.48h1.39v1.4h-1.39zM615.96 119.27h1.97v1.57h-1.97zM599.18 121.3h1.35v1.41h-1.35zM582.62 119.64h1.32v1.61h-1.32zM627.31 122.34h1.47v1.4h-1.47zM601.61 119.88h1.64v1.69h-1.64zM622.89 120.2h1.4v1.72h-1.4zM575.82 120.89h1.37v1.64h-1.37zM627.03 119.65h1.37v1.95h-1.37zM589.1 120.9h1.99v1.65h-1.99zM543.56 120.18h1.45v1.92h-1.45zM618.17 118.5h1.51v1.7h-1.51zM591.42 118.88h1.48v1.54h-1.48zM574.02 119.07h1.95v1.98h-1.95zM610.15 119.63h1.99v1.41h-1.99zM589.28 119.13h1.58v1.86h-1.58zM586.01 119.84h1.42v1.86h-1.42zM550.42 120.67h1.46v1.58h-1.46zM569.21 121.74h1.4v1.48h-1.4zM604.14 120.72h1.56v1.54h-1.56zM589.48 117.82h1.66v1.46h-1.66zM615.89 118.44h1.95v1.97h-1.95zM585.53 121.38h1.69v1.79h-1.69zM605.05 120.93h1.87v1.54h-1.87zM620.09 117.56h1.71v1.99h-1.71zM594.48 118.78h1.36v1.55h-1.36zM570.28 122.66h1.91v1.5h-1.91zM577.79 121.41h1.5v1.43h-1.5zM617.65 121.17h1.68v1.61h-1.68zM606.8 121.82h1.98v1.86h-1.98zM625.83 119.39h1.64v1.92h-1.64zM562.33 119.73h1.79v1.92h-1.79zM616.91 120.02h1.56v1.79h-1.56zM621.99 119.83h1.86v1.84h-1.86zM595.5 118.98h1.81v1.3h-1.81zM624.67 119.85h1.96v1.7h-1.96zM556.79 121.32h1.6v1.62h-1.6zM576.37 120.84h1.39v1.67h-1.39zM589.42 122.63h1.37v1.98h-1.37zM613.21 121.13h1.74v1.53h-1.74zM582.51 122.98h1.96v1.98h-1.96zM609.95 122.29h1.34v1.56h-1.34zM600.04 121.3h1.71v1.39h-1.71zM583.86 121.36h1.69v1.84h-1.69zM561.36 120.19h1.37v1.98h-1.37zM550.29 119.57h1.39v1.47h-1.39zM593.78 120.24h1.31v1.91h-1.31zM587.88 119.72h1.36v1.61h-1.36zM572.1 120.04h1.45v1.94h-1.45zM596.09 121.24h1.75v1.71h-1.75zM613.14 119.48h1.42v1.65h-1.42zM595.9 128.25h1.56v1.38h-1.56zM590.34 128.97h1.68v1.68h-1.68zM619.07 129.11h1.88v1.7h-1.88zM589.26 127.7h1.58v1.83h-1.58zM606.4 130.17h1.9v1.81h-1.9zM622.6 127.26h1.65v1.95h-1.65zM583.2 130.1h1.43v1.93h-1.43zM605.02 126.65h1.57v1.71h-1.57zM622.53 126.96h1.5v1.48h-1.5zM588.62 127.34h1.72v1.56h-1.72zM545.27 126.85h1.31v1.63h-1.31zM558.73 128.62h1.87v1.37h-1.87zM553.87 126.74h1.9v1.73h-1.9zM614.36 130.24h1.78v1.67h-1.78zM582.56 127.86h1.94v1.65h-1.94zM618.08 127.29h1.38v1.66h-1.38zM588.28 127.98h1.57v1.95h-1.57zM555.95 129.25h1.52v1.43h-1.52zM590.98 127.84h1.71v1.9h-1.71zM593.9 128.16h1.93v1.7h-1.93zM596.2 126.07h1.93v1.5h-1.93zM621.61 126.96h1.74v1.95h-1.74zM617.51 128.72h1.47v1.62h-1.47zM597.9 128.36h1.9v1.59h-1.9zM548 126.42h1.53v1.99h-1.53zM562.19 127.3h1.84v1.76h-1.84zM548.59 127.16h1.59v1.52h-1.59zM595.81 128.1h1.4v1.35h-1.4zM626.62 127.68h1.4v1.85h-1.4zM552.14 128.16h1.86v1.87h-1.86zM603.46 127.58h1.84v1.65h-1.84zM621.95 127.65h1.98v1.91h-1.98zM614.98 128.9h1.76v1.97h-1.76zM547.25 129.16h1.34v1.84h-1.34zM604.41 124.83h1.68v1.55h-1.68zM605.58 127.49h1.8v1.85h-1.8zM569.18 126.43h1.37v1.46h-1.37zM627.03 127.32h1.66v1.76h-1.66zM577.81 128.68h1.32v1.68h-1.32zM615.39 128.59h1.43v1.67h-1.43zM624.05 128.42h1.6v1.4h-1.6zM576.16 128.39h1.81v1.59h-1.81zM557.69 128.26h1.42v1.67h-1.42zM580.29 127.93h1.95v1.59h-1.95zM581.25 128.7h1.72v1.93h-1.72zM592.01 127.02h1.93v1.65h-1.93zM562.15 128.77h1.64v1.88h-1.64zM620.62 127.69h1.74v1.97h-1.74zM580.24 129.31h1.73v1.47h-1.73zM557.75 126.65h1.33v1.6h-1.33zM596.29 126.08h1.55v1.53h-1.55zM554.67 126.71h1.88v1.4h-1.88zM616.88 125.76h1.56v1.34h-1.56zM588.01 127.63h1.49v1.85h-1.49zM550.69 129.15h1.6v1.49h-1.6zM556.93 127.83h1.86v1.52h-1.86zM617.47 128.24h1.67v1.32h-1.67zM549.55 127.3h1.42v1.44h-1.42zM542.35 126.53h1.79v1.64h-1.79zM565.78 127.1h1.75v1.69h-1.75zM591.47 128.28h1.65v1.72h-1.65zM618.58 129.34h1.92v1.65h-1.92zM609.02 128.12h1.8v1.58h-1.8zM579.08 127.82h1.55v1.6h-1.55zM617.83 127.26h1.54v1.5h-1.54zM583.94 127.21h1.68v1.35h-1.68zM612.05 128.55h1.79v1.69h-1.79zM551.13 128.72h1.62v1.75h-1.62zM599.1 127.25h1.71v1.42h-1.71zM543.7 128.24h1.75v1.68h-1.75zM624.2 128.01h1.35v1.57h-1.35zM590.52 129.31h1.33v1.78h-1.33zM605.26 129.42h1.87v1.54h-1.87zM575.38 129.52h1.57v1.6h-1.57zM628.14 125.94h1.32v1.9h-1.32zM569.19 127.64h1.99v1.31h-1.99zM607.29 127.91h1.39v1.96h-1.39zM573.07 138.16h1.48v1.85h-1.48zM601.39 137.75h1.98v1.34h-1.98zM619.65 137.93h1.31v1.83h-1.31zM584.89 135.39h1.65v1.83h-1.65zM609.91 135.79h1.47v1.64h-1.47zM612.44 134.97h1.49v1.43h-1.49zM546.9 135.45h1.95v1.51h-1.95zM613.44 136.58h1.39v1.7h-1.39zM566.2 135.19h1.41v1.71h-1.41zM563.63 136.46h1.6v1.62h-1.6zM569.65 135.38h1.74v1.65h-1.74zM577.39 135.06h1.43v1.47h-1.43zM611.95 135.5h1.78v1.38h-1.78zM608.17 135.72h1.37v1.97h-1.37zM566.62 137.8h1.38v1.4h-1.38zM618.59 134.84h1.97v1.61h-1.97zM584.27 137.37h1.4v1.99h-1.4zM626.97 135.89h1.76v1.54h-1.76zM583.35 136.81h1.34v1.33h-1.34zM628 137.9h1.63v1.37h-1.63zM567.39 137.15h1.51v1.74h-1.51zM563.26 135.37h1.92v1.34h-1.92zM596.49 136.26h1.33v1.93h-1.33zM605.96 134.79h1.47v1.86h-1.47zM565.79 135.59h1.62v1.96h-1.62zM556.98 135.03h1.91v1.5h-1.91zM622.88 135.72h1.79v1.7h-1.79zM607.6 134.35h1.55v1.37h-1.55zM572.47 137.13h1.49v1.56h-1.49zM549.1 136.31h1.82v1.46h-1.82zM547.31 138.12h1.56v1.49h-1.56zM594.96 134.62h1.79v1.92h-1.79zM577.89 136.04h1.63v1.68h-1.63zM559.26 138.23h1.95v1.34h-1.95zM604.47 135.35h1.95v1.44h-1.95zM622.51 134.03h1.79v1.57h-1.79zM607.91 135.69h1.62v1.52h-1.62zM547.23 137.54h2v1.82h-2zM605.5 137.03h1.98v1.65h-1.98zM572.52 135.95h1.9v1.74h-1.9zM568.72 134.53h1.95v1.3h-1.95zM608.43 135.47h1.99v2h-1.99zM549.89 136.41h1.36v1.48h-1.36zM608.31 136.5h1.31v1.47h-1.31zM573.33 137.8h1.89v1.56h-1.89zM571.61 135.81h1.83v1.49h-1.83zM563.38 137.03h1.36v1.31h-1.36zM570.54 134.84h1.6v1.35h-1.6zM573.46 135.64h1.98v1.65h-1.98zM554.31 136.51h1.4v1.74h-1.4zM624.7 134.39h1.97v1.51h-1.97zM622 135.64h1.63v1.71h-1.63zM558.1 134.12h1.78v1.76h-1.78zM590.44 134.86h1.75v1.96h-1.75zM561.44 137.77h1.95v1.81h-1.95zM617.23 136.78h1.62v1.53h-1.62zM588.7 135.7h1.92v1.56h-1.92zM552.28 133.44h1.46v1.72h-1.46zM588.93 136.22h1.36v1.99h-1.36zM575.11 136.85h1.39v1.62h-1.39zM598.28 134.08h1.68v1.97h-1.68zM606.38 136.83h1.58v1.86h-1.58zM600.05 133.76h1.53v1.68h-1.53zM544.85 136.33h1.99v1.64h-1.99zM624.51 136.08h1.9v1.53h-1.9zM567.67 138.22h1.89v1.81h-1.89zM567.65 134.16h1.92v1.59h-1.92zM569.89 137.04h1.79v1.38h-1.79zM592.99 135.57h1.69v1.99h-1.69zM593.12 145.46h1.8v1.41h-1.8zM555.36 146.11h1.69v1.97h-1.69zM613.46 143.65h1.6v1.4h-1.6zM590.73 142.5h1.55v1.48h-1.55zM550.36 142.91h1.32v1.66h-1.32zM553.67 145.8h1.8v1.74h-1.8zM627.65 143.5h1.83v1.57h-1.83zM563.65 144.83h1.45v1.99h-1.45zM621.19 145.94h1.51v1.64h-1.51zM578.48 145.13h1.4v1.65h-1.4zM571.92 143.93h1.72v1.74h-1.72zM607.8 143.09h1.4v1.31h-1.4zM586.83 143.3h1.4v1.55h-1.4zM577.36 144.21h1.76v1.43h-1.76zM564.26 144.63h1.94v1.33h-1.94zM604.74 143.09h1.73v1.68h-1.73zM558.31 142.74h1.52v1.77h-1.52zM599.58 145.06h1.72v1.52h-1.72zM595.3 143.78h1.72v1.71h-1.72zM580.71 143.06h1.98v1.8h-1.98zM597.17 143.46h1.49v1.59h-1.49zM600.55 144.53h1.42v1.49h-1.42zM544.69 143.97h1.61v1.43h-1.61zM623.26 143.74h1.52v1.45h-1.52zM578.09 144.18h1.88v1.74h-1.88zM571.84 144.44h1.32v1.61h-1.32zM625.25 143.95h1.46v1.89h-1.46zM602.01 146.2h1.61v1.72h-1.61zM591.53 144.4h1.37v1.58h-1.37zM587.07 143.7h1.86v1.33h-1.86zM555.37 143.06h1.51v1.64h-1.51zM603.84 144.53h1.52v1.34h-1.52zM626.11 144.56h1.58v1.8h-1.58zM609.43 144.79h1.64v1.52h-1.64zM558.51 145.33h1.84v1.88h-1.84zM586.67 143.63h1.98v1.66h-1.98zM587.8 142.33h1.86v1.34h-1.86zM589.28 144.08h1.99v1.44h-1.99zM616.67 143.3h1.95v1.82h-1.95zM607.61 144.18h1.6v1.7h-1.6zM617.1 144.95h1.96v1.98h-1.96zM624.05 143.96h1.73v1.43h-1.73zM558.79 143.53h1.93v1.69h-1.93zM593.12 144.12h1.42v1.7h-1.42zM564.32 142.04h1.85v1.35h-1.85zM603.1 140.95h1.58v1.84h-1.58zM585.07 141.67h1.73v1.95h-1.73zM616.79 145.83h1.51v1.84h-1.51zM605.33 141.92h1.64v1.36h-1.64zM624.43 143.36h1.76v1.57h-1.76zM553.15 140.14h1.97v1.98h-1.97zM599.99 144.98h1.8v1.7h-1.8zM548.29 145.08h1.41v1.34h-1.41zM585.52 146.46h1.35v1.89h-1.35zM564.64 143.59h1.69v1.99h-1.69zM598.08 141.44h1.38v1.41h-1.38zM544.9 142.66h1.5v2h-1.5zM594.19 144.8h1.66v1.94h-1.66zM626.94 145.7h1.9v1.71h-1.9zM595.69 143.47h1.34v1.91h-1.34zM620.33 145.52h1.46v1.46h-1.46zM613.65 143.37h1.72v1.48h-1.72zM546.72 144.64h1.93v1.35h-1.93zM602.75 143.12h1.7v1.7h-1.7zM573.53 152.06h1.72v1.38h-1.72zM566.06 153.01h1.46v1.57h-1.46zM543.38 151.19h1.38v1.63h-1.38zM603.27 150.2h1.55v1.35h-1.55zM616.64 150.79h1.64v1.6h-1.64zM546.56 152.05h1.89v1.35h-1.89zM545.01 152.49h1.72v1.55h-1.72zM561.83 152.75h1.32v1.58h-1.32zM623.68 151.37h1.96v1.44h-1.96zM552.62 151.79h1.31v1.47h-1.31zM573.42 150.93h1.82v1.77h-1.82zM624.51 150.22h1.41v1.49h-1.41zM624.81 150.92h1.49v1.65h-1.49zM545.19 151.83h1.58v1.57h-1.58zM590.8 151.16h1.49v1.69h-1.49zM567.8 150.96h1.73v1.39h-1.73zM611.27 152.42h1.56v1.39h-1.56zM599.53 152.2h1.42v1.94h-1.42zM610.29 150.32h2v1.88h-2zM550.1 151.87h1.62v1.94h-1.62zM546.18 153.18h1.99v1.38h-1.99zM621.32 152.82h1.63v1.31h-1.63zM549.67 150.25h1.96v1.99h-1.96zM599.22 152.48h1.51v1.55h-1.51zM619.29 152.11h1.58v1.72h-1.58zM607.75 150.94h1.43v1.89h-1.43zM561 151.81h1.9v1.74h-1.9zM588.2 152.3h1.35v1.34h-1.35zM599.86 152.53h1.58v1.91h-1.58zM579.85 151.55h1.59v1.97h-1.59zM544.61 153.03h1.95v1.76h-1.95zM624.52 151.46h1.32v1.82h-1.32zM584.24 152.78h1.75v1.92h-1.75zM568.93 152.12h1.38v1.62h-1.38zM612.04 148.59h1.59v1.85h-1.59zM566.41 151.99h1.41v1.95h-1.41zM611.12 152.71h1.44v1.66h-1.44zM558.06 152.47h1.47v1.39h-1.47zM582.85 151.04h1.71v1.86h-1.71zM607.56 150.98h1.64v1.39h-1.64zM618.41 151.35h1.31v1.57h-1.31zM604.54 152.07h1.62v1.49h-1.62zM615.1 152.89h1.35v1.76h-1.35zM607.24 152.13h1.97v1.45h-1.97zM620.63 151.65h1.35v1.51h-1.35zM603.24 152.62h1.73v1.88h-1.73zM585.68 152.07h1.98v1.84h-1.98zM621.29 150.79h1.56v1.34h-1.56zM552.7 152.38h1.97v1.31h-1.97zM548.12 150.78h1.55v1.42h-1.55zM559.54 151.57h1.83v1.41h-1.83zM554.61 152.7h1.64v1.4h-1.64zM563.97 152.67h1.64v1.33h-1.64zM614.74 151.17h1.96v1.82h-1.96zM556.9 152.87h1.81v1.86h-1.81zM558.51 153.34h1.86v1.68h-1.86zM578.13 152.96h1.68v1.93h-1.68zM565.89 150.44h1.63v1.58h-1.63zM571.87 150.81h1.31v1.99h-1.31zM589.23 154.16h1.3v1.56h-1.3zM555.46 151.51h1.3v1.4h-1.3zM562.63 152.71h1.48v1.32h-1.48zM590.95 149.63h1.81v1.31h-1.81zM571.03 150.19h1.54v1.72h-1.54zM626.92 151.59h1.95v1.75h-1.95zM601.41 151.15h1.99v1.49h-1.99zM616.16 152.41h1.83v1.5h-1.83zM552.23 153.61h1.85v1.34h-1.85zM612.53 152.35h1.6v1.82h-1.6zM591.27 150.62h1.46v1.32h-1.46zM578.73 152.67h1.6v1.73h-1.6zM626.43 160.44h1.47v1.5h-1.47zM547.55 159.6h1.34v1.64h-1.34zM554.68 159.85h1.54v1.71h-1.54zM560.07 157.88h1.69v1.7h-1.69zM600.67 156.16h2v1.83h-2zM555.01 158.61h1.93v1.69h-1.93zM588.95 158.47h1.94v1.66h-1.94zM578.98 158.36h1.41v1.52h-1.41zM614.67 159.8h1.69v1.84h-1.69zM566.99 160.06h1.84v1.48h-1.84zM566.44 161.78h1.58v1.36h-1.58zM610.78 161.46h1.97v1.47h-1.97zM588.97 158h1.33v1.36h-1.33zM590.17 159.43h1.43v1.8h-1.43zM624.83 160.5h1.59v1.51h-1.59zM576.6 159.46h1.42v1.89h-1.42zM575.9 158.91h1.8v1.88h-1.8zM576.6 158.11h1.67v1.8h-1.67zM607.53 159.24h1.36v1.68h-1.36zM602.07 159.99h1.64v1.85h-1.64zM568.41 161.22h1.37v1.44h-1.37zM571.84 159.37h1.85v1.61h-1.85zM582.57 157.76h1.9v1.99h-1.9zM627.07 160.64h1.83v1.99h-1.83zM627.7 160.24h1.58v1.86h-1.58zM579 160.16h1.85v1.93h-1.85zM594.08 160.95h1.8v1.65h-1.8zM609.91 161.48h1.82v1.87h-1.82zM627.7 158.45h1.38v1.67h-1.38zM559.61 157.9h1.73v1.86h-1.73zM543.44 160.8h1.45v1.32h-1.45zM558.53 161.06h1.72v1.79h-1.72zM617.13 159.12h1.67v1.3h-1.67zM554.5 159.96h1.99v1.7h-1.99zM588 159.26h1.47v1.51h-1.47zM565.46 160.82h1.58v1.31h-1.58zM625.47 160.44h1.68v1.66h-1.68zM545.37 160.62h1.51v1.53h-1.51zM570.03 159.15h1.31v1.36h-1.31zM559.97 160.14h1.44v1.82h-1.44zM581.72 159.08h1.86v1.49h-1.86zM628.14 157.53h1.98v1.97h-1.98zM604.84 159.13h1.41v1.86h-1.41zM614.07 159.54h1.58v1.96h-1.58zM545.62 159.95h1.66v1.59h-1.66zM609.54 159.41h1.98v1.71h-1.98zM562.46 159.35h1.76v1.66h-1.76zM623.23 157.97h1.95v1.6h-1.95zM606.61 160.97h1.97v1.85h-1.97zM575.99 159.54h1.54v1.94h-1.54zM603.43 158.86h1.99v1.44h-1.99zM591.37 161.05h1.84v1.63h-1.84zM543.94 160.63h1.33v1.33h-1.33zM614.17 159.68h1.32v1.36h-1.32zM608.95 159.82h1.84v1.53h-1.84zM581.75 157.51h1.63v1.82h-1.63zM546.29 159.89h1.4v1.38h-1.4zM562.12 157.95h1.94v1.34h-1.94zM614.25 161.72h1.98v1.89h-1.98zM597.55 159.7h1.58v1.99h-1.58zM583.24 157.42h1.49v1.5h-1.49zM577.48 159.18h1.56v1.82h-1.56zM558.28 159.46h1.68v1.81h-1.68zM552.96 159.82h1.58v1.55h-1.58zM555.59 159.64h1.8v1.42h-1.8zM626.18 160.28h1.96v1.84h-1.96zM576.09 160.4h1.54v1.65h-1.54zM615.07 161.62h1.97v1.35h-1.97zM619.62 159.68h1.88v1.98h-1.88zM587.95 160.04h1.51v1.98h-1.51zM578.62 157.96h1.81v1.98h-1.81zM560.71 166.25h1.7v1.41h-1.7zM543.8 167.81h1.44v1.84h-1.44zM560.53 168h1.51v1.55h-1.51zM617.26 167.48h1.61v1.43h-1.61zM598.71 165.38h1.76v1.88h-1.76zM560.37 166.61h1.84v1.73h-1.84zM556.71 165.8h1.38v1.44h-1.38zM543.02 166.86h1.95v1.64h-1.95zM594.72 168.04h1.39v1.92h-1.39zM561.58 164.52h1.98v1.72h-1.98zM614.84 167.42h1.33v1.54h-1.33zM551.69 167.4h1.4v1.76h-1.4zM605.42 166.09h1.67v1.7h-1.67zM591.49 167.33h1.98v1.83h-1.98zM548.77 165.92h1.65v1.64h-1.65zM574.49 166.6h1.65v1.51h-1.65zM601.66 167.15h1.72v1.84h-1.72zM603.08 168.84h1.74v1.42h-1.74zM562.94 168.77h1.84v1.93h-1.84zM596.74 167.96h1.58v1.42h-1.58zM599.7 169.72h1.32v1.84h-1.32zM571.55 168.99h1.55v1.93h-1.55zM575.81 168.18h1.5v1.47h-1.5zM598.82 168.79h1.77v1.82h-1.77zM581.41 166.63h1.75v1.51h-1.75zM619.63 168.18h1.54v1.62h-1.54zM579.13 169.48h1.77v1.78h-1.77zM612.06 164.45h1.57v1.98h-1.57zM548.29 166.91h1.79v1.92h-1.79zM611.09 168.41h1.89v1.57h-1.89zM624.29 170.29h1.53v1.42h-1.53zM623.03 168.04h1.65v1.78h-1.65zM619.22 169.04h1.85v1.74h-1.85zM622.08 168.45h1.41v1.39h-1.41zM560.64 167.69h1.79v1.86h-1.79zM618.46 166.77h1.33v1.91h-1.33zM604.63 168.49h1.83v1.45h-1.83zM604.87 167.77h1.87v1.79h-1.87zM598.94 166.99h1.6v1.98h-1.6zM607.49 168.26h1.39v1.95h-1.39zM580.28 166.01h1.99v1.54h-1.99zM548.38 166.13h1.96v1.8h-1.96zM605.45 168.04h1.93v1.7h-1.93zM613.26 168.17h1.44v1.95h-1.44zM549.3 169.3h1.88v1.3h-1.88zM611.04 167.92h1.49v1.86h-1.49zM607.71 167.15h1.3v1.6h-1.3zM621.08 166.78h1.34v1.62h-1.34zM600.28 166.98h1.47v1.55h-1.47zM617.87 166.18h1.45v1.56h-1.45zM588.23 167.49h1.41v1.91h-1.41zM617.62 167.27h1.87v1.41h-1.87zM585.36 167.77h1.56v1.63h-1.56zM595.24 165.4h1.74v1.86h-1.74zM624.24 167.74h1.5v1.96h-1.5zM591.04 168.84h1.53v1.5h-1.53zM588.82 170.56h1.78v1.53h-1.78zM614.87 167.6h1.41v1.55h-1.41zM552.51 167.97h1.35v1.69h-1.35zM621.65 168.27h1.94v1.42h-1.94zM588.89 168.01h1.39v1.73h-1.39zM620.74 167.97h1.5v1.95h-1.5zM549.88 167.74h1.35v1.78h-1.35zM580.3 165.03h1.53v1.99h-1.53zM549.59 167.83h1.87v1.71h-1.87zM610.48 168.79h1.53v1.85h-1.53zM550.78 169.06h1.72v1.82h-1.72zM608.72 169.1h1.89v1.38h-1.89zM596.83 166.24h1.51v1.47h-1.51zM569.67 169.39h1.44v1.6h-1.44zM581.69 166.12h1.61v1.79h-1.61zM582.63 167.26h1.88v1.73h-1.88zM582.05 167.23h1.32v1.32h-1.32zM613.67 175.72h1.45v1.44h-1.45zM552.63 176.7h1.85v1.34h-1.85zM612.97 176.84h1.86v1.46h-1.86zM552.33 174.84h1.91v1.96h-1.91zM548.3 174.68h1.42v1.66h-1.42zM604.75 177.01h1.64v1.67h-1.64zM566.03 175.75h1.84v1.4h-1.84zM595.72 174.77h1.5v1.79h-1.5zM592.65 174.38h1.62v1.85h-1.62zM581.41 176.07h1.58v1.58h-1.58zM582.5 178.04h1.39v1.52h-1.39zM572.59 174h1.92v1.37h-1.92zM594.71 176.82h1.53v1.49h-1.53zM561.03 175.14h1.32v1.82h-1.32zM552.67 176.04h1.38v1.9h-1.38zM622.29 175.8h1.41v1.59h-1.41zM551.78 177.42h1.56v1.44h-1.56zM609.21 177.2h1.54v1.5h-1.54zM555.41 174.82h1.66v1.98h-1.66zM543.01 174.13h1.46v1.6h-1.46zM615.53 175.87h1.98v1.93h-1.98zM544.44 175.07h1.48v1.71h-1.48zM593.16 176.56h1.49v1.67h-1.49zM558.34 175.95h1.56v1.83h-1.56zM558.52 177.84h1.33v1.5h-1.33zM564.79 177.74h1.87v1.32h-1.87zM560.98 174.06h1.78v1.57h-1.78zM624.31 176.62h1.65v1.45h-1.65zM589.17 175.06h1.5v1.97h-1.5zM549.84 176.19h1.66v1.6h-1.66zM613.51 176.68h1.72v1.86h-1.72zM604.38 175.56h1.74v1.48h-1.74zM569.16 175.01h1.86v1.83h-1.86zM622.87 176.71h1.94v1.49h-1.94zM611.59 175.6h1.67v1.68h-1.67zM604.06 176.4h1.96v1.32h-1.96zM607.34 176.29h1.49v1.64h-1.49zM569.71 175.36h1.47v1.82h-1.47zM543.8 174.9h1.74v1.64h-1.74zM617.05 177.58h1.4v1.31h-1.4zM544.95 175.82h1.68v1.36h-1.68zM614.14 174.94h1.86v1.7h-1.86zM601.08 176.05h1.46v1.39h-1.46zM557.46 173.87h1.9v1.5h-1.9zM551.77 173.02h1.95v1.69h-1.95zM591.58 176.62h1.46v1.48h-1.46zM621.7 174.17h1.71v1.43h-1.71zM584.85 176.61h1.42v1.48h-1.42zM542.83 177.74h1.48v1.63h-1.48zM604.27 174.95h1.47v1.93h-1.47zM553.72 175.4h1.63v1.53h-1.63zM620.96 177.17h1.62v1.5h-1.62zM625.38 174.31h1.9v1.93h-1.9zM580.28 175.21h1.91v1.89h-1.91zM570.45 175.79h1.6v1.73h-1.6zM571.74 176.54h1.54v1.43h-1.54zM577.21 174.94h1.72v1.55h-1.72zM550.61 176.99h1.37v1.65h-1.37zM580.64 174.21h1.97v1.9h-1.97zM594.72 175.89h1.92v1.36h-1.92zM559.02 177.02h1.37v1.74h-1.37zM598.66 175.03h1.51v1.35h-1.51zM568.8 176.63h1.51v1.59h-1.51zM616.84 172.78h1.32v1.85h-1.32zM596.52 174.59h1.76v1.9h-1.76zM622.71 175.56h1.5v1.49h-1.5zM555.41 177.4h1.85v1.55h-1.85zM598.68 173.82h1.7v1.91h-1.7zM566.63 177.17h1.67v1.75h-1.67zM623.02 174.73h1.42v1.43h-1.42zM573.26 177.86h1.44v1.65h-1.44zM550.89 175.36h1.4v1.7h-1.4zM595.8 176.15h2v1.47h-2zM597.59 175.54h1.92v1.46h-1.92zM609.94 182.97h1.35v1.5h-1.35zM571.73 182.88h1.5v1.48h-1.5zM598.79 182.03h1.62v1.79h-1.62zM601.48 181.56h1.63v1.47h-1.63zM547.81 182.19h1.84v1.36h-1.84zM546.47 181.99h1.71v1.3h-1.71zM577.01 183.82h1.67v1.95h-1.67zM599.38 185h1.98v1.67h-1.98zM598.34 183.21h1.59v1.6h-1.59zM602.48 183.98h1.79v1.7h-1.79zM598.84 183.66h1.83v1.9h-1.83zM544.73 181.91h1.42v1.31h-1.42zM580.56 183.99h1.4v1.81h-1.4zM545.49 183.67h1.46v1.74h-1.46zM549.81 182.53h1.9v1.36h-1.9zM560.92 184.99h1.45v1.98h-1.45zM547.14 185.37h1.82v1.5h-1.82zM599.87 183.42h1.82v1.84h-1.82zM604.54 182.88h1.39v1.38h-1.39zM551.62 183.47h1.31v1.34h-1.31zM580.2 182.36h1.33v1.45h-1.33zM622.98 183.09h1.67v1.67h-1.67zM625.1 183.94h1.75v1.93h-1.75zM588.7 182.2h1.55v1.38h-1.55zM568.88 183.43h1.59v1.71h-1.59zM577.83 183.64h1.37v1.49h-1.37zM585.13 184.43h1.33v1.39h-1.33zM589.45 181.21h1.33v1.81h-1.33zM605.35 183.28h1.84v1.54h-1.84zM603.04 182.63h1.89v1.3h-1.89zM573.51 183.31h1.66v1.9h-1.66zM587.27 181.19h1.99v1.81h-1.99zM576.22 182.97h1.6v1.69h-1.6zM620.94 183.6h1.72v1.48h-1.72zM590.18 184.7h1.96v1.4h-1.96zM592.03 184.68h1.55v1.94h-1.55zM559.87 182.96h1.95v1.47h-1.95zM590.74 183.19h1.72v1.95h-1.72zM623.63 183.42h1.77v1.67h-1.77zM596.71 184.75h1.65v1.77h-1.65zM584.05 184.58h1.9v1.5h-1.9zM624.8 183.72h1.42v1.69h-1.42zM574.36 183.59h1.46v1.82h-1.46zM563.69 183.31h1.7v1.82h-1.7zM606.81 184.07h1.46v1.93h-1.46zM562.05 181.82h1.66v1.78h-1.66zM546.98 183.6h1.62v1.64h-1.62zM597.73 184.03h1.55v1.78h-1.55zM621.24 185.79h1.45v1.99h-1.45zM619.39 185.76h1.93v1.9h-1.93zM574.73 182.98h1.67v1.88h-1.67zM609.34 184.07h1.34v1.52h-1.34zM597.27 184.56h1.46v1.96h-1.46zM557.8 183.15h1.47v1.69h-1.47zM563.05 183.24h1.99v1.62h-1.99zM570.63 184.14h1.46v1.62h-1.46zM563.75 186.23h1.37v1.73h-1.37zM568.62 185.12h1.58v1.92h-1.58zM586.48 181.98h1.32v1.63h-1.32zM603.54 184.35h1.5v1.96h-1.5zM580.14 183.25h1.5v1.97h-1.5zM581.04 184.2h1.95v1.34h-1.95zM600.7 183.29h1.4v1.73h-1.4zM591.21 184.05h1.99v1.79h-1.99zM616.74 182.77h1.69v1.91h-1.69zM608.04 184.86h1.5v1.72h-1.5zM617.22 184.81h1.35v1.6h-1.35zM595.48 184.53h1.91v1.47h-1.91zM613.86 183.65h1.89v1.4h-1.89zM624.2 183.92h1.51v1.95h-1.51zM567.59 184.64h1.87v1.73h-1.87zM568.87 184.12h1.86v1.71h-1.86zM596.79 183.69h1.71v1.63h-1.71zM618.65 184.28h1.78v1.35h-1.78zM623.21 193.16h1.53v1.32h-1.53zM580.15 193.74h1.95v1.96h-1.95zM604.65 192.22h1.69v1.35h-1.69zM553.52 190.98h1.8v1.69h-1.8zM627.33 193.4h1.35v1.76h-1.35zM564.55 195.1h1.65v1.44h-1.65zM586.23 190.14h1.47v1.42h-1.47zM619.1 193.7h1.52v1.51h-1.52zM566.93 192.78h1.69v1.56h-1.69zM614.51 192.29h1.98v1.53h-1.98zM560.28 191.2h1.43v1.72h-1.43zM611.16 190.88h1.86v1.91h-1.86zM587.66 191.03h1.54v1.46h-1.54zM545.76 190.88h1.45v1.96h-1.45zM561.27 193.43h1.39v1.67h-1.39zM613.74 190.91h1.93v1.98h-1.93zM618.62 191.86h1.71v1.94h-1.71zM615.36 191.51h1.89v1.5h-1.89zM598.4 192.32h1.93v1.35h-1.93zM542.48 192.32h1.73v1.56h-1.73zM612.58 190.79h1.57v1.75h-1.57zM543.84 191.17h1.52v1.5h-1.52zM551.12 195.42h1.51v1.31h-1.51zM543.72 192.51h1.61v1.5h-1.61zM582.15 192.68h1.43v1.45h-1.43zM576.91 190.72h1.64v1.42h-1.64zM556.48 191.89h1.72v1.55h-1.72zM562.74 189.17h1.89v1.69h-1.89zM608.57 191.17h1.48v1.56h-1.48zM618.94 192.07h1.94v2h-1.94zM613.67 192.83h1.37v1.92h-1.37zM556.9 190.99h1.74v1.49h-1.74zM578.89 193.21h1.73v1.52h-1.73zM561.76 192.82h1.42v1.79h-1.42zM566.5 191.27h1.51v1.58h-1.51zM576.07 191.94h1.64v1.54h-1.64zM609.1 191.43h1.32v1.8h-1.32zM621.07 192.78h1.62v1.52h-1.62zM546.31 192.54h1.4v1.58h-1.4zM590.96 190.56h1.41v1.95h-1.41zM572.48 189.15h1.81v1.84h-1.81zM603.7 189.79h1.52v1.92h-1.52zM549.47 191.09h1.6v1.56h-1.6zM586.34 191.43h1.66v1.75h-1.66zM623.06 190.22h1.59v1.59h-1.59zM592.78 193.26h1.36v1.54h-1.36zM573.47 192.45h1.83v1.32h-1.83zM583.8 190.85h1.52v1.56h-1.52zM604.9 190.49h1.58v1.99h-1.58zM608.16 191.36h1.82v1.58h-1.82zM565.21 191.54h1.54v1.42h-1.54zM544.81 191.49h1.34v1.8h-1.34zM599.73 192.76h1.43v1.88h-1.43zM619.31 191.14h1.65v1.71h-1.65zM565.62 188.92h1.97v1.87h-1.97zM611.81 190.84h1.82v1.9h-1.82zM606.98 193.12h1.54v1.99h-1.54zM613.83 192.74h1.61v1.65h-1.61zM573.78 190.13h1.96v1.46h-1.96zM587.92 192.38h1.87v1.38h-1.87zM619.34 190.03h1.78v1.34h-1.78zM601.85 190.73h1.45v1.62h-1.45zM552.41 192.99h1.49v1.35h-1.49zM549.39 200.63h1.89v1.62h-1.89zM547.95 198.93h1.55v1.52h-1.55zM544.59 199.02h1.88v1.48h-1.88zM588.99 200.27h1.7v1.6h-1.7zM579.11 198.21h1.51v1.98h-1.51zM550.66 199.98h1.69v1.64h-1.69zM567.12 198.52h1.37v1.69h-1.37zM554.4 197.65h1.79v1.97h-1.79zM576.8 198.59h1.36v1.89h-1.36zM543.97 198.99h1.74v1.37h-1.74zM602.64 198.81h1.95v1.63h-1.95zM542.29 199.95h1.75v1.33h-1.75zM568.99 200.09h1.47v1.51h-1.47zM597.56 200.3h1.96v1.44h-1.96zM558.96 197.89h1.79v1.87h-1.79zM557.53 199.86h1.46v1.53h-1.46zM567.37 199.91h1.42v1.65h-1.42zM604.92 199.76h1.46v1.94h-1.46zM558.42 198.62h1.43v1.87h-1.43zM585.22 199.95h1.57v1.71h-1.57zM547.54 199.16h1.53v1.39h-1.53zM594.28 198.54h1.59v1.41h-1.59zM563.69 201.82h1.77v1.5h-1.77zM605.61 199.52h1.49v1.87h-1.49zM544.04 201.84h1.56v1.31h-1.56zM570.21 196.78h1.73v1.95h-1.73zM568.14 199.38h1.87v1.89h-1.87zM592.74 201.25h1.75v1.52h-1.75zM544.28 196.76h1.75v1.71h-1.75zM598.75 199h1.67v1.45h-1.67zM570.57 197.49h1.9v1.78h-1.9zM551.5 199.36h1.6v1.86h-1.6zM602.39 199.26h1.62v1.78h-1.62zM591.89 196.46h1.43v1.52h-1.43zM546.17 201.76h1.96v1.67h-1.96zM609.04 199.14h1.32v1.34h-1.32zM563.86 198.44h1.94v1.84h-1.94zM619.93 200.94h1.57v1.59h-1.57zM620.99 199.71h1.96v1.45h-1.96zM618.67 197.76h1.93v1.69h-1.93zM551.31 200.29h1.59v1.62h-1.59zM585.18 200.91h1.79v1.56h-1.79zM544.97 199.15h1.81v1.98h-1.81zM554.44 199.05h1.96v1.61h-1.96zM563.49 200.99h1.65v1.55h-1.65zM562.85 199.37h1.69v1.64h-1.69zM619.77 203.25h1.73v1.86h-1.73zM585.7 201.93h1.84v1.3h-1.84zM553.64 197.18h1.33v1.71h-1.33zM614.68 199.01h1.66v1.85h-1.66zM602.94 199.68h1.83v1.67h-1.83zM549.42 199.87h1.58v1.31h-1.58zM598.32 199.38h1.4v1.75h-1.4zM569.79 199.6h1.65v1.38h-1.65zM594.11 199.67h1.92v1.88h-1.92zM583.45 199.14h1.33v1.85h-1.33zM568.51 200.06h1.46v1.63h-1.46zM603.25 199.77h1.64v1.52h-1.64zM613.96 197.03h1.8v1.67h-1.8zM579.36 198h1.43v1.78h-1.43zM566.21 201.27h1.77v1.54h-1.77zM617.45 200.2h1.92v1.32h-1.92zM604.92 199.01h1.67v1.81h-1.67zM546.73 200.42h1.4v1.62h-1.4zM586.58 201.44h2v1.36h-2zM558.5 200.78h1.86v1.34h-1.86zM627.21 199.13h1.67v1.7h-1.67zM552.76 199.9h1.76v1.72h-1.76zM545.13 200.52h1.32v1.73h-1.32zM604.69 198.25h1.39v1.67h-1.39zM627.75 199.07h1.35v1.51h-1.35zM593.13 197.73h1.96v1.5h-1.96zM558.93 199.72h1.96v1.37h-1.96zM610.58 205.83h1.83v1.8h-1.83zM594.86 206.51h1.93v1.48h-1.93zM568.35 207.49h1.45v1.49h-1.45zM592.09 206.5h1.62v1.8h-1.62zM590.24 207.2h1.91v1.6h-1.91zM567.17 204.93h1.93v1.52h-1.93zM572.95 207.08h1.49v1.63h-1.49zM583.98 206.92h1.7v1.94h-1.7zM547.97 206.24h1.41v1.66h-1.41zM604.63 208.2h1.97v1.68h-1.97zM560.68 207.64h1.74v1.58h-1.74zM596.29 205.64h1.47v1.82h-1.47zM605.94 206.74h1.54v1.58h-1.54zM619.15 206.61h1.67v1.36h-1.67zM548.2 207.36h1.63v1.88h-1.63zM618.52 209.26h1.91v1.52h-1.91zM613.06 209.22h1.31v1.55h-1.31zM587.74 210.3h1.69v1.31h-1.69zM572.06 206.27h1.88v1.55h-1.88zM604.82 209.69h1.56v1.37h-1.56zM596.74 207.42h1.65v1.66h-1.65zM555.86 207.03h1.91v1.81h-1.91zM549.05 206.46h1.97v1.48h-1.97zM594.94 207.88h1.97v1.38h-1.97zM609.11 207.9h1.72v1.67h-1.72zM623.82 206.66h1.65v1.71h-1.65zM604.89 208.16h1.43v1.77h-1.43zM594.57 208.92h1.46v1.42h-1.46zM604.91 208.91h1.98v1.75h-1.98zM560.98 207.5h1.64v1.89h-1.64zM626.12 208.38h1.56v1.34h-1.56zM548.23 206.67h1.54v1.71h-1.54zM606.02 207.88h1.68v1.83h-1.68zM608.72 208.3h1.33v1.74h-1.33zM622.89 209.07h1.69v1.37h-1.69zM596.83 206.44h1.56v1.91h-1.56zM597.15 208.18h1.75v1.84h-1.75zM571.12 209.23h1.67v1.9h-1.67zM585.72 206.3h1.78v1.91h-1.78zM583.82 207.63h1.95v1.79h-1.95zM603.21 207.22h1.62v1.35h-1.62zM552.18 208.48h1.39v1.5h-1.39zM586.11 207.08h1.54v1.88h-1.54zM566.9 206.49h1.38v1.71h-1.38zM586.36 206.03h1.33v1.82h-1.33zM623.15 207.48h1.34v1.66h-1.34zM593.33 208.07h1.34v1.93h-1.34zM583.87 211.21h1.86v1.5h-1.86zM583.51 206.89h1.39v1.96h-1.39zM607.74 207.24h1.74v1.59h-1.74zM542.2 207.78h1.37v1.37h-1.37zM610.81 207.22h1.3v1.31h-1.3zM564.61 207.79h1.67v1.57h-1.67zM593.88 208.42h1.33v1.36h-1.33zM602.32 207.97h1.99v1.64h-1.99zM565.18 208.67h1.95v1.79h-1.95zM564.23 207.74h1.97v1.97h-1.97zM611.59 208.71h1.76v1.5h-1.76zM583.38 207.69h1.43v1.51h-1.43zM593.92 208.13h1.93v1.71h-1.93zM586.49 207.08h1.86v1.92h-1.86zM564.46 207.11h1.91v1.53h-1.91zM543.43 210.07h1.96v1.33h-1.96zM627.99 206.71h1.5v1.41h-1.5zM577.14 215.98h1.71v1.65h-1.71zM563.51 214.02h1.69v1.78h-1.69zM577.33 213.79h1.48v1.91h-1.48zM543.98 214.49h1.44v1.44h-1.44zM571.35 212.85h1.76v1.78h-1.76zM584.33 216.42h1.74v1.55h-1.74zM577.32 214.74h1.35v1.99h-1.35zM587.01 215.53h1.37v1.96h-1.37zM555.46 213.32h1.84v1.48h-1.84zM608.77 214.86h1.87v1.65h-1.87zM616.64 215.08h1.7v1.95h-1.7zM627.24 214.91h1.87v1.48h-1.87zM594.59 216.77h1.9v1.33h-1.9zM615.4 214.76h1.67v1.57h-1.67zM575.96 215.05h1.35v1.9h-1.35zM546.68 216h1.33v1.52h-1.33zM545.96 213.47h1.34v1.56h-1.34zM582.21 216.6h1.91v1.7h-1.91zM599.05 216.1h1.32v1.67h-1.32zM582.11 214.92h1.84v1.51h-1.84zM622.78 212.92h1.65v1.46h-1.65zM611.58 216.3h1.9v1.68h-1.9zM570.59 214.13h1.6v1.67h-1.6zM550.27 214.3h1.5v1.65h-1.5zM583.77 214.8h1.63v1.48h-1.63zM544.07 217.57h1.35v1.37h-1.35zM550.93 215.43h1.96v1.67h-1.96zM561.34 213.61h1.4v1.67h-1.4zM623.87 214.83h2v1.32h-2zM611.59 215.69h1.98v1.32h-1.98zM560.2 217.41h1.95v1.55h-1.95zM558.87 214.26h1.96v1.99h-1.96zM565.98 215.13h1.39v1.41h-1.39zM612.61 214.82h1.94v1.47h-1.94zM557.01 217.03h1.42v1.75h-1.42zM567.41 214.25h1.69v1.57h-1.69zM545.44 216.62h1.58v1.69h-1.58zM591.41 216.23h1.65v1.42h-1.65zM553.9 215.39h1.93v1.64h-1.93zM565.17 214.98h1.41v1.45h-1.41zM546.26 216.21h1.58v1.46h-1.58zM593.37 215.61h1.91v1.77h-1.91zM622.98 214.16h1.97v1.97h-1.97zM565.4 213.82h1.42v1.65h-1.42zM617.03 216.03h1.44v1.52h-1.44zM553.29 216.92h1.48v1.81h-1.48zM613.48 215.03h1.46v1.65h-1.46zM585.48 216.21h1.4v1.62h-1.4zM609.3 214.68h1.94v1.65h-1.94zM613.73 216.42h1.89v1.35h-1.89zM585.9 216.58h1.56v1.33h-1.56zM571.17 215.51h1.72v1.47h-1.72zM588.44 215.57h1.65v1.66h-1.65zM621.65 213.52h1.78v1.48h-1.78zM556.71 214.3h1.92v1.6h-1.92zM601.92 215.28h1.81v1.87h-1.81zM623.72 214.94h1.55v1.86h-1.55zM584.93 216.09h1.74v1.35h-1.74zM596.91 216.17h1.58v1.55h-1.58zM548.96 217.03h1.6v1.79h-1.6zM575.3 216.14h1.93v1.75h-1.93zM613.16 215.92h1.56v1.43h-1.56zM578.33 216.53h1.45v1.63h-1.45zM616.87 216.1h1.87v1.38h-1.87zM615.28 213.62h1.4v1.78h-1.4zM574.66 216.71h1.78v1.69h-1.78zM569.32 216.14h1.66v1.43h-1.66zM557.09 215.19h1.59v1.39h-1.59zM597.32 214.9h1.54v1.54h-1.54zM563.73 215.22h1.4v1.98h-1.4z" fill="#0c0c0c"/>
<line x1="639.3" y1="73.15" x2="641.3" y2="73.15" stroke="#4a4a4a" stroke-width="0.8"/>
<line x1="639.3" y1="89.05" x2="641.3" y2="89.05" stroke="#4a4a4a" stroke-width="0.8"/>
<line x1="639.3" y1="104.95" x2="641.3" y2="104.95" stroke="#4a4a4a" stroke-width="0.8"/>
<line x1="639.3" y1="120.85" x2="641.3" y2="120.85" stroke="#4a4a4a" stroke-width="0.8"/>
<line x1="639.3" y1="136.75" x2="641.3" y2="136.75" stroke="#4a4a4a" stroke-width="0.8"/>
<line x1="639.3" y1="152.65" x2="641.3" y2="152.65" stroke="#4a4a4a" stroke-width="0.8"/>
<line x1="639.3" y1="168.55" x2="641.3" y2="168.55" stroke="#4a4a4a" stroke-width="0.8"/>
<line x1="639.3" y1="184.45" x2="641.3" y2="184.45" stroke="#4a4a4a" stroke-width="0.8"/>
<line x1="639.3" y1="200.35" x2="641.3" y2="200.35" stroke="#4a4a4a" stroke-width="0.8"/>
<line x1="639.3" y1="216.25" x2="641.3" y2="216.25" stroke="#4a4a4a" stroke-width="0.8"/>
<line x1="425.7" y1="29.8" x2="425.7" y2="36.7" stroke="#19aee9" stroke-width="1.5"/>
<polygon points="422.9,36.2 428.5,36.2 425.7,41.2" fill="#19aee9"/>
<line x1="432.94" y1="29.8" x2="432.94" y2="36.7" stroke="#19aee9" stroke-width="1.5"/>
<polygon points="430.14,36.2 435.74,36.2 432.94,41.2" fill="#19aee9"/>
<line x1="440.18" y1="29.8" x2="440.18" y2="36.7" stroke="#19aee9" stroke-width="1.5"/>
<polygon points="437.38,36.2 442.98,36.2 440.18,41.2" fill="#19aee9"/>
<line x1="447.42" y1="29.8" x2="447.42" y2="36.7" stroke="#19aee9" stroke-width="1.5"/>
<polygon points="444.62,36.2 450.22,36.2 447.42,41.2" fill="#19aee9"/>
<line x1="454.66" y1="29.8" x2="454.66" y2="36.7" stroke="#19aee9" stroke-width="1.5"/>
<polygon points="451.86,36.2 457.46,36.2 454.66,41.2" fill="#19aee9"/>
<line x1="461.9" y1="29.8" x2="461.9" y2="36.7" stroke="#19aee9" stroke-width="1.5"/>
<polygon points="459.1,36.2 464.7,36.2 461.9,41.2" fill="#19aee9"/>
<line x1="469.14" y1="29.8" x2="469.14" y2="36.7" stroke="#19aee9" stroke-width="1.5"/>
<polygon points="466.34,36.2 471.94,36.2 469.14,41.2" fill="#19aee9"/>
<line x1="476.38" y1="29.8" x2="476.38" y2="36.7" stroke="#19aee9" stroke-width="1.5"/>
<polygon points="473.58,36.2 479.18,36.2 476.38,41.2" fill="#19aee9"/>
<line x1="483.62" y1="29.8" x2="483.62" y2="36.7" stroke="#19aee9" stroke-width="1.5"/>
<polygon points="480.82,36.2 486.42,36.2 483.62,41.2" fill="#19aee9"/>
<line x1="490.86" y1="29.8" x2="490.86" y2="36.7" stroke="#19aee9" stroke-width="1.5"/>
<polygon points="488.06,36.2 493.66,36.2 490.86,41.2" fill="#19aee9"/>
<text x="423.5" y="23.1" font-size="10.8" fill="#2080d0" text-anchor="start">Laser stimulation</text>
<text x="548.7" y="23.1" font-size="10.8" fill="#ee1c24" text-anchor="start">No stimulation</text>
<text x="414.3" y="76.15" font-size="8.4" fill="#555" text-anchor="end">32</text>
<text x="414.3" y="92.05" font-size="8.4" fill="#555" text-anchor="end">34</text>
<text x="414.3" y="107.95" font-size="8.4" fill="#555" text-anchor="end">36</text>
<text x="414.3" y="123.85" font-size="8.4" fill="#555" text-anchor="end">38</text>
<text x="414.3" y="139.75" font-size="8.4" fill="#555" text-anchor="end">40</text>
<text x="414.3" y="155.65" font-size="8.4" fill="#555" text-anchor="end">42</text>
<text x="414.3" y="171.55" font-size="8.4" fill="#555" text-anchor="end">44</text>
<text x="414.3" y="187.45" font-size="8.4" fill="#555" text-anchor="end">46</text>
<text x="414.3" y="203.35" font-size="8.4" fill="#555" text-anchor="end">48</text>
<text x="414.3" y="219.25" font-size="8.4" fill="#555" text-anchor="end">50</text>
<text x="420.1" y="230.4" font-size="8.4" fill="#555" text-anchor="middle">0</text>
<text x="543.6" y="230.4" font-size="8.4" fill="#555" text-anchor="middle">0</text>
<text x="448.9" y="230.4" font-size="8.4" fill="#555" text-anchor="middle">100</text>
<text x="572.4" y="230.4" font-size="8.4" fill="#555" text-anchor="middle">100</text>
<text x="473.6" y="230.4" font-size="8.4" fill="#555" text-anchor="middle">200</text>
<text x="597.1" y="230.4" font-size="8.4" fill="#555" text-anchor="middle">200</text>
<text x="499.3" y="230.4" font-size="8.4" fill="#555" text-anchor="middle">300</text>
<text x="622.8" y="230.4" font-size="8.4" fill="#555" text-anchor="middle">300</text>
<rect x="417" y="248.3" width="100.6" height="72.8" fill="none" stroke="#4a4a4a" stroke-width="1"/>
<line x1="417" y1="267" x2="419" y2="267" stroke="#4a4a4a" stroke-width="0.8"/>
<line x1="515.6" y1="267" x2="517.6" y2="267" stroke="#4a4a4a" stroke-width="0.8"/>
<line x1="417" y1="285.35" x2="419" y2="285.35" stroke="#4a4a4a" stroke-width="0.8"/>
<line x1="515.6" y1="285.35" x2="517.6" y2="285.35" stroke="#4a4a4a" stroke-width="0.8"/>
<line x1="417" y1="303.7" x2="419" y2="303.7" stroke="#4a4a4a" stroke-width="0.8"/>
<line x1="515.6" y1="303.7" x2="517.6" y2="303.7" stroke="#4a4a4a" stroke-width="0.8"/>
<line x1="420.6" y1="248.3" x2="420.6" y2="250.3" stroke="#4a4a4a" stroke-width="0.8"/>
<line x1="420.6" y1="321.1" x2="420.6" y2="319.1" stroke="#4a4a4a" stroke-width="0.8"/>
<line x1="446.8" y1="248.3" x2="446.8" y2="250.3" stroke="#4a4a4a" stroke-width="0.8"/>
<line x1="446.8" y1="321.1" x2="446.8" y2="319.1" stroke="#4a4a4a" stroke-width="0.8"/>
<line x1="473" y1="248.3" x2="473" y2="250.3" stroke="#4a4a4a" stroke-width="0.8"/>
<line x1="473" y1="321.1" x2="473" y2="319.1" stroke="#4a4a4a" stroke-width="0.8"/>
<line x1="499.2" y1="248.3" x2="499.2" y2="250.3" stroke="#4a4a4a" stroke-width="0.8"/>
<line x1="499.2" y1="321.1" x2="499.2" y2="319.1" stroke="#4a4a4a" stroke-width="0.8"/>
<rect x="540.6" y="248.3" width="100.6" height="72.8" fill="none" stroke="#4a4a4a" stroke-width="1"/>
<line x1="540.6" y1="273.5" x2="542.6" y2="273.5" stroke="#4a4a4a" stroke-width="0.8"/>
<line x1="639.2" y1="273.5" x2="641.2" y2="273.5" stroke="#4a4a4a" stroke-width="0.8"/>
<line x1="540.6" y1="298.1" x2="542.6" y2="298.1" stroke="#4a4a4a" stroke-width="0.8"/>
<line x1="639.2" y1="298.1" x2="641.2" y2="298.1" stroke="#4a4a4a" stroke-width="0.8"/>
<line x1="544.2" y1="248.3" x2="544.2" y2="250.3" stroke="#4a4a4a" stroke-width="0.8"/>
<line x1="544.2" y1="321.1" x2="544.2" y2="319.1" stroke="#4a4a4a" stroke-width="0.8"/>
<line x1="570.4" y1="248.3" x2="570.4" y2="250.3" stroke="#4a4a4a" stroke-width="0.8"/>
<line x1="570.4" y1="321.1" x2="570.4" y2="319.1" stroke="#4a4a4a" stroke-width="0.8"/>
<line x1="596.6" y1="248.3" x2="596.6" y2="250.3" stroke="#4a4a4a" stroke-width="0.8"/>
<line x1="596.6" y1="321.1" x2="596.6" y2="319.1" stroke="#4a4a4a" stroke-width="0.8"/>
<line x1="622.8" y1="248.3" x2="622.8" y2="250.3" stroke="#4a4a4a" stroke-width="0.8"/>
<line x1="622.8" y1="321.1" x2="622.8" y2="319.1" stroke="#4a4a4a" stroke-width="0.8"/>
<rect x="423.3" y="247.7" width="4.75" height="74" fill="#cbcbf8"/>
<rect x="430.54" y="247.7" width="4.75" height="74" fill="#cbcbf8"/>
<rect x="437.78" y="247.7" width="4.75" height="74" fill="#cbcbf8"/>
<rect x="445.02" y="247.7" width="4.75" height="74" fill="#cbcbf8"/>
<rect x="452.26" y="247.7" width="4.75" height="74" fill="#cbcbf8"/>
<rect x="459.5" y="247.7" width="4.75" height="74" fill="#cbcbf8"/>
<rect x="466.74" y="247.7" width="4.75" height="74" fill="#cbcbf8"/>
<rect x="473.98" y="247.7" width="4.75" height="74" fill="#cbcbf8"/>
<rect x="481.22" y="247.7" width="4.75" height="74" fill="#cbcbf8"/>
<rect x="488.46" y="247.7" width="4.75" height="74" fill="#cbcbf8"/>
<rect x="547" y="247.7" width="4.75" height="74" fill="#cbcbf8"/>
<rect x="554.24" y="247.7" width="4.75" height="74" fill="#cbcbf8"/>
<rect x="561.48" y="247.7" width="4.75" height="74" fill="#cbcbf8"/>
<rect x="568.72" y="247.7" width="4.75" height="74" fill="#cbcbf8"/>
<rect x="575.96" y="247.7" width="4.75" height="74" fill="#cbcbf8"/>
<rect x="583.2" y="247.7" width="4.75" height="74" fill="#cbcbf8"/>
<rect x="590.44" y="247.7" width="4.75" height="74" fill="#cbcbf8"/>
<rect x="597.68" y="247.7" width="4.75" height="74" fill="#cbcbf8"/>
<rect x="604.92" y="247.7" width="4.75" height="74" fill="#cbcbf8"/>
<rect x="612.16" y="247.7" width="4.75" height="74" fill="#cbcbf8"/>
<text x="420.1" y="334.2" font-size="8.4" fill="#555" text-anchor="middle">0</text>
<text x="543.6" y="334.2" font-size="8.4" fill="#555" text-anchor="middle">0</text>
<text x="448.9" y="334.2" font-size="8.4" fill="#555" text-anchor="middle">100</text>
<text x="572.4" y="334.2" font-size="8.4" fill="#555" text-anchor="middle">100</text>
<text x="473.6" y="334.2" font-size="8.4" fill="#555" text-anchor="middle">200</text>
<text x="597.1" y="334.2" font-size="8.4" fill="#555" text-anchor="middle">200</text>
<text x="499.3" y="334.2" font-size="8.4" fill="#555" text-anchor="middle">300</text>
<text x="622.8" y="334.2" font-size="8.4" fill="#555" text-anchor="middle">300</text>
<text x="414.3" y="270" font-size="8.4" fill="#555" text-anchor="end">0.4</text>
<text x="414.3" y="288.35" font-size="8.4" fill="#555" text-anchor="end">0.2</text>
<text x="414.3" y="306.7" font-size="8.4" fill="#555" text-anchor="end">0</text>
<text x="414.3" y="325.05" font-size="8.4" fill="#555" text-anchor="end">-0.2</text>
<text x="538.3" y="251.9" font-size="8.4" fill="#555" text-anchor="end">0.4</text>
<text x="538.3" y="276.5" font-size="8.4" fill="#555" text-anchor="end">0.2</text>
<text x="538.3" y="301.1" font-size="8.4" fill="#555" text-anchor="end">0</text>
<text x="538.3" y="325.7" font-size="8.4" fill="#555" text-anchor="end">-0.2</text>
<text x="458.1" y="348.2" font-size="10.8" fill="#111" text-anchor="middle">Time (ms)</text>
<text x="594.4" y="348.2" font-size="10.8" fill="#111" text-anchor="middle">Time (ms)</text>
<text x="193.3" y="9.4" font-size="13.2" fill="#cc1020" text-anchor="middle">Early trials</text>
<text x="529.5" y="9.4" font-size="13.2" fill="#2080d0" text-anchor="middle">Late trials</text>
<text x="58.3" y="123" font-size="10.8" fill="#111" text-anchor="middle" transform="rotate(-90 58.3 123)">Trial number</text>
<text x="58.4" y="283" font-size="11.3" fill="#111" text-anchor="middle" transform="rotate(-90 58.4 283)">Firing rate (z-scored)</text>
<polyline points="78.74,317.96 79.13,315.48 79.68,312 80.23,309.03 80.73,306.88 81.23,305.22 81.72,304.56 82.22,306.27 82.72,308.97 83.21,309.03 83.71,305.07 84.2,298.46 84.7,289.67 85.2,274.96 85.69,258.06 86.19,250.66 86.66,261.37 87.13,281.57 87.68,297.11 88.4,301.55 89.19,301.32 89.91,301.58 90.45,305.83 90.9,310.57 91.4,310.52 92,300.37 92.65,285.42 93.34,276.27 94.09,278.75 94.87,287.02 95.57,294.14 96.11,297.17 96.57,299.04 97.06,301.58 97.64,307.92 98.26,314.93 98.85,314.98 99.36,299.54 99.85,277.15 100.33,265.85 100.8,277.92 101.27,301.08 101.82,316.47 102.54,314.6 103.34,304.95 104.06,297.11 104.63,294.47 105.11,293.64 105.55,294.14 105.9,297.83 106.21,302.85 106.59,303.07 107.1,292.32 107.67,276.76 108.23,268.82 108.74,276.1 109.24,290.99 109.72,303.07 110.15,308.59 110.57,311.29 111.06,312 111.66,311.07 112.33,308.14 112.99,303.07 113.61,293.03 114.21,280.85 114.78,274.78 115.31,280.82 115.8,292.98 116.27,301.58 116.67,301.72 117.05,298.3 117.46,296.37 117.93,298.08 118.44,301.28 118.95,304.56 119.43,308.97 119.91,313.47 120.44,313.49 121.05,304.28 121.72,290.61 122.37,282.22 122.98,284.15 123.57,291.38 124.16,298.6 124.75,305.28 125.34,311.95 125.95,314.98 126.6,311.18 127.26,303.73 127.88,298.6 128.4,298.27 128.87,300.26 129.37,303.07 129.91,307.32 130.48,312.39 131.16,314.98 132.03,312.5 133,307.54 133.84,304.56 134.42,306.52 134.87,310.46 135.33,312 135.82,307.73 136.32,301.06 136.81,297.86 137.26,302.05 137.7,309.72 138.3,314.98 139.19,315.4 140.23,313.41 141.28,310.52 142.31,305.97 143.34,300.51 144.26,297.86 144.99,300.56 145.6,306.08 146.2,310.52 146.8,312.67 147.38,313.74 147.98,313.49 148.63,311.37 149.3,307.92 149.92,304.56 150.44,300.84 150.9,297.2 151.41,296.37 151.96,301.28 152.55,309 153.19,313.49 153.9,310.96 154.67,305.19 155.43,301.58 156.18,302.68 156.94,305.94 157.66,309.03 158.33,311.51 158.97,313.82 159.6,314.98 160.19,314.15 160.76,312.17 161.38,310.52 162.09,309.69 162.86,309.19 163.62,309.03 164.4,309.08 165.18,309.47 165.85,310.52 166.37,312.83 166.77,315.81 167.04,317.96" fill="none" stroke="#2e2e90" stroke-width="1.1" stroke-linejoin="round" stroke-linecap="round"/>
<polyline points="202.23,282.22 202.51,281.95 202.9,281.67 203.28,282.22 203.56,283.6 203.83,285.81 204.17,289.67 204.62,297.67 205.14,307.32 205.66,312 206.17,306.49 206.68,296.01 207.15,289.67 207.53,292.81 207.86,300.09 208.19,304.56 208.53,302.19 208.87,297 209.23,294.14 209.62,296.73 210.02,301.64 210.42,304.56 210.81,302.96 211.19,299.38 211.61,297.11 212.08,297.61 212.57,299.43 213.1,301.58 213.68,304.56 214.28,307.87 214.89,309.03 215.48,306.05 216.07,300.92 216.68,297.11 217.34,296.4 218.03,297 218.61,297.11 219.02,295.4 219.33,293.2 219.65,292.65 220.03,295.52 220.42,300.04 220.85,303.07 221.32,302.79 221.83,301.03 222.33,300.09 222.83,300.97 223.33,302.68 223.82,304.56 224.32,306.82 224.82,309.25 225.31,310.52 225.82,309.74 226.33,307.81 226.8,306.05 227.2,304.5 227.56,303.13 227.99,303.07 228.54,305.99 229.16,310.24 229.78,312 230.39,308.86 230.99,303.24 231.57,298.6 232.1,296.95 232.59,296.29 233.06,294.14 233.48,288.4 233.87,281.18 234.25,276.27 234.61,276.32 234.96,278.7 235.29,279.25 235.59,274.78 235.88,268.49 236.18,265.85 236.49,269.87 236.82,277.54 237.22,285.2 237.79,292.81 238.43,300.42 239.01,304.56 239.44,302.77 239.81,297.5 240.2,292.65 240.68,289.15 241.18,286.06 241.69,284.46 242.19,284.84 242.68,286.72 243.18,289.67 243.69,294.52 244.2,300.45 244.67,304.56 245.08,305.72 245.45,305.06 245.86,303.07 246.32,298.33 246.82,292.26 247.35,289.67 247.92,295.18 248.53,304.17 249.14,307.54 249.75,298.66 250.37,284.15 250.92,274.78 251.35,275.61 251.72,281.56 252.11,288.18 252.6,296.01 253.12,304.5 253.6,307.54 254,300.73 254.36,288.46 254.79,277.76 255.36,270.17 255.99,264.16 256.58,262.12 257.1,265.82 257.58,273.48 258.07,282.22 258.57,293.2 259.06,305.25 259.56,312 260.06,308.75 260.55,300.2 261.05,294.14 261.54,294.41 262.04,297.17 262.54,298.6 263.05,296.98 263.56,294.03 264.03,291.16 264.4,288.1 264.73,285.12 265.07,284.46 265.44,288.48 265.84,294.83 266.26,298.6 266.75,297.39 267.27,293.61 267.75,289.67 268.12,285.31 268.45,280.79 268.79,279.25 269.17,283.38 269.56,290.5 269.98,295.63 270.46,296.12 270.96,294.63 271.47,294.14 271.97,295.85 272.46,298.55 272.96,301.58 273.46,306.24 273.95,311.23 274.45,312 274.95,303.76 275.44,291.3 275.94,284.46 276.43,289.09 276.93,299.35 277.43,307.54 277.92,310.79 278.42,311.98 278.92,312 279.41,310.68 279.91,308.2 280.41,306.05 280.89,305.03 281.38,304.34 281.89,303.07 282.48,300.4 283.1,297.14 283.68,294.88 284.2,294.38 284.68,294.88 285.17,295.63 285.67,296.51 286.16,297.64 286.66,298.6 287.17,299.15 287.67,299.54 288.15,300.09 288.61,301.08 289.04,302.24 289.34,303.07" fill="none" stroke="#d8303f" stroke-width="1.1" stroke-linejoin="round" stroke-linecap="round"/>
<polyline points="417.19,313.49 417.46,310.1 417.85,305.47 418.23,302.33 418.59,301.94 418.94,303.04 419.28,304.56 419.56,306.99 419.83,309.83 420.17,310.52 420.64,306.32 421.17,299.98 421.66,297.11 422.02,303.57 422.34,313.49 422.7,314.98 423.18,298.44 423.71,273.46 424.19,256.91 424.58,257.41 424.91,266.34 425.23,274.78 425.55,280.18 425.85,285.09 426.13,288.18 426.33,287.63 426.51,285.26 426.72,285.2 426.99,290.61 427.29,298.33 427.61,303.07 427.95,301.25 428.3,296.45 428.66,294.14 429,298.11 429.34,304.56 429.7,307.54 430.08,303.29 430.49,295.57 430.89,289.67 431.29,287.85 431.69,287.85 432.08,288.18 432.42,289.23 432.75,290.61 433.12,289.67 433.6,283.55 434.13,275.11 434.61,270.31 434.99,271.75 435.31,276.82 435.65,283.71 436.03,294.25 436.42,306.6 436.85,313.49 437.33,310.46 437.85,301.97 438.33,294.14 438.76,288.4 439.15,283.33 439.53,280.74 439.88,282.11 440.23,285.97 440.57,289.67 440.91,291.93 441.25,294.03 441.61,297.11 442,303.29 442.4,310.46 442.8,313.49 443.2,308.47 443.61,299.32 443.99,292.65 444.35,292.54 444.68,294.91 445.04,294.14 445.43,285.48 445.83,273.68 446.23,267.33 446.6,271.36 446.95,280.85 447.27,289.67 447.53,296.34 447.75,302.35 448.01,306.05 448.32,305.83 448.66,303.29 449.06,301.58 449.53,301.91 450.05,303.07 450.54,304.56 450.94,307.48 451.31,310.74 451.74,310.52 452.31,302.24 452.95,290.5 453.52,285.2 453.94,294.14 454.29,309.52 454.71,317.96 455.29,310.57 455.93,296.23 456.5,288.18 456.94,294.14 457.32,306.38 457.69,314.98 458.08,315.78 458.46,312.94 458.88,309.03 459.38,303.7 459.92,297.31 460.37,293.39 460.66,293.89 460.87,296.87 461.12,300.09 461.44,303.54 461.79,307.23 462.16,309.03 462.55,306.9 462.96,302.88 463.35,300.84 463.69,303.04 464.02,307.23 464.39,310.52 464.84,312.17 465.33,312.91 465.88,312 466.53,307.7 467.22,301.75 467.82,298.6 468.23,301.2 468.54,306.6 468.86,310.52 469.2,310.79 469.54,309.58 469.9,309.03 470.29,310.35 470.69,312.34 471.09,313.49 471.48,312.78 471.86,311.23 472.28,310.52 472.77,311.78 473.3,313.88 473.77,314.98 474.14,313.77 474.45,311.56 474.81,310.52 475.29,312.39 475.82,315.42 476.3,316.47 476.69,312.94 477.03,307.43 477.35,304.56 477.65,307.76 477.94,313.6 478.24,316.47 478.57,312.34 478.92,305.22 479.28,301.58 479.67,305.44 480.08,312.78 480.47,317.96 480.83,318.79 481.17,317.46 481.52,314.98 481.86,310.18 482.2,304.23 482.56,301.58 482.95,305.83 483.36,313.38 483.75,317.96 484.1,315.7 484.44,310.46 484.79,307.54 485.18,309.96 485.58,314.71 485.98,317.96 486.38,318.24 486.79,317.02 487.17,314.98 487.5,312.22 487.81,308.64 488.22,304.56 488.83,299.04 489.54,293.03 490.15,289.67 490.55,290.72 490.85,294.41 491.19,298.6 491.67,303.68 492.2,309.25 492.68,312 493.06,309.47 493.38,304.12 493.72,300.09 494.11,298.71 494.51,298.66 494.92,300.09 495.3,304.64 495.69,310.68 496.11,313.49 496.6,309.16 497.12,301.61 497.6,297.86 497.98,302.38 498.31,310.71 498.64,316.47 498.97,316.36 499.3,313.69 499.68,312 500.16,313.16 500.68,315.31 501.17,316.47 501.58,315.31 501.95,313.16 502.36,312 502.85,312.89 503.38,314.76 503.85,316.47 504.27,317.68 504.64,318.73 504.89,319.45" fill="none" stroke="#2e2e90" stroke-width="1.1" stroke-linejoin="round" stroke-linecap="round"/>
<polyline points="540.74,296.37 541.01,297.25 541.39,298.38 541.79,298.6 542.17,297 542.58,294.49 542.98,292.65 543.38,291.82 543.78,291.65 544.17,292.65 544.53,295.46 544.87,299.43 545.21,303.07 545.56,306.65 545.92,309.91 546.25,310.52 546.56,306.68 546.84,300.2 547.15,294.14 547.48,288.54 547.84,283.36 548.19,281.48 548.53,285.84 548.87,293.5 549.23,298.6 549.62,297.94 550.02,294.72 550.42,292.65 550.83,293.03 551.23,294.58 551.61,297.11 551.96,301.31 552.28,306.49 552.66,310.52 553.12,313.11 553.63,314.54 554.15,313.49 554.66,308.59 555.17,301.2 555.63,294.14 556.01,287.24 556.33,280.68 556.68,277.76 557.06,280.96 557.47,287.79 557.87,294.14 558.27,299.32 558.67,304.01 559.06,306.05 559.42,303.18 559.76,297.67 560.1,294.14 560.44,295.96 560.79,299.76 561.14,300.09 561.54,293.09 561.95,282.61 562.33,274.78 562.65,271.75 562.94,271.36 563.23,273.29 563.51,278.36 563.8,285.75 564.12,292.65 564.5,298.99 564.9,304.83 565.31,307.54 565.72,304.28 566.12,297.89 566.5,294.14 566.83,297.45 567.14,303.4 567.55,304.56 568.16,294.96 568.87,280.57 569.48,271.8 569.9,273.95 570.21,281.73 570.52,289.67 570.87,296.89 571.21,304.28 571.57,309.03 571.95,308.92 572.36,306.16 572.76,304.56 573.15,306.32 573.55,309.25 573.95,310.52 574.36,308.7 574.76,305.22 575.14,301.58 575.45,297.28 575.72,292.81 576.03,291.16 576.41,295.07 576.82,301.8 577.22,306.05 577.63,305.66 578.03,302.79 578.42,298.6 578.79,292.43 579.14,284.93 579.46,279.25 579.71,276.21 579.93,275 580.2,276.27 580.57,282.06 580.99,290.33 581.39,295.63 581.75,294.52 582.09,290.44 582.44,288.18 582.78,290.61 583.12,294.85 583.48,297.11 583.88,295.4 584.29,291.71 584.67,288.18 584.98,285.7 585.27,283.38 585.56,280.74 585.9,276.38 586.25,271.69 586.61,270.31 586.95,275.86 587.29,284.71 587.65,289.67 588.04,285.89 588.45,278.23 588.84,274.04 589.2,277.18 589.54,283.8 589.88,289.67 590.22,293.75 590.56,297.09 590.92,298.6 591.31,296.56 591.71,292.7 592.11,291.16 592.52,294.25 592.92,299.65 593.31,304.56 593.66,308.81 594.01,312.56 594.35,313.49 594.7,309.47 595.05,302.63 595.39,297.11 595.69,293.92 595.98,292.04 596.28,292.65 596.62,297.94 596.97,305.72 597.33,310.52 597.67,309.08 598.01,304.67 598.37,301.58 598.75,301.91 599.16,303.57 599.56,304.56 599.95,303.84 600.33,302.46 600.75,301.58 601.22,302.13 601.73,303.18 602.24,303.07 602.75,300.15 603.25,296.07 603.73,294.14 604.16,296.4 604.56,300.81 604.92,304.56 605.23,307.04 605.5,308.86 605.81,309.03 606.19,306.54 606.6,302.41 607,298.6 607.41,294.96 607.81,291.65 608.2,291.16 608.55,296.51 608.9,304.67 609.24,309.03 609.59,305.99 609.94,299.15 610.28,292.65 610.58,287.24 610.87,282.17 611.17,279.25 611.52,280.29 611.88,283.49 612.22,285.2 612.47,282.94 612.7,279.19 612.96,277.76 613.29,280.68 613.65,285.92 614,291.16 614.31,296.51 614.59,301.86 614.9,304.56 615.23,302.38 615.57,297.56 615.94,294.14 616.33,293.78 616.74,294.83 617.13,296.37 617.47,299.62 617.8,303.37 618.17,303.07 618.65,294.47 619.18,281.81 619.66,273.29 620.04,272.41 620.36,275.66 620.7,280.74 621.09,288.02 621.49,297.11 621.89,304.56 622.28,309.69 622.67,313.16 623.09,313.49 623.56,309.14 624.07,301.64 624.57,294.14 625.08,286.36 625.59,278.58 626.06,274.78 626.48,277.7 626.86,284.6 627.25,291.16 627.71,296.29 628.19,301.08 628.59,304.56 628.91,305.99 629.17,306.1 629.34,306.05" fill="none" stroke="#d8303f" stroke-width="1.1" stroke-linejoin="round" stroke-linecap="round"/>
<rect x="207.5" y="248.3" width="28.7" height="72.8" fill="none" stroke="#c47896" stroke-width="0.7"/>
<rect x="545.7" y="248.3" width="28.8" height="72.8" fill="none" stroke="#40c4e8" stroke-width="0.9"/>
<rect x="253.4" y="253" width="2.4" height="2.4" fill="none" stroke="#d0304a" stroke-width="0.8"/>
<rect x="267.6" y="253" width="2.4" height="2.4" fill="none" stroke="#d0304a" stroke-width="0.8"/>
<rect x="548.2" y="253" width="2.4" height="2.4" fill="none" stroke="#c03050" stroke-width="0.8"/>
<rect x="555.3" y="253" width="2.4" height="2.4" fill="none" stroke="#c03050" stroke-width="0.8"/>
<rect x="562.3" y="253" width="2.4" height="2.4" fill="none" stroke="#c03050" stroke-width="0.8"/>
<rect x="569.8" y="253" width="2.4" height="2.4" fill="none" stroke="#c03050" stroke-width="0.8"/>
<rect x="577.1" y="253" width="2.4" height="2.4" fill="none" stroke="#c03050" stroke-width="0.8"/>
<rect x="584.2" y="253" width="2.4" height="2.4" fill="none" stroke="#c03050" stroke-width="0.8"/>
<line x1="203" y1="321.6" x2="131.5" y2="357.8" stroke="#8a8a8a" stroke-width="0.7" stroke-dasharray="2 0.8"/>
<line x1="236.2" y1="321.6" x2="222.9" y2="357.8" stroke="#8a8a8a" stroke-width="0.7" stroke-dasharray="2 0.8"/>
<line x1="541" y1="321.5" x2="475" y2="355.3" stroke="#8a8a8a" stroke-width="0.7" stroke-dasharray="2 0.8"/>
<line x1="574.3" y1="321.5" x2="565" y2="355.3" stroke="#8a8a8a" stroke-width="0.7" stroke-dasharray="2 0.8"/>
<rect x="129.2" y="358.3" width="94.6" height="68.6" fill="none" stroke="#4a4a4a" stroke-width="1"/>
<rect x="136.3" y="357.7" width="15.5" height="69.8" fill="#cbcbf8"/>
<rect x="159.3" y="357.7" width="15.3" height="69.8" fill="#cbcbf8"/>
<rect x="181.8" y="357.7" width="15.4" height="69.8" fill="#cbcbf8"/>
<rect x="204.4" y="357.7" width="15.3" height="69.8" fill="#cbcbf8"/>
<polyline points="129.21,411.39 129.47,408.27 129.84,403.9 130.26,400.11 130.73,397.58 131.25,395.63 131.77,394.1 132.27,392.87 132.77,392.06 133.27,391.84 133.77,392.26 134.27,393.26 134.77,394.85 135.28,397.16 135.78,400.06 136.28,403.12 136.78,406.99 137.28,411.03 137.78,412.89 138.28,410.92 138.78,406.77 139.29,403.12 139.79,400.75 140.29,398.89 140.79,397.86 141.29,397.8 141.79,398.58 142.29,400.11 142.79,402.85 143.3,406.35 143.8,409.14 144.3,410.82 144.8,411.8 145.3,411.84 145.8,410.52 146.3,408.26 146.8,406.13 147.31,404.31 147.81,402.63 148.31,401.62 148.81,401.53 149.31,402.12 149.81,403.12 150.31,404.68 150.81,406.66 151.32,408.38 151.82,409.64 152.32,410.64 152.82,411.39 153.32,411.73 153.82,411.81 154.32,412.14 154.84,413.06 155.36,414.23 155.83,415.15 156.19,415.82 156.51,416.24 156.88,415.9 157.35,414.45 157.87,412.25 158.38,409.89 158.9,407.27 159.41,404.48 159.89,402.37 160.29,401.34 160.66,400.98 161.09,400.86 161.64,401.03 162.26,401.45 162.89,401.62 163.55,401.17 164.23,400.47 164.85,400.11 165.38,400.2 165.87,400.61 166.35,401.62 166.84,404.04 167.32,407.05 167.86,408.38 168.48,406.63 169.15,403.2 169.81,400.11 170.45,397.8 171.07,395.82 171.62,394.85 172.07,395.35 172.45,396.85 172.82,398.61 173.16,400.53 173.49,402.7 173.87,404.62 174.34,406.29 174.86,407.72 175.38,408.38 175.88,407.83 176.38,406.52 176.88,405.38 177.38,404.6 177.88,403.98 178.38,403.87 178.88,404.54 179.39,405.71 179.89,406.88 180.39,408.05 180.89,409.22 181.39,409.89 181.89,409.55 182.39,408.72 182.89,408.38 183.4,409.02 183.9,410.17 184.4,411.39 184.88,412.59 185.37,413.87 185.9,415.15 186.53,416.54 187.2,417.94 187.86,418.91 188.48,419.33 189.09,419.33 189.66,418.91 190.19,417.88 190.68,416.43 191.17,415.15 191.66,414.34 192.15,413.7 192.67,412.89 193.24,411.67 193.85,410.28 194.47,409.14 195.13,408.38 195.8,407.88 196.43,407.63 196.96,407.6 197.45,407.83 197.93,408.38 198.43,409.39 198.93,410.72 199.44,412.14 199.94,413.67 200.44,415.29 200.94,416.65 201.44,417.71 201.94,418.52 202.44,418.91 202.94,418.99 203.45,418.66 203.95,417.41 204.45,414.57 204.95,410.81 205.45,407.63 205.95,405.63 206.45,404.21 206.95,403.12 207.46,402.4 207.96,402.01 208.46,401.62 208.96,401.2 209.46,400.78 209.96,400.11 210.46,398.94 210.96,397.52 211.47,396.35 211.97,395.43 212.47,394.77 212.97,394.85 213.47,396.85 213.97,399.61 214.47,400.11 214.99,396.41 215.51,390.45 215.98,385.08 216.36,380.95 216.68,377.42 217.03,375.3 217.42,375.3 217.83,376.72 218.23,378.31 218.63,380.17 219.02,382.21 219.44,382.82 219.88,380.93 220.34,377.61 220.79,374.55 221.21,372.38 221.61,370.46 221.99,368.53 222.37,366.45 222.72,364.36 223.05,362.52 223.35,360.96 223.61,359.65 223.8,358.76" fill="none" stroke="#d8303f" stroke-width="1" stroke-linejoin="round" stroke-linecap="round"/>
<rect x="472.5" y="355.8" width="95" height="68.4" fill="none" stroke="#4a4a4a" stroke-width="1"/>
<rect x="478.2" y="355.2" width="16.1" height="69.6" fill="#cbcbf8"/>
<rect x="501.8" y="355.2" width="15.8" height="69.6" fill="#cbcbf8"/>
<rect x="525.1" y="355.2" width="15.8" height="69.6" fill="#cbcbf8"/>
<rect x="548.5" y="355.2" width="15.7" height="69.6" fill="#cbcbf8"/>
<polyline points="472.51,406.14 472.9,406.16 473.46,406.27 474.02,406.89 474.51,408.34 475,410.28 475.52,412.15 476.12,414.32 476.76,416.41 477.32,416.66 477.76,413.99 478.13,409.48 478.53,404.63 479.01,399.62 479.52,394.27 480.03,389.59 480.55,385.89 481.07,382.85 481.53,380.57 481.91,379.1 482.24,378.37 482.59,378.32 482.97,378.82 483.36,379.99 483.79,382.08 484.27,385.64 484.78,390.12 485.29,394.11 485.81,397.11 486.33,399.62 486.8,401.62 487.18,403.35 487.5,404.58 487.85,404.63 488.23,402.82 488.62,399.84 489.05,397.11 489.53,394.97 490.04,393.07 490.56,391.85 491.06,391.6 491.56,392.02 492.06,392.6 492.56,393.24 493.06,394.05 493.56,394.86 494.07,395.36 494.57,395.86 495.07,397.11 495.57,399.62 496.07,402.88 496.57,406.14 497.1,409.39 497.63,412.65 498.08,415.16 498.33,416.49 498.49,417.08 498.83,417.41 499.44,417.58 500.22,417.5 501.08,417.41 502.09,417.72 503.17,418.03 504.09,417.41 504.7,415.52 505.15,412.71 505.59,409.14 506.1,404.58 506.6,399.26 507.1,394.11 507.6,389.26 508.1,384.58 508.6,380.57 509.1,377.17 509.6,374.45 510.11,373.05 510.61,373.39 511.11,375.06 511.61,377.56 512.11,380.74 512.61,384.75 513.11,389.59 513.63,396 514.14,403.24 514.62,409.14 515.05,412.87 515.44,415.27 515.82,416.66 516.16,417 516.49,416.33 516.87,415.16 517.34,413.77 517.86,411.87 518.38,409.14 518.88,404.97 519.38,399.95 519.88,395.61 520.38,392.21 520.88,389.48 521.38,388.09 521.88,388.54 522.39,390.32 522.89,392.6 523.42,395.5 523.95,398.9 524.39,401.62 524.67,403.74 524.86,405.19 525.14,404.63 525.59,400.96 526.12,395.27 526.65,389.59 527.15,384.26 527.65,378.92 528.15,374.56 528.65,371.45 529.15,369.31 529.65,368.24 530.16,368.2 530.66,369.22 531.16,371.55 531.67,375.58 532.18,380.92 532.66,386.59 533.09,392.6 533.49,398.95 533.86,404.63 534.23,409.64 534.57,413.99 534.92,416.66 535.26,417.11 535.61,415.88 535.97,413.65 536.36,410.12 536.77,405.58 537.17,401.62 537.56,398.7 537.95,396.36 538.38,394.86 538.85,394.3 539.37,394.58 539.88,395.61 540.4,397.73 540.92,400.59 541.38,403.13 541.75,405.05 542.07,406.64 542.44,407.64 542.9,407.75 543.42,407.28 543.94,406.89 544.44,407.19 544.94,407.58 545.44,406.89 545.94,404.55 546.45,401.12 546.95,397.11 547.45,392.43 547.95,387.17 548.45,382.08 548.96,377.03 549.48,372.16 549.95,368.54 550.37,366.62 550.76,365.95 551.16,366.29 551.6,367.51 552.07,369.74 552.51,373.05 552.91,377.84 553.3,383.72 553.71,389.59 554.19,395.44 554.71,401.29 555.22,406.14 555.72,409.67 556.22,412.21 556.72,413.65 557.21,413.63 557.7,412.51 558.23,411.4 558.8,410.65 559.41,409.89 560.03,409.14 560.69,408.36 561.36,407.58 561.98,406.89 562.52,406.05 563,405.3 563.49,405.38 563.99,406.86 564.49,409.17 564.99,411.4 565.52,413.35 566.05,415.21 566.5,416.66 566.83,417.5 567.08,417.91 567.25,418.17" fill="none" stroke="#d8303f" stroke-width="1" stroke-linejoin="round" stroke-linecap="round"/>
<text x="9" y="469" font-size="24" fill="#000" text-anchor="start" font-weight="bold">c</text>
<line x1="65.7" y1="472.5" x2="65.7" y2="613.6" stroke="#000" stroke-width="1"/>
<line x1="65.2" y1="613.1" x2="332.4" y2="613.1" stroke="#000" stroke-width="1"/>
<line x1="65.7" y1="473.1" x2="69.7" y2="473.1" stroke="#000" stroke-width="1"/>
<text x="54.8" y="477.4" font-size="12" fill="#000" text-anchor="end">0.4</text>
<line x1="65.7" y1="501.1" x2="69.7" y2="501.1" stroke="#000" stroke-width="1"/>
<text x="54.8" y="505.4" font-size="12" fill="#000" text-anchor="end">0.3</text>
<line x1="65.7" y1="529.1" x2="69.7" y2="529.1" stroke="#000" stroke-width="1"/>
<text x="54.8" y="533.4" font-size="12" fill="#000" text-anchor="end">0.2</text>
<line x1="65.7" y1="557.1" x2="69.7" y2="557.1" stroke="#000" stroke-width="1"/>
<text x="54.8" y="561.4" font-size="12" fill="#000" text-anchor="end">0.1</text>
<line x1="65.7" y1="585.1" x2="69.7" y2="585.1" stroke="#000" stroke-width="1"/>
<text x="54.8" y="589.4" font-size="12" fill="#000" text-anchor="end">0</text>
<line x1="154.4" y1="613.1" x2="154.4" y2="609.1" stroke="#000" stroke-width="1"/>
<line x1="243.3" y1="613.1" x2="243.3" y2="609.1" stroke="#000" stroke-width="1"/>
<line x1="332" y1="613.1" x2="332" y2="609.1" stroke="#000" stroke-width="1"/>
<text x="95.2" y="631.5" font-size="12" fill="#000" text-anchor="middle">0</text>
<text x="153.6" y="631.5" font-size="12" fill="#000" text-anchor="middle">100</text>
<text x="242.8" y="631.5" font-size="12" fill="#000" text-anchor="middle">250</text>
<text x="332" y="631.5" font-size="12" fill="#000" text-anchor="middle">400</text>
<text x="195.4" y="647.3" font-size="13.4" fill="#000" text-anchor="middle">Time (ms)</text>
<text x="28" y="539.5" font-size="13.3" fill="#000" text-anchor="middle" transform="rotate(-90 28 539.5)">Firing rate (z-scored)</text>
<text x="246.5" y="488.9" font-size="12.2" fill="#4472c4" text-anchor="start">Laser</text>
<text x="246.5" y="503.4" font-size="12.2" fill="#ff0000" text-anchor="start">Blank</text>
<text x="246.5" y="517.6" font-size="12.2" fill="#ed7d31" text-anchor="start">Shuffled</text>
<polyline points="65.52,591.93 65.84,591.58 66.31,591.04 66.81,590.33 67.32,589.38 67.86,588.25 68.41,587.13 68.94,586.12 69.48,585.11 70.01,583.92 70.55,582.14 71.1,580.18 71.61,579.12 72.05,579.59 72.45,580.96 72.89,582.32 73.4,583.45 73.95,584.57 74.49,585.52 75.05,586.21 75.6,586.71 76.1,587.13 76.51,587.51 76.86,587.81 77.22,587.93 77.58,587.87 77.95,587.63 78.34,587.13 78.74,586 79.16,584.6 79.62,583.92 80.13,584.52 80.68,585.82 81.22,587.13 81.76,588.19 82.29,589.26 82.82,590.33 83.37,591.69 83.91,593.06 84.43,593.53 84.86,592.38 85.27,590.33 85.71,588.73 86.22,588.07 86.76,587.87 87.31,587.93 87.84,588.31 88.38,588.96 88.91,589.53 89.44,589.91 89.98,590.21 90.51,590.33 91.05,590.15 91.58,589.8 92.11,589.53 92.65,589.5 93.18,589.56 93.72,589.53 94.27,589.29 94.82,588.96 95.32,588.73 95.69,588.79 96.01,588.94 96.44,588.73 97.07,587.6 97.8,586.12 98.52,585.52 99.19,586.83 99.83,589.02 100.44,590.33 101,589.85 101.52,588.49 102.04,587.13 102.58,585.88 103.11,584.63 103.65,583.92 104.15,584.19 104.66,584.99 105.25,585.52 106.02,585.32 106.88,584.84 107.65,584.72 108.24,585.41 108.75,586.44 109.25,587.13 109.77,587.1 110.29,586.71 110.85,586.32 111.52,586.09 112.24,585.85 112.94,585.52 113.6,584.93 114.25,584.25 114.86,583.92 115.42,584.16 115.94,584.75 116.46,585.52 116.99,586.62 117.53,587.9 118.06,588.73 118.6,588.7 119.13,588.22 119.66,587.93 120.2,588.16 120.73,588.58 121.27,588.73 121.8,588.37 122.33,587.75 122.87,587.13 123.4,586.47 123.94,585.82 124.47,585.52 125,585.94 125.54,586.71 126.07,587.13 126.61,586.71 127.14,585.94 127.67,585.52 128.2,585.94 128.72,586.71 129.28,587.13 129.89,586.83 130.53,586.18 131.2,585.52 131.88,584.99 132.58,584.46 133.28,583.92 133.98,583.27 134.68,582.62 135.36,582.32 136.03,582.79 136.67,583.63 137.28,583.92 137.84,583.21 138.36,581.96 138.89,580.72 139.44,579.53 139.99,578.35 140.49,577.51 140.88,577.37 141.21,577.57 141.6,577.51 142.1,576.71 142.65,575.65 143.2,575.11 143.74,575.53 144.27,576.48 144.81,577.51 145.34,578.7 145.87,579.98 146.41,580.72 146.94,580.54 147.48,579.83 148.01,579.12 148.54,578.52 149.08,577.93 149.61,577.51 150.14,577.28 150.68,577.22 151.21,577.51 151.75,578.35 152.28,579.53 152.81,580.72 153.35,581.79 153.88,582.85 154.42,583.92 154.95,585.17 155.48,586.41 156.02,587.13 156.55,587.01 157.09,586.35 157.62,585.52 158.15,584.34 158.69,582.97 159.22,582.32 159.76,582.97 160.29,584.34 160.82,585.52 161.36,586.12 161.89,586.53 162.43,587.13 162.96,588.31 163.49,589.68 164.03,590.33 164.56,589.53 165.09,588.02 165.63,587.13 166.16,587.48 166.7,588.46 167.23,589.53 167.76,590.86 168.3,592.29 168.83,592.73 169.37,591.31 169.9,588.91 170.43,587.13 170.97,586.53 171.5,586.56 172.04,587.13 172.57,588.73 173.1,590.86 173.64,591.93 174.17,590.92 174.71,588.85 175.24,587.13 175.77,586.21 176.31,585.64 176.84,585.52 177.38,586.15 177.91,587.21 178.44,587.93 178.98,587.99 179.51,587.69 180.04,587.13 180.58,586.06 181.11,584.72 181.65,583.92 182.18,584.34 182.71,585.29 183.25,585.52 183.78,584.34 184.32,582.44 184.85,580.72 185.38,579.35 185.92,578.17 186.45,577.51 186.99,577.69 187.52,578.4 188.05,579.12 188.59,579.65 189.12,580.18 189.66,580.72 190.19,581.19 190.72,581.67 191.26,582.32 191.79,583.33 192.33,584.52 192.86,585.52 193.39,586.35 193.93,587.01 194.46,587.13 194.99,586.18 195.53,584.69 196.06,583.92 196.6,584.46 197.13,585.7 197.66,587.13 198.2,588.91 198.73,590.86 199.27,591.93 199.8,591.52 200.33,590.21 200.87,588.73 201.4,587.13 201.94,585.35 202.47,583.92 203,583.03 203.54,582.5 204.07,582.32 204.61,582.56 205.14,583.15 205.67,583.92 206.21,584.93 206.74,586.12 207.28,587.13 207.81,587.9 208.34,588.49 208.88,588.73 209.41,588.43 209.95,587.78 210.48,587.13 211.01,586.47 211.55,585.82 212.08,585.52 212.61,585.94 213.15,586.71 213.68,587.13 214.22,586.95 214.75,586.41 215.28,585.52 215.82,584.04 216.35,582.2 216.89,580.72 217.44,579.86 217.99,579.35 218.49,579.12 218.88,579.15 219.21,579.44 219.6,579.92 220.1,580.75 220.65,581.76 221.2,582.32 221.74,581.9 222.27,581.04 222.81,580.72 223.34,581.43 223.87,582.68 224.41,583.92 224.94,584.99 225.48,586.06 226.01,587.13 226.54,588.43 227.08,589.74 227.61,590.33 228.14,589.68 228.68,588.31 229.21,587.13 229.75,586.53 230.28,586.12 230.81,585.52 231.35,584.52 231.88,583.33 232.42,582.32 232.95,581.55 233.48,580.96 234.02,580.72 234.55,580.96 235.09,581.55 235.62,582.32 236.15,583.57 236.69,584.99 237.22,585.52 237.76,584.46 238.29,582.5 238.82,580.72 239.36,579.53 239.89,578.52 240.43,577.51 240.97,576.39 241.52,575.26 242.03,574.31 242.48,573.42 242.9,572.71 243.31,572.71 243.68,573.84 244.03,575.68 244.43,577.51 244.93,579.35 245.48,581.19 246.03,582.32 246.57,582.08 247.1,581.13 247.63,580.72 248.17,581.67 248.7,583.15 249.23,583.92 249.77,583.09 250.3,581.55 250.84,580.72 251.37,581.31 251.9,582.62 252.44,583.92 252.97,585.05 253.51,586.18 254.04,587.13 254.57,587.9 255.11,588.49 255.64,588.73 256.18,588.61 256.71,588.13 257.24,587.13 257.78,585.29 258.31,582.91 258.85,580.72 259.38,578.64 259.91,576.74 260.45,575.91 260.98,576.8 261.52,578.76 262.05,580.72 262.58,582.44 263.12,584.16 263.65,585.52 264.19,586.35 264.72,586.83 265.25,587.13 265.79,587.3 266.32,587.3 266.85,587.13 267.39,586.77 267.92,586.24 268.46,585.52 268.99,584.34 269.52,582.97 270.06,582.32 270.59,582.97 271.13,584.34 271.66,585.52 272.19,586.35 272.73,587.01 273.26,587.13 273.8,586.41 274.33,585.17 274.86,583.92 275.4,582.68 275.93,581.43 276.47,580.72 277,580.9 277.53,581.61 278.07,582.32 278.6,582.85 279.14,583.39 279.67,583.92 280.2,584.52 280.74,585.11 281.27,585.52 281.8,585.58 282.34,585.46 282.87,585.52 283.41,586.06 283.94,586.77 284.47,587.13 285.01,586.77 285.54,586.06 286.08,585.52 286.61,585.46 287.14,585.58 287.68,585.52 288.21,585.17 288.75,584.63 289.28,583.92 289.81,582.91 290.35,581.73 290.88,580.72 291.42,579.83 291.95,579.12 292.48,579.12 293.02,580.36 293.55,582.32 294.09,583.92 294.62,584.99 295.15,585.7 295.69,585.52 296.22,583.8 296.75,581.19 297.29,579.12 297.82,578.05 298.36,577.51 298.89,577.51 299.41,578.17 299.92,579.35 300.49,580.72 301.23,582.38 302.02,584.22 302.57,585.52" fill="none" stroke="#ed7d31" stroke-width="1.8" stroke-linejoin="round" stroke-linecap="round"/>
<polyline points="65.52,569.51 65.86,568.79 66.33,567.82 66.81,567.1 67.24,566.66 67.67,566.48 68.09,567.1 68.47,569 68.84,571.7 69.21,574.31 69.58,577.1 69.94,579.8 70.33,580.72 70.74,578.52 71.18,574.55 71.61,571.11 72.04,568.91 72.48,567.25 72.89,566.3 73.28,566.06 73.65,566.54 74.01,567.9 74.38,570.57 74.75,574.13 75.13,577.51 75.55,580.66 75.98,583.63 76.42,585.52 76.83,585.41 77.25,584.22 77.7,583.92 78.21,586 78.75,588.96 79.3,590.33 79.83,588.61 80.37,585.29 80.9,582.32 81.45,580.51 82,579.06 82.5,577.51 82.89,575.5 83.23,573.39 83.62,571.91 84.13,571.29 84.7,571.29 85.23,571.91 85.68,573.33 86.1,575.38 86.51,577.51 86.89,579.95 87.25,582.47 87.63,583.92 88.05,583.66 88.49,582.32 88.91,580.72 89.29,578.67 89.65,576.36 90.03,575.11 90.45,575.62 90.89,577.19 91.31,579.12 91.7,581.58 92.07,584.4 92.43,586.32 92.8,586.92 93.17,586.62 93.56,585.52 93.98,583.33 94.42,580.33 94.84,577.51 95.22,575.38 95.58,573.42 95.96,571.11 96.37,568.08 96.81,564.7 97.24,561.5 97.67,558.29 98.11,555.27 98.52,553.49 98.91,553.55 99.27,554.85 99.64,556.69 100.01,558.59 100.38,561.02 100.76,564.7 101.18,570.51 101.61,577.57 102.04,583.92 102.48,589.56 102.91,594.48 103.33,596.74 103.71,594.66 104.08,589.91 104.45,585.52 104.82,582.08 105.18,579 105.57,577.51 105.98,578.11 106.42,580.3 106.85,583.92 107.29,589.77 107.73,597.03 108.13,603.14 108.48,607.56 108.78,610.83 109.09,611.95 109.39,609.94 109.69,605.78 110.05,601.54 110.54,597.69 111.1,593.74 111.66,590.33 112.19,588.07 112.72,586.35 113.26,583.92 113.8,579.77 114.35,574.9 114.86,571.11 115.32,568.85 115.74,567.67 116.14,567.9 116.51,570.04 116.86,573.6 117.26,577.51 117.77,582.44 118.34,587.72 118.86,590.33 119.31,588.4 119.72,583.8 120.15,579.12 120.62,574.58 121.11,569.95 121.59,567.1 122.03,566.93 122.45,568.53 122.87,571.11 123.3,574.67 123.73,579.21 124.15,583.92 124.52,589.44 124.87,595.13 125.27,598.34 125.77,597.27 126.32,593.71 126.87,590.33 127.41,587.9 127.94,585.64 128.47,583.92 128.99,583.09 129.51,582.79 130.08,582.32 130.74,581.55 131.46,580.6 132.16,579.12 132.83,576.68 133.49,573.72 134.08,571.11 134.56,568.91 134.97,567.07 135.36,566.3 135.74,566.9 136.1,568.56 136.48,571.11 136.9,575.08 137.34,579.95 137.76,583.92 138.13,586.65 138.48,588.49 138.89,588.73 139.4,585.94 139.97,581.55 140.49,579.12 140.88,580.9 141.21,584.63 141.6,587.13 142.1,587.01 142.65,585.64 143.2,583.92 143.74,581.9 144.27,579.53 144.81,577.51 145.34,576.21 145.87,575.26 146.41,574.31 146.94,573.3 147.48,572.29 148.01,571.11 148.55,569.39 149.1,567.49 149.61,566.3 150.05,565.83 150.45,566.06 150.89,567.9 151.4,572.41 151.95,578.52 152.49,583.92 153.03,587.84 153.56,591.04 154.1,593.53 154.63,595.49 155.16,596.74 155.7,596.74 156.23,594.84 156.77,591.69 157.3,588.73 157.83,586.06 158.37,583.57 158.9,582.32 159.44,583.33 159.97,585.58 160.5,587.13 161.04,587.48 161.57,587.13 162.1,585.52 162.66,581.67 163.21,576.57 163.71,572.71 164.1,570.93 164.44,570.4 164.83,571.11 165.33,573.66 165.88,577.46 166.43,580.72 166.96,583.15 167.5,585.05 168.03,585.52 168.57,583.45 169.1,579.95 169.63,577.51 170.17,577.22 170.7,577.99 171.23,579.12 171.77,580.48 172.3,582.2 172.84,583.92 173.37,585.41 173.9,586.89 174.44,588.73 174.98,591.1 175.53,593.83 176.04,596.74 176.5,600.59 176.92,604.63 177.32,606.35 177.69,604.39 178.04,600.12 178.44,595.13 178.94,589.26 179.49,582.68 180.04,577.51 180.58,574.96 181.11,573.84 181.65,572.71 182.18,570.75 182.71,568.79 183.25,567.9 183.79,568.73 184.34,570.63 184.85,572.71 185.29,575.14 185.69,577.75 186.13,579.12 186.64,578.52 187.19,576.68 187.73,574.31 188.27,570.75 188.8,566.66 189.34,564.7 189.87,566.6 190.4,570.63 190.94,574.31 191.49,576.68 192.04,578.7 192.54,580.72 192.93,583.63 193.27,586.53 193.66,587.13 194.18,583.71 194.75,577.99 195.26,572.71 195.65,568.35 195.99,564.43 196.38,562.3 196.88,562.89 197.43,565.26 197.98,567.9 198.5,570.63 199.02,573.63 199.59,575.91 200.26,576.92 200.99,577.22 201.67,577.51 202.24,577.57 202.75,577.63 203.27,579.12 203.82,583.33 204.37,588.96 204.87,593.53 205.28,596.26 205.63,597.92 205.99,598.34 206.4,596.97 206.82,594.36 207.28,591.93 207.79,590.15 208.33,588.55 208.88,587.13 209.41,586.06 209.95,585.17 210.48,583.92 211.01,581.85 211.55,579.41 212.08,577.51 212.61,576.51 213.15,576.03 213.68,575.91 214.22,576.39 214.75,577.22 215.28,577.51 215.82,576.39 216.35,574.73 216.89,574.31 217.41,575.85 217.93,578.64 218.49,582.32 219.11,587.6 219.78,593.77 220.4,598.34 220.96,600.36 221.48,600.77 222,599.94 222.54,596.97 223.07,592.76 223.61,590.33 224.14,591.63 224.67,594.72 225.21,596.74 225.74,596.5 226.28,595.19 226.81,593.53 227.34,591.52 227.88,589.14 228.41,587.13 228.95,585.94 229.48,585.11 230.01,583.92 230.55,581.67 231.08,579.06 231.62,577.51 232.15,577.51 232.68,578.58 233.22,580.72 233.75,584.4 234.28,589.14 234.82,593.53 235.35,597.63 235.89,601.36 236.42,603.14 236.95,601.78 237.49,598.46 238.02,595.13 238.56,592.05 239.09,588.96 239.62,587.13 240.16,587.01 240.69,588.13 241.23,590.33 241.76,594.3 242.29,599.35 242.83,603.14 243.36,604.86 243.9,605.34 244.43,604.75 244.96,603.2 245.5,600.59 246.03,596.74 246.57,590.33 247.1,582.68 247.63,577.51 248.17,576.39 248.7,577.75 249.23,580.72 249.77,586 250.3,592.88 250.84,598.34 251.37,601.13 251.9,602.49 252.44,603.14 252.97,603.2 253.51,602.55 254.04,601.54 254.57,599.76 255.11,597.63 255.64,596.74 256.18,598.1 256.71,600.71 257.24,603.14 257.78,605.28 258.31,607.24 258.85,607.95 259.38,606.82 259.91,604.45 260.45,601.54 260.98,597.98 261.52,593.89 262.05,590.33 262.58,587.48 263.12,585.17 263.65,583.92 264.19,584.04 264.72,585.23 265.25,587.13 265.79,590.03 266.32,593.65 266.85,596.74 267.39,598.93 267.92,600.59 268.46,601.54 268.99,601.78 269.52,601.3 270.06,599.94 270.59,597.45 271.13,594.07 271.66,590.33 272.19,586.03 272.73,581.37 273.26,577.51 273.8,574.64 274.33,572.56 274.86,571.91 275.4,573.33 275.93,576.18 276.47,579.12 277,581.67 277.53,584.31 278.07,587.13 278.6,590.8 279.14,594.66 279.67,596.74 280.2,595.67 280.74,592.82 281.27,590.33 281.8,588.79 282.34,587.6 282.87,587.13 283.41,587.96 283.94,589.5 284.47,590.33 285.01,589.2 285.54,587.36 286.08,587.13 286.61,590.39 287.14,595.25 287.68,598.34 288.21,598.04 288.75,595.97 289.28,593.53 289.81,590.63 290.35,587.36 290.88,585.52 291.42,586.06 291.95,588.02 292.48,590.33 293.02,593.35 293.55,596.74 294.09,598.34 294.62,596.97 295.15,593.83 295.69,590.33 296.22,586.35 296.75,582.02 297.29,579.12 297.82,578.4 298.36,579.12 298.89,580.72 299.41,583.27 299.92,586.71 300.49,590.33 301.23,594.36 302.02,598.58 302.57,601.54" fill="none" stroke="#ff0000" stroke-width="1.7" stroke-linejoin="round" stroke-linecap="round"/>
<polyline points="65.52,611.15 65.83,611.62 66.28,612.26 66.81,612.5 67.41,612.5 68.09,612.5 68.73,612.5 69.29,612.23 69.81,610.96 70.33,609.55 70.86,607.78 71.4,605.86 71.93,604.75 72.47,605.01 73,606.08 73.53,607.15 74.07,608.01 74.6,608.87 75.13,609.55 75.68,609.94 76.23,610.14 76.74,610.35 77.18,610.62 77.58,610.89 78.02,611.15 78.53,611.54 79.07,611.92 79.62,611.95 80.17,611.42 80.71,610.53 81.22,609.55 81.68,608.39 82.1,607.15 82.5,606.35 82.89,606.2 83.26,606.5 83.62,607.15 83.99,608.33 84.36,609.88 84.75,611.15 85.12,611.91 85.51,612.4 86.03,612.5 86.77,612.5 87.65,612.5 88.43,612.5 89.03,612.5 89.55,611.97 90.03,611.15 90.49,610 90.91,608.71 91.31,607.95 91.69,608.14 92.05,608.86 92.43,609.55 92.87,610.33 93.32,611.08 93.72,610.83 94.01,610.13 94.24,608.44 94.52,603.14 94.86,592.79 95.24,578.83 95.64,563.1 96.06,544.35 96.5,523.83 96.92,507.04 97.3,495.7 97.67,488.11 98.04,484.61 98.41,486.03 98.78,491.55 99.16,499.03 99.58,508.99 100.01,520.92 100.44,531.06 100.86,537.89 101.27,542.93 101.72,547.08 102.23,550.22 102.78,552.48 103.33,555.09 103.85,558.77 104.37,562.8 104.93,566.3 105.55,568.85 106.2,570.87 106.85,572.71 107.5,574.37 108.14,575.85 108.77,577.51 109.38,580.48 109.98,583.63 110.53,583.92 111.03,579.65 111.5,572.53 111.98,564.7 112.51,556.39 113.06,547.38 113.58,539.07 114.03,531.57 114.44,524.77 114.86,519.85 115.29,517.51 115.71,517.03 116.14,517.45 116.57,518.04 117.01,519.52 117.42,523.05 117.81,529.88 118.18,538.75 118.54,547.08 118.91,554.14 119.28,560.67 119.66,566.3 120.07,570.93 120.49,574.67 120.95,577.51 121.47,579.35 122.04,580.3 122.55,580.72 122.94,580.18 123.28,579.12 123.67,579.12 124.17,581.07 124.72,584.1 125.27,587.13 125.82,590.45 126.37,593.77 126.87,595.13 127.28,593.71 127.63,590.33 127.99,585.52 128.4,579.06 128.82,571.17 129.28,563.1 129.8,554.53 130.36,545.78 130.88,539.07 131.32,535.54 131.72,534.06 132.16,533.47 132.69,533.35 133.25,534.12 133.76,535.87 134.16,538.78 134.51,542.66 134.88,547.08 135.3,552.24 135.74,557.94 136.16,563.1 136.53,567.19 136.88,570.75 137.28,574.31 137.78,578.17 138.33,582.02 138.89,585.52 139.44,588.55 139.99,591.22 140.49,593.53 140.88,595.73 141.21,597.57 141.6,598.34 142.1,597.86 142.65,596.32 143.2,593.53 143.74,589.44 144.27,584.1 144.81,577.51 145.34,568.79 145.87,558.83 146.41,550.28 146.95,543.94 147.5,539.01 148.01,535.87 148.45,534.98 148.85,535.87 149.29,537.47 149.8,539.25 150.35,541.74 150.89,545.48 151.43,551.23 151.96,558.23 152.49,564.7 153.03,570.46 153.56,575.68 154.1,579.12 154.65,579.8 155.2,578.7 155.7,577.51 156.09,576.48 156.43,575.35 156.82,575.11 157.32,576.42 157.87,578.61 158.42,580.72 158.95,582.74 159.49,584.66 160.02,585.52 160.56,584.87 161.09,583.15 161.62,580.72 162.16,577.69 162.69,573.96 163.23,569.51 163.76,563.51 164.29,556.81 164.83,551.89 165.36,549.99 165.9,549.87 166.43,550.28 166.96,550.64 167.5,551.53 168.03,553.49 168.57,556.99 169.1,561.56 169.63,566.3 170.17,571.11 170.7,576.09 171.23,580.72 171.77,584.99 172.3,588.91 172.84,591.93 173.37,594.01 173.9,595.19 174.44,595.13 174.95,593.47 175.47,590.57 176.04,587.13 176.7,582.97 177.42,578.29 178.12,574.31 178.78,571.76 179.41,569.92 180.04,567.9 180.71,565.15 181.37,562.21 181.97,559.9 182.44,558.44 182.85,557.61 183.25,557.49 183.68,558.14 184.11,559.51 184.53,561.5 184.9,564.4 185.25,567.93 185.65,571.11 186.15,573.6 186.7,575.74 187.25,577.51 187.79,578.7 188.32,579.53 188.85,580.72 189.41,582.56 189.96,584.75 190.46,587.13 190.86,590.09 191.21,593.24 191.58,595.13 191.98,594.72 192.4,593.06 192.86,591.93 193.38,592.05 193.94,592.7 194.46,593.53 194.9,595.08 195.3,596.8 195.74,596.74 196.25,593.77 196.8,589.02 197.34,583.92 197.88,578.29 198.41,572.29 198.95,567.9 199.48,565.95 200.01,565.59 200.55,566.3 201.08,568.38 201.62,571.52 202.15,574.31 202.68,576.27 203.22,577.87 203.75,579.12 204.27,579.83 204.8,580.18 205.35,580.72 205.98,581.67 206.65,582.79 207.28,583.92 207.83,585.05 208.36,586.18 208.88,587.13 209.41,587.72 209.95,588.13 210.48,588.73 211.01,589.97 211.55,591.4 212.08,591.93 212.61,591.28 213.15,589.74 213.68,587.13 214.22,582.79 214.75,577.4 215.28,572.71 215.84,569.39 216.39,566.78 216.89,564.7 217.28,563.04 217.61,561.91 218,561.5 218.5,561.73 219.05,562.68 219.6,564.7 220.14,568.38 220.67,573.12 221.2,577.51 221.74,581.07 222.27,584.28 222.81,587.13 223.34,589.62 223.87,591.75 224.41,593.53 224.94,594.72 225.48,595.55 226.01,596.74 226.54,598.69 227.08,601.01 227.61,603.14 228.14,605.69 228.68,608.07 229.21,607.95 229.75,603.56 230.28,596.68 230.81,590.33 231.35,585.46 231.88,581.13 232.42,577.51 232.96,574.73 233.51,572.65 234.02,571.11 234.47,569.98 234.9,569.39 235.3,569.51 235.67,570.46 236.02,572.12 236.42,574.31 236.92,577.22 237.47,580.66 238.02,583.92 238.56,586.89 239.09,589.68 239.62,591.93 240.16,593.35 240.69,594.24 241.23,595.13 241.76,596.14 242.29,597.15 242.83,598.34 243.36,600.18 243.9,602.19 244.43,603.14 244.96,602.49 245.5,600.77 246.03,598.34 246.57,594.9 247.1,590.74 247.63,587.13 248.17,584.52 248.7,582.44 249.23,580.72 249.78,579.41 250.33,578.46 250.84,577.51 251.29,576.15 251.71,574.79 252.12,574.31 252.49,575.2 252.84,576.98 253.24,579.12 253.74,581.73 254.29,584.69 254.84,587.13 255.38,588.61 255.91,589.56 256.44,590.33 256.98,590.98 257.51,591.46 258.04,591.93 258.58,592.35 259.11,592.76 259.65,593.53 260.18,594.96 260.71,596.74 261.25,598.34 261.78,599.52 262.32,600.53 262.85,601.54 263.38,602.61 263.92,603.68 264.45,604.75 264.99,605.99 265.52,607.24 266.05,607.95 266.59,607.65 267.12,606.82 267.66,606.35 268.19,606.58 268.72,607.18 269.26,607.95 269.79,608.95 270.33,610.12 270.86,611.15 271.36,611.98 271.87,612.5 272.46,612.5 273.2,612.5 274.03,612.5 274.86,612.43 275.66,612.13 276.47,611.75 277.27,611.15 278.1,610.05 278.93,608.73 279.67,607.95 280.26,608.13 280.77,608.84 281.27,609.55 281.8,610.26 282.34,610.97 282.87,611.15 283.41,610.29 283.94,608.9 284.47,607.95 285.01,607.86 285.54,608.22 286.08,608.75 286.61,609.45 287.14,610.33 287.68,611.15 288.18,611.94 288.69,612.5 289.28,612.5 290.05,612.5 290.91,612.24 291.68,611.95 292.28,612.37 292.78,612.5 293.28,612.5 293.82,612.5 294.35,612.5 294.89,612.5 295.42,612.5 295.95,612.5 296.49,612.5 297.02,612.5 297.56,612.5 298.09,611.95 298.62,610.44 299.16,608.57 299.69,607.15 300.24,606.57 300.78,606.43 301.29,606.35 301.79,606.19 302.25,606.09 302.57,606.03" fill="none" stroke="#4472c4" stroke-width="1.6" stroke-linejoin="round" stroke-linecap="round"/>
<text x="365.2" y="468.5" font-size="23" fill="#000" text-anchor="start" font-weight="bold">d</text>
<text x="512.4" y="454.6" font-size="12.2" fill="#c0207a" text-anchor="middle">Early trials</text>
<text x="402.7" y="468" font-size="12.2" fill="#2080d0" text-anchor="start">Laser stimulation</text>
<text x="557.2" y="467.6" font-size="12.2" fill="#ff2020" text-anchor="middle">Blank</text>
<text x="483.3" y="566.8" font-size="12.2" fill="#2080d0" text-anchor="start">Late trials</text>
<text x="388.4" y="553.8" font-size="13.1" fill="#111" text-anchor="middle" transform="rotate(-90 388.4 553.8)">Firing rate (z-scored)</text>
<rect x="411.8" y="484.5" width="74.6" height="56" fill="none" stroke="#d8d8d8" stroke-width="0.8"/>
<line x1="411.8" y1="484.5" x2="486.4" y2="484.5" stroke="#8a8a8a" stroke-width="1"/>
<rect x="418.2" y="484.2" width="11.7" height="56.6" fill="#cbcbf8"/>
<rect x="436.1" y="484.2" width="11.8" height="56.6" fill="#cbcbf8"/>
<rect x="454.1" y="484.2" width="11.7" height="56.6" fill="#cbcbf8"/>
<rect x="471.2" y="484.2" width="12.6" height="56.6" fill="#cbcbf8"/>
<polyline points="411.83,527.28 412.25,527.75 412.84,528.41 413.39,529.08 413.81,529.72 414.2,530.36 414.58,530.87 415,531.32 415.41,531.63 415.78,531.47 416.08,530.76 416.34,529.59 416.62,527.88 416.92,525.49 417.23,522.56 417.58,519.5 417.96,516.58 418.37,513.52 418.77,509.93 419.18,505.23 419.59,499.99 419.97,495.56 420.31,492.41 420.63,490.06 420.93,488.38 421.22,487.32 421.49,486.92 421.77,487.18 422.04,488.07 422.32,489.62 422.6,491.97 422.91,495.38 423.24,499.6 423.56,503.94 423.87,508.55 424.18,513.3 424.52,517.11 424.9,519.41 425.31,520.79 425.72,521.9 426.12,522.85 426.51,523.54 426.91,524.29 427.31,525.38 427.71,526.53 428.11,527.28 428.52,527.35 428.93,527.02 429.31,526.68 429.6,526.35 429.85,526.02 430.15,526.09 430.52,526.86 430.93,528.04 431.34,529.08 431.74,529.77 432.14,530.32 432.54,530.87 432.94,531.72 433.34,532.56 433.74,532.67 434.14,531.65 434.53,529.9 434.93,527.88 435.33,525.62 435.73,523.09 436.13,520.7 436.53,518.66 436.93,516.75 437.33,514.71 437.74,512.21 438.15,509.57 438.52,507.53 438.83,506.4 439.09,505.87 439.36,505.74 439.67,505.91 440,506.49 440.32,507.53 440.63,509.22 440.94,511.37 441.28,513.52 441.66,515.64 442.07,517.77 442.47,519.5 442.87,520.7 443.27,521.5 443.67,521.9 444.07,521.74 444.47,521.19 444.87,520.7 445.28,520.34 445.69,520.06 446.07,520.1 446.36,520.68 446.61,521.59 446.9,522.49 447.28,523.4 447.69,524.31 448.1,524.89 448.5,524.93 448.9,524.64 449.3,524.29 449.7,523.71 450.1,523.07 450.49,523.09 450.9,524.13 451.31,525.84 451.69,527.88 452.03,530.65 452.35,533.76 452.65,535.66 452.93,535.84 453.2,534.82 453.49,532.67 453.8,529.12 454.13,524.45 454.44,519.5 454.73,514.12 455,508.46 455.28,503.94 455.59,501.1 455.91,499.4 456.24,498.55 456.6,498.4 456.96,499.11 457.32,500.95 457.64,504.23 457.94,508.64 458.28,513.52 458.67,519.19 459.08,525.33 459.47,530.28 459.81,533.33 460.13,535.2 460.43,536.26 460.7,536.66 460.97,536.26 461.27,535.06 461.64,532.63 462.05,529.39 462.46,526.68 462.86,524.89 463.26,523.63 463.66,523.09 464.06,523.69 464.46,525.02 464.86,526.09 465.26,526.66 465.66,526.97 466.06,526.68 466.46,525.35 466.85,523.43 467.25,521.9 467.65,521.08 468.05,520.65 468.45,520.7 468.85,521.39 469.25,522.54 469.65,523.69 470.05,524.98 470.45,526.26 470.84,526.68 471.24,525.93 471.64,524.31 472.04,521.9 472.45,518.26 472.86,513.83 473.24,509.93 473.57,506.98 473.88,504.56 474.2,502.74 474.55,501.57 474.92,500.99 475.27,500.95 475.6,501.35 475.92,502.28 476.23,503.94 476.55,506.65 476.88,510.08 477.19,513.52 477.46,516.8 477.72,520.08 478.03,523.09 478.4,525.8 478.81,528.24 479.22,530.28 479.62,531.83 480.02,532.98 480.42,533.87 480.82,534.58 481.22,535.02 481.62,535.06 482.02,534.62 482.42,533.78 482.81,532.67 483.21,531.1 483.61,529.26 484.01,527.88 484.41,527.3 484.81,527.19 485.21,527.28 485.65,527.59 486.1,528.1 486.41,528.48" fill="none" stroke="#4242a6" stroke-width="0.85" stroke-linejoin="round" stroke-linecap="round"/>
<rect x="523" y="484.5" width="75.8" height="56.3" fill="none" stroke="#d8d8d8" stroke-width="0.8"/>
<line x1="523" y1="484.5" x2="598.8" y2="484.5" stroke="#8a8a8a" stroke-width="1"/>
<rect x="529.3" y="484.2" width="12.6" height="56.9" fill="#cbcbf8"/>
<rect x="547.5" y="484.2" width="12.4" height="56.9" fill="#cbcbf8"/>
<rect x="565.5" y="484.2" width="12.6" height="56.9" fill="#cbcbf8"/>
<rect x="583.2" y="484.2" width="12.6" height="56.9" fill="#cbcbf8"/>
<polyline points="522.99,529.08 523.3,527.22 523.75,524.56 524.19,521.9 524.59,519.32 524.99,516.75 525.39,514.71 525.79,513.38 526.18,512.59 526.58,512.32 526.98,512.59 527.38,513.38 527.78,514.71 528.18,516.73 528.58,519.28 528.98,521.9 529.38,525.02 529.78,528.21 530.17,529.68 530.57,528.1 530.97,524.8 531.37,521.9 531.77,520.01 532.17,518.53 532.57,517.71 532.97,517.71 533.37,518.37 533.77,519.5 534.16,521.3 534.56,523.56 534.96,525.49 535.36,526.97 535.76,528.13 536.16,528.48 536.56,527.59 536.96,525.91 537.36,524.29 537.76,522.89 538.15,521.56 538.55,520.7 538.95,520.46 539.35,520.68 539.75,521.3 540.15,522.49 540.55,524.09 540.95,525.49 541.35,526.46 541.75,527.24 542.15,527.88 542.54,528.32 542.94,528.63 543.34,529.08 543.75,529.85 544.17,530.76 544.54,531.47 544.84,531.98 545.1,532.29 545.38,532.07 545.67,531.12 545.98,529.63 546.33,527.88 546.79,525.66 547.29,523.18 547.77,521.3 548.19,520.43 548.58,520.17 548.97,520.1 549.35,520.23 549.74,520.57 550.17,520.7 550.67,520.32 551.22,519.75 551.72,519.5 552.15,519.77 552.53,520.37 552.92,521.3 553.3,523.09 553.69,525.22 554.12,526.09 554.61,524.64 555.15,521.94 555.67,519.5 556.18,517.71 556.67,516.18 557.11,515.31 557.45,515.31 557.75,515.98 558.07,517.11 558.45,518.9 558.85,521.16 559.26,523.09 559.66,524.53 560.06,525.64 560.46,526.09 560.86,525.42 561.26,524.09 561.66,523.09 562.06,522.78 562.45,522.8 562.85,523.09 563.25,523.71 563.65,524.6 564.05,525.49 564.45,526.42 564.85,527.35 565.25,527.88 565.65,527.62 566.05,526.95 566.44,526.68 566.84,527.22 567.24,528.15 567.64,529.08 568.03,529.83 568.42,530.59 568.84,531.47 569.3,532.71 569.79,534.09 570.28,535.06 570.76,535.42 571.25,535.37 571.71,535.06 572.13,534.44 572.52,533.56 572.91,532.67 573.31,531.87 573.71,531.07 574.11,530.28 574.49,529.46 574.88,528.63 575.3,527.88 575.81,527.15 576.35,526.48 576.86,526.09 577.28,526.02 577.67,526.22 578.06,526.68 578.46,527.5 578.85,528.59 579.25,529.68 579.65,530.7 580.05,531.72 580.45,532.67 580.85,533.62 581.25,534.51 581.65,535.06 582.05,535.35 582.45,535.31 582.84,534.46 583.24,532.27 583.64,529.28 584.04,526.68 584.44,524.91 584.84,523.54 585.24,522.49 585.64,521.9 586.04,521.63 586.44,521.3 586.83,520.81 587.23,520.26 587.63,519.5 588.03,518.33 588.43,516.95 588.83,515.91 589.23,515.31 589.63,515.05 590.03,515.31 590.43,516.95 590.82,519.13 591.22,519.5 591.64,516.55 592.05,511.81 592.42,507.53 592.72,504.25 592.98,501.44 593.26,499.75 593.57,499.77 593.89,500.93 594.22,502.15 594.53,503.48 594.85,504.87 595.17,505.14 595.53,503.41 595.9,500.55 596.25,497.96 596.58,496.14 596.9,494.59 597.21,493.17 597.5,491.79 597.78,490.55 598.05,489.58 598.32,488.96 598.58,488.6 598.76,488.38" fill="none" stroke="#d6485f" stroke-width="0.85" stroke-linejoin="round" stroke-linecap="round"/>
<rect x="411.8" y="583" width="74.6" height="56" fill="none" stroke="#d8d8d8" stroke-width="0.8"/>
<line x1="411.8" y1="639" x2="486.4" y2="639" stroke="#444" stroke-width="1.2"/>
<rect x="418.2" y="582.7" width="11.7" height="56.6" fill="#cbcbf8"/>
<rect x="436.1" y="582.7" width="11.8" height="56.6" fill="#cbcbf8"/>
<rect x="454.1" y="582.7" width="11.7" height="56.6" fill="#cbcbf8"/>
<rect x="471.2" y="582.7" width="12.6" height="56.6" fill="#cbcbf8"/>
<polyline points="411.59,627.08 411.84,625.73 412.2,623.84 412.55,622.29 412.84,621.29 413.11,620.63 413.39,620.49 413.66,620.98 413.94,622 414.22,623.49 414.53,625.7 414.84,628.39 415.18,630.67 415.57,632.4 415.99,633.73 416.38,634.26 416.71,634.08 417.01,633.11 417.34,630.67 417.72,626.06 418.13,619.98 418.53,613.91 418.93,607.97 419.33,602.03 419.73,597.15 420.14,593.69 420.56,591.3 420.93,589.97 421.23,589.79 421.5,590.68 421.77,592.36 422.04,595.02 422.32,598.48 422.6,601.94 422.91,605.4 423.24,608.86 423.56,611.52 423.87,613.07 424.18,613.82 424.52,613.91 424.91,612.94 425.33,611.3 425.72,610.32 426.02,610.63 426.29,611.61 426.55,612.71 426.83,613.78 427.1,614.97 427.39,616.31 427.7,617.86 428.03,619.54 428.35,621.09 428.66,622.64 428.97,624.06 429.31,624.68 429.69,624.02 430.1,622.56 430.5,621.09 430.9,619.67 431.3,618.26 431.7,617.5 432.11,617.72 432.53,618.61 432.9,619.9 433.2,621.71 433.47,623.93 433.74,625.88 434.01,627.61 434.29,629.07 434.57,629.47 434.88,628.19 435.19,625.84 435.53,623.49 435.91,621.4 436.32,619.32 436.73,617.5 437.14,616.02 437.54,614.8 437.93,613.91 438.25,613.49 438.56,613.4 438.88,613.31 439.26,613.05 439.67,612.78 440.08,612.71 440.48,612.98 440.88,613.45 441.28,613.91 441.68,614.49 442.08,615.06 442.47,615.11 442.87,614.35 443.27,613.07 443.67,611.52 444.07,609.68 444.47,607.57 444.87,605.53 445.27,603.29 445.67,601.12 446.07,600.15 446.46,600.99 446.86,603.03 447.26,605.53 447.66,608.46 448.06,611.85 448.46,615.11 448.86,618.03 449.26,620.83 449.66,623.49 450.06,626.15 450.45,628.67 450.85,630.67 451.25,632 451.65,632.8 452.05,633.06 452.45,632.8 452.85,632 453.25,630.67 453.65,628.67 454.05,626.15 454.44,623.49 454.84,620.67 455.24,617.72 455.64,615.11 456.04,612.96 456.44,611.14 456.84,609.72 457.24,608.7 457.64,608.08 458.04,607.93 458.43,608.28 458.83,609.1 459.23,610.32 459.63,612.18 460.03,614.44 460.43,616.31 460.83,617.37 461.23,618.03 461.63,618.7 462.03,619.45 462.43,620.21 462.82,621.09 463.22,622.2 463.62,623.44 464.02,624.68 464.42,625.88 464.82,627.08 465.22,628.28 465.62,629.83 466.02,631.38 466.42,631.87 466.81,630.58 467.21,628.23 467.61,625.88 468.01,623.73 468.41,621.58 468.81,619.9 469.21,619.08 469.61,618.72 470.01,618.1 470.41,617.08 470.8,615.8 471.2,613.91 471.6,610.98 472,607.46 472.4,604.33 472.81,601.81 473.22,599.68 473.6,598.35 473.93,597.95 474.24,598.35 474.55,599.55 474.9,601.76 475.26,604.78 475.63,607.93 476.02,611.07 476.43,614.35 476.83,617.5 477.23,620.65 477.63,623.66 478.03,625.88 478.43,626.9 478.82,627.12 479.22,627.08 479.62,626.86 480.02,626.37 480.42,625.88 480.82,625.48 481.22,625.08 481.62,624.68 482.02,624.17 482.42,623.66 482.81,623.49 483.21,624 483.61,624.84 484.01,625.28 484.42,624.91 484.84,624.13 485.21,623.49 485.55,623.18 485.84,623 486.05,622.89" fill="none" stroke="#4242a6" stroke-width="0.85" stroke-linejoin="round" stroke-linecap="round"/>
<rect x="523.8" y="582.2" width="74.6" height="56.3" fill="none" stroke="#d8d8d8" stroke-width="0.8"/>
<line x1="523.8" y1="638.5" x2="598.4" y2="638.5" stroke="#444" stroke-width="1.2"/>
<rect x="528.6" y="581.9" width="12.4" height="56.9" fill="#cbcbf8"/>
<rect x="547" y="581.9" width="12.3" height="56.9" fill="#cbcbf8"/>
<rect x="565.2" y="581.9" width="12.6" height="56.9" fill="#cbcbf8"/>
<rect x="583.4" y="581.9" width="12.4" height="56.9" fill="#cbcbf8"/>
<polyline points="523.83,624.09 524.14,623.78 524.58,623.4 525.03,623.49 525.43,624.31 525.83,625.59 526.22,627.08 526.62,629.18 527.02,631.49 527.42,632.46 527.82,631.53 528.22,629.27 528.62,625.88 529.03,620.69 529.43,614.38 529.82,609.12 530.16,605.82 530.47,603.58 530.77,601.94 531.06,600.77 531.33,600.19 531.61,600.15 531.91,600.54 532.23,601.48 532.57,603.14 532.95,605.93 533.36,609.46 533.77,612.71 534.18,615.46 534.59,617.95 534.96,619.9 535.26,621.36 535.53,622.29 535.8,622.29 536.1,620.87 536.42,618.52 536.76,616.31 537.14,614.42 537.55,612.67 537.96,611.52 538.35,611.27 538.75,611.63 539.15,612.12 539.55,612.6 539.95,613.22 540.35,613.91 540.75,614.49 541.15,615.13 541.55,616.31 541.95,618.34 542.34,620.92 542.74,623.49 543.14,626.06 543.54,628.63 543.94,630.67 544.32,631.9 544.69,632.6 545.14,633.06 545.69,633.32 546.31,633.34 546.93,633.3 547.55,633.52 548.17,633.68 548.73,633.06 549.17,631.36 549.55,628.89 549.93,625.88 550.32,622.2 550.72,617.99 551.12,613.91 551.52,610.08 551.92,606.37 552.32,603.14 552.72,600.26 553.12,597.84 553.52,596.55 553.92,596.75 554.31,598.08 554.71,600.15 555.11,602.85 555.51,606.29 555.91,610.32 556.32,615.42 556.73,621.12 557.11,625.88 557.45,629.21 557.76,631.6 558.07,633.06 558.34,633.46 558.6,632.93 558.9,631.87 559.28,630.45 559.69,628.5 560.1,625.88 560.5,622.09 560.9,617.64 561.3,613.91 561.7,611.32 562.1,609.46 562.49,608.52 562.89,608.75 563.29,609.9 563.69,611.52 564.11,613.76 564.53,616.46 564.89,618.7 565.11,620.58 565.27,622 565.49,621.69 565.84,618.63 566.26,613.84 566.68,609.12 567.09,604.82 567.5,600.59 567.88,597.15 568.21,594.76 568.51,593.16 568.84,592.36 569.22,592.28 569.63,592.99 570.04,594.76 570.44,597.91 570.84,602.12 571.23,606.73 571.61,611.83 571.96,617.32 572.31,622.29 572.64,626.77 572.96,630.71 573.27,633.06 573.55,633.2 573.82,631.73 574.11,629.47 574.42,626.19 574.74,622.11 575.06,618.7 575.37,616.44 575.68,614.84 576.02,613.91 576.4,613.64 576.81,614.04 577.22,615.11 577.63,617.24 578.04,620.03 578.42,622.29 578.71,623.55 578.96,624.29 579.25,624.68 579.63,624.71 580.04,624.4 580.45,624.09 580.85,624.13 581.25,624.17 581.65,623.49 582.05,621.8 582.45,619.39 582.84,616.31 583.24,612.29 583.64,607.62 584.04,603.14 584.45,598.84 584.86,594.74 585.24,591.77 585.57,590.37 585.88,590.1 586.2,590.57 586.55,591.59 586.92,593.34 587.27,595.96 587.59,599.68 587.9,604.27 588.23,609.12 588.61,614.49 589.02,620.12 589.43,624.68 589.83,627.7 590.23,629.65 590.62,630.67 591.01,630.47 591.41,629.34 591.82,628.28 592.28,627.65 592.76,627.1 593.26,626.48 593.78,625.57 594.32,624.6 594.81,624.09 595.24,624.26 595.63,624.91 596.01,625.88 596.41,627.39 596.81,629.23 597.21,630.67 597.65,631.38 598.1,631.69 598.41,631.87" fill="none" stroke="#d6485f" stroke-width="0.85" stroke-linejoin="round" stroke-linecap="round"/>
<line x1="424.3" y1="470.7" x2="424.3" y2="478.7" stroke="#10aeee" stroke-width="1.9"/>
<polygon points="421,478.2 427.6,478.2 424.3,483.6" fill="#10aeee"/>
<line x1="424.3" y1="568.4" x2="424.3" y2="576.9" stroke="#10aeee" stroke-width="1.9"/>
<polygon points="421,576.4 427.6,576.4 424.3,581.8" fill="#10aeee"/>
<line x1="442.4" y1="470.7" x2="442.4" y2="478.7" stroke="#10aeee" stroke-width="1.9"/>
<polygon points="439.1,478.2 445.7,478.2 442.4,483.6" fill="#10aeee"/>
<line x1="442.4" y1="568.4" x2="442.4" y2="576.9" stroke="#10aeee" stroke-width="1.9"/>
<polygon points="439.1,576.4 445.7,576.4 442.4,581.8" fill="#10aeee"/>
<line x1="459.7" y1="470.7" x2="459.7" y2="478.7" stroke="#10aeee" stroke-width="1.9"/>
<polygon points="456.4,478.2 463,478.2 459.7,483.6" fill="#10aeee"/>
<line x1="459.7" y1="568.4" x2="459.7" y2="576.9" stroke="#10aeee" stroke-width="1.9"/>
<polygon points="456.4,576.4 463,576.4 459.7,581.8" fill="#10aeee"/>
<line x1="476.8" y1="470.7" x2="476.8" y2="478.7" stroke="#10aeee" stroke-width="1.9"/>
<polygon points="473.5,478.2 480.1,478.2 476.8,483.6" fill="#10aeee"/>
<line x1="476.8" y1="568.4" x2="476.8" y2="576.9" stroke="#10aeee" stroke-width="1.9"/>
<polygon points="473.5,576.4 480.1,576.4 476.8,581.8" fill="#10aeee"/>
<text x="409.6" y="502.8" font-size="10.2" fill="#222" text-anchor="end">0.4</text>
<text x="409.6" y="532.6" font-size="10.2" fill="#222" text-anchor="end">0</text>
<text x="520.8" y="497.9" font-size="10.2" fill="#222" text-anchor="end">0.2</text>
<text x="520.8" y="535.7" font-size="10.2" fill="#222" text-anchor="end">0</text>
<text x="409.6" y="602.2" font-size="10.2" fill="#222" text-anchor="end">0.4</text>
<text x="409.6" y="629.1" font-size="10.2" fill="#222" text-anchor="end">0</text>
<text x="520.8" y="607.4" font-size="10.2" fill="#222" text-anchor="end">0.2</text>
<text x="520.8" y="630.9" font-size="10.2" fill="#222" text-anchor="end">0</text>
<text x="411.6" y="551.3" font-size="10.2" fill="#222" text-anchor="middle">0</text>
<text x="476.1" y="551.3" font-size="10.2" fill="#222" text-anchor="middle">100</text>
<text x="523.6" y="551.3" font-size="10.2" fill="#222" text-anchor="middle">0</text>
<text x="588.2" y="551.3" font-size="10.2" fill="#222" text-anchor="middle">100</text>
<text x="411.6" y="651.3" font-size="10.2" fill="#222" text-anchor="middle">0</text>
<text x="476.1" y="651.3" font-size="10.2" fill="#222" text-anchor="middle">100</text>
<text x="523.6" y="651.3" font-size="10.2" fill="#222" text-anchor="middle">0</text>
<text x="588.2" y="651.3" font-size="10.2" fill="#222" text-anchor="middle">100</text>
<text x="447.2" y="662.8" font-size="13.6" fill="#111" text-anchor="middle">Time (ms)</text>
<text x="558.4" y="662.8" font-size="13.6" fill="#111" text-anchor="middle">Time (ms)</text>
<polygon points="600,507 610.3,507 610.3,502.2 619.5,511.6 610.3,521 610.3,516.2 600,516.2" fill="#b4004c"/>
<polygon points="600,606.6 610.3,606.6 610.3,601.8 619.5,611.2 610.3,620.6 610.3,615.8 600,615.8" fill="#4472c4"/>
<text x="619.6" y="508.7" font-size="12.1" fill="#b0105a" text-anchor="start">Correlation</text>
<text x="619.6" y="522.9" font-size="12.1" fill="#b0105a" text-anchor="start">coefficient</text>
<text x="619.6" y="609.3" font-size="12.1" fill="#4472c4" text-anchor="start">Correlation</text>
<text x="619.8" y="624.2" font-size="12.1" fill="#4472c4" text-anchor="start">coefficient</text>
<text x="8.6" y="701.6" font-size="24" fill="#000" text-anchor="start" font-weight="bold">e</text>
<line x1="64.7" y1="712.3" x2="64.7" y2="839.3" stroke="#000" stroke-width="1"/>
<line x1="64.2" y1="838.8" x2="230.4" y2="838.8" stroke="#000" stroke-width="1"/>
<line x1="64.7" y1="712.5" x2="68.7" y2="712.5" stroke="#000" stroke-width="1"/>
<text x="54.4" y="716.8" font-size="12" fill="#000" text-anchor="end">0.2</text>
<line x1="64.7" y1="754.6" x2="68.7" y2="754.6" stroke="#000" stroke-width="1"/>
<text x="54.4" y="758.9" font-size="12" fill="#000" text-anchor="end">0.1</text>
<line x1="64.7" y1="796.7" x2="68.7" y2="796.7" stroke="#000" stroke-width="1"/>
<text x="54.4" y="801" font-size="12" fill="#000" text-anchor="end">0</text>
<line x1="147.2" y1="838.8" x2="147.2" y2="834.8" stroke="#000" stroke-width="1"/>
<line x1="230" y1="838.8" x2="230" y2="834.8" stroke="#000" stroke-width="1"/>
<text x="64.8" y="857.5" font-size="12" fill="#000" text-anchor="middle">0</text>
<text x="147.2" y="857.5" font-size="12" fill="#000" text-anchor="middle">100</text>
<text x="230.5" y="857.5" font-size="12" fill="#000" text-anchor="middle">200</text>
<text x="158.9" y="870.6" font-size="13.3" fill="#000" text-anchor="middle">Trials</text>
<text x="30.6" y="771.9" font-size="13.4" fill="#000" text-anchor="middle" transform="rotate(-90 30.6 771.9)">Correlation coeff.</text>
<text x="73.4" y="731.2" font-size="11.8" fill="#fc5a58" text-anchor="start">Session 1</text>
<text x="73.4" y="745.9" font-size="11.8" fill="#9416ac" text-anchor="start">Session 2</text>
<circle cx="72.61" cy="798.79" r="3.9" fill="#9416ac"/>
<circle cx="81.54" cy="795.9" r="3.9" fill="#9416ac"/>
<circle cx="89.69" cy="813.5" r="3.9" fill="#9416ac"/>
<circle cx="98.1" cy="799.32" r="3.9" fill="#9416ac"/>
<circle cx="105.98" cy="801.16" r="3.9" fill="#9416ac"/>
<circle cx="114.39" cy="799.32" r="3.9" fill="#9416ac"/>
<circle cx="122.53" cy="823.49" r="3.9" fill="#9416ac"/>
<circle cx="130.94" cy="805.1" r="3.9" fill="#9416ac"/>
<circle cx="138.82" cy="809.83" r="3.9" fill="#9416ac"/>
<circle cx="147.49" cy="789.33" r="3.9" fill="#9416ac"/>
<circle cx="155.38" cy="771.73" r="3.9" fill="#9416ac"/>
<circle cx="164.05" cy="781.45" r="3.9" fill="#9416ac"/>
<circle cx="171.93" cy="795.11" r="3.9" fill="#9416ac"/>
<circle cx="180.34" cy="757.8" r="3.9" fill="#9416ac"/>
<circle cx="188.74" cy="762.01" r="3.9" fill="#9416ac"/>
<circle cx="197.15" cy="732.05" r="3.9" fill="#9416ac"/>
<circle cx="205.3" cy="725.22" r="3.9" fill="#9416ac"/>
<circle cx="213.7" cy="752.55" r="3.9" fill="#9416ac"/>
<circle cx="221.85" cy="744.14" r="3.9" fill="#9416ac"/>
<circle cx="72.61" cy="813.5" r="3.9" fill="#fc5a58"/>
<circle cx="81.54" cy="816.4" r="3.9" fill="#fc5a58"/>
<circle cx="89.69" cy="817.45" r="3.9" fill="#fc5a58"/>
<circle cx="98.1" cy="808.25" r="3.9" fill="#fc5a58"/>
<circle cx="105.98" cy="797.21" r="3.9" fill="#fc5a58"/>
<circle cx="114.39" cy="825.59" r="3.9" fill="#fc5a58"/>
<circle cx="122.53" cy="801.68" r="3.9" fill="#fc5a58"/>
<circle cx="130.94" cy="806.41" r="3.9" fill="#fc5a58"/>
<circle cx="138.82" cy="796.43" r="3.9" fill="#fc5a58"/>
<circle cx="147.49" cy="800.37" r="3.9" fill="#fc5a58"/>
<circle cx="155.38" cy="783.29" r="3.9" fill="#fc5a58"/>
<circle cx="164.05" cy="788.54" r="3.9" fill="#fc5a58"/>
<circle cx="171.93" cy="767.26" r="3.9" fill="#fc5a58"/>
<circle cx="180.34" cy="767.79" r="3.9" fill="#fc5a58"/>
<circle cx="188.74" cy="773.57" r="3.9" fill="#fc5a58"/>
<circle cx="197.15" cy="762.27" r="3.9" fill="#fc5a58"/>
<circle cx="205.3" cy="773.57" r="3.9" fill="#fc5a58"/>
<circle cx="213.7" cy="768.84" r="3.9" fill="#fc5a58"/>
<circle cx="221.85" cy="741.25" r="3.9" fill="#fc5a58"/>
<polyline points="67.88,818.29 70.58,817.76 73.27,817.22 75.96,816.65 78.66,816.06 81.35,815.44 84.05,814.81 86.74,814.14 89.44,813.46 92.13,812.75 94.82,812.02 97.52,811.26 100.21,810.48 102.91,809.68 105.6,808.86 108.3,808.01 110.99,807.13 113.68,806.24 116.38,805.32 119.07,804.38 121.77,803.41 124.46,802.42 127.16,801.41 129.85,800.37 132.54,799.31 135.24,798.23 137.93,797.12 140.63,795.99 143.32,794.84 146.01,793.66 148.71,792.46 151.4,791.24 154.1,789.99 156.79,788.72 159.49,787.43 162.18,786.11 164.87,784.77 167.57,783.41 170.26,782.02 172.96,780.61 175.65,779.17 178.35,777.72 181.04,776.23 183.73,774.73 186.43,773.2 189.12,771.65 191.82,770.08 194.51,768.48 197.21,766.86 199.9,765.21 202.59,763.54 205.29,761.85 207.98,760.14 210.68,758.4 213.37,756.64 216.06,754.85 218.76,753.04 221.45,751.21 224.15,749.35 226.84,747.48" fill="none" stroke="#fc5a58" stroke-width="2.1" stroke-linejoin="round" stroke-linecap="round"/>
<polyline points="67.88,801.52 70.58,802.12 73.27,802.66 75.96,803.13 78.66,803.53 81.35,803.86 84.05,804.13 86.74,804.33 89.44,804.46 92.13,804.52 94.82,804.51 97.52,804.44 100.21,804.29 102.91,804.08 105.6,803.8 108.3,803.46 110.99,803.04 113.68,802.56 116.38,802.01 119.07,801.39 121.77,800.71 124.46,799.95 127.16,799.13 129.85,798.24 132.54,797.28 135.24,796.25 137.93,795.16 140.63,794 143.32,792.77 146.01,791.47 148.71,790.1 151.4,788.67 154.1,787.17 156.79,785.6 159.49,783.96 162.18,782.26 164.87,780.48 167.57,778.64 170.26,776.73 172.96,774.75 175.65,772.71 178.35,770.59 181.04,768.41 183.73,766.16 186.43,763.85 189.12,761.46 191.82,759.01 194.51,756.49 197.21,753.9 199.9,751.24 202.59,748.51 205.29,745.72 207.98,742.86 210.68,739.93 213.37,736.93 216.06,733.87 218.76,730.74 221.45,727.54 224.15,724.27 226.84,720.93" fill="none" stroke="#9416ac" stroke-width="2.1" stroke-linejoin="round" stroke-linecap="round"/>
<text x="256" y="701.7" font-size="24" fill="#000" text-anchor="start" font-weight="bold">f</text>
<defs><clipPath id="fclip"><rect x="299.7" y="700" width="206" height="139"/></clipPath></defs>
<g clip-path="url(#fclip)">
<polygon points="304.81,825.43 315.85,823.29 326.88,820.84 337.92,818.08 348.65,816.12 359.38,809.88 370.72,811.41 381.76,811.41 392.49,816.01 403.52,811.11 414.56,804.36 425.59,801.3 436.63,772.09 447.67,753.81 458.7,749.21 469.74,745.12 480.78,725.58 491.81,719.02 502.85,715.96 502.85,726.96 491.81,730.02 480.78,737.58 469.74,759.12 458.7,764.21 447.67,768.81 436.63,786.09 425.59,813.3 414.56,816.36 403.52,823.11 392.49,828.01 381.76,823.41 370.72,823.41 359.38,821.88 348.65,829.12 337.92,832.08 326.88,834.84 315.85,837.29 304.81,839.43" fill="#4472c4" fill-opacity="0.45"/>
<polygon points="304.81,810.23 315.85,814.83 326.88,809.62 337.92,805.63 348.65,822.49 359.38,836.29 370.72,814.22 381.76,827.09 392.49,824.03 403.52,817.89 414.56,828.62 425.59,820.04 436.63,825.56 447.67,825.56 458.7,813.3 469.74,815.75 480.78,815.75 491.81,807.16 502.85,824.03 502.85,824.03 491.81,807.16 480.78,815.75 469.74,815.75 458.7,813.3 447.67,825.56 436.63,825.56 425.59,820.04 414.56,828.62 403.52,817.89 392.49,824.03 381.76,827.09 370.72,814.22 359.38,836.29 348.65,842 337.92,842 326.88,842 315.85,842 304.81,842" fill="#f4a878" fill-opacity="0.32"/>
<polygon points="304.81,798.23 315.85,802.83 326.88,797.62 337.92,793.63 348.65,810.49 359.38,824.29 370.72,802.22 381.76,815.09 392.49,812.03 403.52,805.89 414.56,816.62 425.59,808.04 436.63,813.56 447.67,813.56 458.7,801.3 469.74,803.75 480.78,803.75 491.81,795.16 502.85,812.03 502.85,824.03 491.81,807.16 480.78,815.75 469.74,815.75 458.7,813.3 447.67,825.56 436.63,825.56 425.59,820.04 414.56,828.62 403.52,817.89 392.49,824.03 381.76,827.09 370.72,814.22 359.38,836.29 348.65,822.49 337.92,805.63 326.88,809.62 315.85,814.83 304.81,810.23" fill="#f08a3c" fill-opacity="0.45"/>
<polyline points="304.81,832.43 315.85,830.29 326.88,827.84 337.92,825.08 348.65,822.62 359.38,815.88 370.72,817.41 381.76,817.41 392.49,822.01 403.52,817.11 414.56,810.36 425.59,807.3 436.63,779.09 447.67,761.31 458.7,756.71 469.74,752.12 480.78,731.58 491.81,724.52 502.85,721.46" fill="none" stroke="#3d6fcf" stroke-width="3" stroke-linejoin="round" stroke-linecap="round"/>
<polyline points="304.81,804.23 315.85,808.83 326.88,803.62 337.92,799.63 348.65,816.49 359.38,830.29 370.72,808.22 381.76,821.09 392.49,818.03 403.52,811.89 414.56,822.62 425.59,814.04 436.63,819.56 447.67,819.56 458.7,807.3 469.74,809.75 480.78,809.75 491.81,801.16 502.85,818.03" fill="none" stroke="#f07f2a" stroke-width="3" stroke-linejoin="round" stroke-linecap="round"/>
</g>
<line x1="299.2" y1="706.3" x2="299.2" y2="839.7" stroke="#000" stroke-width="1"/>
<line x1="298.7" y1="839.2" x2="504.2" y2="839.2" stroke="#000" stroke-width="1"/>
<line x1="299.2" y1="714.4" x2="302.7" y2="714.4" stroke="#000" stroke-width="1"/>
<text x="296.6" y="718.7" font-size="12" fill="#000" text-anchor="end">0.1</text>
<line x1="299.2" y1="762.5" x2="302.7" y2="762.5" stroke="#000" stroke-width="1"/>
<text x="296.6" y="766.8" font-size="12" fill="#000" text-anchor="end">0.05</text>
<line x1="299.2" y1="810.6" x2="302.7" y2="810.6" stroke="#000" stroke-width="1"/>
<text x="296.6" y="814.9" font-size="12" fill="#000" text-anchor="end">0</text>
<line x1="359.6" y1="839.2" x2="359.6" y2="835.7" stroke="#000" stroke-width="1"/>
<line x1="414.5" y1="839.2" x2="414.5" y2="835.7" stroke="#000" stroke-width="1"/>
<line x1="469.4" y1="839.2" x2="469.4" y2="835.7" stroke="#000" stroke-width="1"/>
<text x="304.8" y="857.5" font-size="12" fill="#000" text-anchor="middle">10</text>
<text x="359.6" y="857.5" font-size="12" fill="#000" text-anchor="middle">60</text>
<text x="413.2" y="857.5" font-size="12" fill="#000" text-anchor="middle">110</text>
<text x="469.5" y="857.5" font-size="12" fill="#000" text-anchor="middle">160</text>
<text x="393" y="869.3" font-size="13.3" fill="#000" text-anchor="middle">Trials</text>
<text x="267.9" y="771.5" font-size="13.4" fill="#000" text-anchor="middle" transform="rotate(-90 267.9 771.5)">Correlation coeff.</text>
<rect x="304.8" y="711.3" width="54.6" height="127.6" fill="none" stroke="#d0202c" stroke-width="1.2"/>
<rect x="447.7" y="711.3" width="55.1" height="127.6" fill="none" stroke="#1e7fd0" stroke-width="1.2"/>
<text x="335.5" y="707" font-size="12.2" fill="#d0202c" text-anchor="middle">Early</text>
<text x="475.4" y="707" font-size="12.2" fill="#1e7fd0" text-anchor="middle">Late</text>
<text x="378.9" y="714.9" font-size="12.2" fill="#2f74c8" text-anchor="start">Original</text>
<text x="378.9" y="730.3" font-size="12.2" fill="#f08030" text-anchor="start">Shuffled</text>
<text x="378.9" y="750" font-size="12.2" fill="#000" text-anchor="start">N = 40</text>
<text x="538.3" y="701.8" font-size="24" fill="#000" text-anchor="start" font-weight="bold">g</text>
<line x1="579.6" y1="722.3" x2="579.6" y2="857.3" stroke="#000" stroke-width="1"/>
<line x1="579.6" y1="722.7" x2="583.1" y2="722.7" stroke="#000" stroke-width="1"/>
<text x="568.8" y="727" font-size="12" fill="#000" text-anchor="end">0.2</text>
<line x1="579.6" y1="756.1" x2="583.1" y2="756.1" stroke="#000" stroke-width="1"/>
<text x="568.8" y="760.4" font-size="12" fill="#000" text-anchor="end">0.1</text>
<line x1="579.6" y1="789.5" x2="583.1" y2="789.5" stroke="#000" stroke-width="1"/>
<text x="568.8" y="793.8" font-size="12" fill="#000" text-anchor="end">0</text>
<line x1="579.6" y1="822.9" x2="583.1" y2="822.9" stroke="#000" stroke-width="1"/>
<text x="568.8" y="827.2" font-size="12" fill="#000" text-anchor="end">-0.1</text>
<line x1="579.6" y1="857.1" x2="583.1" y2="857.1" stroke="#000" stroke-width="1"/>
<line x1="579.6" y1="789.5" x2="683.7" y2="789.5" stroke="#444" stroke-width="1"/>
<text x="546.1" y="782.6" font-size="13.2" fill="#000" text-anchor="middle" transform="rotate(-90 546.1 782.6)">Correlation coeff.</text>
<circle cx="604.8" cy="761.11" r="4.2" fill="none" stroke="#c0106a" stroke-width="1.3"/>
<circle cx="604.8" cy="771.13" r="4.2" fill="none" stroke="#c0106a" stroke-width="1.3"/>
<circle cx="604.8" cy="774.47" r="4.2" fill="none" stroke="#c0106a" stroke-width="1.3"/>
<circle cx="604.8" cy="776.14" r="4.2" fill="none" stroke="#c0106a" stroke-width="1.3"/>
<circle cx="604.8" cy="779.48" r="4.2" fill="none" stroke="#c0106a" stroke-width="1.3"/>
<circle cx="604.8" cy="781.15" r="4.2" fill="none" stroke="#c0106a" stroke-width="1.3"/>
<circle cx="604.8" cy="784.49" r="4.2" fill="none" stroke="#c0106a" stroke-width="1.3"/>
<circle cx="604.8" cy="786.16" r="4.2" fill="none" stroke="#c0106a" stroke-width="1.3"/>
<circle cx="604.8" cy="787.83" r="4.2" fill="none" stroke="#c0106a" stroke-width="1.3"/>
<circle cx="604.8" cy="789.5" r="4.2" fill="none" stroke="#c0106a" stroke-width="1.3"/>
<circle cx="604.8" cy="791.17" r="4.2" fill="none" stroke="#c0106a" stroke-width="1.3"/>
<circle cx="604.8" cy="792.84" r="4.2" fill="none" stroke="#c0106a" stroke-width="1.3"/>
<circle cx="604.8" cy="796.18" r="4.2" fill="none" stroke="#c0106a" stroke-width="1.3"/>
<circle cx="604.8" cy="799.52" r="4.2" fill="none" stroke="#c0106a" stroke-width="1.3"/>
<circle cx="604.8" cy="801.19" r="4.2" fill="none" stroke="#c0106a" stroke-width="1.3"/>
<circle cx="604.8" cy="802.86" r="4.2" fill="none" stroke="#c0106a" stroke-width="1.3"/>
<circle cx="604.8" cy="806.2" r="4.2" fill="none" stroke="#c0106a" stroke-width="1.3"/>
<circle cx="604.8" cy="809.54" r="4.2" fill="none" stroke="#c0106a" stroke-width="1.3"/>
<circle cx="604.8" cy="814.55" r="4.2" fill="none" stroke="#c0106a" stroke-width="1.3"/>
<circle cx="604.8" cy="821.23" r="4.2" fill="none" stroke="#c0106a" stroke-width="1.3"/>
<circle cx="604.8" cy="822.9" r="4.2" fill="none" stroke="#c0106a" stroke-width="1.3"/>
<circle cx="604.8" cy="826.24" r="4.2" fill="none" stroke="#c0106a" stroke-width="1.3"/>
<circle cx="631.1" cy="736.73" r="4.2" fill="none" stroke="#1a72c8" stroke-width="1.3"/>
<circle cx="631.1" cy="741.07" r="4.2" fill="none" stroke="#1a72c8" stroke-width="1.3"/>
<circle cx="631.1" cy="744.41" r="4.2" fill="none" stroke="#1a72c8" stroke-width="1.3"/>
<circle cx="631.1" cy="747.75" r="4.2" fill="none" stroke="#1a72c8" stroke-width="1.3"/>
<circle cx="631.1" cy="751.09" r="4.2" fill="none" stroke="#1a72c8" stroke-width="1.3"/>
<circle cx="631.1" cy="754.43" r="4.2" fill="none" stroke="#1a72c8" stroke-width="1.3"/>
<circle cx="631.1" cy="756.1" r="4.2" fill="none" stroke="#1a72c8" stroke-width="1.3"/>
<circle cx="631.1" cy="757.77" r="4.2" fill="none" stroke="#1a72c8" stroke-width="1.3"/>
<circle cx="631.1" cy="761.11" r="4.2" fill="none" stroke="#1a72c8" stroke-width="1.3"/>
<circle cx="631.1" cy="762.78" r="4.2" fill="none" stroke="#1a72c8" stroke-width="1.3"/>
<circle cx="631.1" cy="766.12" r="4.2" fill="none" stroke="#1a72c8" stroke-width="1.3"/>
<circle cx="631.1" cy="767.79" r="4.2" fill="none" stroke="#1a72c8" stroke-width="1.3"/>
<circle cx="631.1" cy="769.46" r="4.2" fill="none" stroke="#1a72c8" stroke-width="1.3"/>
<circle cx="631.1" cy="772.8" r="4.2" fill="none" stroke="#1a72c8" stroke-width="1.3"/>
<circle cx="631.1" cy="774.47" r="4.2" fill="none" stroke="#1a72c8" stroke-width="1.3"/>
<circle cx="631.1" cy="776.14" r="4.2" fill="none" stroke="#1a72c8" stroke-width="1.3"/>
<circle cx="631.1" cy="779.48" r="4.2" fill="none" stroke="#1a72c8" stroke-width="1.3"/>
<circle cx="631.1" cy="782.82" r="4.2" fill="none" stroke="#1a72c8" stroke-width="1.3"/>
<circle cx="631.1" cy="784.49" r="4.2" fill="none" stroke="#1a72c8" stroke-width="1.3"/>
<circle cx="631.1" cy="786.16" r="4.2" fill="none" stroke="#1a72c8" stroke-width="1.3"/>
<circle cx="631.1" cy="795.51" r="4.2" fill="none" stroke="#1a72c8" stroke-width="1.3"/>
<circle cx="657.4" cy="781.15" r="4.2" fill="none" stroke="#f08030" stroke-width="1.3"/>
<circle cx="657.4" cy="782.82" r="4.2" fill="none" stroke="#f08030" stroke-width="1.3"/>
<circle cx="657.4" cy="784.49" r="4.2" fill="none" stroke="#f08030" stroke-width="1.3"/>
<circle cx="657.4" cy="786.16" r="4.2" fill="none" stroke="#f08030" stroke-width="1.3"/>
<circle cx="657.4" cy="787.83" r="4.2" fill="none" stroke="#f08030" stroke-width="1.3"/>
<circle cx="657.4" cy="789.5" r="4.2" fill="none" stroke="#f08030" stroke-width="1.3"/>
<circle cx="657.4" cy="791.17" r="4.2" fill="none" stroke="#f08030" stroke-width="1.3"/>
<circle cx="657.4" cy="792.84" r="4.2" fill="none" stroke="#f08030" stroke-width="1.3"/>
<circle cx="657.4" cy="794.51" r="4.2" fill="none" stroke="#f08030" stroke-width="1.3"/>
<circle cx="657.4" cy="796.18" r="4.2" fill="none" stroke="#f08030" stroke-width="1.3"/>
<circle cx="657.4" cy="797.85" r="4.2" fill="none" stroke="#f08030" stroke-width="1.3"/>
<rect x="596.4" y="792.3" width="16.8" height="5" fill="#c0106a"/>
<rect x="602.3" y="785.6" width="5" height="18.4" fill="#c0106a"/>
<rect x="622.4" y="762.6" width="17.4" height="5" fill="#1a72c8"/>
<rect x="628.6" y="755.5" width="5" height="19" fill="#1a72c8"/>
<rect x="649" y="788.4" width="16.8" height="5" fill="#f08030"/>
<rect x="654.9" y="783.5" width="5" height="14" fill="#f08030"/>
<line x1="604" y1="726" x2="628.9" y2="726" stroke="#555" stroke-width="1.8"/>
<line x1="633" y1="726" x2="657.8" y2="726" stroke="#555" stroke-width="1.8"/>
<line x1="611.3" y1="716.4" x2="611.3" y2="723.2" stroke="#111" stroke-width="1.3"/>
<line x1="608.36" y1="718.1" x2="614.24" y2="721.5" stroke="#111" stroke-width="1.3"/>
<line x1="608.36" y1="721.5" x2="614.24" y2="718.1" stroke="#111" stroke-width="1.3"/>
<line x1="621" y1="716.4" x2="621" y2="723.2" stroke="#111" stroke-width="1.3"/>
<line x1="618.06" y1="718.1" x2="623.94" y2="721.5" stroke="#111" stroke-width="1.3"/>
<line x1="618.06" y1="721.5" x2="623.94" y2="718.1" stroke="#111" stroke-width="1.3"/>
<line x1="640" y1="716.4" x2="640" y2="723.2" stroke="#111" stroke-width="1.3"/>
<line x1="637.06" y1="718.1" x2="642.94" y2="721.5" stroke="#111" stroke-width="1.3"/>
<line x1="637.06" y1="721.5" x2="642.94" y2="718.1" stroke="#111" stroke-width="1.3"/>
<line x1="649.8" y1="716.4" x2="649.8" y2="723.2" stroke="#111" stroke-width="1.3"/>
<line x1="646.86" y1="718.1" x2="652.74" y2="721.5" stroke="#111" stroke-width="1.3"/>
<line x1="646.86" y1="721.5" x2="652.74" y2="718.1" stroke="#111" stroke-width="1.3"/>
<text x="609" y="852.8" font-size="12.4" fill="#c0106a" text-anchor="middle" transform="rotate(-45 609 852.8)">Early</text>
<text x="635.2" y="852.6" font-size="12.4" fill="#1a72c8" text-anchor="middle" transform="rotate(-45 635.2 852.6)">Late</text>
<text x="668.3" y="844.6" font-size="12.4" fill="#f08030" text-anchor="middle" transform="rotate(-45 668.3 844.6)">Shuffled</text>
</g></svg>
</body></html>
